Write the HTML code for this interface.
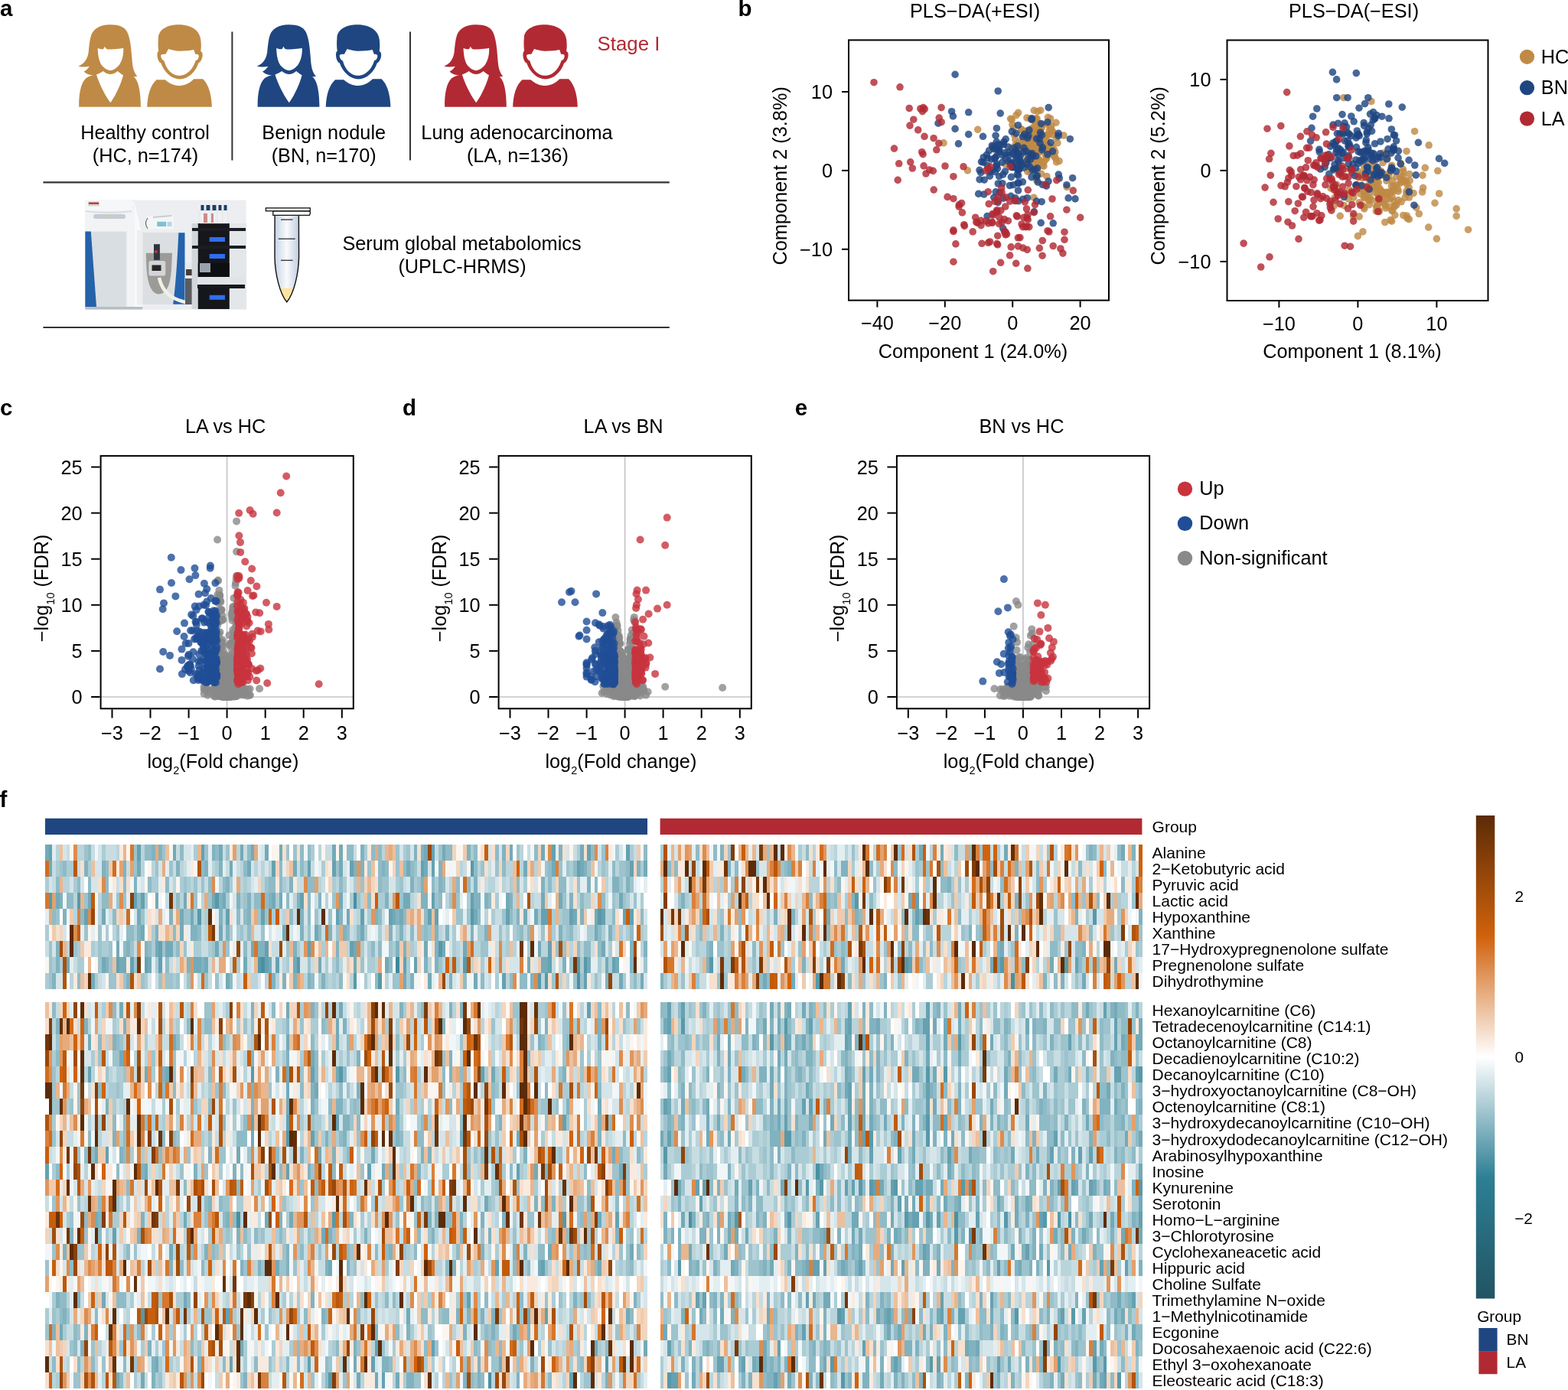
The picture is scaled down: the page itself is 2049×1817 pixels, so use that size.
<!DOCTYPE html><html><head><meta charset="utf-8"><title>Figure</title><style>html,body{margin:0;padding:0;background:#fff;overflow:hidden;width:2049px;height:1817px;}svg{display:block;}</style></head><body><svg width="2049" height="1817" viewBox="0 0 2049 1817" font-family="'Liberation Sans', Arial, Helvetica, sans-serif">
<rect width="2049" height="1817" fill="#fff"/>
<text x="0.0" y="21.2" font-size="29.5" text-anchor="start" fill="#000" font-weight="bold" >a</text>
<g transform="translate(90.00,20) scale(0.09785)" fill="#BF8A46"><path d="M300,260 C340,170 420,128 540,125 C660,122 745,150 780,225 C818,305 832,430 842,570 C850,690 862,760 915,815 C885,818 872,820 860,824 L330,800 C280,800 235,785 200,750 C230,735 255,712 275,682 C220,692 165,692 125,680 C205,650 248,585 262,495 C272,400 278,320 300,260 Z"/><path d="M135,1225 C130,1050 160,905 225,842 C255,818 290,806 330,796 L860,816 C925,868 955,980 960,1225 Z"/><path fill="#fff" d="M385,440 C420,452 445,456 462,450 L480,416 L494,442 L515,456 C600,456 680,449 728,438 C732,520 716,600 672,665 C632,712 592,736 555,738 C518,736 472,708 440,670 C404,620 388,540 385,440 Z"/><path fill="#fff" d="M368,792 C400,780 432,762 458,745 C490,770 522,786 555,788 C588,786 620,770 650,745 C680,766 702,786 726,800 C700,900 640,1050 555,1168 C470,1050 400,900 368,792 Z"/><path d="M1195,300 C1200,180 1330,125 1465,125 C1620,125 1742,190 1760,320 C1770,400 1766,450 1760,480 C1785,490 1790,520 1782,560 C1772,600 1752,628 1730,640 C1690,762 1590,852 1480,854 C1370,852 1272,762 1230,640 C1202,628 1186,590 1181,545 C1178,505 1185,486 1198,478 C1190,420 1190,360 1195,300 Z"/><path fill="#fff" d="M1290,520 L1330,450 C1400,470 1440,478 1480,478 C1560,478 1620,470 1668,460 L1690,520 C1712,514 1732,522 1736,540 C1736,580 1716,600 1692,606 C1670,692 1590,806 1480,806 C1370,806 1292,700 1274,610 C1250,600 1230,580 1228,540 C1228,522 1260,514 1290,520 Z"/><path d="M1045,1225 C1050,1062 1090,932 1170,860 L1285,860 C1340,910 1410,940 1480,940 C1550,940 1620,905 1670,852 L1790,852 C1870,930 1905,1062 1910,1225 Z"/></g>
<g transform="translate(323.50,20) scale(0.09785)" fill="#1F4681"><path d="M300,260 C340,170 420,128 540,125 C660,122 745,150 780,225 C818,305 832,430 842,570 C850,690 862,760 915,815 C885,818 872,820 860,824 L330,800 C280,800 235,785 200,750 C230,735 255,712 275,682 C220,692 165,692 125,680 C205,650 248,585 262,495 C272,400 278,320 300,260 Z"/><path d="M135,1225 C130,1050 160,905 225,842 C255,818 290,806 330,796 L860,816 C925,868 955,980 960,1225 Z"/><path fill="#fff" d="M385,440 C420,452 445,456 462,450 L480,416 L494,442 L515,456 C600,456 680,449 728,438 C732,520 716,600 672,665 C632,712 592,736 555,738 C518,736 472,708 440,670 C404,620 388,540 385,440 Z"/><path fill="#fff" d="M368,792 C400,780 432,762 458,745 C490,770 522,786 555,788 C588,786 620,770 650,745 C680,766 702,786 726,800 C700,900 640,1050 555,1168 C470,1050 400,900 368,792 Z"/><path d="M1195,300 C1200,180 1330,125 1465,125 C1620,125 1742,190 1760,320 C1770,400 1766,450 1760,480 C1785,490 1790,520 1782,560 C1772,600 1752,628 1730,640 C1690,762 1590,852 1480,854 C1370,852 1272,762 1230,640 C1202,628 1186,590 1181,545 C1178,505 1185,486 1198,478 C1190,420 1190,360 1195,300 Z"/><path fill="#fff" d="M1290,520 L1330,450 C1400,470 1440,478 1480,478 C1560,478 1620,470 1668,460 L1690,520 C1712,514 1732,522 1736,540 C1736,580 1716,600 1692,606 C1670,692 1590,806 1480,806 C1370,806 1292,700 1274,610 C1250,600 1230,580 1228,540 C1228,522 1260,514 1290,520 Z"/><path d="M1045,1225 C1050,1062 1090,932 1170,860 L1285,860 C1340,910 1410,940 1480,940 C1550,940 1620,905 1670,852 L1790,852 C1870,930 1905,1062 1910,1225 Z"/></g>
<g transform="translate(567.90,20) scale(0.09785)" fill="#B12A33"><path d="M300,260 C340,170 420,128 540,125 C660,122 745,150 780,225 C818,305 832,430 842,570 C850,690 862,760 915,815 C885,818 872,820 860,824 L330,800 C280,800 235,785 200,750 C230,735 255,712 275,682 C220,692 165,692 125,680 C205,650 248,585 262,495 C272,400 278,320 300,260 Z"/><path d="M135,1225 C130,1050 160,905 225,842 C255,818 290,806 330,796 L860,816 C925,868 955,980 960,1225 Z"/><path fill="#fff" d="M385,440 C420,452 445,456 462,450 L480,416 L494,442 L515,456 C600,456 680,449 728,438 C732,520 716,600 672,665 C632,712 592,736 555,738 C518,736 472,708 440,670 C404,620 388,540 385,440 Z"/><path fill="#fff" d="M368,792 C400,780 432,762 458,745 C490,770 522,786 555,788 C588,786 620,770 650,745 C680,766 702,786 726,800 C700,900 640,1050 555,1168 C470,1050 400,900 368,792 Z"/><path d="M1195,300 C1200,180 1330,125 1465,125 C1620,125 1742,190 1760,320 C1770,400 1766,450 1760,480 C1785,490 1790,520 1782,560 C1772,600 1752,628 1730,640 C1690,762 1590,852 1480,854 C1370,852 1272,762 1230,640 C1202,628 1186,590 1181,545 C1178,505 1185,486 1198,478 C1190,420 1190,360 1195,300 Z"/><path fill="#fff" d="M1290,520 L1330,450 C1400,470 1440,478 1480,478 C1560,478 1620,470 1668,460 L1690,520 C1712,514 1732,522 1736,540 C1736,580 1716,600 1692,606 C1670,692 1590,806 1480,806 C1370,806 1292,700 1274,610 C1250,600 1230,580 1228,540 C1228,522 1260,514 1290,520 Z"/><path d="M1045,1225 C1050,1062 1090,932 1170,860 L1285,860 C1340,910 1410,940 1480,940 C1550,940 1620,905 1670,852 L1790,852 C1870,930 1905,1062 1910,1225 Z"/></g>
<line x1="303.4" y1="41.5" x2="303.4" y2="209.6" stroke="#333" stroke-width="2"/>
<line x1="536" y1="41.5" x2="536" y2="209.6" stroke="#333" stroke-width="2"/>
<text x="780.6" y="65.5" font-size="25.8" text-anchor="start" fill="#B22A33" >Stage I</text>
<text x="189.5" y="182.1" font-size="25.3" text-anchor="middle" fill="#000" >Healthy control</text>
<text x="190.0" y="211.8" font-size="25.3" text-anchor="middle" fill="#000" >(HC, n=174)</text>
<text x="423.2" y="182.0" font-size="25.3" text-anchor="middle" fill="#000" >Benign nodule</text>
<text x="423.2" y="211.9" font-size="25.3" text-anchor="middle" fill="#000" >(BN, n=170)</text>
<text x="675.5" y="182.0" font-size="25.3" text-anchor="middle" fill="#000" >Lung adenocarcinoma</text>
<text x="676.4" y="211.8" font-size="25.3" text-anchor="middle" fill="#000" >(LA, n=136)</text>
<line x1="56.4" y1="238.4" x2="874.8" y2="238.4" stroke="#333" stroke-width="2.2"/>
<line x1="56.4" y1="428.0" x2="874.8" y2="428.0" stroke="#333" stroke-width="2.2"/>
<text x="603.5" y="327.3" font-size="25.3" text-anchor="middle" fill="#000" >Serum global metabolomics</text>
<text x="604.0" y="357.1" font-size="25.3" text-anchor="middle" fill="#000" >(UPLC-HRMS)</text>
<g><rect x="111.3" y="261.5" width="210.4" height="143.3" fill="#eceef1"/><path d="M111.3,262 L172,262 L176,266 L182,300 L186,302 L186,402 L111.3,402 Z" fill="#f1f3f5"/><path d="M170,262 L176,266 L184,300 L186,302 L186,402 L176,402 L176,270 Z" fill="#f8f9fa"/><rect x="112" y="262" width="60" height="13" fill="#f6f7f8"/><path d="M112,275 Q142,279 172,275 L172,277 Q142,281 112,277 Z" fill="#d9dde1"/><rect x="115" y="263.5" width="15" height="6" fill="#d3d6da"/><rect x="116" y="264.5" width="13" height="2.5" fill="#c73a3a"/><rect x="122" y="280" width="42" height="6" rx="3" fill="#c4cbd2"/><circle cx="132.5" cy="283" r="0.7" fill="#d9e36a"/><circle cx="136.8" cy="283" r="0.7" fill="#d9e36a"/><circle cx="141.1" cy="283" r="0.7" fill="#d9e36a"/><circle cx="145.4" cy="283" r="0.7" fill="#d9e36a"/><rect x="118.8" y="302.7" width="46.5" height="98.5" fill="#d9dee2"/><path d="M111.3,302.5 L118.8,302.5 L126,401 L111.3,401 Z" fill="#2462aa"/><rect x="111.3" y="401" width="75" height="3.5" fill="#b9bec4"/><rect x="179.1" y="301" width="62.4" height="97.6" fill="#eceef0"/><rect x="186.5" y="304" width="47" height="94" fill="#dcdfe2"/><path d="M233.3,304.3 L241.5,304.3 L241.5,397.8 L226.2,397.8 Q231,360 233.3,304.3 Z" fill="#2463ad"/><path d="M190.7,330.8 L225,330.8 L224,352 Q222,384 207.5,384.5 Q194,384 191.5,352 Z" fill="#9c9b98"/><rect x="194.4" y="341.1" width="21.9" height="19.5" rx="2.5" fill="#d3d5d7"/><rect x="198.5" y="346.5" width="12" height="7.5" fill="#262626"/><rect x="201" y="319.2" width="7.9" height="20.7" fill="#2f3440"/><circle cx="204" cy="329" r="2" fill="#c33"/><path d="M208,363 Q212,382 228,390 Q238,395 249,396" stroke="#f1f0e6" stroke-width="4.5" fill="none"/><rect x="242" y="343" width="10.5" height="21" fill="#e8eaec"/><rect x="243" y="352" width="8" height="8" fill="#4a3c36"/><rect x="242" y="364" width="10" height="34" fill="#5a5c60"/><rect x="191.1" y="282.8" width="36" height="16.6" rx="2" fill="#f3f5f6"/><rect x="205.2" y="289.8" width="11.9" height="6.2" fill="#80c0cf"/><rect x="218.5" y="290" width="6" height="6" fill="#b7d3ea"/><path d="M193,285 Q188,292 193,299" stroke="#222" stroke-width="0.8" fill="none"/><path d="M200,284 L224,282" stroke="#c9ccce" stroke-width="2"/><rect x="250.6" y="292" width="71" height="112" fill="#d3d7db"/><rect x="258.8" y="292" width="41" height="112" fill="#15171c"/><rect x="300" y="292" width="21.5" height="112" fill="#e4e7ea"/><rect x="251" y="298" width="70" height="4" fill="#1b1d22"/><rect x="251" y="321" width="70" height="4" fill="#1b1d22"/><rect x="273.7" y="310" width="20.3" height="6" fill="#2f6ef0"/><rect x="273.7" y="332" width="20.3" height="6" fill="#2f6ef0"/><rect x="273.7" y="385.8" width="20.3" height="6" fill="#2f6ef0"/><rect x="258" y="362" width="62" height="10" fill="#e1e4e7"/><rect x="258" y="372" width="62" height="5" fill="#17191d"/><rect x="258.8" y="344" width="41" height="18" fill="#0e0f12"/><rect x="261" y="344" width="14" height="12" fill="#9aa3ab"/><rect x="261" y="275" width="7" height="17" fill="#eef0f2" stroke="#d5d8dc" stroke-width="0.4"/><rect x="262.5" y="268" width="4" height="7" fill="#1f3e66"/><rect x="268" y="275" width="8" height="17" fill="#eef0f2" stroke="#d5d8dc" stroke-width="0.4"/><rect x="269.5" y="268" width="5" height="7" fill="#1f3e66"/><rect x="276" y="275" width="8" height="17" fill="#eef0f2" stroke="#d5d8dc" stroke-width="0.4"/><rect x="277.5" y="268" width="5" height="7" fill="#1f3e66"/><rect x="284" y="275" width="7" height="17" fill="#eef0f2" stroke="#d5d8dc" stroke-width="0.4"/><rect x="285.5" y="268" width="4" height="7" fill="#1f3e66"/><rect x="291" y="275" width="7" height="17" fill="#eef0f2" stroke="#d5d8dc" stroke-width="0.4"/><rect x="292.5" y="268" width="4" height="7" fill="#1f3e66"/><rect x="266" y="279" width="5" height="12" fill="#c46060" opacity="0.7"/><rect x="276" y="279" width="3" height="12" fill="#c46060" opacity="0.7"/></g>
<defs><linearGradient id="tg" x1="0" x2="1" y1="0" y2="0"><stop offset="0" stop-color="#c6d3e6"/><stop offset="0.5" stop-color="#f8fafd"/><stop offset="1" stop-color="#c0cde0"/></linearGradient><clipPath id="tclip"><path d="M359.1,281.3 L390.4,281.3 L390.6,336 C390.2,358 384,384 374.8,394.8 C365.6,384 359.4,358 359,336 Z"/></clipPath></defs><path d="M359.1,281.3 L390.4,281.3 L390.6,336 C390.2,358 384,384 374.8,394.8 C365.6,384 359.4,358 359,336 Z" fill="url(#tg)"/><rect x="355" y="376.8" width="40" height="20" fill="#fce3a2" clip-path="url(#tclip)"/><path d="M359.1,281.3 L390.4,281.3 L390.6,336 C390.2,358 384,384 374.8,394.8 C365.6,384 359.4,358 359,336 Z" fill="none" stroke="#111" stroke-width="1.4"/><path d="M356.8,275.8 L403.5,275.8 Q405.5,276 405.5,278.5 L404.5,281.3 L356.8,281.3 Z" fill="#fff" stroke="#111" stroke-width="1.3"/><rect x="347.4" y="271.9" width="57.9" height="3.9" fill="#fff" stroke="#111" stroke-width="1.3"/><g stroke="#222" stroke-width="1.2"><line x1="367" y1="287.1" x2="382.6" y2="287.1"/><line x1="363.8" y1="312.2" x2="385.7" y2="312.2"/><line x1="367" y1="340.3" x2="382.6" y2="340.3"/></g>
<text x="964.6" y="21.3" font-size="29.5" text-anchor="start" fill="#000" font-weight="bold" >b</text>
<clipPath id="clippESI"><rect x="1109" y="52.4" width="340" height="340.20000000000005"/></clipPath>
<g clip-path="url(#clippESI)">
<g fill="#BF8A46" fill-opacity="0.82"><circle cx="1277.7" cy="169.4" r="4.8"/><circle cx="1233.0" cy="186.9" r="4.8"/><circle cx="1264.4" cy="222.9" r="4.8"/><circle cx="1341.4" cy="198.9" r="4.8"/><circle cx="1348.7" cy="181.6" r="4.8"/><circle cx="1339.7" cy="188.6" r="4.8"/><circle cx="1357.4" cy="197.4" r="4.8"/><circle cx="1378.9" cy="198.9" r="4.8"/><circle cx="1348.1" cy="174.3" r="4.8"/><circle cx="1345.9" cy="194.4" r="4.8"/><circle cx="1364.6" cy="191.2" r="4.8"/><circle cx="1362.3" cy="187.4" r="4.8"/><circle cx="1358.1" cy="162.5" r="4.8"/><circle cx="1340.7" cy="173.2" r="4.8"/><circle cx="1355.9" cy="179.6" r="4.8"/><circle cx="1368.0" cy="200.1" r="4.8"/><circle cx="1333.8" cy="217.8" r="4.8"/><circle cx="1348.7" cy="167.4" r="4.8"/><circle cx="1324.4" cy="167.0" r="4.8"/><circle cx="1334.7" cy="191.0" r="4.8"/><circle cx="1325.4" cy="176.2" r="4.8"/><circle cx="1352.4" cy="171.0" r="4.8"/><circle cx="1335.1" cy="170.0" r="4.8"/><circle cx="1360.9" cy="168.0" r="4.8"/><circle cx="1359.0" cy="197.8" r="4.8"/><circle cx="1353.2" cy="155.2" r="4.8"/><circle cx="1314.1" cy="214.9" r="4.8"/><circle cx="1347.3" cy="169.3" r="4.8"/><circle cx="1355.5" cy="177.2" r="4.8"/><circle cx="1358.3" cy="169.0" r="4.8"/><circle cx="1330.6" cy="147.3" r="4.8"/><circle cx="1348.3" cy="155.8" r="4.8"/><circle cx="1339.9" cy="212.7" r="4.8"/><circle cx="1342.8" cy="224.4" r="4.8"/><circle cx="1374.2" cy="170.3" r="4.8"/><circle cx="1342.8" cy="209.8" r="4.8"/><circle cx="1355.8" cy="188.2" r="4.8"/><circle cx="1371.2" cy="169.8" r="4.8"/><circle cx="1346.5" cy="223.4" r="4.8"/><circle cx="1354.5" cy="233.5" r="4.8"/><circle cx="1358.2" cy="182.3" r="4.8"/><circle cx="1357.4" cy="187.0" r="4.8"/><circle cx="1335.8" cy="193.2" r="4.8"/><circle cx="1357.6" cy="187.1" r="4.8"/><circle cx="1379.2" cy="206.5" r="4.8"/><circle cx="1330.4" cy="220.6" r="4.8"/><circle cx="1370.8" cy="191.5" r="4.8"/><circle cx="1358.4" cy="208.9" r="4.8"/><circle cx="1345.6" cy="223.4" r="4.8"/><circle cx="1389.9" cy="177.0" r="4.8"/><circle cx="1369.2" cy="189.2" r="4.8"/><circle cx="1336.2" cy="179.1" r="4.8"/><circle cx="1357.6" cy="209.3" r="4.8"/><circle cx="1366.0" cy="202.1" r="4.8"/><circle cx="1353.2" cy="209.5" r="4.8"/><circle cx="1367.8" cy="207.1" r="4.8"/><circle cx="1355.2" cy="183.7" r="4.8"/><circle cx="1367.6" cy="204.8" r="4.8"/><circle cx="1380.5" cy="180.2" r="4.8"/><circle cx="1345.0" cy="180.6" r="4.8"/><circle cx="1359.8" cy="144.2" r="4.8"/><circle cx="1348.6" cy="218.0" r="4.8"/><circle cx="1358.5" cy="168.7" r="4.8"/><circle cx="1336.4" cy="189.8" r="4.8"/><circle cx="1346.6" cy="188.2" r="4.8"/><circle cx="1353.1" cy="219.2" r="4.8"/><circle cx="1371.4" cy="197.9" r="4.8"/><circle cx="1375.6" cy="171.9" r="4.8"/><circle cx="1334.1" cy="189.7" r="4.8"/><circle cx="1343.0" cy="186.2" r="4.8"/><circle cx="1367.2" cy="194.2" r="4.8"/><circle cx="1322.9" cy="163.0" r="4.8"/><circle cx="1348.6" cy="188.4" r="4.8"/><circle cx="1354.7" cy="235.5" r="4.8"/><circle cx="1377.5" cy="202.9" r="4.8"/><circle cx="1367.9" cy="230.5" r="4.8"/><circle cx="1350.9" cy="258.2" r="4.8"/><circle cx="1350.2" cy="199.4" r="4.8"/><circle cx="1352.1" cy="159.1" r="4.8"/><circle cx="1381.9" cy="186.9" r="4.8"/><circle cx="1349.2" cy="213.3" r="4.8"/><circle cx="1351.2" cy="208.2" r="4.8"/><circle cx="1362.3" cy="163.5" r="4.8"/><circle cx="1354.3" cy="184.5" r="4.8"/><circle cx="1353.0" cy="186.9" r="4.8"/><circle cx="1337.6" cy="189.1" r="4.8"/><circle cx="1356.2" cy="187.1" r="4.8"/><circle cx="1348.9" cy="170.5" r="4.8"/><circle cx="1375.9" cy="176.0" r="4.8"/><circle cx="1367.3" cy="183.3" r="4.8"/><circle cx="1355.9" cy="210.4" r="4.8"/><circle cx="1367.6" cy="176.9" r="4.8"/><circle cx="1350.6" cy="202.7" r="4.8"/><circle cx="1374.0" cy="164.3" r="4.8"/><circle cx="1356.3" cy="215.4" r="4.8"/><circle cx="1366.1" cy="190.9" r="4.8"/><circle cx="1334.7" cy="188.1" r="4.8"/><circle cx="1362.2" cy="216.5" r="4.8"/><circle cx="1328.0" cy="150.7" r="4.8"/><circle cx="1322.2" cy="156.4" r="4.8"/><circle cx="1351.2" cy="197.9" r="4.8"/><circle cx="1341.2" cy="171.2" r="4.8"/><circle cx="1359.1" cy="179.7" r="4.8"/><circle cx="1394.1" cy="244.4" r="4.8"/><circle cx="1342.4" cy="182.5" r="4.8"/><circle cx="1345.9" cy="189.2" r="4.8"/><circle cx="1359.8" cy="186.1" r="4.8"/><circle cx="1364.6" cy="211.2" r="4.8"/><circle cx="1353.4" cy="193.7" r="4.8"/><circle cx="1352.9" cy="191.8" r="4.8"/><circle cx="1368.1" cy="162.2" r="4.8"/><circle cx="1365.1" cy="180.7" r="4.8"/><circle cx="1339.0" cy="188.0" r="4.8"/><circle cx="1355.0" cy="154.9" r="4.8"/><circle cx="1356.9" cy="199.9" r="4.8"/><circle cx="1338.6" cy="196.3" r="4.8"/><circle cx="1360.7" cy="227.2" r="4.8"/><circle cx="1341.9" cy="154.0" r="4.8"/><circle cx="1372.7" cy="167.1" r="4.8"/><circle cx="1359.6" cy="168.1" r="4.8"/><circle cx="1357.8" cy="173.5" r="4.8"/><circle cx="1346.4" cy="185.5" r="4.8"/><circle cx="1354.4" cy="183.3" r="4.8"/><circle cx="1322.8" cy="193.4" r="4.8"/><circle cx="1337.3" cy="192.3" r="4.8"/><circle cx="1362.4" cy="186.7" r="4.8"/><circle cx="1320.6" cy="155.2" r="4.8"/><circle cx="1370.6" cy="175.9" r="4.8"/><circle cx="1327.0" cy="189.2" r="4.8"/><circle cx="1369.1" cy="200.4" r="4.8"/><circle cx="1342.1" cy="201.6" r="4.8"/><circle cx="1369.4" cy="153.3" r="4.8"/><circle cx="1358.5" cy="177.0" r="4.8"/><circle cx="1330.5" cy="186.5" r="4.8"/><circle cx="1377.3" cy="195.4" r="4.8"/><circle cx="1380.6" cy="211.9" r="4.8"/><circle cx="1355.2" cy="189.4" r="4.8"/><circle cx="1351.7" cy="169.0" r="4.8"/><circle cx="1353.7" cy="196.4" r="4.8"/><circle cx="1340.0" cy="192.8" r="4.8"/><circle cx="1374.8" cy="192.7" r="4.8"/><circle cx="1347.2" cy="185.5" r="4.8"/><circle cx="1355.5" cy="222.3" r="4.8"/><circle cx="1343.0" cy="193.0" r="4.8"/><circle cx="1345.8" cy="206.4" r="4.8"/><circle cx="1334.9" cy="168.8" r="4.8"/><circle cx="1377.5" cy="204.6" r="4.8"/><circle cx="1353.8" cy="175.4" r="4.8"/><circle cx="1372.6" cy="155.0" r="4.8"/><circle cx="1356.6" cy="194.7" r="4.8"/><circle cx="1344.7" cy="200.9" r="4.8"/><circle cx="1350.9" cy="183.8" r="4.8"/><circle cx="1346.9" cy="188.0" r="4.8"/><circle cx="1356.5" cy="209.4" r="4.8"/><circle cx="1350.0" cy="178.0" r="4.8"/><circle cx="1351.3" cy="144.4" r="4.8"/><circle cx="1333.2" cy="193.5" r="4.8"/><circle cx="1342.8" cy="192.3" r="4.8"/><circle cx="1384.1" cy="210.5" r="4.8"/><circle cx="1345.1" cy="181.0" r="4.8"/><circle cx="1338.6" cy="214.9" r="4.8"/><circle cx="1362.0" cy="211.8" r="4.8"/><circle cx="1380.0" cy="160.3" r="4.8"/><circle cx="1331.9" cy="207.5" r="4.8"/><circle cx="1352.8" cy="164.5" r="4.8"/><circle cx="1345.7" cy="155.0" r="4.8"/><circle cx="1326.8" cy="182.3" r="4.8"/><circle cx="1368.7" cy="176.0" r="4.8"/><circle cx="1356.0" cy="145.7" r="4.8"/><circle cx="1357.5" cy="192.2" r="4.8"/><circle cx="1343.7" cy="200.7" r="4.8"/><circle cx="1364.0" cy="217.2" r="4.8"/><circle cx="1347.3" cy="187.0" r="4.8"/><circle cx="1353.9" cy="156.0" r="4.8"/></g>
<g fill="#1F4681" fill-opacity="0.82"><circle cx="1248.1" cy="97.4" r="4.8"/><circle cx="1304.2" cy="119.0" r="4.8"/><circle cx="1243.6" cy="145.7" r="4.8"/><circle cx="1245.4" cy="151.9" r="4.8"/><circle cx="1226.0" cy="161.2" r="4.8"/><circle cx="1248.1" cy="168.4" r="4.8"/><circle cx="1265.7" cy="175.6" r="4.8"/><circle cx="1252.5" cy="187.9" r="4.8"/><circle cx="1398.3" cy="181.7" r="4.8"/><circle cx="1405.0" cy="259.9" r="4.8"/><circle cx="1396.1" cy="258.9" r="4.8"/><circle cx="1376.2" cy="291.8" r="4.8"/><circle cx="1345.8" cy="218.1" r="4.8"/><circle cx="1383.3" cy="228.1" r="4.8"/><circle cx="1348.3" cy="203.1" r="4.8"/><circle cx="1333.6" cy="210.7" r="4.8"/><circle cx="1285.8" cy="254.0" r="4.8"/><circle cx="1342.7" cy="208.4" r="4.8"/><circle cx="1278.7" cy="253.4" r="4.8"/><circle cx="1293.4" cy="230.2" r="4.8"/><circle cx="1355.5" cy="219.9" r="4.8"/><circle cx="1351.4" cy="276.8" r="4.8"/><circle cx="1327.9" cy="207.6" r="4.8"/><circle cx="1285.2" cy="205.7" r="4.8"/><circle cx="1321.9" cy="215.6" r="4.8"/><circle cx="1313.4" cy="224.1" r="4.8"/><circle cx="1349.5" cy="222.5" r="4.8"/><circle cx="1393.9" cy="241.7" r="4.8"/><circle cx="1338.0" cy="219.2" r="4.8"/><circle cx="1310.7" cy="228.2" r="4.8"/><circle cx="1300.0" cy="207.6" r="4.8"/><circle cx="1330.5" cy="249.0" r="4.8"/><circle cx="1327.2" cy="203.0" r="4.8"/><circle cx="1300.5" cy="206.0" r="4.8"/><circle cx="1335.2" cy="215.1" r="4.8"/><circle cx="1300.5" cy="224.6" r="4.8"/><circle cx="1362.5" cy="192.9" r="4.8"/><circle cx="1361.2" cy="263.7" r="4.8"/><circle cx="1361.8" cy="195.9" r="4.8"/><circle cx="1319.0" cy="202.8" r="4.8"/><circle cx="1346.1" cy="201.5" r="4.8"/><circle cx="1328.4" cy="198.3" r="4.8"/><circle cx="1321.4" cy="231.4" r="4.8"/><circle cx="1322.7" cy="218.8" r="4.8"/><circle cx="1296.4" cy="190.2" r="4.8"/><circle cx="1292.5" cy="196.8" r="4.8"/><circle cx="1353.8" cy="204.0" r="4.8"/><circle cx="1326.8" cy="258.9" r="4.8"/><circle cx="1338.0" cy="193.4" r="4.8"/><circle cx="1359.5" cy="173.2" r="4.8"/><circle cx="1284.5" cy="178.3" r="4.8"/><circle cx="1310.6" cy="203.1" r="4.8"/><circle cx="1336.8" cy="260.2" r="4.8"/><circle cx="1342.8" cy="180.5" r="4.8"/><circle cx="1321.7" cy="215.2" r="4.8"/><circle cx="1360.2" cy="291.3" r="4.8"/><circle cx="1337.8" cy="198.5" r="4.8"/><circle cx="1298.8" cy="258.2" r="4.8"/><circle cx="1306.5" cy="251.9" r="4.8"/><circle cx="1354.1" cy="230.8" r="4.8"/><circle cx="1344.8" cy="170.0" r="4.8"/><circle cx="1280.0" cy="222.4" r="4.8"/><circle cx="1369.0" cy="201.9" r="4.8"/><circle cx="1348.4" cy="154.8" r="4.8"/><circle cx="1368.9" cy="159.7" r="4.8"/><circle cx="1321.5" cy="213.8" r="4.8"/><circle cx="1323.9" cy="218.3" r="4.8"/><circle cx="1301.2" cy="250.8" r="4.8"/><circle cx="1401.6" cy="232.7" r="4.8"/><circle cx="1327.2" cy="197.0" r="4.8"/><circle cx="1375.5" cy="197.9" r="4.8"/><circle cx="1314.3" cy="207.0" r="4.8"/><circle cx="1336.5" cy="178.8" r="4.8"/><circle cx="1286.2" cy="235.2" r="4.8"/><circle cx="1321.5" cy="212.3" r="4.8"/><circle cx="1359.0" cy="187.2" r="4.8"/><circle cx="1297.7" cy="191.9" r="4.8"/><circle cx="1361.4" cy="176.4" r="4.8"/><circle cx="1341.3" cy="197.9" r="4.8"/><circle cx="1303.4" cy="220.4" r="4.8"/><circle cx="1318.3" cy="199.0" r="4.8"/><circle cx="1319.5" cy="242.5" r="4.8"/><circle cx="1330.7" cy="262.8" r="4.8"/><circle cx="1317.3" cy="192.0" r="4.8"/><circle cx="1309.4" cy="212.3" r="4.8"/><circle cx="1323.7" cy="200.7" r="4.8"/><circle cx="1303.9" cy="264.7" r="4.8"/><circle cx="1296.7" cy="222.2" r="4.8"/><circle cx="1330.7" cy="229.7" r="4.8"/><circle cx="1356.2" cy="238.1" r="4.8"/><circle cx="1290.1" cy="282.5" r="4.8"/><circle cx="1332.1" cy="221.2" r="4.8"/><circle cx="1314.2" cy="181.9" r="4.8"/><circle cx="1305.3" cy="198.4" r="4.8"/><circle cx="1355.4" cy="229.7" r="4.8"/><circle cx="1317.8" cy="211.0" r="4.8"/><circle cx="1373.1" cy="186.4" r="4.8"/><circle cx="1310.7" cy="298.6" r="4.8"/><circle cx="1342.6" cy="214.5" r="4.8"/><circle cx="1325.8" cy="193.2" r="4.8"/><circle cx="1311.4" cy="188.8" r="4.8"/><circle cx="1348.1" cy="156.3" r="4.8"/><circle cx="1327.8" cy="174.3" r="4.8"/><circle cx="1348.6" cy="200.6" r="4.8"/><circle cx="1330.7" cy="200.9" r="4.8"/><circle cx="1302.3" cy="185.4" r="4.8"/><circle cx="1329.2" cy="227.8" r="4.8"/><circle cx="1333.5" cy="211.8" r="4.8"/><circle cx="1358.3" cy="181.6" r="4.8"/><circle cx="1307.2" cy="148.1" r="4.8"/><circle cx="1331.0" cy="215.6" r="4.8"/><circle cx="1284.9" cy="212.1" r="4.8"/><circle cx="1349.9" cy="204.2" r="4.8"/><circle cx="1302.4" cy="167.7" r="4.8"/><circle cx="1282.5" cy="211.5" r="4.8"/><circle cx="1330.4" cy="163.7" r="4.8"/><circle cx="1362.3" cy="241.4" r="4.8"/><circle cx="1290.3" cy="216.5" r="4.8"/><circle cx="1302.2" cy="216.9" r="4.8"/><circle cx="1311.7" cy="185.5" r="4.8"/><circle cx="1301.1" cy="177.2" r="4.8"/><circle cx="1342.4" cy="258.7" r="4.8"/><circle cx="1309.9" cy="239.7" r="4.8"/><circle cx="1312.3" cy="199.8" r="4.8"/><circle cx="1348.0" cy="231.6" r="4.8"/><circle cx="1311.3" cy="259.1" r="4.8"/><circle cx="1343.9" cy="177.4" r="4.8"/><circle cx="1305.4" cy="194.8" r="4.8"/><circle cx="1298.8" cy="194.8" r="4.8"/><circle cx="1281.7" cy="225.7" r="4.8"/><circle cx="1383.0" cy="177.7" r="4.8"/><circle cx="1323.3" cy="218.2" r="4.8"/><circle cx="1338.7" cy="175.6" r="4.8"/><circle cx="1331.2" cy="239.6" r="4.8"/><circle cx="1336.4" cy="237.8" r="4.8"/><circle cx="1333.4" cy="204.0" r="4.8"/><circle cx="1384.3" cy="233.0" r="4.8"/><circle cx="1303.6" cy="189.0" r="4.8"/><circle cx="1289.4" cy="202.3" r="4.8"/><circle cx="1304.3" cy="240.0" r="4.8"/><circle cx="1295.5" cy="208.2" r="4.8"/><circle cx="1352.5" cy="221.8" r="4.8"/><circle cx="1354.5" cy="181.3" r="4.8"/><circle cx="1305.7" cy="230.7" r="4.8"/><circle cx="1293.9" cy="224.6" r="4.8"/><circle cx="1322.3" cy="171.9" r="4.8"/><circle cx="1370.2" cy="140.6" r="4.8"/><circle cx="1265.7" cy="146.8" r="4.8"/><circle cx="1346.5" cy="208.5" r="4.8"/><circle cx="1302.6" cy="203.6" r="4.8"/><circle cx="1360.6" cy="161.6" r="4.8"/><circle cx="1302.5" cy="214.5" r="4.8"/><circle cx="1324.2" cy="241.7" r="4.8"/><circle cx="1290.8" cy="206.8" r="4.8"/><circle cx="1305.3" cy="196.1" r="4.8"/><circle cx="1370.0" cy="237.0" r="4.8"/><circle cx="1354.5" cy="263.1" r="4.8"/><circle cx="1321.0" cy="256.4" r="4.8"/><circle cx="1308.2" cy="189.3" r="4.8"/><circle cx="1280.1" cy="234.7" r="4.8"/><circle cx="1321.3" cy="215.1" r="4.8"/><circle cx="1331.2" cy="203.8" r="4.8"/><circle cx="1329.7" cy="190.8" r="4.8"/><circle cx="1329.5" cy="221.2" r="4.8"/><circle cx="1301.3" cy="194.6" r="4.8"/><circle cx="1330.2" cy="238.9" r="4.8"/><circle cx="1331.0" cy="222.1" r="4.8"/><circle cx="1367.4" cy="243.2" r="4.8"/><circle cx="1383.2" cy="174.4" r="4.8"/><circle cx="1328.3" cy="211.4" r="4.8"/></g>
<g fill="#B12A33" fill-opacity="0.82"><circle cx="1142.0" cy="107.7" r="4.8"/><circle cx="1176.0" cy="113.8" r="4.8"/><circle cx="1208.3" cy="142.6" r="4.8"/><circle cx="1342.9" cy="350.8" r="4.8"/><circle cx="1256.6" cy="265.5" r="4.8"/><circle cx="1277.6" cy="291.3" r="4.8"/><circle cx="1302.4" cy="276.3" r="4.8"/><circle cx="1411.7" cy="284.4" r="4.8"/><circle cx="1352.5" cy="267.6" r="4.8"/><circle cx="1312.4" cy="286.5" r="4.8"/><circle cx="1343.3" cy="248.3" r="4.8"/><circle cx="1393.9" cy="274.2" r="4.8"/><circle cx="1307.8" cy="275.2" r="4.8"/><circle cx="1302.8" cy="274.7" r="4.8"/><circle cx="1362.1" cy="334.2" r="4.8"/><circle cx="1335.1" cy="293.0" r="4.8"/><circle cx="1341.8" cy="296.0" r="4.8"/><circle cx="1297.5" cy="281.1" r="4.8"/><circle cx="1388.9" cy="331.1" r="4.8"/><circle cx="1380.8" cy="235.6" r="4.8"/><circle cx="1337.8" cy="284.4" r="4.8"/><circle cx="1342.3" cy="326.4" r="4.8"/><circle cx="1245.9" cy="342.2" r="4.8"/><circle cx="1340.5" cy="296.7" r="4.8"/><circle cx="1309.3" cy="290.6" r="4.8"/><circle cx="1332.9" cy="310.6" r="4.8"/><circle cx="1342.2" cy="284.8" r="4.8"/><circle cx="1303.7" cy="308.2" r="4.8"/><circle cx="1253.1" cy="270.1" r="4.8"/><circle cx="1330.4" cy="310.8" r="4.8"/><circle cx="1288.7" cy="289.0" r="4.8"/><circle cx="1304.2" cy="256.5" r="4.8"/><circle cx="1293.9" cy="217.8" r="4.8"/><circle cx="1303.7" cy="319.9" r="4.8"/><circle cx="1245.9" cy="302.5" r="4.8"/><circle cx="1362.3" cy="314.5" r="4.8"/><circle cx="1326.1" cy="262.7" r="4.8"/><circle cx="1358.3" cy="324.4" r="4.8"/><circle cx="1391.0" cy="303.2" r="4.8"/><circle cx="1317.4" cy="288.7" r="4.8"/><circle cx="1248.9" cy="318.9" r="4.8"/><circle cx="1283.0" cy="318.3" r="4.8"/><circle cx="1271.2" cy="302.9" r="4.8"/><circle cx="1297.7" cy="354.7" r="4.8"/><circle cx="1319.6" cy="333.8" r="4.8"/><circle cx="1245.9" cy="300.9" r="4.8"/><circle cx="1329.4" cy="283.0" r="4.8"/><circle cx="1259.8" cy="293.7" r="4.8"/><circle cx="1327.7" cy="344.3" r="4.8"/><circle cx="1312.5" cy="302.5" r="4.8"/><circle cx="1304.8" cy="262.3" r="4.8"/><circle cx="1313.8" cy="270.0" r="4.8"/><circle cx="1296.3" cy="290.2" r="4.8"/><circle cx="1293.6" cy="316.0" r="4.8"/><circle cx="1253.3" cy="267.6" r="4.8"/><circle cx="1315.5" cy="306.2" r="4.8"/><circle cx="1385.9" cy="325.0" r="4.8"/><circle cx="1391.0" cy="313.3" r="4.8"/><circle cx="1366.2" cy="241.5" r="4.8"/><circle cx="1343.1" cy="280.7" r="4.8"/><circle cx="1291.2" cy="250.7" r="4.8"/><circle cx="1370.8" cy="303.0" r="4.8"/><circle cx="1314.5" cy="257.8" r="4.8"/><circle cx="1314.0" cy="306.9" r="4.8"/><circle cx="1305.6" cy="292.7" r="4.8"/><circle cx="1320.0" cy="217.8" r="4.8"/><circle cx="1300.2" cy="263.3" r="4.8"/><circle cx="1313.4" cy="303.7" r="4.8"/><circle cx="1275.8" cy="290.4" r="4.8"/><circle cx="1302.5" cy="277.3" r="4.8"/><circle cx="1402.3" cy="249.1" r="4.8"/><circle cx="1314.0" cy="303.3" r="4.8"/><circle cx="1307.6" cy="343.3" r="4.8"/><circle cx="1336.6" cy="296.6" r="4.8"/><circle cx="1343.2" cy="287.2" r="4.8"/><circle cx="1274.7" cy="284.2" r="4.8"/><circle cx="1308.8" cy="245.7" r="4.8"/><circle cx="1351.1" cy="277.6" r="4.8"/><circle cx="1326.7" cy="261.8" r="4.8"/><circle cx="1321.2" cy="322.9" r="4.8"/><circle cx="1375.0" cy="260.0" r="4.8"/><circle cx="1291.1" cy="220.9" r="4.8"/><circle cx="1319.7" cy="263.1" r="4.8"/><circle cx="1297.0" cy="279.6" r="4.8"/><circle cx="1372.6" cy="282.8" r="4.8"/><circle cx="1245.9" cy="230.7" r="4.8"/><circle cx="1291.4" cy="317.3" r="4.8"/><circle cx="1296.7" cy="291.3" r="4.8"/><circle cx="1341.5" cy="273.0" r="4.8"/><circle cx="1339.3" cy="264.0" r="4.8"/><circle cx="1369.0" cy="301.7" r="4.8"/><circle cx="1257.4" cy="277.9" r="4.8"/><circle cx="1344.8" cy="296.6" r="4.8"/><circle cx="1305.6" cy="283.9" r="4.8"/><circle cx="1291.6" cy="291.9" r="4.8"/><circle cx="1336.8" cy="324.1" r="4.8"/><circle cx="1282.0" cy="288.4" r="4.8"/><circle cx="1245.9" cy="259.7" r="4.8"/><circle cx="1302.7" cy="318.6" r="4.8"/><circle cx="1260.3" cy="295.4" r="4.8"/><circle cx="1292.2" cy="266.5" r="4.8"/><circle cx="1330.5" cy="321.9" r="4.8"/><circle cx="1328.3" cy="281.9" r="4.8"/><circle cx="1376.2" cy="321.5" r="4.8"/><circle cx="1309.1" cy="251.5" r="4.8"/><circle cx="1259.0" cy="217.8" r="4.8"/><circle cx="1288.2" cy="223.2" r="4.8"/><circle cx="1282.0" cy="294.7" r="4.8"/><circle cx="1220.2" cy="248.1" r="4.8"/><circle cx="1206.5" cy="140.6" r="4.8"/><circle cx="1206.1" cy="201.7" r="4.8"/><circle cx="1238.1" cy="257.4" r="4.8"/><circle cx="1174.7" cy="213.8" r="4.8"/><circle cx="1227.2" cy="154.1" r="4.8"/><circle cx="1202.8" cy="142.0" r="4.8"/><circle cx="1235.0" cy="217.0" r="4.8"/><circle cx="1208.0" cy="178.4" r="4.8"/><circle cx="1189.0" cy="164.1" r="4.8"/><circle cx="1210.0" cy="227.0" r="4.8"/><circle cx="1220.1" cy="180.7" r="4.8"/><circle cx="1204.7" cy="198.7" r="4.8"/><circle cx="1214.6" cy="222.0" r="4.8"/><circle cx="1192.3" cy="220.0" r="4.8"/><circle cx="1168.5" cy="194.1" r="4.8"/><circle cx="1223.8" cy="195.8" r="4.8"/><circle cx="1219.3" cy="223.4" r="4.8"/><circle cx="1207.1" cy="216.9" r="4.8"/><circle cx="1205.4" cy="145.6" r="4.8"/><circle cx="1226.8" cy="187.3" r="4.8"/><circle cx="1193.8" cy="156.2" r="4.8"/><circle cx="1188.2" cy="141.5" r="4.8"/><circle cx="1199.7" cy="169.9" r="4.8"/><circle cx="1230.1" cy="140.6" r="4.8"/><circle cx="1173.2" cy="235.4" r="4.8"/><circle cx="1230.2" cy="159.7" r="4.8"/><circle cx="1189.7" cy="211.9" r="4.8"/></g>
</g>
<rect x="1109" y="52.4" width="340" height="340.20000000000005" fill="none" stroke="#000" stroke-width="2"/>
<line x1="1146.4" y1="393.6" x2="1146.4" y2="401.6" stroke="#000" stroke-width="2"/>
<text x="1146.4" y="431.1" font-size="25.3" text-anchor="middle" fill="#000" >−40</text>
<line x1="1234.8" y1="393.6" x2="1234.8" y2="401.6" stroke="#000" stroke-width="2"/>
<text x="1234.8" y="431.1" font-size="25.3" text-anchor="middle" fill="#000" >−20</text>
<line x1="1323.2" y1="393.6" x2="1323.2" y2="401.6" stroke="#000" stroke-width="2"/>
<text x="1323.2" y="431.1" font-size="25.3" text-anchor="middle" fill="#000" >0</text>
<line x1="1411.6" y1="393.6" x2="1411.6" y2="401.6" stroke="#000" stroke-width="2"/>
<text x="1411.6" y="431.1" font-size="25.3" text-anchor="middle" fill="#000" >20</text>
<line x1="1108" y1="325.8" x2="1100" y2="325.8" stroke="#000" stroke-width="2"/>
<text x="1088.0" y="334.8" font-size="25.3" text-anchor="end" fill="#000" >−10</text>
<line x1="1108" y1="222.9" x2="1100" y2="222.9" stroke="#000" stroke-width="2"/>
<text x="1088.0" y="231.9" font-size="25.3" text-anchor="end" fill="#000" >0</text>
<line x1="1108" y1="120.0" x2="1100" y2="120.0" stroke="#000" stroke-width="2"/>
<text x="1088.0" y="129.0" font-size="25.3" text-anchor="end" fill="#000" >10</text>
<text x="1274.0" y="22.5" font-size="25.3" text-anchor="middle" fill="#000" >PLS−DA(+ESI)</text>
<text x="1271.4" y="468.1" font-size="25.3" text-anchor="middle" fill="#000" >Component 1 (24.0%)</text>
<text x="0" y="0" font-size="25.3" text-anchor="middle" transform="translate(1027.5,229.9) rotate(-90)">Component 2 (3.8%)</text>
<clipPath id="clipmESI"><rect x="1603.5" y="52.5" width="341.0" height="340.5"/></clipPath>
<g clip-path="url(#clipmESI)">
<g fill="#BF8A46" fill-opacity="0.82"><circle cx="1918.6" cy="300.2" r="4.8"/><circle cx="1877.4" cy="312.1" r="4.8"/><circle cx="1903.2" cy="282.4" r="4.8"/><circle cx="1903.2" cy="272.9" r="4.8"/><circle cx="1755.9" cy="127.7" r="4.8"/><circle cx="1791.9" cy="132.5" r="4.8"/><circle cx="1848.6" cy="171.7" r="4.8"/><circle cx="1774.4" cy="308.6" r="4.8"/><circle cx="1821.5" cy="243.4" r="4.8"/><circle cx="1827.2" cy="250.2" r="4.8"/><circle cx="1806.1" cy="227.6" r="4.8"/><circle cx="1838.0" cy="197.7" r="4.8"/><circle cx="1743.2" cy="222.5" r="4.8"/><circle cx="1826.7" cy="247.3" r="4.8"/><circle cx="1778.6" cy="242.7" r="4.8"/><circle cx="1836.0" cy="237.1" r="4.8"/><circle cx="1801.8" cy="263.4" r="4.8"/><circle cx="1782.8" cy="272.9" r="4.8"/><circle cx="1819.2" cy="249.1" r="4.8"/><circle cx="1782.1" cy="270.6" r="4.8"/><circle cx="1782.1" cy="251.6" r="4.8"/><circle cx="1763.2" cy="248.2" r="4.8"/><circle cx="1807.6" cy="200.1" r="4.8"/><circle cx="1822.7" cy="268.5" r="4.8"/><circle cx="1837.9" cy="252.9" r="4.8"/><circle cx="1804.3" cy="253.8" r="4.8"/><circle cx="1838.6" cy="240.9" r="4.8"/><circle cx="1808.9" cy="227.8" r="4.8"/><circle cx="1805.7" cy="260.8" r="4.8"/><circle cx="1824.9" cy="267.9" r="4.8"/><circle cx="1838.9" cy="285.4" r="4.8"/><circle cx="1798.5" cy="270.1" r="4.8"/><circle cx="1801.4" cy="238.8" r="4.8"/><circle cx="1803.8" cy="249.3" r="4.8"/><circle cx="1810.8" cy="272.0" r="4.8"/><circle cx="1782.4" cy="258.3" r="4.8"/><circle cx="1838.0" cy="249.6" r="4.8"/><circle cx="1796.8" cy="239.5" r="4.8"/><circle cx="1821.7" cy="263.0" r="4.8"/><circle cx="1784.6" cy="255.6" r="4.8"/><circle cx="1818.7" cy="289.2" r="4.8"/><circle cx="1819.7" cy="274.9" r="4.8"/><circle cx="1796.3" cy="215.6" r="4.8"/><circle cx="1866.7" cy="297.1" r="4.8"/><circle cx="1819.1" cy="257.5" r="4.8"/><circle cx="1859.6" cy="245.6" r="4.8"/><circle cx="1836.1" cy="258.3" r="4.8"/><circle cx="1789.3" cy="267.6" r="4.8"/><circle cx="1797.4" cy="251.6" r="4.8"/><circle cx="1821.0" cy="250.4" r="4.8"/><circle cx="1810.2" cy="252.0" r="4.8"/><circle cx="1809.8" cy="290.5" r="4.8"/><circle cx="1800.1" cy="253.4" r="4.8"/><circle cx="1756.2" cy="268.6" r="4.8"/><circle cx="1801.9" cy="262.0" r="4.8"/><circle cx="1744.4" cy="245.4" r="4.8"/><circle cx="1819.1" cy="236.5" r="4.8"/><circle cx="1787.5" cy="231.1" r="4.8"/><circle cx="1787.8" cy="260.9" r="4.8"/><circle cx="1802.1" cy="230.5" r="4.8"/><circle cx="1816.3" cy="225.1" r="4.8"/><circle cx="1767.1" cy="225.9" r="4.8"/><circle cx="1758.0" cy="220.5" r="4.8"/><circle cx="1777.6" cy="253.4" r="4.8"/><circle cx="1749.5" cy="254.0" r="4.8"/><circle cx="1780.5" cy="232.6" r="4.8"/><circle cx="1854.3" cy="279.5" r="4.8"/><circle cx="1777.9" cy="245.8" r="4.8"/><circle cx="1827.2" cy="261.6" r="4.8"/><circle cx="1768.8" cy="258.2" r="4.8"/><circle cx="1817.0" cy="287.6" r="4.8"/><circle cx="1799.2" cy="269.3" r="4.8"/><circle cx="1806.7" cy="250.7" r="4.8"/><circle cx="1824.8" cy="231.2" r="4.8"/><circle cx="1859.0" cy="229.1" r="4.8"/><circle cx="1814.0" cy="252.0" r="4.8"/><circle cx="1812.0" cy="254.3" r="4.8"/><circle cx="1780.3" cy="268.1" r="4.8"/><circle cx="1825.2" cy="241.7" r="4.8"/><circle cx="1801.3" cy="255.6" r="4.8"/><circle cx="1832.4" cy="237.3" r="4.8"/><circle cx="1807.1" cy="212.7" r="4.8"/><circle cx="1858.6" cy="251.0" r="4.8"/><circle cx="1751.2" cy="282.3" r="4.8"/><circle cx="1799.8" cy="268.7" r="4.8"/><circle cx="1833.8" cy="281.5" r="4.8"/><circle cx="1798.3" cy="275.9" r="4.8"/><circle cx="1785.5" cy="222.3" r="4.8"/><circle cx="1800.7" cy="245.4" r="4.8"/><circle cx="1768.6" cy="282.8" r="4.8"/><circle cx="1811.8" cy="236.3" r="4.8"/><circle cx="1878.8" cy="223.3" r="4.8"/><circle cx="1841.4" cy="258.0" r="4.8"/><circle cx="1776.4" cy="264.7" r="4.8"/><circle cx="1783.2" cy="257.5" r="4.8"/><circle cx="1796.7" cy="244.2" r="4.8"/><circle cx="1837.4" cy="236.6" r="4.8"/><circle cx="1784.7" cy="224.9" r="4.8"/><circle cx="1788.5" cy="224.3" r="4.8"/><circle cx="1833.9" cy="224.9" r="4.8"/><circle cx="1833.3" cy="221.1" r="4.8"/><circle cx="1797.6" cy="236.1" r="4.8"/><circle cx="1776.2" cy="283.1" r="4.8"/><circle cx="1763.7" cy="253.1" r="4.8"/><circle cx="1788.2" cy="243.5" r="4.8"/><circle cx="1744.1" cy="258.5" r="4.8"/><circle cx="1830.0" cy="230.8" r="4.8"/><circle cx="1790.2" cy="258.0" r="4.8"/><circle cx="1822.3" cy="270.1" r="4.8"/><circle cx="1862.3" cy="219.3" r="4.8"/><circle cx="1842.2" cy="236.0" r="4.8"/><circle cx="1775.2" cy="245.6" r="4.8"/><circle cx="1833.5" cy="230.4" r="4.8"/><circle cx="1841.8" cy="227.5" r="4.8"/><circle cx="1786.9" cy="243.0" r="4.8"/><circle cx="1780.9" cy="302.9" r="4.8"/><circle cx="1805.2" cy="264.7" r="4.8"/><circle cx="1762.2" cy="260.0" r="4.8"/><circle cx="1850.8" cy="271.4" r="4.8"/><circle cx="1739.0" cy="246.0" r="4.8"/><circle cx="1776.5" cy="224.7" r="4.8"/><circle cx="1800.6" cy="260.7" r="4.8"/><circle cx="1801.8" cy="274.6" r="4.8"/><circle cx="1813.2" cy="206.8" r="4.8"/><circle cx="1816.2" cy="259.9" r="4.8"/><circle cx="1802.2" cy="276.7" r="4.8"/><circle cx="1841.2" cy="245.2" r="4.8"/><circle cx="1746.7" cy="241.2" r="4.8"/><circle cx="1808.4" cy="265.4" r="4.8"/><circle cx="1787.8" cy="233.3" r="4.8"/><circle cx="1812.2" cy="260.7" r="4.8"/><circle cx="1814.8" cy="270.0" r="4.8"/><circle cx="1782.1" cy="246.4" r="4.8"/><circle cx="1789.9" cy="233.8" r="4.8"/><circle cx="1831.2" cy="263.8" r="4.8"/><circle cx="1818.5" cy="243.2" r="4.8"/><circle cx="1788.8" cy="252.3" r="4.8"/><circle cx="1867.2" cy="189.8" r="4.8"/><circle cx="1875.0" cy="265.4" r="4.8"/><circle cx="1766.2" cy="220.6" r="4.8"/><circle cx="1817.1" cy="251.4" r="4.8"/><circle cx="1880.7" cy="253.0" r="4.8"/><circle cx="1831.0" cy="234.8" r="4.8"/><circle cx="1814.8" cy="231.1" r="4.8"/><circle cx="1802.4" cy="223.1" r="4.8"/><circle cx="1792.8" cy="243.2" r="4.8"/><circle cx="1802.3" cy="263.1" r="4.8"/><circle cx="1792.5" cy="261.8" r="4.8"/><circle cx="1829.9" cy="239.4" r="4.8"/><circle cx="1796.9" cy="237.8" r="4.8"/><circle cx="1795.7" cy="220.3" r="4.8"/><circle cx="1773.7" cy="241.3" r="4.8"/><circle cx="1807.0" cy="227.6" r="4.8"/><circle cx="1782.6" cy="217.8" r="4.8"/><circle cx="1803.2" cy="246.7" r="4.8"/><circle cx="1838.4" cy="282.1" r="4.8"/><circle cx="1818.9" cy="275.5" r="4.8"/><circle cx="1822.9" cy="281.1" r="4.8"/><circle cx="1818.7" cy="216.2" r="4.8"/><circle cx="1810.1" cy="268.4" r="4.8"/><circle cx="1804.7" cy="223.9" r="4.8"/><circle cx="1799.5" cy="237.7" r="4.8"/><circle cx="1830.3" cy="213.5" r="4.8"/><circle cx="1777.1" cy="228.8" r="4.8"/><circle cx="1847.1" cy="252.5" r="4.8"/><circle cx="1809.4" cy="254.6" r="4.8"/><circle cx="1786.8" cy="248.4" r="4.8"/><circle cx="1794.3" cy="246.5" r="4.8"/><circle cx="1788.9" cy="261.6" r="4.8"/><circle cx="1813.0" cy="251.0" r="4.8"/><circle cx="1787.7" cy="215.8" r="4.8"/><circle cx="1841.3" cy="286.7" r="4.8"/><circle cx="1785.8" cy="244.7" r="4.8"/><circle cx="1742.9" cy="269.7" r="4.8"/></g>
<g fill="#1F4681" fill-opacity="0.82"><circle cx="1741.4" cy="94.4" r="4.8"/><circle cx="1772.3" cy="95.6" r="4.8"/><circle cx="1746.6" cy="103.9" r="4.8"/><circle cx="1720.8" cy="142.0" r="4.8"/><circle cx="1880.5" cy="207.4" r="4.8"/><circle cx="1887.7" cy="213.4" r="4.8"/><circle cx="1765.0" cy="220.4" r="4.8"/><circle cx="1796.6" cy="187.8" r="4.8"/><circle cx="1785.3" cy="198.3" r="4.8"/><circle cx="1714.0" cy="167.4" r="4.8"/><circle cx="1761.1" cy="127.7" r="4.8"/><circle cx="1786.3" cy="172.5" r="4.8"/><circle cx="1820.6" cy="196.5" r="4.8"/><circle cx="1788.0" cy="200.2" r="4.8"/><circle cx="1787.2" cy="219.0" r="4.8"/><circle cx="1744.2" cy="220.3" r="4.8"/><circle cx="1817.4" cy="223.0" r="4.8"/><circle cx="1827.1" cy="206.4" r="4.8"/><circle cx="1781.3" cy="207.2" r="4.8"/><circle cx="1774.9" cy="175.2" r="4.8"/><circle cx="1738.9" cy="206.5" r="4.8"/><circle cx="1803.3" cy="200.9" r="4.8"/><circle cx="1850.2" cy="228.9" r="4.8"/><circle cx="1799.0" cy="150.5" r="4.8"/><circle cx="1813.1" cy="181.7" r="4.8"/><circle cx="1794.5" cy="146.6" r="4.8"/><circle cx="1755.2" cy="173.7" r="4.8"/><circle cx="1815.0" cy="154.8" r="4.8"/><circle cx="1748.8" cy="202.3" r="4.8"/><circle cx="1775.2" cy="175.9" r="4.8"/><circle cx="1787.8" cy="127.7" r="4.8"/><circle cx="1803.3" cy="229.0" r="4.8"/><circle cx="1791.3" cy="163.3" r="4.8"/><circle cx="1790.5" cy="149.1" r="4.8"/><circle cx="1761.0" cy="184.0" r="4.8"/><circle cx="1747.4" cy="174.6" r="4.8"/><circle cx="1782.2" cy="160.5" r="4.8"/><circle cx="1762.3" cy="213.9" r="4.8"/><circle cx="1746.9" cy="184.1" r="4.8"/><circle cx="1748.0" cy="219.8" r="4.8"/><circle cx="1768.0" cy="214.4" r="4.8"/><circle cx="1732.9" cy="212.8" r="4.8"/><circle cx="1745.9" cy="199.5" r="4.8"/><circle cx="1738.5" cy="191.4" r="4.8"/><circle cx="1785.3" cy="182.9" r="4.8"/><circle cx="1791.1" cy="235.2" r="4.8"/><circle cx="1832.3" cy="140.1" r="4.8"/><circle cx="1742.0" cy="163.1" r="4.8"/><circle cx="1763.1" cy="175.2" r="4.8"/><circle cx="1804.1" cy="205.6" r="4.8"/><circle cx="1775.0" cy="198.0" r="4.8"/><circle cx="1772.2" cy="180.2" r="4.8"/><circle cx="1824.6" cy="184.0" r="4.8"/><circle cx="1771.9" cy="242.6" r="4.8"/><circle cx="1750.8" cy="174.7" r="4.8"/><circle cx="1746.7" cy="127.7" r="4.8"/><circle cx="1789.2" cy="247.3" r="4.8"/><circle cx="1788.4" cy="167.6" r="4.8"/><circle cx="1745.3" cy="185.2" r="4.8"/><circle cx="1755.2" cy="198.7" r="4.8"/><circle cx="1794.3" cy="157.0" r="4.8"/><circle cx="1795.4" cy="228.7" r="4.8"/><circle cx="1764.0" cy="191.0" r="4.8"/><circle cx="1796.6" cy="154.4" r="4.8"/><circle cx="1795.3" cy="201.1" r="4.8"/><circle cx="1734.7" cy="207.3" r="4.8"/><circle cx="1772.5" cy="192.3" r="4.8"/><circle cx="1791.3" cy="208.0" r="4.8"/><circle cx="1765.8" cy="152.0" r="4.8"/><circle cx="1725.5" cy="221.0" r="4.8"/><circle cx="1773.3" cy="171.0" r="4.8"/><circle cx="1799.9" cy="230.7" r="4.8"/><circle cx="1821.3" cy="176.7" r="4.8"/><circle cx="1724.2" cy="198.5" r="4.8"/><circle cx="1847.9" cy="268.2" r="4.8"/><circle cx="1751.6" cy="195.7" r="4.8"/><circle cx="1805.2" cy="225.5" r="4.8"/><circle cx="1812.4" cy="208.0" r="4.8"/><circle cx="1805.9" cy="152.2" r="4.8"/><circle cx="1784.4" cy="227.0" r="4.8"/><circle cx="1750.7" cy="225.4" r="4.8"/><circle cx="1796.7" cy="155.0" r="4.8"/><circle cx="1762.2" cy="192.3" r="4.8"/><circle cx="1715.6" cy="152.2" r="4.8"/><circle cx="1853.4" cy="186.4" r="4.8"/><circle cx="1798.8" cy="220.4" r="4.8"/><circle cx="1827.4" cy="197.4" r="4.8"/><circle cx="1757.1" cy="160.9" r="4.8"/><circle cx="1818.4" cy="169.0" r="4.8"/><circle cx="1821.5" cy="195.5" r="4.8"/><circle cx="1820.6" cy="194.2" r="4.8"/><circle cx="1780.0" cy="198.7" r="4.8"/><circle cx="1749.6" cy="211.8" r="4.8"/><circle cx="1776.0" cy="141.2" r="4.8"/><circle cx="1723.9" cy="195.3" r="4.8"/><circle cx="1736.8" cy="227.4" r="4.8"/><circle cx="1782.9" cy="209.0" r="4.8"/><circle cx="1755.1" cy="175.1" r="4.8"/><circle cx="1776.3" cy="177.5" r="4.8"/><circle cx="1777.8" cy="199.4" r="4.8"/><circle cx="1830.3" cy="214.3" r="4.8"/><circle cx="1814.0" cy="194.9" r="4.8"/><circle cx="1779.4" cy="242.6" r="4.8"/><circle cx="1811.7" cy="232.2" r="4.8"/><circle cx="1760.5" cy="173.0" r="4.8"/><circle cx="1771.9" cy="209.0" r="4.8"/><circle cx="1804.0" cy="185.0" r="4.8"/><circle cx="1748.6" cy="161.2" r="4.8"/><circle cx="1773.4" cy="177.2" r="4.8"/><circle cx="1746.6" cy="195.0" r="4.8"/><circle cx="1783.6" cy="135.6" r="4.8"/><circle cx="1822.6" cy="176.7" r="4.8"/><circle cx="1761.2" cy="205.5" r="4.8"/><circle cx="1786.4" cy="174.9" r="4.8"/><circle cx="1757.5" cy="184.1" r="4.8"/><circle cx="1751.0" cy="219.6" r="4.8"/><circle cx="1748.8" cy="193.5" r="4.8"/><circle cx="1818.0" cy="200.2" r="4.8"/><circle cx="1841.4" cy="250.9" r="4.8"/><circle cx="1793.0" cy="200.4" r="4.8"/><circle cx="1762.1" cy="203.5" r="4.8"/><circle cx="1798.7" cy="207.9" r="4.8"/><circle cx="1772.0" cy="241.8" r="4.8"/><circle cx="1801.2" cy="205.5" r="4.8"/><circle cx="1788.1" cy="196.6" r="4.8"/><circle cx="1787.8" cy="192.7" r="4.8"/><circle cx="1796.2" cy="227.5" r="4.8"/><circle cx="1765.7" cy="177.7" r="4.8"/><circle cx="1770.2" cy="229.7" r="4.8"/><circle cx="1736.3" cy="201.8" r="4.8"/><circle cx="1769.2" cy="158.8" r="4.8"/><circle cx="1744.0" cy="215.0" r="4.8"/><circle cx="1776.9" cy="209.9" r="4.8"/><circle cx="1755.9" cy="165.3" r="4.8"/><circle cx="1783.2" cy="206.3" r="4.8"/><circle cx="1792.3" cy="203.9" r="4.8"/><circle cx="1744.0" cy="189.3" r="4.8"/><circle cx="1759.6" cy="166.0" r="4.8"/><circle cx="1756.3" cy="257.5" r="4.8"/><circle cx="1799.8" cy="218.8" r="4.8"/><circle cx="1824.5" cy="223.9" r="4.8"/><circle cx="1802.5" cy="226.0" r="4.8"/><circle cx="1771.6" cy="219.6" r="4.8"/><circle cx="1818.3" cy="219.1" r="4.8"/><circle cx="1741.6" cy="187.1" r="4.8"/><circle cx="1819.2" cy="220.5" r="4.8"/><circle cx="1763.7" cy="192.1" r="4.8"/><circle cx="1712.6" cy="184.3" r="4.8"/><circle cx="1848.8" cy="216.0" r="4.8"/><circle cx="1821.2" cy="191.9" r="4.8"/><circle cx="1754.0" cy="149.6" r="4.8"/><circle cx="1784.9" cy="186.5" r="4.8"/><circle cx="1775.1" cy="213.4" r="4.8"/><circle cx="1783.2" cy="197.4" r="4.8"/><circle cx="1742.4" cy="221.2" r="4.8"/><circle cx="1763.0" cy="187.9" r="4.8"/><circle cx="1792.6" cy="171.4" r="4.8"/><circle cx="1786.3" cy="218.5" r="4.8"/><circle cx="1811.5" cy="201.4" r="4.8"/><circle cx="1782.6" cy="164.4" r="4.8"/><circle cx="1841.1" cy="209.4" r="4.8"/><circle cx="1762.1" cy="190.3" r="4.8"/><circle cx="1787.3" cy="224.2" r="4.8"/><circle cx="1731.2" cy="218.4" r="4.8"/><circle cx="1748.3" cy="209.9" r="4.8"/><circle cx="1814.8" cy="136.0" r="4.8"/><circle cx="1756.3" cy="206.7" r="4.8"/><circle cx="1794.2" cy="210.0" r="4.8"/><circle cx="1779.0" cy="210.9" r="4.8"/><circle cx="1753.7" cy="200.1" r="4.8"/></g>
<g fill="#B12A33" fill-opacity="0.82"><circle cx="1625.1" cy="318.1" r="4.8"/><circle cx="1647.7" cy="349.0" r="4.8"/><circle cx="1659.0" cy="335.9" r="4.8"/><circle cx="1681.7" cy="120.6" r="4.8"/><circle cx="1656.0" cy="168.2" r="4.8"/><circle cx="1737.9" cy="266.9" r="4.8"/><circle cx="1748.4" cy="252.5" r="4.8"/><circle cx="1683.0" cy="290.2" r="4.8"/><circle cx="1725.0" cy="287.7" r="4.8"/><circle cx="1726.9" cy="281.9" r="4.8"/><circle cx="1721.3" cy="254.4" r="4.8"/><circle cx="1660.3" cy="229.2" r="4.8"/><circle cx="1757.2" cy="321.2" r="4.8"/><circle cx="1716.7" cy="216.0" r="4.8"/><circle cx="1715.1" cy="282.7" r="4.8"/><circle cx="1720.9" cy="278.7" r="4.8"/><circle cx="1721.8" cy="218.5" r="4.8"/><circle cx="1742.1" cy="244.5" r="4.8"/><circle cx="1688.5" cy="295.0" r="4.8"/><circle cx="1699.4" cy="178.3" r="4.8"/><circle cx="1738.4" cy="271.6" r="4.8"/><circle cx="1733.7" cy="233.4" r="4.8"/><circle cx="1717.1" cy="235.0" r="4.8"/><circle cx="1710.8" cy="193.2" r="4.8"/><circle cx="1702.4" cy="257.7" r="4.8"/><circle cx="1727.2" cy="207.2" r="4.8"/><circle cx="1766.8" cy="267.5" r="4.8"/><circle cx="1695.3" cy="203.2" r="4.8"/><circle cx="1777.7" cy="268.3" r="4.8"/><circle cx="1756.0" cy="254.4" r="4.8"/><circle cx="1714.6" cy="176.5" r="4.8"/><circle cx="1754.1" cy="231.0" r="4.8"/><circle cx="1682.3" cy="238.2" r="4.8"/><circle cx="1673.8" cy="164.6" r="4.8"/><circle cx="1687.9" cy="229.5" r="4.8"/><circle cx="1716.0" cy="270.1" r="4.8"/><circle cx="1718.7" cy="216.6" r="4.8"/><circle cx="1712.6" cy="282.7" r="4.8"/><circle cx="1732.3" cy="203.0" r="4.8"/><circle cx="1660.9" cy="200.3" r="4.8"/><circle cx="1744.9" cy="261.7" r="4.8"/><circle cx="1683.8" cy="263.6" r="4.8"/><circle cx="1708.0" cy="235.8" r="4.8"/><circle cx="1715.9" cy="241.5" r="4.8"/><circle cx="1692.2" cy="275.7" r="4.8"/><circle cx="1685.3" cy="222.3" r="4.8"/><circle cx="1697.0" cy="312.4" r="4.8"/><circle cx="1728.7" cy="256.9" r="4.8"/><circle cx="1747.9" cy="255.9" r="4.8"/><circle cx="1747.1" cy="251.4" r="4.8"/><circle cx="1697.3" cy="231.3" r="4.8"/><circle cx="1703.8" cy="284.3" r="4.8"/><circle cx="1699.7" cy="221.6" r="4.8"/><circle cx="1743.4" cy="248.2" r="4.8"/><circle cx="1664.0" cy="264.4" r="4.8"/><circle cx="1768.6" cy="289.1" r="4.8"/><circle cx="1713.6" cy="282.8" r="4.8"/><circle cx="1704.1" cy="229.5" r="4.8"/><circle cx="1739.9" cy="275.2" r="4.8"/><circle cx="1762.1" cy="239.7" r="4.8"/><circle cx="1740.0" cy="205.3" r="4.8"/><circle cx="1762.7" cy="206.3" r="4.8"/><circle cx="1733.4" cy="188.1" r="4.8"/><circle cx="1768.3" cy="252.2" r="4.8"/><circle cx="1768.8" cy="279.4" r="4.8"/><circle cx="1725.9" cy="206.7" r="4.8"/><circle cx="1775.0" cy="231.3" r="4.8"/><circle cx="1734.3" cy="203.2" r="4.8"/><circle cx="1731.9" cy="241.6" r="4.8"/><circle cx="1699.7" cy="200.7" r="4.8"/><circle cx="1719.9" cy="212.7" r="4.8"/><circle cx="1753.9" cy="217.2" r="4.8"/><circle cx="1687.2" cy="224.6" r="4.8"/><circle cx="1749.8" cy="228.2" r="4.8"/><circle cx="1740.2" cy="233.9" r="4.8"/><circle cx="1737.9" cy="234.1" r="4.8"/><circle cx="1658.6" cy="207.8" r="4.8"/><circle cx="1725.8" cy="259.6" r="4.8"/><circle cx="1749.8" cy="182.0" r="4.8"/><circle cx="1704.7" cy="245.6" r="4.8"/><circle cx="1732.0" cy="207.9" r="4.8"/><circle cx="1653.1" cy="245.1" r="4.8"/><circle cx="1750.5" cy="250.5" r="4.8"/><circle cx="1707.9" cy="171.8" r="4.8"/><circle cx="1756.9" cy="252.6" r="4.8"/><circle cx="1670.2" cy="286.0" r="4.8"/><circle cx="1751.2" cy="266.6" r="4.8"/><circle cx="1721.5" cy="252.9" r="4.8"/><circle cx="1754.9" cy="167.6" r="4.8"/><circle cx="1699.5" cy="234.8" r="4.8"/><circle cx="1709.3" cy="209.7" r="4.8"/><circle cx="1800.7" cy="276.5" r="4.8"/><circle cx="1702.6" cy="229.8" r="4.8"/><circle cx="1706.5" cy="218.8" r="4.8"/><circle cx="1720.2" cy="179.8" r="4.8"/><circle cx="1696.4" cy="266.0" r="4.8"/><circle cx="1767.1" cy="221.1" r="4.8"/><circle cx="1784.2" cy="231.5" r="4.8"/><circle cx="1706.6" cy="277.2" r="4.8"/><circle cx="1674.0" cy="242.6" r="4.8"/><circle cx="1766.5" cy="251.0" r="4.8"/><circle cx="1764.5" cy="322.2" r="4.8"/><circle cx="1755.3" cy="221.3" r="4.8"/><circle cx="1766.0" cy="223.3" r="4.8"/><circle cx="1701.4" cy="257.1" r="4.8"/><circle cx="1723.7" cy="288.1" r="4.8"/><circle cx="1684.9" cy="190.9" r="4.8"/><circle cx="1683.8" cy="232.8" r="4.8"/><circle cx="1760.4" cy="206.9" r="4.8"/><circle cx="1707.6" cy="193.3" r="4.8"/><circle cx="1801.9" cy="259.9" r="4.8"/><circle cx="1731.4" cy="213.9" r="4.8"/><circle cx="1708.6" cy="250.3" r="4.8"/><circle cx="1754.6" cy="244.1" r="4.8"/><circle cx="1786.6" cy="244.9" r="4.8"/><circle cx="1744.6" cy="242.0" r="4.8"/><circle cx="1690.2" cy="203.5" r="4.8"/><circle cx="1740.9" cy="237.7" r="4.8"/><circle cx="1773.0" cy="247.2" r="4.8"/><circle cx="1713.3" cy="251.5" r="4.8"/><circle cx="1704.4" cy="230.2" r="4.8"/><circle cx="1761.5" cy="272.8" r="4.8"/><circle cx="1733.5" cy="259.3" r="4.8"/><circle cx="1693.9" cy="243.7" r="4.8"/><circle cx="1717.0" cy="261.5" r="4.8"/><circle cx="1705.0" cy="246.0" r="4.8"/><circle cx="1738.5" cy="263.0" r="4.8"/><circle cx="1732.6" cy="172.8" r="4.8"/><circle cx="1765.8" cy="196.1" r="4.8"/><circle cx="1751.7" cy="226.4" r="4.8"/><circle cx="1679.2" cy="243.8" r="4.8"/><circle cx="1742.1" cy="166.3" r="4.8"/><circle cx="1757.7" cy="230.8" r="4.8"/><circle cx="1743.6" cy="244.9" r="4.8"/><circle cx="1762.0" cy="231.5" r="4.8"/><circle cx="1711.5" cy="231.4" r="4.8"/></g>
</g>
<rect x="1603.5" y="52.5" width="341.0" height="340.5" fill="none" stroke="#000" stroke-width="2"/>
<line x1="1671.4" y1="394" x2="1671.4" y2="402" stroke="#000" stroke-width="2"/>
<text x="1671.4" y="431.5" font-size="25.3" text-anchor="middle" fill="#000" >−10</text>
<line x1="1774.4" y1="394" x2="1774.4" y2="402" stroke="#000" stroke-width="2"/>
<text x="1774.4" y="431.5" font-size="25.3" text-anchor="middle" fill="#000" >0</text>
<line x1="1877.4" y1="394" x2="1877.4" y2="402" stroke="#000" stroke-width="2"/>
<text x="1877.4" y="431.5" font-size="25.3" text-anchor="middle" fill="#000" >10</text>
<line x1="1602.5" y1="341.9" x2="1594.5" y2="341.9" stroke="#000" stroke-width="2"/>
<text x="1582.5" y="350.9" font-size="25.3" text-anchor="end" fill="#000" >−10</text>
<line x1="1602.5" y1="222.9" x2="1594.5" y2="222.9" stroke="#000" stroke-width="2"/>
<text x="1582.5" y="231.9" font-size="25.3" text-anchor="end" fill="#000" >0</text>
<line x1="1602.5" y1="103.9" x2="1594.5" y2="103.9" stroke="#000" stroke-width="2"/>
<text x="1582.5" y="112.9" font-size="25.3" text-anchor="end" fill="#000" >10</text>
<text x="1769.0" y="22.5" font-size="25.3" text-anchor="middle" fill="#000" >PLS−DA(−ESI)</text>
<text x="1767.0" y="468.1" font-size="25.3" text-anchor="middle" fill="#000" >Component 1 (8.1%)</text>
<text x="0" y="0" font-size="25.3" text-anchor="middle" transform="translate(1521.5,229.9) rotate(-90)">Component 2 (5.2%)</text>
<circle cx="1995.5" cy="74.3" r="9.6" fill="#BF8A46"/>
<text x="2013.8" y="82.7" font-size="25.3" text-anchor="start" fill="#000" >HC</text>
<circle cx="1995.5" cy="114.7" r="9.6" fill="#1F4681"/>
<text x="2013.8" y="123.1" font-size="25.3" text-anchor="start" fill="#000" >BN</text>
<circle cx="1995.5" cy="155.1" r="9.6" fill="#B12A33"/>
<text x="2013.8" y="163.5" font-size="25.3" text-anchor="start" fill="#000" >LA</text>
<text x="0.0" y="543.2" font-size="29.5" text-anchor="start" fill="#000" font-weight="bold" >c</text>
<line x1="131.6" y1="911.0" x2="461.8" y2="911.0" stroke="#c4c4c4" stroke-width="1.6"/>
<line x1="296.6" y1="595.9" x2="296.6" y2="926.3" stroke="#c4c4c4" stroke-width="1.6"/>
<g fill="#8A8A8A" fill-opacity="0.8"><circle cx="307.2" cy="872.1" r="5.0"/><circle cx="296.5" cy="906.4" r="5.0"/><circle cx="290.0" cy="902.3" r="5.0"/><circle cx="301.8" cy="898.1" r="5.0"/><circle cx="289.1" cy="910.7" r="5.0"/><circle cx="294.1" cy="909.3" r="5.0"/><circle cx="296.2" cy="909.0" r="5.0"/><circle cx="303.5" cy="902.6" r="5.0"/><circle cx="306.0" cy="861.9" r="5.0"/><circle cx="288.3" cy="843.1" r="5.0"/><circle cx="294.0" cy="908.5" r="5.0"/><circle cx="286.1" cy="897.1" r="5.0"/><circle cx="297.6" cy="903.9" r="5.0"/><circle cx="295.8" cy="908.0" r="5.0"/><circle cx="294.0" cy="909.5" r="5.0"/><circle cx="291.5" cy="857.3" r="5.0"/><circle cx="293.7" cy="895.5" r="5.0"/><circle cx="291.0" cy="883.3" r="5.0"/><circle cx="300.6" cy="902.4" r="5.0"/><circle cx="308.0" cy="896.6" r="5.0"/><circle cx="295.7" cy="904.0" r="5.0"/><circle cx="293.5" cy="906.9" r="5.0"/><circle cx="300.3" cy="910.4" r="5.0"/><circle cx="289.5" cy="893.3" r="5.0"/><circle cx="295.5" cy="905.8" r="5.0"/><circle cx="288.8" cy="887.2" r="5.0"/><circle cx="301.8" cy="873.2" r="5.0"/><circle cx="297.3" cy="907.5" r="5.0"/><circle cx="295.4" cy="898.2" r="5.0"/><circle cx="299.4" cy="899.2" r="5.0"/><circle cx="294.7" cy="906.2" r="5.0"/><circle cx="284.9" cy="888.0" r="5.0"/><circle cx="301.1" cy="885.9" r="5.0"/><circle cx="298.8" cy="869.2" r="5.0"/><circle cx="295.4" cy="891.2" r="5.0"/><circle cx="304.0" cy="840.4" r="5.0"/><circle cx="305.7" cy="885.4" r="5.0"/><circle cx="288.4" cy="888.4" r="5.0"/><circle cx="290.7" cy="903.7" r="5.0"/><circle cx="308.2" cy="855.4" r="5.0"/><circle cx="307.3" cy="902.4" r="5.0"/><circle cx="291.1" cy="880.2" r="5.0"/><circle cx="287.7" cy="890.3" r="5.0"/><circle cx="291.8" cy="908.1" r="5.0"/><circle cx="292.9" cy="905.6" r="5.0"/><circle cx="284.7" cy="841.6" r="5.0"/><circle cx="296.8" cy="893.8" r="5.0"/><circle cx="287.0" cy="870.3" r="5.0"/><circle cx="287.5" cy="826.4" r="5.0"/><circle cx="303.5" cy="810.9" r="5.0"/><circle cx="291.5" cy="906.1" r="5.0"/><circle cx="296.1" cy="892.2" r="5.0"/><circle cx="301.3" cy="904.2" r="5.0"/><circle cx="302.7" cy="889.6" r="5.0"/><circle cx="294.1" cy="907.8" r="5.0"/><circle cx="296.9" cy="906.1" r="5.0"/><circle cx="290.4" cy="893.9" r="5.0"/><circle cx="301.5" cy="903.9" r="5.0"/><circle cx="288.3" cy="787.1" r="5.0"/><circle cx="296.6" cy="896.7" r="5.0"/><circle cx="302.0" cy="909.2" r="5.0"/><circle cx="300.2" cy="910.1" r="5.0"/><circle cx="306.9" cy="910.3" r="5.0"/><circle cx="292.6" cy="891.3" r="5.0"/><circle cx="295.9" cy="908.7" r="5.0"/><circle cx="287.0" cy="778.1" r="5.0"/><circle cx="298.5" cy="900.5" r="5.0"/><circle cx="297.7" cy="898.6" r="5.0"/><circle cx="297.3" cy="909.7" r="5.0"/><circle cx="291.6" cy="892.7" r="5.0"/><circle cx="297.4" cy="910.9" r="5.0"/><circle cx="287.2" cy="810.7" r="5.0"/><circle cx="290.1" cy="882.9" r="5.0"/><circle cx="293.9" cy="903.2" r="5.0"/><circle cx="299.2" cy="909.2" r="5.0"/><circle cx="295.4" cy="902.3" r="5.0"/><circle cx="289.9" cy="887.9" r="5.0"/><circle cx="302.5" cy="893.1" r="5.0"/><circle cx="292.5" cy="904.7" r="5.0"/><circle cx="292.9" cy="893.5" r="5.0"/><circle cx="286.2" cy="856.4" r="5.0"/><circle cx="290.7" cy="890.4" r="5.0"/><circle cx="301.5" cy="841.1" r="5.0"/><circle cx="284.5" cy="806.7" r="5.0"/><circle cx="296.1" cy="897.3" r="5.0"/><circle cx="302.0" cy="888.5" r="5.0"/><circle cx="293.8" cy="873.5" r="5.0"/><circle cx="298.4" cy="900.0" r="5.0"/><circle cx="288.2" cy="840.6" r="5.0"/><circle cx="306.4" cy="907.8" r="5.0"/><circle cx="304.9" cy="899.5" r="5.0"/><circle cx="298.4" cy="870.4" r="5.0"/><circle cx="288.7" cy="907.8" r="5.0"/><circle cx="303.9" cy="905.5" r="5.0"/><circle cx="309.5" cy="779.4" r="5.0"/><circle cx="298.8" cy="897.5" r="5.0"/><circle cx="306.0" cy="904.0" r="5.0"/><circle cx="292.0" cy="881.4" r="5.0"/><circle cx="295.2" cy="898.5" r="5.0"/><circle cx="296.6" cy="907.7" r="5.0"/><circle cx="299.8" cy="880.1" r="5.0"/><circle cx="285.1" cy="895.5" r="5.0"/><circle cx="303.7" cy="905.6" r="5.0"/><circle cx="306.5" cy="902.9" r="5.0"/><circle cx="288.0" cy="870.0" r="5.0"/><circle cx="286.4" cy="771.7" r="5.0"/><circle cx="299.2" cy="843.3" r="5.0"/><circle cx="291.7" cy="910.8" r="5.0"/><circle cx="302.7" cy="910.1" r="5.0"/><circle cx="297.8" cy="906.5" r="5.0"/><circle cx="293.0" cy="895.2" r="5.0"/><circle cx="297.6" cy="905.3" r="5.0"/><circle cx="290.9" cy="868.4" r="5.0"/><circle cx="297.4" cy="889.1" r="5.0"/><circle cx="288.8" cy="839.8" r="5.0"/><circle cx="290.9" cy="888.0" r="5.0"/><circle cx="299.5" cy="910.9" r="5.0"/><circle cx="292.4" cy="908.5" r="5.0"/><circle cx="293.2" cy="861.4" r="5.0"/><circle cx="309.1" cy="790.6" r="5.0"/><circle cx="303.1" cy="902.2" r="5.0"/><circle cx="302.6" cy="899.7" r="5.0"/><circle cx="300.6" cy="907.7" r="5.0"/><circle cx="300.2" cy="889.6" r="5.0"/><circle cx="307.5" cy="891.7" r="5.0"/><circle cx="296.5" cy="903.3" r="5.0"/><circle cx="289.5" cy="900.1" r="5.0"/><circle cx="294.7" cy="909.1" r="5.0"/><circle cx="286.3" cy="779.2" r="5.0"/><circle cx="294.0" cy="902.5" r="5.0"/><circle cx="300.5" cy="903.3" r="5.0"/><circle cx="307.5" cy="874.1" r="5.0"/><circle cx="291.6" cy="893.9" r="5.0"/><circle cx="296.6" cy="908.5" r="5.0"/><circle cx="293.9" cy="857.8" r="5.0"/><circle cx="291.1" cy="907.6" r="5.0"/><circle cx="287.7" cy="861.7" r="5.0"/><circle cx="297.1" cy="897.1" r="5.0"/><circle cx="283.6" cy="832.0" r="5.0"/><circle cx="297.4" cy="904.2" r="5.0"/><circle cx="296.8" cy="910.2" r="5.0"/><circle cx="291.7" cy="909.8" r="5.0"/><circle cx="289.0" cy="879.6" r="5.0"/><circle cx="286.2" cy="904.7" r="5.0"/><circle cx="286.5" cy="870.8" r="5.0"/><circle cx="308.3" cy="894.2" r="5.0"/><circle cx="301.1" cy="885.6" r="5.0"/><circle cx="293.9" cy="906.5" r="5.0"/><circle cx="287.9" cy="856.2" r="5.0"/><circle cx="304.4" cy="906.8" r="5.0"/><circle cx="309.6" cy="849.6" r="5.0"/><circle cx="289.6" cy="893.6" r="5.0"/><circle cx="294.4" cy="894.4" r="5.0"/><circle cx="304.5" cy="860.5" r="5.0"/><circle cx="299.1" cy="880.4" r="5.0"/><circle cx="292.3" cy="892.1" r="5.0"/><circle cx="300.7" cy="906.1" r="5.0"/><circle cx="287.2" cy="778.1" r="5.0"/><circle cx="291.1" cy="809.8" r="5.0"/><circle cx="295.7" cy="882.1" r="5.0"/><circle cx="295.6" cy="896.4" r="5.0"/><circle cx="294.1" cy="906.6" r="5.0"/><circle cx="296.5" cy="900.0" r="5.0"/><circle cx="301.1" cy="870.2" r="5.0"/><circle cx="308.5" cy="881.6" r="5.0"/><circle cx="296.1" cy="901.9" r="5.0"/><circle cx="304.4" cy="906.0" r="5.0"/><circle cx="300.5" cy="909.5" r="5.0"/><circle cx="294.4" cy="903.3" r="5.0"/><circle cx="297.2" cy="910.0" r="5.0"/><circle cx="296.8" cy="908.9" r="5.0"/><circle cx="289.7" cy="898.1" r="5.0"/><circle cx="305.7" cy="837.8" r="5.0"/><circle cx="286.2" cy="828.7" r="5.0"/><circle cx="305.4" cy="839.6" r="5.0"/><circle cx="303.8" cy="896.4" r="5.0"/><circle cx="295.9" cy="903.1" r="5.0"/><circle cx="290.9" cy="904.9" r="5.0"/><circle cx="294.9" cy="910.4" r="5.0"/><circle cx="300.1" cy="900.0" r="5.0"/><circle cx="302.2" cy="907.0" r="5.0"/><circle cx="298.8" cy="906.2" r="5.0"/><circle cx="304.0" cy="879.1" r="5.0"/><circle cx="292.4" cy="876.7" r="5.0"/><circle cx="298.4" cy="904.5" r="5.0"/><circle cx="284.8" cy="836.4" r="5.0"/><circle cx="302.3" cy="886.3" r="5.0"/><circle cx="297.7" cy="910.0" r="5.0"/><circle cx="293.5" cy="910.5" r="5.0"/><circle cx="305.3" cy="889.4" r="5.0"/><circle cx="301.8" cy="895.9" r="5.0"/><circle cx="296.9" cy="908.8" r="5.0"/><circle cx="285.7" cy="897.9" r="5.0"/><circle cx="304.6" cy="887.9" r="5.0"/><circle cx="292.7" cy="902.2" r="5.0"/><circle cx="297.2" cy="868.9" r="5.0"/><circle cx="294.7" cy="910.1" r="5.0"/><circle cx="299.2" cy="894.1" r="5.0"/><circle cx="301.4" cy="878.5" r="5.0"/><circle cx="306.3" cy="895.4" r="5.0"/><circle cx="289.2" cy="797.9" r="5.0"/><circle cx="308.4" cy="861.8" r="5.0"/><circle cx="289.6" cy="844.4" r="5.0"/><circle cx="298.7" cy="910.2" r="5.0"/><circle cx="305.3" cy="894.3" r="5.0"/><circle cx="302.0" cy="860.9" r="5.0"/><circle cx="289.6" cy="797.1" r="5.0"/><circle cx="291.3" cy="903.5" r="5.0"/><circle cx="293.1" cy="872.5" r="5.0"/><circle cx="296.2" cy="910.0" r="5.0"/><circle cx="305.2" cy="909.8" r="5.0"/><circle cx="286.9" cy="883.4" r="5.0"/><circle cx="300.1" cy="900.6" r="5.0"/><circle cx="301.2" cy="883.6" r="5.0"/><circle cx="300.8" cy="908.0" r="5.0"/><circle cx="300.1" cy="864.4" r="5.0"/><circle cx="308.0" cy="761.8" r="5.0"/><circle cx="300.3" cy="881.6" r="5.0"/><circle cx="303.0" cy="849.3" r="5.0"/><circle cx="300.8" cy="902.6" r="5.0"/><circle cx="306.2" cy="905.1" r="5.0"/><circle cx="294.6" cy="900.5" r="5.0"/><circle cx="294.5" cy="909.2" r="5.0"/><circle cx="289.3" cy="903.0" r="5.0"/><circle cx="293.7" cy="902.2" r="5.0"/><circle cx="291.4" cy="888.0" r="5.0"/><circle cx="300.3" cy="882.7" r="5.0"/><circle cx="285.5" cy="873.6" r="5.0"/><circle cx="307.3" cy="839.3" r="5.0"/><circle cx="298.6" cy="881.1" r="5.0"/><circle cx="294.7" cy="874.5" r="5.0"/><circle cx="291.3" cy="883.0" r="5.0"/><circle cx="290.7" cy="875.2" r="5.0"/><circle cx="288.1" cy="877.0" r="5.0"/><circle cx="292.5" cy="893.9" r="5.0"/><circle cx="296.6" cy="897.0" r="5.0"/><circle cx="295.3" cy="901.4" r="5.0"/><circle cx="286.0" cy="896.6" r="5.0"/><circle cx="294.6" cy="909.2" r="5.0"/><circle cx="289.9" cy="886.3" r="5.0"/><circle cx="297.8" cy="878.7" r="5.0"/><circle cx="301.3" cy="892.5" r="5.0"/><circle cx="294.2" cy="910.0" r="5.0"/><circle cx="284.4" cy="777.4" r="5.0"/><circle cx="286.0" cy="908.4" r="5.0"/><circle cx="283.9" cy="817.8" r="5.0"/><circle cx="302.1" cy="886.0" r="5.0"/><circle cx="290.9" cy="884.8" r="5.0"/><circle cx="297.1" cy="910.9" r="5.0"/><circle cx="291.9" cy="910.3" r="5.0"/><circle cx="297.3" cy="905.6" r="5.0"/><circle cx="307.1" cy="892.5" r="5.0"/><circle cx="291.5" cy="896.8" r="5.0"/><circle cx="294.0" cy="899.9" r="5.0"/><circle cx="290.5" cy="909.6" r="5.0"/><circle cx="303.2" cy="905.2" r="5.0"/><circle cx="288.9" cy="885.3" r="5.0"/><circle cx="288.1" cy="785.3" r="5.0"/><circle cx="286.2" cy="897.0" r="5.0"/><circle cx="286.0" cy="841.6" r="5.0"/><circle cx="300.1" cy="857.2" r="5.0"/><circle cx="289.1" cy="903.1" r="5.0"/><circle cx="303.7" cy="877.9" r="5.0"/><circle cx="298.5" cy="905.7" r="5.0"/><circle cx="288.3" cy="858.2" r="5.0"/><circle cx="294.5" cy="891.4" r="5.0"/><circle cx="294.9" cy="909.2" r="5.0"/><circle cx="291.4" cy="883.1" r="5.0"/><circle cx="299.5" cy="906.4" r="5.0"/><circle cx="299.1" cy="873.9" r="5.0"/><circle cx="292.2" cy="909.9" r="5.0"/><circle cx="297.7" cy="904.7" r="5.0"/><circle cx="303.2" cy="800.8" r="5.0"/><circle cx="297.7" cy="910.8" r="5.0"/><circle cx="299.7" cy="900.9" r="5.0"/><circle cx="301.8" cy="903.2" r="5.0"/><circle cx="307.7" cy="872.3" r="5.0"/><circle cx="304.0" cy="906.1" r="5.0"/><circle cx="304.2" cy="793.4" r="5.0"/><circle cx="286.0" cy="902.0" r="5.0"/><circle cx="295.7" cy="900.7" r="5.0"/><circle cx="290.5" cy="804.8" r="5.0"/><circle cx="292.2" cy="906.8" r="5.0"/><circle cx="303.9" cy="897.7" r="5.0"/><circle cx="290.6" cy="872.4" r="5.0"/><circle cx="295.6" cy="910.8" r="5.0"/><circle cx="295.4" cy="900.0" r="5.0"/><circle cx="297.3" cy="907.5" r="5.0"/><circle cx="291.3" cy="902.7" r="5.0"/><circle cx="291.2" cy="879.9" r="5.0"/><circle cx="287.5" cy="907.2" r="5.0"/><circle cx="288.7" cy="906.4" r="5.0"/><circle cx="290.5" cy="890.8" r="5.0"/><circle cx="305.6" cy="792.8" r="5.0"/><circle cx="299.1" cy="908.9" r="5.0"/><circle cx="291.2" cy="899.1" r="5.0"/><circle cx="293.4" cy="910.8" r="5.0"/><circle cx="304.6" cy="887.9" r="5.0"/><circle cx="289.8" cy="898.0" r="5.0"/><circle cx="307.5" cy="810.5" r="5.0"/><circle cx="307.2" cy="802.0" r="5.0"/><circle cx="297.1" cy="902.7" r="5.0"/><circle cx="301.5" cy="840.9" r="5.0"/><circle cx="302.2" cy="890.5" r="5.0"/><circle cx="308.3" cy="885.8" r="5.0"/><circle cx="288.7" cy="889.5" r="5.0"/><circle cx="305.5" cy="878.7" r="5.0"/><circle cx="293.8" cy="883.8" r="5.0"/><circle cx="290.8" cy="869.9" r="5.0"/><circle cx="297.4" cy="884.7" r="5.0"/><circle cx="295.0" cy="893.9" r="5.0"/><circle cx="289.2" cy="905.7" r="5.0"/><circle cx="284.6" cy="874.2" r="5.0"/><circle cx="289.5" cy="909.5" r="5.0"/><circle cx="307.5" cy="765.8" r="5.0"/><circle cx="301.5" cy="910.3" r="5.0"/><circle cx="305.5" cy="887.4" r="5.0"/><circle cx="292.7" cy="893.9" r="5.0"/><circle cx="296.0" cy="858.9" r="5.0"/><circle cx="298.7" cy="869.1" r="5.0"/><circle cx="288.5" cy="904.2" r="5.0"/><circle cx="289.2" cy="892.6" r="5.0"/><circle cx="297.3" cy="905.4" r="5.0"/><circle cx="294.2" cy="909.2" r="5.0"/><circle cx="288.6" cy="847.0" r="5.0"/><circle cx="299.5" cy="893.7" r="5.0"/><circle cx="294.6" cy="903.0" r="5.0"/><circle cx="304.3" cy="823.2" r="5.0"/><circle cx="296.6" cy="906.0" r="5.0"/><circle cx="294.3" cy="900.6" r="5.0"/><circle cx="297.6" cy="899.6" r="5.0"/><circle cx="295.3" cy="907.9" r="5.0"/><circle cx="291.6" cy="903.7" r="5.0"/><circle cx="293.6" cy="902.9" r="5.0"/><circle cx="302.2" cy="900.3" r="5.0"/><circle cx="301.5" cy="908.2" r="5.0"/><circle cx="306.3" cy="851.5" r="5.0"/><circle cx="283.9" cy="891.4" r="5.0"/><circle cx="293.6" cy="900.3" r="5.0"/><circle cx="293.5" cy="909.8" r="5.0"/><circle cx="297.9" cy="897.5" r="5.0"/><circle cx="293.2" cy="893.9" r="5.0"/><circle cx="292.7" cy="874.9" r="5.0"/><circle cx="302.5" cy="890.9" r="5.0"/><circle cx="297.9" cy="869.9" r="5.0"/><circle cx="287.8" cy="907.8" r="5.0"/><circle cx="306.6" cy="865.2" r="5.0"/><circle cx="304.1" cy="888.1" r="5.0"/><circle cx="292.3" cy="900.7" r="5.0"/><circle cx="302.8" cy="890.2" r="5.0"/><circle cx="291.1" cy="850.4" r="5.0"/><circle cx="305.1" cy="872.8" r="5.0"/><circle cx="295.0" cy="905.8" r="5.0"/><circle cx="290.6" cy="893.4" r="5.0"/><circle cx="293.8" cy="903.0" r="5.0"/><circle cx="290.9" cy="910.4" r="5.0"/><circle cx="298.0" cy="904.2" r="5.0"/><circle cx="297.9" cy="879.7" r="5.0"/><circle cx="296.9" cy="876.4" r="5.0"/><circle cx="292.4" cy="874.3" r="5.0"/><circle cx="297.3" cy="905.1" r="5.0"/><circle cx="298.4" cy="883.8" r="5.0"/><circle cx="305.1" cy="884.3" r="5.0"/><circle cx="298.7" cy="899.7" r="5.0"/><circle cx="293.7" cy="900.0" r="5.0"/><circle cx="295.2" cy="908.9" r="5.0"/><circle cx="295.6" cy="882.5" r="5.0"/><circle cx="292.5" cy="891.9" r="5.0"/><circle cx="292.2" cy="872.2" r="5.0"/><circle cx="289.7" cy="905.0" r="5.0"/><circle cx="305.5" cy="781.9" r="5.0"/><circle cx="296.5" cy="896.4" r="5.0"/><circle cx="303.8" cy="905.5" r="5.0"/><circle cx="294.7" cy="909.6" r="5.0"/><circle cx="297.1" cy="890.8" r="5.0"/><circle cx="295.3" cy="907.2" r="5.0"/><circle cx="300.1" cy="908.6" r="5.0"/><circle cx="302.8" cy="803.9" r="5.0"/><circle cx="298.4" cy="907.2" r="5.0"/><circle cx="291.5" cy="864.7" r="5.0"/><circle cx="290.7" cy="870.4" r="5.0"/><circle cx="309.1" cy="816.0" r="5.0"/><circle cx="294.5" cy="902.0" r="5.0"/><circle cx="294.4" cy="907.5" r="5.0"/><circle cx="307.6" cy="837.3" r="5.0"/><circle cx="304.8" cy="873.0" r="5.0"/><circle cx="300.6" cy="875.8" r="5.0"/><circle cx="293.6" cy="906.9" r="5.0"/><circle cx="299.6" cy="830.3" r="5.0"/><circle cx="300.7" cy="890.8" r="5.0"/><circle cx="295.3" cy="886.1" r="5.0"/><circle cx="286.0" cy="811.8" r="5.0"/><circle cx="286.6" cy="856.2" r="5.0"/><circle cx="299.7" cy="901.1" r="5.0"/><circle cx="299.5" cy="894.7" r="5.0"/><circle cx="294.8" cy="910.1" r="5.0"/><circle cx="287.8" cy="909.4" r="5.0"/><circle cx="285.8" cy="889.3" r="5.0"/><circle cx="294.1" cy="903.4" r="5.0"/><circle cx="285.7" cy="910.3" r="5.0"/><circle cx="303.3" cy="903.6" r="5.0"/><circle cx="305.3" cy="901.6" r="5.0"/><circle cx="303.2" cy="807.2" r="5.0"/><circle cx="292.1" cy="892.7" r="5.0"/><circle cx="290.1" cy="893.0" r="5.0"/><circle cx="292.1" cy="883.8" r="5.0"/><circle cx="295.3" cy="901.4" r="5.0"/><circle cx="303.9" cy="797.5" r="5.0"/><circle cx="301.2" cy="907.4" r="5.0"/><circle cx="301.0" cy="885.1" r="5.0"/><circle cx="298.2" cy="910.2" r="5.0"/><circle cx="301.6" cy="910.8" r="5.0"/><circle cx="307.5" cy="808.7" r="5.0"/><circle cx="288.6" cy="907.6" r="5.0"/><circle cx="293.2" cy="904.2" r="5.0"/><circle cx="286.2" cy="894.0" r="5.0"/><circle cx="308.8" cy="896.3" r="5.0"/><circle cx="306.3" cy="896.5" r="5.0"/><circle cx="302.2" cy="863.8" r="5.0"/><circle cx="287.6" cy="883.5" r="5.0"/><circle cx="297.9" cy="907.5" r="5.0"/><circle cx="294.8" cy="905.2" r="5.0"/><circle cx="297.2" cy="907.7" r="5.0"/><circle cx="295.2" cy="908.7" r="5.0"/><circle cx="300.5" cy="890.6" r="5.0"/><circle cx="293.6" cy="899.2" r="5.0"/><circle cx="303.0" cy="893.3" r="5.0"/><circle cx="298.4" cy="892.1" r="5.0"/><circle cx="294.4" cy="910.2" r="5.0"/><circle cx="295.8" cy="904.2" r="5.0"/><circle cx="293.3" cy="871.1" r="5.0"/><circle cx="302.7" cy="904.2" r="5.0"/><circle cx="294.6" cy="910.9" r="5.0"/><circle cx="298.8" cy="909.2" r="5.0"/><circle cx="293.7" cy="892.3" r="5.0"/><circle cx="285.5" cy="906.4" r="5.0"/><circle cx="303.4" cy="909.0" r="5.0"/><circle cx="288.7" cy="869.9" r="5.0"/><circle cx="301.7" cy="910.7" r="5.0"/><circle cx="299.8" cy="910.1" r="5.0"/><circle cx="284.2" cy="831.1" r="5.0"/><circle cx="289.5" cy="886.2" r="5.0"/><circle cx="292.7" cy="910.5" r="5.0"/><circle cx="290.4" cy="845.5" r="5.0"/><circle cx="287.7" cy="902.2" r="5.0"/><circle cx="302.2" cy="896.3" r="5.0"/><circle cx="294.8" cy="902.3" r="5.0"/><circle cx="299.5" cy="909.0" r="5.0"/><circle cx="293.4" cy="899.9" r="5.0"/><circle cx="298.9" cy="892.3" r="5.0"/><circle cx="291.0" cy="865.5" r="5.0"/><circle cx="296.4" cy="908.7" r="5.0"/><circle cx="301.0" cy="878.7" r="5.0"/><circle cx="296.9" cy="905.6" r="5.0"/><circle cx="293.2" cy="891.9" r="5.0"/><circle cx="288.4" cy="875.1" r="5.0"/><circle cx="297.9" cy="908.0" r="5.0"/><circle cx="299.2" cy="905.4" r="5.0"/><circle cx="294.7" cy="897.1" r="5.0"/><circle cx="290.8" cy="901.8" r="5.0"/><circle cx="300.7" cy="882.1" r="5.0"/><circle cx="294.3" cy="891.2" r="5.0"/><circle cx="299.1" cy="902.6" r="5.0"/><circle cx="299.4" cy="903.3" r="5.0"/><circle cx="297.5" cy="901.0" r="5.0"/><circle cx="291.3" cy="873.4" r="5.0"/><circle cx="307.0" cy="904.1" r="5.0"/><circle cx="294.7" cy="910.1" r="5.0"/><circle cx="290.8" cy="836.2" r="5.0"/><circle cx="295.0" cy="903.1" r="5.0"/><circle cx="297.9" cy="907.5" r="5.0"/><circle cx="292.4" cy="898.9" r="5.0"/><circle cx="296.2" cy="907.0" r="5.0"/><circle cx="286.4" cy="903.0" r="5.0"/><circle cx="294.9" cy="907.8" r="5.0"/><circle cx="302.4" cy="906.9" r="5.0"/><circle cx="301.9" cy="870.9" r="5.0"/><circle cx="298.6" cy="910.2" r="5.0"/><circle cx="305.5" cy="890.7" r="5.0"/><circle cx="304.3" cy="896.3" r="5.0"/><circle cx="309.1" cy="870.2" r="5.0"/><circle cx="304.7" cy="905.7" r="5.0"/><circle cx="295.7" cy="895.7" r="5.0"/><circle cx="298.5" cy="903.9" r="5.0"/><circle cx="297.9" cy="907.2" r="5.0"/><circle cx="298.9" cy="898.2" r="5.0"/><circle cx="298.1" cy="893.0" r="5.0"/><circle cx="290.7" cy="843.0" r="5.0"/><circle cx="291.6" cy="855.3" r="5.0"/><circle cx="297.1" cy="909.2" r="5.0"/><circle cx="296.6" cy="908.2" r="5.0"/><circle cx="284.0" cy="870.2" r="5.0"/><circle cx="301.8" cy="874.2" r="5.0"/><circle cx="303.1" cy="887.7" r="5.0"/><circle cx="297.3" cy="894.0" r="5.0"/><circle cx="309.1" cy="752.7" r="5.0"/><circle cx="287.5" cy="796.8" r="5.0"/><circle cx="304.4" cy="860.8" r="5.0"/><circle cx="299.9" cy="907.9" r="5.0"/><circle cx="299.7" cy="906.0" r="5.0"/><circle cx="303.6" cy="881.3" r="5.0"/><circle cx="291.2" cy="810.4" r="5.0"/><circle cx="292.2" cy="875.1" r="5.0"/><circle cx="290.4" cy="885.0" r="5.0"/><circle cx="290.9" cy="886.8" r="5.0"/><circle cx="295.9" cy="903.7" r="5.0"/><circle cx="285.7" cy="864.1" r="5.0"/><circle cx="288.7" cy="906.5" r="5.0"/><circle cx="300.9" cy="894.7" r="5.0"/><circle cx="296.1" cy="910.8" r="5.0"/><circle cx="299.5" cy="897.2" r="5.0"/><circle cx="290.7" cy="839.8" r="5.0"/><circle cx="292.4" cy="907.8" r="5.0"/><circle cx="296.8" cy="899.3" r="5.0"/><circle cx="292.2" cy="897.1" r="5.0"/><circle cx="303.6" cy="900.6" r="5.0"/><circle cx="296.2" cy="900.8" r="5.0"/><circle cx="296.7" cy="909.8" r="5.0"/><circle cx="296.7" cy="904.2" r="5.0"/><circle cx="301.9" cy="856.6" r="5.0"/><circle cx="293.1" cy="879.0" r="5.0"/><circle cx="305.0" cy="893.4" r="5.0"/><circle cx="300.1" cy="900.7" r="5.0"/><circle cx="297.8" cy="902.9" r="5.0"/><circle cx="296.9" cy="910.8" r="5.0"/><circle cx="300.5" cy="903.5" r="5.0"/><circle cx="304.2" cy="859.0" r="5.0"/><circle cx="303.7" cy="894.2" r="5.0"/><circle cx="299.4" cy="910.2" r="5.0"/><circle cx="303.2" cy="865.8" r="5.0"/><circle cx="297.5" cy="898.8" r="5.0"/><circle cx="306.0" cy="881.1" r="5.0"/><circle cx="296.4" cy="902.3" r="5.0"/><circle cx="306.6" cy="871.8" r="5.0"/><circle cx="297.4" cy="894.5" r="5.0"/><circle cx="287.8" cy="854.7" r="5.0"/><circle cx="295.1" cy="911.0" r="5.0"/><circle cx="290.0" cy="881.0" r="5.0"/><circle cx="300.3" cy="907.9" r="5.0"/><circle cx="284.8" cy="872.2" r="5.0"/><circle cx="300.7" cy="896.4" r="5.0"/><circle cx="293.6" cy="890.6" r="5.0"/><circle cx="288.7" cy="838.2" r="5.0"/><circle cx="297.1" cy="906.4" r="5.0"/><circle cx="294.0" cy="888.0" r="5.0"/><circle cx="293.5" cy="875.2" r="5.0"/><circle cx="299.8" cy="904.7" r="5.0"/><circle cx="309.2" cy="800.9" r="5.0"/><circle cx="305.4" cy="905.0" r="5.0"/><circle cx="292.3" cy="910.9" r="5.0"/><circle cx="299.9" cy="881.5" r="5.0"/><circle cx="295.2" cy="902.5" r="5.0"/><circle cx="304.9" cy="889.8" r="5.0"/><circle cx="300.5" cy="903.3" r="5.0"/><circle cx="292.2" cy="910.1" r="5.0"/><circle cx="301.9" cy="872.6" r="5.0"/><circle cx="292.8" cy="907.3" r="5.0"/><circle cx="294.0" cy="855.8" r="5.0"/><circle cx="292.0" cy="902.8" r="5.0"/><circle cx="299.1" cy="900.6" r="5.0"/><circle cx="284.9" cy="759.3" r="5.0"/><circle cx="286.4" cy="907.4" r="5.0"/><circle cx="292.8" cy="887.4" r="5.0"/><circle cx="292.7" cy="905.5" r="5.0"/><circle cx="297.1" cy="905.2" r="5.0"/><circle cx="305.0" cy="826.7" r="5.0"/><circle cx="293.0" cy="896.5" r="5.0"/><circle cx="300.3" cy="910.3" r="5.0"/><circle cx="301.1" cy="904.1" r="5.0"/><circle cx="288.5" cy="906.8" r="5.0"/><circle cx="298.3" cy="910.8" r="5.0"/><circle cx="289.5" cy="892.4" r="5.0"/><circle cx="304.6" cy="897.9" r="5.0"/><circle cx="300.0" cy="893.2" r="5.0"/><circle cx="296.7" cy="905.9" r="5.0"/><circle cx="286.5" cy="903.8" r="5.0"/><circle cx="297.5" cy="882.1" r="5.0"/><circle cx="290.8" cy="906.7" r="5.0"/><circle cx="301.9" cy="890.5" r="5.0"/><circle cx="295.7" cy="907.1" r="5.0"/><circle cx="290.5" cy="907.0" r="5.0"/><circle cx="303.5" cy="891.8" r="5.0"/><circle cx="302.0" cy="898.6" r="5.0"/><circle cx="292.1" cy="910.9" r="5.0"/><circle cx="305.3" cy="805.7" r="5.0"/><circle cx="294.4" cy="888.4" r="5.0"/><circle cx="294.3" cy="906.5" r="5.0"/><circle cx="297.5" cy="905.1" r="5.0"/><circle cx="290.9" cy="867.4" r="5.0"/><circle cx="293.3" cy="873.2" r="5.0"/><circle cx="295.4" cy="871.8" r="5.0"/><circle cx="308.1" cy="863.0" r="5.0"/><circle cx="307.9" cy="819.0" r="5.0"/><circle cx="294.7" cy="896.0" r="5.0"/><circle cx="308.7" cy="756.2" r="5.0"/><circle cx="296.3" cy="906.4" r="5.0"/><circle cx="299.5" cy="895.6" r="5.0"/><circle cx="303.2" cy="869.3" r="5.0"/><circle cx="298.8" cy="873.9" r="5.0"/><circle cx="298.4" cy="907.6" r="5.0"/><circle cx="287.6" cy="877.9" r="5.0"/><circle cx="306.4" cy="797.3" r="5.0"/><circle cx="293.5" cy="901.5" r="5.0"/><circle cx="294.3" cy="898.1" r="5.0"/><circle cx="304.1" cy="902.1" r="5.0"/><circle cx="302.7" cy="900.5" r="5.0"/><circle cx="302.6" cy="909.4" r="5.0"/><circle cx="303.9" cy="834.0" r="5.0"/><circle cx="309.3" cy="899.2" r="5.0"/><circle cx="296.3" cy="906.2" r="5.0"/><circle cx="303.6" cy="895.5" r="5.0"/><circle cx="291.0" cy="902.8" r="5.0"/><circle cx="293.9" cy="910.5" r="5.0"/><circle cx="304.5" cy="891.4" r="5.0"/><circle cx="299.5" cy="905.0" r="5.0"/><circle cx="286.6" cy="901.5" r="5.0"/><circle cx="299.3" cy="906.2" r="5.0"/><circle cx="295.2" cy="903.8" r="5.0"/><circle cx="290.5" cy="897.4" r="5.0"/><circle cx="299.9" cy="884.9" r="5.0"/><circle cx="293.6" cy="909.6" r="5.0"/><circle cx="284.8" cy="758.6" r="5.0"/><circle cx="288.3" cy="878.6" r="5.0"/><circle cx="285.2" cy="788.3" r="5.0"/><circle cx="298.3" cy="901.6" r="5.0"/><circle cx="301.2" cy="901.4" r="5.0"/><circle cx="301.4" cy="843.5" r="5.0"/><circle cx="287.4" cy="812.4" r="5.0"/><circle cx="294.2" cy="886.6" r="5.0"/><circle cx="297.7" cy="868.7" r="5.0"/><circle cx="302.6" cy="891.7" r="5.0"/><circle cx="291.8" cy="906.4" r="5.0"/><circle cx="287.9" cy="898.6" r="5.0"/><circle cx="304.1" cy="861.6" r="5.0"/><circle cx="304.9" cy="855.7" r="5.0"/><circle cx="299.4" cy="909.0" r="5.0"/><circle cx="292.0" cy="892.3" r="5.0"/><circle cx="299.7" cy="893.6" r="5.0"/><circle cx="297.4" cy="909.5" r="5.0"/><circle cx="302.9" cy="803.2" r="5.0"/><circle cx="287.2" cy="779.2" r="5.0"/><circle cx="297.5" cy="888.3" r="5.0"/><circle cx="295.4" cy="908.4" r="5.0"/><circle cx="288.3" cy="886.2" r="5.0"/><circle cx="298.2" cy="906.7" r="5.0"/><circle cx="296.9" cy="910.5" r="5.0"/><circle cx="293.5" cy="903.8" r="5.0"/><circle cx="299.6" cy="908.7" r="5.0"/><circle cx="285.9" cy="837.1" r="5.0"/><circle cx="296.2" cy="905.9" r="5.0"/><circle cx="313.4" cy="898.1" r="5.0"/><circle cx="315.4" cy="906.5" r="5.0"/><circle cx="300.4" cy="896.7" r="5.0"/><circle cx="282.1" cy="899.7" r="5.0"/><circle cx="294.9" cy="907.0" r="5.0"/><circle cx="287.0" cy="903.3" r="5.0"/><circle cx="317.0" cy="908.6" r="5.0"/><circle cx="301.0" cy="904.9" r="5.0"/><circle cx="303.5" cy="910.6" r="5.0"/><circle cx="291.0" cy="900.8" r="5.0"/><circle cx="268.4" cy="902.1" r="5.0"/><circle cx="285.8" cy="906.9" r="5.0"/><circle cx="281.0" cy="910.8" r="5.0"/><circle cx="301.8" cy="896.9" r="5.0"/><circle cx="298.0" cy="909.1" r="5.0"/><circle cx="285.4" cy="906.1" r="5.0"/><circle cx="291.2" cy="910.6" r="5.0"/><circle cx="318.6" cy="905.2" r="5.0"/><circle cx="283.2" cy="905.0" r="5.0"/><circle cx="283.7" cy="903.0" r="5.0"/><circle cx="293.4" cy="906.1" r="5.0"/><circle cx="286.8" cy="907.2" r="5.0"/><circle cx="290.6" cy="899.2" r="5.0"/><circle cx="304.0" cy="906.8" r="5.0"/><circle cx="320.9" cy="906.0" r="5.0"/><circle cx="271.7" cy="903.6" r="5.0"/><circle cx="296.3" cy="906.9" r="5.0"/><circle cx="297.2" cy="900.1" r="5.0"/><circle cx="295.4" cy="909.7" r="5.0"/><circle cx="294.0" cy="906.1" r="5.0"/><circle cx="291.8" cy="904.7" r="5.0"/><circle cx="310.7" cy="907.1" r="5.0"/><circle cx="290.1" cy="898.4" r="5.0"/><circle cx="294.8" cy="905.7" r="5.0"/><circle cx="296.6" cy="904.7" r="5.0"/><circle cx="298.1" cy="904.0" r="5.0"/><circle cx="294.2" cy="898.5" r="5.0"/><circle cx="310.6" cy="907.7" r="5.0"/><circle cx="296.5" cy="898.5" r="5.0"/><circle cx="299.0" cy="896.8" r="5.0"/><circle cx="295.9" cy="907.0" r="5.0"/><circle cx="282.5" cy="908.5" r="5.0"/><circle cx="285.0" cy="899.1" r="5.0"/><circle cx="281.9" cy="906.3" r="5.0"/><circle cx="299.3" cy="907.6" r="5.0"/><circle cx="286.6" cy="909.8" r="5.0"/><circle cx="281.7" cy="901.8" r="5.0"/><circle cx="299.9" cy="896.9" r="5.0"/><circle cx="304.0" cy="897.8" r="5.0"/><circle cx="271.9" cy="902.2" r="5.0"/><circle cx="320.3" cy="904.4" r="5.0"/><circle cx="297.1" cy="896.3" r="5.0"/><circle cx="295.1" cy="901.1" r="5.0"/><circle cx="311.5" cy="896.6" r="5.0"/><circle cx="297.6" cy="900.7" r="5.0"/><circle cx="288.1" cy="900.5" r="5.0"/><circle cx="326.6" cy="900.5" r="5.0"/><circle cx="281.5" cy="909.1" r="5.0"/><circle cx="295.2" cy="907.2" r="5.0"/><circle cx="308.5" cy="910.0" r="5.0"/><circle cx="281.6" cy="897.0" r="5.0"/><circle cx="295.2" cy="896.1" r="5.0"/><circle cx="302.0" cy="901.9" r="5.0"/><circle cx="326.6" cy="908.7" r="5.0"/><circle cx="284.1" cy="909.1" r="5.0"/><circle cx="295.9" cy="904.3" r="5.0"/><circle cx="305.8" cy="905.1" r="5.0"/><circle cx="297.7" cy="908.1" r="5.0"/><circle cx="279.7" cy="909.7" r="5.0"/><circle cx="302.3" cy="901.3" r="5.0"/><circle cx="298.1" cy="899.1" r="5.0"/><circle cx="302.8" cy="910.1" r="5.0"/><circle cx="312.5" cy="906.3" r="5.0"/><circle cx="310.8" cy="906.5" r="5.0"/><circle cx="302.3" cy="902.9" r="5.0"/><circle cx="301.0" cy="901.9" r="5.0"/><circle cx="281.2" cy="904.8" r="5.0"/><circle cx="294.7" cy="898.0" r="5.0"/><circle cx="299.7" cy="905.1" r="5.0"/><circle cx="291.0" cy="906.4" r="5.0"/><circle cx="298.0" cy="899.5" r="5.0"/><circle cx="285.0" cy="898.3" r="5.0"/><circle cx="318.1" cy="897.8" r="5.0"/><circle cx="326.6" cy="908.5" r="5.0"/><circle cx="291.1" cy="908.0" r="5.0"/><circle cx="302.2" cy="904.0" r="5.0"/><circle cx="293.3" cy="896.5" r="5.0"/><circle cx="314.3" cy="901.7" r="5.0"/><circle cx="302.7" cy="901.6" r="5.0"/><circle cx="297.7" cy="906.1" r="5.0"/><circle cx="293.5" cy="896.1" r="5.0"/><circle cx="298.4" cy="908.3" r="5.0"/><circle cx="282.6" cy="902.6" r="5.0"/><circle cx="306.1" cy="900.9" r="5.0"/><circle cx="286.6" cy="898.8" r="5.0"/><circle cx="304.1" cy="898.8" r="5.0"/><circle cx="298.4" cy="905.2" r="5.0"/><circle cx="311.9" cy="906.9" r="5.0"/><circle cx="296.4" cy="896.3" r="5.0"/><circle cx="310.9" cy="902.7" r="5.0"/><circle cx="283.7" cy="906.8" r="5.0"/><circle cx="305.1" cy="908.9" r="5.0"/><circle cx="293.5" cy="898.9" r="5.0"/><circle cx="299.3" cy="898.3" r="5.0"/><circle cx="297.6" cy="902.4" r="5.0"/><circle cx="309.7" cy="905.2" r="5.0"/><circle cx="268.3" cy="901.1" r="5.0"/><circle cx="301.1" cy="896.3" r="5.0"/><circle cx="275.7" cy="902.3" r="5.0"/><circle cx="313.5" cy="899.2" r="5.0"/><circle cx="269.0" cy="897.7" r="5.0"/><circle cx="282.5" cy="899.6" r="5.0"/><circle cx="273.1" cy="903.7" r="5.0"/><circle cx="319.6" cy="908.3" r="5.0"/><circle cx="278.5" cy="900.5" r="5.0"/><circle cx="298.2" cy="898.5" r="5.0"/><circle cx="289.1" cy="896.5" r="5.0"/><circle cx="271.4" cy="908.7" r="5.0"/><circle cx="291.9" cy="909.3" r="5.0"/><circle cx="305.9" cy="901.4" r="5.0"/><circle cx="294.0" cy="898.6" r="5.0"/><circle cx="309.8" cy="909.9" r="5.0"/><circle cx="291.5" cy="901.8" r="5.0"/><circle cx="296.7" cy="907.0" r="5.0"/><circle cx="291.2" cy="896.0" r="5.0"/><circle cx="301.4" cy="905.6" r="5.0"/><circle cx="323.2" cy="909.8" r="5.0"/><circle cx="301.7" cy="899.2" r="5.0"/><circle cx="299.3" cy="906.5" r="5.0"/><circle cx="287.9" cy="904.7" r="5.0"/><circle cx="286.0" cy="909.0" r="5.0"/><circle cx="317.1" cy="906.0" r="5.0"/><circle cx="281.0" cy="909.0" r="5.0"/><circle cx="283.8" cy="907.1" r="5.0"/><circle cx="295.2" cy="902.3" r="5.0"/><circle cx="290.6" cy="906.5" r="5.0"/><circle cx="324.0" cy="901.0" r="5.0"/><circle cx="266.6" cy="897.5" r="5.0"/><circle cx="301.7" cy="902.3" r="5.0"/><circle cx="306.6" cy="910.6" r="5.0"/><circle cx="280.9" cy="896.6" r="5.0"/><circle cx="287.6" cy="908.0" r="5.0"/><circle cx="302.7" cy="905.8" r="5.0"/><circle cx="319.4" cy="903.1" r="5.0"/><circle cx="283.7" cy="901.7" r="5.0"/><circle cx="274.5" cy="905.9" r="5.0"/><circle cx="310.2" cy="904.4" r="5.0"/><circle cx="318.0" cy="901.6" r="5.0"/><circle cx="291.9" cy="904.1" r="5.0"/><circle cx="266.6" cy="906.7" r="5.0"/><circle cx="316.9" cy="904.8" r="5.0"/><circle cx="293.8" cy="905.2" r="5.0"/><circle cx="312.4" cy="906.6" r="5.0"/><circle cx="296.0" cy="902.0" r="5.0"/><circle cx="291.3" cy="903.3" r="5.0"/><circle cx="290.3" cy="904.8" r="5.0"/><circle cx="317.2" cy="900.3" r="5.0"/><circle cx="316.7" cy="898.8" r="5.0"/><circle cx="266.6" cy="901.3" r="5.0"/><circle cx="283.5" cy="905.9" r="5.0"/><circle cx="284.1" cy="705.5" r="5.0"/><circle cx="309.1" cy="681.4" r="5.0"/><circle cx="309.1" cy="721.1" r="5.0"/><circle cx="339.1" cy="900.2" r="5.0"/></g>
<g fill="#1F4E96" fill-opacity="0.8"><circle cx="270.2" cy="786.6" r="5.0"/><circle cx="273.6" cy="879.3" r="5.0"/><circle cx="248.0" cy="868.6" r="5.0"/><circle cx="271.5" cy="890.3" r="5.0"/><circle cx="282.7" cy="813.9" r="5.0"/><circle cx="252.3" cy="805.1" r="5.0"/><circle cx="266.3" cy="874.1" r="5.0"/><circle cx="280.4" cy="888.4" r="5.0"/><circle cx="278.8" cy="886.2" r="5.0"/><circle cx="250.2" cy="803.4" r="5.0"/><circle cx="283.0" cy="881.7" r="5.0"/><circle cx="265.6" cy="840.7" r="5.0"/><circle cx="277.9" cy="804.4" r="5.0"/><circle cx="269.6" cy="884.0" r="5.0"/><circle cx="266.7" cy="847.7" r="5.0"/><circle cx="281.4" cy="837.1" r="5.0"/><circle cx="275.5" cy="869.1" r="5.0"/><circle cx="270.3" cy="770.0" r="5.0"/><circle cx="277.1" cy="875.8" r="5.0"/><circle cx="270.1" cy="831.6" r="5.0"/><circle cx="260.3" cy="855.4" r="5.0"/><circle cx="259.6" cy="776.7" r="5.0"/><circle cx="258.6" cy="885.9" r="5.0"/><circle cx="283.3" cy="845.6" r="5.0"/><circle cx="272.7" cy="858.4" r="5.0"/><circle cx="280.8" cy="866.0" r="5.0"/><circle cx="278.9" cy="851.2" r="5.0"/><circle cx="277.4" cy="828.9" r="5.0"/><circle cx="283.2" cy="865.5" r="5.0"/><circle cx="277.8" cy="880.7" r="5.0"/><circle cx="274.8" cy="866.5" r="5.0"/><circle cx="264.9" cy="881.7" r="5.0"/><circle cx="276.2" cy="889.4" r="5.0"/><circle cx="280.6" cy="867.7" r="5.0"/><circle cx="266.1" cy="843.2" r="5.0"/><circle cx="264.5" cy="808.5" r="5.0"/><circle cx="279.6" cy="825.9" r="5.0"/><circle cx="277.2" cy="853.4" r="5.0"/><circle cx="267.4" cy="836.6" r="5.0"/><circle cx="260.8" cy="833.7" r="5.0"/><circle cx="282.1" cy="807.8" r="5.0"/><circle cx="282.5" cy="884.6" r="5.0"/><circle cx="246.6" cy="855.7" r="5.0"/><circle cx="270.0" cy="864.0" r="5.0"/><circle cx="274.6" cy="877.3" r="5.0"/><circle cx="279.3" cy="864.4" r="5.0"/><circle cx="281.2" cy="815.1" r="5.0"/><circle cx="222.0" cy="856.9" r="5.0"/><circle cx="281.4" cy="762.1" r="5.0"/><circle cx="262.5" cy="839.5" r="5.0"/><circle cx="275.1" cy="825.1" r="5.0"/><circle cx="277.1" cy="841.7" r="5.0"/><circle cx="279.3" cy="851.5" r="5.0"/><circle cx="273.1" cy="837.4" r="5.0"/><circle cx="256.4" cy="835.2" r="5.0"/><circle cx="276.9" cy="879.2" r="5.0"/><circle cx="275.4" cy="875.4" r="5.0"/><circle cx="278.1" cy="833.2" r="5.0"/><circle cx="279.2" cy="839.7" r="5.0"/><circle cx="270.0" cy="886.5" r="5.0"/><circle cx="246.5" cy="876.9" r="5.0"/><circle cx="283.3" cy="885.4" r="5.0"/><circle cx="268.0" cy="775.2" r="5.0"/><circle cx="281.5" cy="853.0" r="5.0"/><circle cx="269.5" cy="852.0" r="5.0"/><circle cx="279.7" cy="850.7" r="5.0"/><circle cx="282.6" cy="785.9" r="5.0"/><circle cx="272.7" cy="837.0" r="5.0"/><circle cx="278.8" cy="836.1" r="5.0"/><circle cx="256.5" cy="833.2" r="5.0"/><circle cx="280.9" cy="877.0" r="5.0"/><circle cx="248.6" cy="879.3" r="5.0"/><circle cx="262.4" cy="839.3" r="5.0"/><circle cx="282.2" cy="875.5" r="5.0"/><circle cx="276.6" cy="879.2" r="5.0"/><circle cx="272.3" cy="837.4" r="5.0"/><circle cx="278.9" cy="811.3" r="5.0"/><circle cx="276.3" cy="823.8" r="5.0"/><circle cx="269.0" cy="791.2" r="5.0"/><circle cx="244.7" cy="871.2" r="5.0"/><circle cx="270.0" cy="812.4" r="5.0"/><circle cx="241.0" cy="814.6" r="5.0"/><circle cx="277.3" cy="885.8" r="5.0"/><circle cx="281.9" cy="883.1" r="5.0"/><circle cx="276.3" cy="872.7" r="5.0"/><circle cx="269.5" cy="827.6" r="5.0"/><circle cx="213.2" cy="852.0" r="5.0"/><circle cx="268.1" cy="849.7" r="5.0"/><circle cx="265.2" cy="840.2" r="5.0"/><circle cx="269.5" cy="863.2" r="5.0"/><circle cx="279.4" cy="838.2" r="5.0"/><circle cx="278.1" cy="884.8" r="5.0"/><circle cx="280.3" cy="872.2" r="5.0"/><circle cx="268.7" cy="833.4" r="5.0"/><circle cx="248.8" cy="870.3" r="5.0"/><circle cx="271.4" cy="883.0" r="5.0"/><circle cx="278.1" cy="825.8" r="5.0"/><circle cx="258.8" cy="888.9" r="5.0"/><circle cx="263.3" cy="850.6" r="5.0"/><circle cx="212.7" cy="796.2" r="5.0"/><circle cx="271.3" cy="829.9" r="5.0"/><circle cx="266.0" cy="833.0" r="5.0"/><circle cx="274.9" cy="739.6" r="5.0"/><circle cx="271.9" cy="855.0" r="5.0"/><circle cx="281.2" cy="785.6" r="5.0"/><circle cx="280.8" cy="878.9" r="5.0"/><circle cx="282.3" cy="863.7" r="5.0"/><circle cx="283.3" cy="837.6" r="5.0"/><circle cx="282.5" cy="824.0" r="5.0"/><circle cx="266.3" cy="790.7" r="5.0"/><circle cx="278.2" cy="864.2" r="5.0"/><circle cx="275.9" cy="876.3" r="5.0"/><circle cx="279.6" cy="849.7" r="5.0"/><circle cx="272.6" cy="875.5" r="5.0"/><circle cx="262.0" cy="864.5" r="5.0"/><circle cx="275.9" cy="881.4" r="5.0"/><circle cx="281.4" cy="815.1" r="5.0"/><circle cx="268.6" cy="852.4" r="5.0"/><circle cx="267.0" cy="813.6" r="5.0"/><circle cx="280.5" cy="849.9" r="5.0"/><circle cx="259.6" cy="870.5" r="5.0"/><circle cx="251.7" cy="824.5" r="5.0"/><circle cx="281.2" cy="883.2" r="5.0"/><circle cx="246.4" cy="873.6" r="5.0"/><circle cx="278.9" cy="798.6" r="5.0"/><circle cx="270.5" cy="843.3" r="5.0"/><circle cx="263.8" cy="808.4" r="5.0"/><circle cx="254.1" cy="835.4" r="5.0"/><circle cx="281.7" cy="884.0" r="5.0"/><circle cx="276.6" cy="864.9" r="5.0"/><circle cx="260.1" cy="792.4" r="5.0"/><circle cx="267.9" cy="854.2" r="5.0"/><circle cx="272.6" cy="807.8" r="5.0"/><circle cx="276.5" cy="847.3" r="5.0"/><circle cx="279.3" cy="882.3" r="5.0"/><circle cx="280.7" cy="802.0" r="5.0"/><circle cx="282.7" cy="861.1" r="5.0"/><circle cx="255.4" cy="752.1" r="5.0"/><circle cx="270.6" cy="855.5" r="5.0"/><circle cx="269.1" cy="868.9" r="5.0"/><circle cx="259.6" cy="864.5" r="5.0"/><circle cx="280.4" cy="837.1" r="5.0"/><circle cx="280.6" cy="890.7" r="5.0"/><circle cx="271.6" cy="864.1" r="5.0"/><circle cx="273.2" cy="799.9" r="5.0"/><circle cx="266.6" cy="847.6" r="5.0"/><circle cx="281.3" cy="801.6" r="5.0"/><circle cx="274.7" cy="742.7" r="5.0"/><circle cx="280.5" cy="871.1" r="5.0"/><circle cx="281.4" cy="798.6" r="5.0"/><circle cx="270.3" cy="876.2" r="5.0"/><circle cx="281.9" cy="892.2" r="5.0"/><circle cx="269.8" cy="827.2" r="5.0"/><circle cx="260.9" cy="875.2" r="5.0"/><circle cx="223.8" cy="728.7" r="5.0"/><circle cx="274.3" cy="815.2" r="5.0"/><circle cx="271.5" cy="891.8" r="5.0"/><circle cx="265.6" cy="849.5" r="5.0"/><circle cx="281.9" cy="870.4" r="5.0"/><circle cx="277.6" cy="810.9" r="5.0"/><circle cx="279.6" cy="859.2" r="5.0"/><circle cx="229.4" cy="779.4" r="5.0"/><circle cx="275.9" cy="818.4" r="5.0"/><circle cx="282.6" cy="827.6" r="5.0"/><circle cx="271.6" cy="870.2" r="5.0"/><circle cx="252.5" cy="852.3" r="5.0"/><circle cx="209.0" cy="874.5" r="5.0"/><circle cx="237.9" cy="881.1" r="5.0"/><circle cx="246.5" cy="841.1" r="5.0"/><circle cx="257.7" cy="824.6" r="5.0"/><circle cx="266.3" cy="861.7" r="5.0"/><circle cx="269.9" cy="847.8" r="5.0"/><circle cx="280.0" cy="879.1" r="5.0"/><circle cx="280.2" cy="871.6" r="5.0"/><circle cx="281.9" cy="866.7" r="5.0"/><circle cx="266.8" cy="890.8" r="5.0"/><circle cx="246.3" cy="869.8" r="5.0"/><circle cx="279.1" cy="881.7" r="5.0"/><circle cx="276.7" cy="865.4" r="5.0"/><circle cx="269.2" cy="892.2" r="5.0"/><circle cx="282.1" cy="833.6" r="5.0"/><circle cx="275.7" cy="782.0" r="5.0"/><circle cx="272.5" cy="857.4" r="5.0"/><circle cx="240.6" cy="832.0" r="5.0"/><circle cx="283.0" cy="849.3" r="5.0"/><circle cx="279.0" cy="816.4" r="5.0"/><circle cx="281.2" cy="850.9" r="5.0"/><circle cx="263.6" cy="888.0" r="5.0"/><circle cx="254.5" cy="742.7" r="5.0"/><circle cx="262.4" cy="888.7" r="5.0"/><circle cx="260.9" cy="825.7" r="5.0"/><circle cx="256.6" cy="812.7" r="5.0"/><circle cx="260.9" cy="885.5" r="5.0"/><circle cx="281.7" cy="867.4" r="5.0"/><circle cx="277.7" cy="863.9" r="5.0"/><circle cx="237.5" cy="848.6" r="5.0"/><circle cx="281.5" cy="814.4" r="5.0"/><circle cx="271.3" cy="885.4" r="5.0"/><circle cx="281.6" cy="860.0" r="5.0"/><circle cx="280.0" cy="808.1" r="5.0"/><circle cx="275.6" cy="802.2" r="5.0"/><circle cx="256.5" cy="797.4" r="5.0"/><circle cx="255.5" cy="813.0" r="5.0"/><circle cx="277.9" cy="861.1" r="5.0"/><circle cx="255.8" cy="881.1" r="5.0"/><circle cx="254.7" cy="792.6" r="5.0"/><circle cx="246.0" cy="857.7" r="5.0"/><circle cx="256.8" cy="816.8" r="5.0"/><circle cx="276.6" cy="880.1" r="5.0"/><circle cx="252.8" cy="889.3" r="5.0"/><circle cx="273.8" cy="835.2" r="5.0"/><circle cx="247.5" cy="757.3" r="5.0"/><circle cx="272.0" cy="869.8" r="5.0"/><circle cx="260.8" cy="885.2" r="5.0"/><circle cx="272.5" cy="831.0" r="5.0"/><circle cx="282.0" cy="835.5" r="5.0"/><circle cx="246.8" cy="869.6" r="5.0"/><circle cx="270.2" cy="887.2" r="5.0"/><circle cx="266.9" cy="762.8" r="5.0"/><circle cx="283.0" cy="866.9" r="5.0"/><circle cx="209.0" cy="770.6" r="5.0"/><circle cx="268.5" cy="887.5" r="5.0"/><circle cx="242.7" cy="841.0" r="5.0"/><circle cx="280.0" cy="876.5" r="5.0"/><circle cx="251.8" cy="861.8" r="5.0"/><circle cx="258.8" cy="831.6" r="5.0"/><circle cx="237.5" cy="862.9" r="5.0"/><circle cx="281.4" cy="818.1" r="5.0"/><circle cx="264.4" cy="841.7" r="5.0"/><circle cx="249.8" cy="874.6" r="5.0"/><circle cx="274.1" cy="885.3" r="5.0"/><circle cx="264.4" cy="879.4" r="5.0"/><circle cx="279.9" cy="811.1" r="5.0"/><circle cx="283.3" cy="882.0" r="5.0"/><circle cx="279.7" cy="892.2" r="5.0"/><circle cx="281.0" cy="815.2" r="5.0"/><circle cx="272.4" cy="799.8" r="5.0"/><circle cx="262.4" cy="884.3" r="5.0"/><circle cx="249.1" cy="824.3" r="5.0"/><circle cx="278.7" cy="873.3" r="5.0"/><circle cx="274.0" cy="882.8" r="5.0"/><circle cx="282.0" cy="830.3" r="5.0"/><circle cx="258.5" cy="881.3" r="5.0"/><circle cx="231.2" cy="825.3" r="5.0"/><circle cx="274.3" cy="857.2" r="5.0"/><circle cx="258.8" cy="884.3" r="5.0"/><circle cx="283.0" cy="804.7" r="5.0"/><circle cx="242.0" cy="875.0" r="5.0"/><circle cx="279.3" cy="864.6" r="5.0"/><circle cx="265.3" cy="826.9" r="5.0"/><circle cx="214.0" cy="788.4" r="5.0"/><circle cx="224.0" cy="762.0" r="5.0"/><circle cx="236.5" cy="745.1" r="5.0"/></g>
<g fill="#C8333D" fill-opacity="0.8"><circle cx="315.6" cy="848.3" r="5.0"/><circle cx="314.0" cy="831.0" r="5.0"/><circle cx="310.5" cy="863.3" r="5.0"/><circle cx="311.0" cy="871.3" r="5.0"/><circle cx="321.9" cy="855.0" r="5.0"/><circle cx="312.6" cy="851.8" r="5.0"/><circle cx="315.4" cy="882.5" r="5.0"/><circle cx="313.4" cy="877.7" r="5.0"/><circle cx="311.4" cy="894.1" r="5.0"/><circle cx="335.2" cy="889.4" r="5.0"/><circle cx="312.1" cy="814.3" r="5.0"/><circle cx="314.2" cy="848.4" r="5.0"/><circle cx="320.3" cy="734.3" r="5.0"/><circle cx="318.7" cy="797.2" r="5.0"/><circle cx="312.9" cy="882.2" r="5.0"/><circle cx="310.9" cy="860.4" r="5.0"/><circle cx="314.1" cy="840.2" r="5.0"/><circle cx="322.3" cy="818.5" r="5.0"/><circle cx="310.3" cy="833.6" r="5.0"/><circle cx="316.6" cy="831.9" r="5.0"/><circle cx="320.4" cy="808.0" r="5.0"/><circle cx="322.5" cy="810.6" r="5.0"/><circle cx="311.5" cy="825.9" r="5.0"/><circle cx="311.7" cy="815.0" r="5.0"/><circle cx="321.2" cy="850.1" r="5.0"/><circle cx="317.5" cy="886.4" r="5.0"/><circle cx="336.7" cy="824.6" r="5.0"/><circle cx="314.0" cy="872.5" r="5.0"/><circle cx="311.7" cy="774.6" r="5.0"/><circle cx="314.2" cy="721.9" r="5.0"/><circle cx="314.6" cy="878.2" r="5.0"/><circle cx="312.5" cy="755.6" r="5.0"/><circle cx="335.4" cy="766.4" r="5.0"/><circle cx="323.6" cy="772.0" r="5.0"/><circle cx="310.2" cy="888.6" r="5.0"/><circle cx="314.6" cy="809.7" r="5.0"/><circle cx="312.4" cy="753.1" r="5.0"/><circle cx="314.5" cy="861.8" r="5.0"/><circle cx="309.9" cy="863.5" r="5.0"/><circle cx="312.4" cy="862.9" r="5.0"/><circle cx="314.2" cy="846.8" r="5.0"/><circle cx="312.2" cy="670.7" r="5.0"/><circle cx="325.1" cy="868.8" r="5.0"/><circle cx="318.8" cy="884.1" r="5.0"/><circle cx="317.4" cy="891.1" r="5.0"/><circle cx="310.2" cy="828.0" r="5.0"/><circle cx="312.8" cy="855.8" r="5.0"/><circle cx="329.9" cy="832.8" r="5.0"/><circle cx="310.3" cy="877.7" r="5.0"/><circle cx="310.8" cy="850.1" r="5.0"/><circle cx="313.8" cy="877.1" r="5.0"/><circle cx="316.8" cy="796.1" r="5.0"/><circle cx="334.2" cy="800.4" r="5.0"/><circle cx="323.2" cy="812.4" r="5.0"/><circle cx="351.3" cy="823.0" r="5.0"/><circle cx="321.6" cy="878.9" r="5.0"/><circle cx="340.6" cy="825.4" r="5.0"/><circle cx="330.0" cy="779.0" r="5.0"/><circle cx="316.2" cy="841.2" r="5.0"/><circle cx="316.5" cy="804.9" r="5.0"/><circle cx="314.5" cy="855.9" r="5.0"/><circle cx="311.6" cy="805.8" r="5.0"/><circle cx="310.1" cy="832.0" r="5.0"/><circle cx="311.1" cy="799.2" r="5.0"/><circle cx="311.9" cy="814.5" r="5.0"/><circle cx="323.9" cy="867.7" r="5.0"/><circle cx="313.5" cy="876.6" r="5.0"/><circle cx="312.3" cy="868.8" r="5.0"/><circle cx="311.1" cy="841.4" r="5.0"/><circle cx="311.1" cy="882.3" r="5.0"/><circle cx="323.3" cy="876.4" r="5.0"/><circle cx="310.8" cy="853.4" r="5.0"/><circle cx="312.4" cy="700.2" r="5.0"/><circle cx="312.6" cy="820.4" r="5.0"/><circle cx="315.3" cy="891.9" r="5.0"/><circle cx="320.7" cy="829.5" r="5.0"/><circle cx="326.0" cy="838.0" r="5.0"/><circle cx="315.4" cy="865.8" r="5.0"/><circle cx="311.9" cy="879.1" r="5.0"/><circle cx="311.5" cy="844.6" r="5.0"/><circle cx="310.2" cy="753.1" r="5.0"/><circle cx="325.7" cy="814.2" r="5.0"/><circle cx="317.8" cy="866.8" r="5.0"/><circle cx="311.7" cy="867.0" r="5.0"/><circle cx="324.1" cy="835.7" r="5.0"/><circle cx="321.6" cy="838.8" r="5.0"/><circle cx="310.6" cy="786.2" r="5.0"/><circle cx="314.9" cy="855.7" r="5.0"/><circle cx="320.7" cy="863.7" r="5.0"/><circle cx="316.2" cy="873.4" r="5.0"/><circle cx="310.4" cy="867.9" r="5.0"/><circle cx="310.9" cy="875.3" r="5.0"/><circle cx="313.3" cy="877.5" r="5.0"/><circle cx="323.9" cy="889.5" r="5.0"/><circle cx="310.0" cy="874.3" r="5.0"/><circle cx="313.9" cy="838.4" r="5.0"/><circle cx="321.8" cy="802.5" r="5.0"/><circle cx="321.6" cy="859.4" r="5.0"/><circle cx="310.6" cy="756.9" r="5.0"/><circle cx="310.5" cy="778.8" r="5.0"/><circle cx="315.9" cy="892.3" r="5.0"/><circle cx="312.1" cy="850.2" r="5.0"/><circle cx="314.0" cy="851.6" r="5.0"/><circle cx="314.6" cy="831.0" r="5.0"/><circle cx="310.5" cy="799.8" r="5.0"/><circle cx="317.9" cy="868.5" r="5.0"/><circle cx="310.2" cy="810.0" r="5.0"/><circle cx="311.2" cy="891.0" r="5.0"/><circle cx="313.5" cy="830.7" r="5.0"/><circle cx="311.7" cy="884.4" r="5.0"/><circle cx="326.3" cy="884.6" r="5.0"/><circle cx="350.9" cy="815.9" r="5.0"/><circle cx="317.1" cy="875.0" r="5.0"/><circle cx="318.3" cy="829.9" r="5.0"/><circle cx="310.0" cy="858.9" r="5.0"/><circle cx="315.2" cy="845.7" r="5.0"/><circle cx="312.6" cy="867.6" r="5.0"/><circle cx="310.2" cy="889.9" r="5.0"/><circle cx="361.7" cy="792.9" r="5.0"/><circle cx="309.9" cy="792.6" r="5.0"/><circle cx="317.3" cy="851.7" r="5.0"/><circle cx="310.9" cy="859.2" r="5.0"/><circle cx="336.9" cy="876.2" r="5.0"/><circle cx="317.4" cy="880.2" r="5.0"/><circle cx="310.4" cy="880.7" r="5.0"/><circle cx="314.9" cy="886.2" r="5.0"/><circle cx="313.9" cy="860.6" r="5.0"/><circle cx="319.4" cy="795.2" r="5.0"/><circle cx="310.0" cy="869.5" r="5.0"/><circle cx="315.1" cy="838.0" r="5.0"/><circle cx="324.8" cy="835.3" r="5.0"/><circle cx="309.9" cy="876.2" r="5.0"/><circle cx="313.2" cy="827.1" r="5.0"/><circle cx="317.6" cy="858.1" r="5.0"/><circle cx="310.2" cy="777.5" r="5.0"/><circle cx="348.0" cy="787.7" r="5.0"/><circle cx="320.0" cy="863.9" r="5.0"/><circle cx="321.3" cy="863.7" r="5.0"/><circle cx="327.8" cy="759.0" r="5.0"/><circle cx="324.4" cy="879.8" r="5.0"/><circle cx="329.2" cy="743.5" r="5.0"/><circle cx="314.2" cy="790.3" r="5.0"/><circle cx="314.5" cy="869.1" r="5.0"/><circle cx="314.3" cy="858.7" r="5.0"/><circle cx="313.3" cy="815.3" r="5.0"/><circle cx="312.5" cy="883.1" r="5.0"/><circle cx="312.4" cy="880.6" r="5.0"/><circle cx="316.1" cy="815.0" r="5.0"/><circle cx="323.2" cy="842.5" r="5.0"/><circle cx="314.4" cy="839.0" r="5.0"/><circle cx="361.7" cy="670.3" r="5.0"/><circle cx="321.7" cy="846.4" r="5.0"/><circle cx="312.2" cy="868.8" r="5.0"/><circle cx="323.5" cy="806.4" r="5.0"/><circle cx="311.0" cy="829.5" r="5.0"/><circle cx="314.0" cy="869.4" r="5.0"/><circle cx="311.5" cy="879.9" r="5.0"/><circle cx="316.4" cy="837.0" r="5.0"/><circle cx="323.9" cy="867.7" r="5.0"/><circle cx="312.8" cy="876.9" r="5.0"/><circle cx="328.8" cy="873.9" r="5.0"/><circle cx="314.3" cy="783.8" r="5.0"/><circle cx="310.5" cy="861.0" r="5.0"/><circle cx="311.6" cy="845.9" r="5.0"/><circle cx="312.5" cy="887.1" r="5.0"/><circle cx="314.5" cy="885.5" r="5.0"/><circle cx="311.6" cy="890.5" r="5.0"/><circle cx="312.2" cy="851.5" r="5.0"/><circle cx="340.3" cy="873.7" r="5.0"/><circle cx="314.0" cy="708.9" r="5.0"/><circle cx="314.8" cy="853.0" r="5.0"/><circle cx="312.6" cy="876.8" r="5.0"/><circle cx="318.1" cy="807.6" r="5.0"/><circle cx="313.3" cy="838.6" r="5.0"/><circle cx="314.3" cy="841.0" r="5.0"/><circle cx="310.6" cy="774.3" r="5.0"/><circle cx="323.1" cy="861.9" r="5.0"/><circle cx="311.8" cy="821.6" r="5.0"/><circle cx="313.7" cy="878.9" r="5.0"/><circle cx="321.8" cy="882.9" r="5.0"/><circle cx="317.3" cy="881.6" r="5.0"/><circle cx="316.1" cy="845.1" r="5.0"/><circle cx="328.9" cy="854.3" r="5.0"/><circle cx="310.5" cy="870.6" r="5.0"/><circle cx="313.7" cy="838.9" r="5.0"/><circle cx="315.1" cy="801.1" r="5.0"/><circle cx="311.3" cy="886.5" r="5.0"/><circle cx="329.5" cy="828.7" r="5.0"/><circle cx="322.9" cy="811.7" r="5.0"/><circle cx="315.2" cy="842.0" r="5.0"/><circle cx="317.4" cy="832.6" r="5.0"/><circle cx="314.5" cy="864.5" r="5.0"/><circle cx="322.6" cy="883.9" r="5.0"/><circle cx="339.2" cy="801.2" r="5.0"/><circle cx="334.7" cy="876.8" r="5.0"/><circle cx="317.7" cy="830.8" r="5.0"/><circle cx="331.4" cy="778.4" r="5.0"/><circle cx="321.7" cy="802.5" r="5.0"/><circle cx="310.4" cy="847.2" r="5.0"/><circle cx="328.5" cy="847.0" r="5.0"/><circle cx="311.8" cy="800.9" r="5.0"/><circle cx="317.9" cy="787.8" r="5.0"/><circle cx="312.4" cy="880.9" r="5.0"/><circle cx="311.9" cy="887.3" r="5.0"/><circle cx="315.1" cy="842.1" r="5.0"/><circle cx="313.6" cy="830.8" r="5.0"/><circle cx="311.3" cy="853.5" r="5.0"/><circle cx="315.4" cy="852.1" r="5.0"/><circle cx="323.1" cy="868.0" r="5.0"/><circle cx="327.7" cy="846.3" r="5.0"/><circle cx="374.2" cy="622.5" r="5.0"/><circle cx="366.7" cy="644.2" r="5.0"/><circle cx="416.7" cy="894.2" r="5.0"/><circle cx="349.2" cy="893.0" r="5.0"/><circle cx="326.6" cy="667.0" r="5.0"/><circle cx="330.6" cy="671.8" r="5.0"/></g>
<rect x="131.6" y="595.9" width="330.20000000000005" height="330.4" fill="none" stroke="#000" stroke-width="2"/>
<line x1="146.5" y1="927.3" x2="146.5" y2="938.5999999999999" stroke="#000" stroke-width="2"/>
<text x="146.5" y="966.8" font-size="25.3" text-anchor="middle" fill="#000" >−3</text>
<line x1="196.5" y1="927.3" x2="196.5" y2="938.5999999999999" stroke="#000" stroke-width="2"/>
<text x="196.5" y="966.8" font-size="25.3" text-anchor="middle" fill="#000" >−2</text>
<line x1="246.6" y1="927.3" x2="246.6" y2="938.5999999999999" stroke="#000" stroke-width="2"/>
<text x="246.6" y="966.8" font-size="25.3" text-anchor="middle" fill="#000" >−1</text>
<line x1="296.6" y1="927.3" x2="296.6" y2="938.5999999999999" stroke="#000" stroke-width="2"/>
<text x="296.6" y="966.8" font-size="25.3" text-anchor="middle" fill="#000" >0</text>
<line x1="346.7" y1="927.3" x2="346.7" y2="938.5999999999999" stroke="#000" stroke-width="2"/>
<text x="346.7" y="966.8" font-size="25.3" text-anchor="middle" fill="#000" >1</text>
<line x1="396.7" y1="927.3" x2="396.7" y2="938.5999999999999" stroke="#000" stroke-width="2"/>
<text x="396.7" y="966.8" font-size="25.3" text-anchor="middle" fill="#000" >2</text>
<line x1="446.8" y1="927.3" x2="446.8" y2="938.5999999999999" stroke="#000" stroke-width="2"/>
<text x="446.8" y="966.8" font-size="25.3" text-anchor="middle" fill="#000" >3</text>
<line x1="130.6" y1="911.0" x2="119.1" y2="911.0" stroke="#000" stroke-width="2"/>
<text x="107.6" y="920.0" font-size="25.3" text-anchor="end" fill="#000" >0</text>
<line x1="130.6" y1="850.9" x2="119.1" y2="850.9" stroke="#000" stroke-width="2"/>
<text x="107.6" y="859.9" font-size="25.3" text-anchor="end" fill="#000" >5</text>
<line x1="130.6" y1="790.8" x2="119.1" y2="790.8" stroke="#000" stroke-width="2"/>
<text x="107.6" y="799.8" font-size="25.3" text-anchor="end" fill="#000" >10</text>
<line x1="130.6" y1="730.7" x2="119.1" y2="730.7" stroke="#000" stroke-width="2"/>
<text x="107.6" y="739.7" font-size="25.3" text-anchor="end" fill="#000" >15</text>
<line x1="130.6" y1="670.6" x2="119.1" y2="670.6" stroke="#000" stroke-width="2"/>
<text x="107.6" y="679.6" font-size="25.3" text-anchor="end" fill="#000" >20</text>
<line x1="130.6" y1="610.5" x2="119.1" y2="610.5" stroke="#000" stroke-width="2"/>
<text x="107.6" y="619.5" font-size="25.3" text-anchor="end" fill="#000" >25</text>
<text x="294.6" y="565.7" font-size="25.3" text-anchor="middle" fill="#000" >LA vs HC</text>
<text x="192.4" y="1003.5" font-size="25.3">log<tspan font-size="14.5" dy="8">2</tspan><tspan dy="-8">(Fold change)</tspan></text>
<text x="0" y="0" font-size="25.3" text-anchor="start" transform="translate(62.8,839.2) rotate(-90)">−log<tspan font-size="14.5" dy="8">10</tspan><tspan dy="-8"> (FDR)</tspan></text>
<text x="526.1" y="543.2" font-size="29.5" text-anchor="start" fill="#000" font-weight="bold" >d</text>
<line x1="651.6" y1="911.0" x2="981.8" y2="911.0" stroke="#c4c4c4" stroke-width="1.6"/>
<line x1="816.6" y1="595.9" x2="816.6" y2="926.3" stroke="#c4c4c4" stroke-width="1.6"/>
<g fill="#8A8A8A" fill-opacity="0.8"><circle cx="819.3" cy="900.8" r="5.0"/><circle cx="804.5" cy="822.2" r="5.0"/><circle cx="817.6" cy="901.4" r="5.0"/><circle cx="824.5" cy="856.4" r="5.0"/><circle cx="814.5" cy="910.9" r="5.0"/><circle cx="825.0" cy="896.1" r="5.0"/><circle cx="821.3" cy="890.5" r="5.0"/><circle cx="819.8" cy="909.7" r="5.0"/><circle cx="814.7" cy="909.8" r="5.0"/><circle cx="812.8" cy="879.2" r="5.0"/><circle cx="814.7" cy="891.1" r="5.0"/><circle cx="817.1" cy="907.6" r="5.0"/><circle cx="820.6" cy="907.3" r="5.0"/><circle cx="819.8" cy="894.5" r="5.0"/><circle cx="814.4" cy="902.8" r="5.0"/><circle cx="817.2" cy="905.9" r="5.0"/><circle cx="819.6" cy="884.6" r="5.0"/><circle cx="804.5" cy="876.7" r="5.0"/><circle cx="810.9" cy="862.8" r="5.0"/><circle cx="810.7" cy="841.2" r="5.0"/><circle cx="815.2" cy="902.4" r="5.0"/><circle cx="814.6" cy="908.2" r="5.0"/><circle cx="814.8" cy="898.1" r="5.0"/><circle cx="810.1" cy="910.5" r="5.0"/><circle cx="821.8" cy="910.1" r="5.0"/><circle cx="818.8" cy="908.4" r="5.0"/><circle cx="804.4" cy="807.1" r="5.0"/><circle cx="816.8" cy="885.9" r="5.0"/><circle cx="808.3" cy="898.7" r="5.0"/><circle cx="829.5" cy="894.4" r="5.0"/><circle cx="813.3" cy="892.9" r="5.0"/><circle cx="813.8" cy="903.3" r="5.0"/><circle cx="817.3" cy="901.5" r="5.0"/><circle cx="815.2" cy="902.4" r="5.0"/><circle cx="816.3" cy="903.8" r="5.0"/><circle cx="828.3" cy="882.0" r="5.0"/><circle cx="818.4" cy="910.1" r="5.0"/><circle cx="823.0" cy="908.9" r="5.0"/><circle cx="825.2" cy="892.3" r="5.0"/><circle cx="809.4" cy="898.1" r="5.0"/><circle cx="829.4" cy="852.1" r="5.0"/><circle cx="821.9" cy="892.4" r="5.0"/><circle cx="823.9" cy="896.3" r="5.0"/><circle cx="810.2" cy="891.8" r="5.0"/><circle cx="822.9" cy="906.0" r="5.0"/><circle cx="819.8" cy="908.4" r="5.0"/><circle cx="812.7" cy="908.8" r="5.0"/><circle cx="821.0" cy="905.4" r="5.0"/><circle cx="814.9" cy="904.8" r="5.0"/><circle cx="818.2" cy="903.7" r="5.0"/><circle cx="823.6" cy="901.5" r="5.0"/><circle cx="825.2" cy="860.5" r="5.0"/><circle cx="821.1" cy="883.3" r="5.0"/><circle cx="825.9" cy="868.8" r="5.0"/><circle cx="827.8" cy="871.4" r="5.0"/><circle cx="807.5" cy="874.8" r="5.0"/><circle cx="813.1" cy="907.2" r="5.0"/><circle cx="809.7" cy="887.1" r="5.0"/><circle cx="817.5" cy="908.2" r="5.0"/><circle cx="827.6" cy="904.6" r="5.0"/><circle cx="821.7" cy="904.6" r="5.0"/><circle cx="808.9" cy="907.3" r="5.0"/><circle cx="814.5" cy="877.1" r="5.0"/><circle cx="824.5" cy="830.6" r="5.0"/><circle cx="812.8" cy="899.9" r="5.0"/><circle cx="816.0" cy="909.4" r="5.0"/><circle cx="819.0" cy="909.8" r="5.0"/><circle cx="822.6" cy="903.5" r="5.0"/><circle cx="819.3" cy="879.3" r="5.0"/><circle cx="821.0" cy="890.8" r="5.0"/><circle cx="809.4" cy="877.1" r="5.0"/><circle cx="811.0" cy="904.6" r="5.0"/><circle cx="812.3" cy="893.8" r="5.0"/><circle cx="818.6" cy="910.6" r="5.0"/><circle cx="817.3" cy="891.8" r="5.0"/><circle cx="817.7" cy="909.1" r="5.0"/><circle cx="826.6" cy="892.1" r="5.0"/><circle cx="811.4" cy="882.7" r="5.0"/><circle cx="811.8" cy="898.9" r="5.0"/><circle cx="829.6" cy="901.0" r="5.0"/><circle cx="814.4" cy="910.9" r="5.0"/><circle cx="827.1" cy="849.0" r="5.0"/><circle cx="828.8" cy="909.8" r="5.0"/><circle cx="812.7" cy="879.0" r="5.0"/><circle cx="814.7" cy="900.7" r="5.0"/><circle cx="817.4" cy="909.8" r="5.0"/><circle cx="810.3" cy="888.8" r="5.0"/><circle cx="809.4" cy="903.2" r="5.0"/><circle cx="813.7" cy="908.7" r="5.0"/><circle cx="823.2" cy="876.5" r="5.0"/><circle cx="813.4" cy="909.8" r="5.0"/><circle cx="815.2" cy="907.2" r="5.0"/><circle cx="813.3" cy="902.5" r="5.0"/><circle cx="806.5" cy="891.9" r="5.0"/><circle cx="827.9" cy="903.3" r="5.0"/><circle cx="811.8" cy="890.0" r="5.0"/><circle cx="820.9" cy="910.5" r="5.0"/><circle cx="806.3" cy="817.3" r="5.0"/><circle cx="821.3" cy="898.2" r="5.0"/><circle cx="826.2" cy="849.7" r="5.0"/><circle cx="810.3" cy="901.3" r="5.0"/><circle cx="818.3" cy="907.2" r="5.0"/><circle cx="808.4" cy="900.2" r="5.0"/><circle cx="820.6" cy="893.5" r="5.0"/><circle cx="817.4" cy="907.5" r="5.0"/><circle cx="818.4" cy="905.7" r="5.0"/><circle cx="827.0" cy="894.1" r="5.0"/><circle cx="820.3" cy="910.9" r="5.0"/><circle cx="826.9" cy="893.4" r="5.0"/><circle cx="821.5" cy="903.2" r="5.0"/><circle cx="807.7" cy="884.1" r="5.0"/><circle cx="818.7" cy="903.1" r="5.0"/><circle cx="820.4" cy="900.9" r="5.0"/><circle cx="805.9" cy="899.9" r="5.0"/><circle cx="826.8" cy="909.5" r="5.0"/><circle cx="817.3" cy="904.9" r="5.0"/><circle cx="819.5" cy="907.3" r="5.0"/><circle cx="810.0" cy="898.0" r="5.0"/><circle cx="817.3" cy="908.6" r="5.0"/><circle cx="819.0" cy="903.4" r="5.0"/><circle cx="814.3" cy="886.4" r="5.0"/><circle cx="817.4" cy="901.1" r="5.0"/><circle cx="827.0" cy="876.3" r="5.0"/><circle cx="808.4" cy="885.3" r="5.0"/><circle cx="809.5" cy="895.4" r="5.0"/><circle cx="810.5" cy="906.8" r="5.0"/><circle cx="820.8" cy="894.7" r="5.0"/><circle cx="809.9" cy="889.0" r="5.0"/><circle cx="818.9" cy="910.6" r="5.0"/><circle cx="809.5" cy="908.6" r="5.0"/><circle cx="820.8" cy="910.3" r="5.0"/><circle cx="809.1" cy="910.9" r="5.0"/><circle cx="821.7" cy="887.2" r="5.0"/><circle cx="809.6" cy="896.0" r="5.0"/><circle cx="821.1" cy="848.9" r="5.0"/><circle cx="821.8" cy="878.5" r="5.0"/><circle cx="804.8" cy="874.4" r="5.0"/><circle cx="808.2" cy="879.0" r="5.0"/><circle cx="808.0" cy="892.3" r="5.0"/><circle cx="805.4" cy="870.6" r="5.0"/><circle cx="811.2" cy="887.4" r="5.0"/><circle cx="809.5" cy="872.9" r="5.0"/><circle cx="805.9" cy="830.8" r="5.0"/><circle cx="817.5" cy="892.5" r="5.0"/><circle cx="820.8" cy="898.3" r="5.0"/><circle cx="806.8" cy="903.0" r="5.0"/><circle cx="812.5" cy="898.4" r="5.0"/><circle cx="816.8" cy="901.0" r="5.0"/><circle cx="815.0" cy="896.3" r="5.0"/><circle cx="811.4" cy="904.9" r="5.0"/><circle cx="822.8" cy="881.9" r="5.0"/><circle cx="823.1" cy="904.1" r="5.0"/><circle cx="821.8" cy="898.8" r="5.0"/><circle cx="815.1" cy="900.0" r="5.0"/><circle cx="813.7" cy="905.4" r="5.0"/><circle cx="815.8" cy="907.5" r="5.0"/><circle cx="825.6" cy="884.1" r="5.0"/><circle cx="810.7" cy="866.7" r="5.0"/><circle cx="819.7" cy="881.3" r="5.0"/><circle cx="817.0" cy="908.5" r="5.0"/><circle cx="811.4" cy="904.3" r="5.0"/><circle cx="814.9" cy="899.3" r="5.0"/><circle cx="804.9" cy="840.0" r="5.0"/><circle cx="812.6" cy="899.4" r="5.0"/><circle cx="828.0" cy="883.8" r="5.0"/><circle cx="825.9" cy="907.7" r="5.0"/><circle cx="818.9" cy="894.7" r="5.0"/><circle cx="824.2" cy="875.7" r="5.0"/><circle cx="826.2" cy="878.7" r="5.0"/><circle cx="824.3" cy="905.0" r="5.0"/><circle cx="823.6" cy="855.0" r="5.0"/><circle cx="809.8" cy="892.4" r="5.0"/><circle cx="819.9" cy="909.7" r="5.0"/><circle cx="812.6" cy="894.0" r="5.0"/><circle cx="807.8" cy="893.2" r="5.0"/><circle cx="808.1" cy="842.6" r="5.0"/><circle cx="819.9" cy="893.1" r="5.0"/><circle cx="824.5" cy="894.8" r="5.0"/><circle cx="806.4" cy="867.7" r="5.0"/><circle cx="827.7" cy="894.8" r="5.0"/><circle cx="813.8" cy="896.8" r="5.0"/><circle cx="813.2" cy="885.2" r="5.0"/><circle cx="816.1" cy="909.8" r="5.0"/><circle cx="824.0" cy="884.5" r="5.0"/><circle cx="813.8" cy="890.9" r="5.0"/><circle cx="808.3" cy="897.2" r="5.0"/><circle cx="819.2" cy="909.0" r="5.0"/><circle cx="817.7" cy="901.6" r="5.0"/><circle cx="825.3" cy="904.3" r="5.0"/><circle cx="818.9" cy="900.0" r="5.0"/><circle cx="822.5" cy="907.6" r="5.0"/><circle cx="820.3" cy="904.3" r="5.0"/><circle cx="822.1" cy="895.0" r="5.0"/><circle cx="817.7" cy="899.5" r="5.0"/><circle cx="810.4" cy="851.3" r="5.0"/><circle cx="814.9" cy="892.4" r="5.0"/><circle cx="816.0" cy="906.2" r="5.0"/><circle cx="826.1" cy="879.3" r="5.0"/><circle cx="828.8" cy="887.4" r="5.0"/><circle cx="819.8" cy="883.5" r="5.0"/><circle cx="810.9" cy="908.2" r="5.0"/><circle cx="811.1" cy="854.5" r="5.0"/><circle cx="815.2" cy="904.4" r="5.0"/><circle cx="827.0" cy="861.7" r="5.0"/><circle cx="819.1" cy="895.5" r="5.0"/><circle cx="816.2" cy="899.0" r="5.0"/><circle cx="810.9" cy="905.0" r="5.0"/><circle cx="823.2" cy="880.0" r="5.0"/><circle cx="818.8" cy="907.7" r="5.0"/><circle cx="816.2" cy="889.0" r="5.0"/><circle cx="817.4" cy="907.8" r="5.0"/><circle cx="829.3" cy="903.7" r="5.0"/><circle cx="815.4" cy="908.3" r="5.0"/><circle cx="829.3" cy="881.6" r="5.0"/><circle cx="825.9" cy="870.9" r="5.0"/><circle cx="817.0" cy="889.2" r="5.0"/><circle cx="823.2" cy="862.6" r="5.0"/><circle cx="815.7" cy="895.7" r="5.0"/><circle cx="810.4" cy="885.3" r="5.0"/><circle cx="814.6" cy="896.0" r="5.0"/><circle cx="809.8" cy="877.4" r="5.0"/><circle cx="820.4" cy="894.0" r="5.0"/><circle cx="816.7" cy="908.9" r="5.0"/><circle cx="820.9" cy="910.2" r="5.0"/><circle cx="822.8" cy="863.5" r="5.0"/><circle cx="818.9" cy="896.8" r="5.0"/><circle cx="817.9" cy="899.4" r="5.0"/><circle cx="810.0" cy="898.0" r="5.0"/><circle cx="817.4" cy="905.2" r="5.0"/><circle cx="826.9" cy="842.1" r="5.0"/><circle cx="803.8" cy="868.8" r="5.0"/><circle cx="818.0" cy="905.3" r="5.0"/><circle cx="816.0" cy="910.0" r="5.0"/><circle cx="821.5" cy="907.8" r="5.0"/><circle cx="816.9" cy="907.1" r="5.0"/><circle cx="812.8" cy="886.8" r="5.0"/><circle cx="811.2" cy="901.5" r="5.0"/><circle cx="813.6" cy="909.4" r="5.0"/><circle cx="809.6" cy="908.6" r="5.0"/><circle cx="813.8" cy="905.6" r="5.0"/><circle cx="813.7" cy="900.1" r="5.0"/><circle cx="816.0" cy="910.6" r="5.0"/><circle cx="808.7" cy="830.7" r="5.0"/><circle cx="820.7" cy="907.6" r="5.0"/><circle cx="813.0" cy="907.6" r="5.0"/><circle cx="806.4" cy="894.4" r="5.0"/><circle cx="810.5" cy="906.2" r="5.0"/><circle cx="813.7" cy="892.0" r="5.0"/><circle cx="823.0" cy="902.6" r="5.0"/><circle cx="820.2" cy="907.4" r="5.0"/><circle cx="814.1" cy="877.4" r="5.0"/><circle cx="816.7" cy="887.6" r="5.0"/><circle cx="818.2" cy="906.9" r="5.0"/><circle cx="812.0" cy="881.7" r="5.0"/><circle cx="820.1" cy="896.2" r="5.0"/><circle cx="822.1" cy="902.1" r="5.0"/><circle cx="809.4" cy="903.6" r="5.0"/><circle cx="818.0" cy="868.7" r="5.0"/><circle cx="817.8" cy="909.2" r="5.0"/><circle cx="813.1" cy="874.0" r="5.0"/><circle cx="820.9" cy="869.2" r="5.0"/><circle cx="824.3" cy="878.2" r="5.0"/><circle cx="825.1" cy="885.3" r="5.0"/><circle cx="815.2" cy="909.1" r="5.0"/><circle cx="818.0" cy="909.1" r="5.0"/><circle cx="808.3" cy="898.2" r="5.0"/><circle cx="818.3" cy="894.7" r="5.0"/><circle cx="823.3" cy="896.1" r="5.0"/><circle cx="817.7" cy="910.1" r="5.0"/><circle cx="821.5" cy="848.5" r="5.0"/><circle cx="817.9" cy="910.6" r="5.0"/><circle cx="822.3" cy="890.6" r="5.0"/><circle cx="826.2" cy="886.1" r="5.0"/><circle cx="814.9" cy="902.5" r="5.0"/><circle cx="818.1" cy="893.1" r="5.0"/><circle cx="816.2" cy="894.3" r="5.0"/><circle cx="813.6" cy="908.0" r="5.0"/><circle cx="816.5" cy="909.3" r="5.0"/><circle cx="808.1" cy="890.3" r="5.0"/><circle cx="822.2" cy="864.7" r="5.0"/><circle cx="829.4" cy="910.3" r="5.0"/><circle cx="829.4" cy="878.4" r="5.0"/><circle cx="826.2" cy="898.1" r="5.0"/><circle cx="809.4" cy="834.0" r="5.0"/><circle cx="828.0" cy="899.3" r="5.0"/><circle cx="811.2" cy="900.5" r="5.0"/><circle cx="816.2" cy="905.8" r="5.0"/><circle cx="808.6" cy="895.4" r="5.0"/><circle cx="822.9" cy="909.5" r="5.0"/><circle cx="818.7" cy="910.9" r="5.0"/><circle cx="815.5" cy="902.5" r="5.0"/><circle cx="810.0" cy="897.7" r="5.0"/><circle cx="819.8" cy="882.7" r="5.0"/><circle cx="813.1" cy="904.6" r="5.0"/><circle cx="824.4" cy="865.0" r="5.0"/><circle cx="825.8" cy="864.8" r="5.0"/><circle cx="806.2" cy="884.9" r="5.0"/><circle cx="812.8" cy="884.7" r="5.0"/><circle cx="814.2" cy="908.2" r="5.0"/><circle cx="807.7" cy="899.2" r="5.0"/><circle cx="808.2" cy="869.5" r="5.0"/><circle cx="817.3" cy="901.8" r="5.0"/><circle cx="815.0" cy="910.0" r="5.0"/><circle cx="804.2" cy="851.5" r="5.0"/><circle cx="812.6" cy="872.4" r="5.0"/><circle cx="820.5" cy="901.0" r="5.0"/><circle cx="807.5" cy="900.8" r="5.0"/><circle cx="809.7" cy="894.5" r="5.0"/><circle cx="828.5" cy="868.2" r="5.0"/><circle cx="826.5" cy="906.6" r="5.0"/><circle cx="804.4" cy="857.1" r="5.0"/><circle cx="806.5" cy="818.3" r="5.0"/><circle cx="819.4" cy="910.4" r="5.0"/><circle cx="807.7" cy="897.8" r="5.0"/><circle cx="814.7" cy="904.9" r="5.0"/><circle cx="813.2" cy="906.8" r="5.0"/><circle cx="820.8" cy="900.1" r="5.0"/><circle cx="807.4" cy="904.0" r="5.0"/><circle cx="824.2" cy="862.7" r="5.0"/><circle cx="815.4" cy="896.8" r="5.0"/><circle cx="803.8" cy="849.9" r="5.0"/><circle cx="820.3" cy="892.3" r="5.0"/><circle cx="821.9" cy="886.3" r="5.0"/><circle cx="814.8" cy="907.1" r="5.0"/><circle cx="814.1" cy="904.4" r="5.0"/><circle cx="819.9" cy="897.0" r="5.0"/><circle cx="825.7" cy="875.1" r="5.0"/><circle cx="817.7" cy="907.7" r="5.0"/><circle cx="820.6" cy="901.8" r="5.0"/><circle cx="816.2" cy="909.5" r="5.0"/><circle cx="813.7" cy="868.7" r="5.0"/><circle cx="809.7" cy="906.7" r="5.0"/><circle cx="818.5" cy="910.0" r="5.0"/><circle cx="814.3" cy="907.6" r="5.0"/><circle cx="814.8" cy="909.5" r="5.0"/><circle cx="823.6" cy="835.4" r="5.0"/><circle cx="820.3" cy="892.9" r="5.0"/><circle cx="823.1" cy="896.1" r="5.0"/><circle cx="804.8" cy="906.2" r="5.0"/><circle cx="820.8" cy="861.3" r="5.0"/><circle cx="812.2" cy="869.8" r="5.0"/><circle cx="810.5" cy="890.2" r="5.0"/><circle cx="810.2" cy="883.0" r="5.0"/><circle cx="825.7" cy="890.8" r="5.0"/><circle cx="822.8" cy="860.0" r="5.0"/><circle cx="811.2" cy="886.0" r="5.0"/><circle cx="808.1" cy="883.7" r="5.0"/><circle cx="816.7" cy="888.9" r="5.0"/><circle cx="813.1" cy="908.6" r="5.0"/><circle cx="829.1" cy="812.9" r="5.0"/><circle cx="805.6" cy="841.4" r="5.0"/><circle cx="814.7" cy="906.3" r="5.0"/><circle cx="816.7" cy="905.0" r="5.0"/><circle cx="817.6" cy="909.7" r="5.0"/><circle cx="822.3" cy="895.7" r="5.0"/><circle cx="814.0" cy="900.8" r="5.0"/><circle cx="812.5" cy="900.8" r="5.0"/><circle cx="818.4" cy="863.3" r="5.0"/><circle cx="823.0" cy="908.2" r="5.0"/><circle cx="814.6" cy="908.8" r="5.0"/><circle cx="825.5" cy="890.2" r="5.0"/><circle cx="816.8" cy="910.0" r="5.0"/><circle cx="828.0" cy="884.8" r="5.0"/><circle cx="819.1" cy="894.2" r="5.0"/><circle cx="808.7" cy="873.9" r="5.0"/><circle cx="811.8" cy="909.8" r="5.0"/><circle cx="805.1" cy="882.2" r="5.0"/><circle cx="803.6" cy="889.9" r="5.0"/><circle cx="818.6" cy="886.9" r="5.0"/><circle cx="823.1" cy="880.5" r="5.0"/><circle cx="816.2" cy="906.0" r="5.0"/><circle cx="814.8" cy="895.5" r="5.0"/><circle cx="808.3" cy="890.0" r="5.0"/><circle cx="824.0" cy="881.7" r="5.0"/><circle cx="819.5" cy="910.6" r="5.0"/><circle cx="812.1" cy="905.8" r="5.0"/><circle cx="821.8" cy="882.8" r="5.0"/><circle cx="820.8" cy="908.8" r="5.0"/><circle cx="822.2" cy="904.9" r="5.0"/><circle cx="817.6" cy="903.4" r="5.0"/><circle cx="813.7" cy="910.0" r="5.0"/><circle cx="813.5" cy="901.0" r="5.0"/><circle cx="828.1" cy="867.9" r="5.0"/><circle cx="808.0" cy="833.9" r="5.0"/><circle cx="811.7" cy="907.9" r="5.0"/><circle cx="823.4" cy="891.7" r="5.0"/><circle cx="807.5" cy="824.1" r="5.0"/><circle cx="811.2" cy="883.3" r="5.0"/><circle cx="824.6" cy="899.9" r="5.0"/><circle cx="820.0" cy="896.9" r="5.0"/><circle cx="818.2" cy="907.2" r="5.0"/><circle cx="813.5" cy="903.7" r="5.0"/><circle cx="813.6" cy="910.1" r="5.0"/><circle cx="821.2" cy="886.6" r="5.0"/><circle cx="811.3" cy="892.5" r="5.0"/><circle cx="825.8" cy="881.4" r="5.0"/><circle cx="812.9" cy="908.8" r="5.0"/><circle cx="810.0" cy="850.4" r="5.0"/><circle cx="826.3" cy="892.0" r="5.0"/><circle cx="815.5" cy="898.2" r="5.0"/><circle cx="820.8" cy="889.7" r="5.0"/><circle cx="813.5" cy="910.3" r="5.0"/><circle cx="820.7" cy="907.5" r="5.0"/><circle cx="806.5" cy="898.3" r="5.0"/><circle cx="824.7" cy="866.5" r="5.0"/><circle cx="805.0" cy="896.3" r="5.0"/><circle cx="818.9" cy="907.7" r="5.0"/><circle cx="819.8" cy="861.5" r="5.0"/><circle cx="817.4" cy="903.9" r="5.0"/><circle cx="807.5" cy="855.7" r="5.0"/><circle cx="823.3" cy="865.0" r="5.0"/><circle cx="805.6" cy="813.7" r="5.0"/><circle cx="813.1" cy="909.7" r="5.0"/><circle cx="810.7" cy="906.2" r="5.0"/><circle cx="813.8" cy="904.7" r="5.0"/><circle cx="823.0" cy="841.7" r="5.0"/><circle cx="811.8" cy="906.0" r="5.0"/><circle cx="820.8" cy="909.0" r="5.0"/><circle cx="821.8" cy="898.4" r="5.0"/><circle cx="803.8" cy="903.0" r="5.0"/><circle cx="807.8" cy="871.2" r="5.0"/><circle cx="813.7" cy="905.7" r="5.0"/><circle cx="812.2" cy="901.2" r="5.0"/><circle cx="818.9" cy="907.8" r="5.0"/><circle cx="822.0" cy="883.4" r="5.0"/><circle cx="822.2" cy="910.3" r="5.0"/><circle cx="815.3" cy="902.1" r="5.0"/><circle cx="806.2" cy="829.5" r="5.0"/><circle cx="816.6" cy="908.9" r="5.0"/><circle cx="812.6" cy="902.6" r="5.0"/><circle cx="820.9" cy="893.0" r="5.0"/><circle cx="816.0" cy="908.9" r="5.0"/><circle cx="822.1" cy="905.7" r="5.0"/><circle cx="813.3" cy="857.7" r="5.0"/><circle cx="827.4" cy="909.1" r="5.0"/><circle cx="809.0" cy="899.9" r="5.0"/><circle cx="820.3" cy="903.6" r="5.0"/><circle cx="805.3" cy="906.5" r="5.0"/><circle cx="822.1" cy="909.2" r="5.0"/><circle cx="807.5" cy="898.8" r="5.0"/><circle cx="817.3" cy="896.9" r="5.0"/><circle cx="809.7" cy="906.3" r="5.0"/><circle cx="813.3" cy="855.9" r="5.0"/><circle cx="817.9" cy="909.6" r="5.0"/><circle cx="815.8" cy="907.1" r="5.0"/><circle cx="813.7" cy="892.4" r="5.0"/><circle cx="816.7" cy="898.9" r="5.0"/><circle cx="809.3" cy="886.9" r="5.0"/><circle cx="823.6" cy="895.3" r="5.0"/><circle cx="822.8" cy="894.4" r="5.0"/><circle cx="825.8" cy="823.5" r="5.0"/><circle cx="809.5" cy="841.3" r="5.0"/><circle cx="824.6" cy="902.6" r="5.0"/><circle cx="825.2" cy="871.5" r="5.0"/><circle cx="816.6" cy="905.2" r="5.0"/><circle cx="818.4" cy="905.3" r="5.0"/><circle cx="812.3" cy="874.1" r="5.0"/><circle cx="812.6" cy="891.8" r="5.0"/><circle cx="818.8" cy="908.9" r="5.0"/><circle cx="820.9" cy="905.1" r="5.0"/><circle cx="828.8" cy="806.9" r="5.0"/><circle cx="816.9" cy="895.7" r="5.0"/><circle cx="823.1" cy="871.9" r="5.0"/><circle cx="806.7" cy="910.2" r="5.0"/><circle cx="816.3" cy="905.4" r="5.0"/><circle cx="826.5" cy="907.2" r="5.0"/><circle cx="820.7" cy="869.1" r="5.0"/><circle cx="815.6" cy="911.0" r="5.0"/><circle cx="819.5" cy="887.0" r="5.0"/><circle cx="814.3" cy="909.2" r="5.0"/><circle cx="816.1" cy="910.6" r="5.0"/><circle cx="815.0" cy="897.3" r="5.0"/><circle cx="809.3" cy="876.7" r="5.0"/><circle cx="818.4" cy="903.1" r="5.0"/><circle cx="814.2" cy="899.1" r="5.0"/><circle cx="814.3" cy="905.8" r="5.0"/><circle cx="815.9" cy="902.0" r="5.0"/><circle cx="822.4" cy="868.0" r="5.0"/><circle cx="818.4" cy="910.6" r="5.0"/><circle cx="807.6" cy="901.9" r="5.0"/><circle cx="815.6" cy="901.5" r="5.0"/><circle cx="820.2" cy="902.2" r="5.0"/><circle cx="813.1" cy="895.4" r="5.0"/><circle cx="825.2" cy="875.9" r="5.0"/><circle cx="822.4" cy="885.5" r="5.0"/><circle cx="809.2" cy="900.0" r="5.0"/><circle cx="819.0" cy="893.8" r="5.0"/><circle cx="828.3" cy="876.0" r="5.0"/><circle cx="816.2" cy="909.4" r="5.0"/><circle cx="823.3" cy="889.0" r="5.0"/><circle cx="811.5" cy="873.8" r="5.0"/><circle cx="805.7" cy="893.8" r="5.0"/><circle cx="820.8" cy="894.4" r="5.0"/><circle cx="818.5" cy="877.0" r="5.0"/><circle cx="820.5" cy="905.5" r="5.0"/><circle cx="816.4" cy="899.8" r="5.0"/><circle cx="819.0" cy="906.4" r="5.0"/><circle cx="812.7" cy="877.0" r="5.0"/><circle cx="820.2" cy="892.9" r="5.0"/><circle cx="822.9" cy="901.6" r="5.0"/><circle cx="816.2" cy="901.9" r="5.0"/><circle cx="822.7" cy="906.1" r="5.0"/><circle cx="810.7" cy="900.8" r="5.0"/><circle cx="827.4" cy="866.6" r="5.0"/><circle cx="818.5" cy="909.0" r="5.0"/><circle cx="815.8" cy="907.7" r="5.0"/><circle cx="807.1" cy="854.2" r="5.0"/><circle cx="819.3" cy="903.5" r="5.0"/><circle cx="822.4" cy="901.4" r="5.0"/><circle cx="805.5" cy="884.2" r="5.0"/><circle cx="820.8" cy="889.4" r="5.0"/><circle cx="820.3" cy="909.2" r="5.0"/><circle cx="819.9" cy="880.0" r="5.0"/><circle cx="808.1" cy="869.8" r="5.0"/><circle cx="820.7" cy="901.0" r="5.0"/><circle cx="805.4" cy="851.9" r="5.0"/><circle cx="827.8" cy="892.5" r="5.0"/><circle cx="817.6" cy="910.3" r="5.0"/><circle cx="807.9" cy="865.5" r="5.0"/><circle cx="826.7" cy="887.2" r="5.0"/><circle cx="825.3" cy="893.6" r="5.0"/><circle cx="811.7" cy="866.8" r="5.0"/><circle cx="809.1" cy="904.4" r="5.0"/><circle cx="819.0" cy="899.7" r="5.0"/><circle cx="825.5" cy="857.8" r="5.0"/><circle cx="824.1" cy="834.9" r="5.0"/><circle cx="816.1" cy="896.2" r="5.0"/><circle cx="816.5" cy="908.3" r="5.0"/><circle cx="808.5" cy="887.2" r="5.0"/><circle cx="819.1" cy="904.8" r="5.0"/><circle cx="808.3" cy="905.5" r="5.0"/><circle cx="809.3" cy="905.7" r="5.0"/><circle cx="813.2" cy="908.8" r="5.0"/><circle cx="807.4" cy="878.9" r="5.0"/><circle cx="828.4" cy="876.4" r="5.0"/><circle cx="806.6" cy="863.2" r="5.0"/><circle cx="810.9" cy="904.3" r="5.0"/><circle cx="814.2" cy="910.7" r="5.0"/><circle cx="816.6" cy="890.8" r="5.0"/><circle cx="822.5" cy="905.1" r="5.0"/><circle cx="822.7" cy="893.1" r="5.0"/><circle cx="814.3" cy="907.1" r="5.0"/><circle cx="813.7" cy="911.0" r="5.0"/><circle cx="816.9" cy="908.2" r="5.0"/><circle cx="822.8" cy="905.9" r="5.0"/><circle cx="821.8" cy="906.8" r="5.0"/><circle cx="812.7" cy="904.9" r="5.0"/><circle cx="823.7" cy="837.9" r="5.0"/><circle cx="818.6" cy="890.2" r="5.0"/><circle cx="819.2" cy="904.9" r="5.0"/><circle cx="812.7" cy="910.7" r="5.0"/><circle cx="809.1" cy="897.0" r="5.0"/><circle cx="814.1" cy="907.0" r="5.0"/><circle cx="814.9" cy="906.9" r="5.0"/><circle cx="811.9" cy="896.5" r="5.0"/><circle cx="805.7" cy="905.4" r="5.0"/><circle cx="814.3" cy="860.5" r="5.0"/><circle cx="820.9" cy="849.7" r="5.0"/><circle cx="812.9" cy="853.1" r="5.0"/><circle cx="816.8" cy="882.6" r="5.0"/><circle cx="815.0" cy="910.0" r="5.0"/><circle cx="815.7" cy="894.7" r="5.0"/><circle cx="807.4" cy="849.9" r="5.0"/><circle cx="803.6" cy="866.4" r="5.0"/><circle cx="819.7" cy="890.8" r="5.0"/><circle cx="810.5" cy="893.2" r="5.0"/><circle cx="820.3" cy="910.6" r="5.0"/><circle cx="813.4" cy="908.7" r="5.0"/><circle cx="821.3" cy="902.8" r="5.0"/><circle cx="814.1" cy="894.5" r="5.0"/><circle cx="805.3" cy="899.1" r="5.0"/><circle cx="816.0" cy="902.1" r="5.0"/><circle cx="814.1" cy="910.8" r="5.0"/><circle cx="821.5" cy="892.6" r="5.0"/><circle cx="813.2" cy="905.9" r="5.0"/><circle cx="813.6" cy="887.8" r="5.0"/><circle cx="823.1" cy="891.6" r="5.0"/><circle cx="825.4" cy="902.3" r="5.0"/><circle cx="822.3" cy="908.9" r="5.0"/><circle cx="824.4" cy="882.8" r="5.0"/><circle cx="820.0" cy="895.1" r="5.0"/><circle cx="822.4" cy="907.0" r="5.0"/><circle cx="823.2" cy="891.4" r="5.0"/><circle cx="819.6" cy="910.9" r="5.0"/><circle cx="817.1" cy="908.0" r="5.0"/><circle cx="817.7" cy="904.7" r="5.0"/><circle cx="816.7" cy="903.0" r="5.0"/><circle cx="814.8" cy="906.4" r="5.0"/><circle cx="813.9" cy="900.3" r="5.0"/><circle cx="816.3" cy="902.6" r="5.0"/><circle cx="818.4" cy="906.7" r="5.0"/><circle cx="808.1" cy="897.6" r="5.0"/><circle cx="818.8" cy="906.3" r="5.0"/><circle cx="804.5" cy="904.2" r="5.0"/><circle cx="818.5" cy="892.5" r="5.0"/><circle cx="817.7" cy="897.0" r="5.0"/><circle cx="825.3" cy="902.0" r="5.0"/><circle cx="829.1" cy="877.4" r="5.0"/><circle cx="819.4" cy="899.7" r="5.0"/><circle cx="812.4" cy="874.0" r="5.0"/><circle cx="807.8" cy="863.8" r="5.0"/><circle cx="810.7" cy="907.7" r="5.0"/><circle cx="816.9" cy="905.5" r="5.0"/><circle cx="817.2" cy="903.5" r="5.0"/><circle cx="816.5" cy="906.5" r="5.0"/><circle cx="821.4" cy="900.1" r="5.0"/><circle cx="814.1" cy="910.9" r="5.0"/><circle cx="817.4" cy="904.8" r="5.0"/><circle cx="811.1" cy="906.0" r="5.0"/><circle cx="813.1" cy="899.1" r="5.0"/><circle cx="817.5" cy="898.6" r="5.0"/><circle cx="828.2" cy="810.3" r="5.0"/><circle cx="817.8" cy="907.9" r="5.0"/><circle cx="819.3" cy="902.7" r="5.0"/><circle cx="809.2" cy="853.7" r="5.0"/><circle cx="827.3" cy="827.5" r="5.0"/><circle cx="810.8" cy="892.4" r="5.0"/><circle cx="822.6" cy="886.5" r="5.0"/><circle cx="817.4" cy="868.8" r="5.0"/><circle cx="809.4" cy="889.7" r="5.0"/><circle cx="824.3" cy="895.9" r="5.0"/><circle cx="816.7" cy="910.7" r="5.0"/><circle cx="817.9" cy="896.6" r="5.0"/><circle cx="820.0" cy="889.0" r="5.0"/><circle cx="816.4" cy="898.6" r="5.0"/><circle cx="813.8" cy="902.6" r="5.0"/><circle cx="820.1" cy="894.6" r="5.0"/><circle cx="813.6" cy="908.1" r="5.0"/><circle cx="817.1" cy="902.1" r="5.0"/><circle cx="811.6" cy="907.4" r="5.0"/><circle cx="805.4" cy="901.2" r="5.0"/><circle cx="811.5" cy="885.7" r="5.0"/><circle cx="812.9" cy="863.8" r="5.0"/><circle cx="816.7" cy="905.2" r="5.0"/><circle cx="825.5" cy="864.5" r="5.0"/><circle cx="803.9" cy="883.9" r="5.0"/><circle cx="817.6" cy="909.3" r="5.0"/><circle cx="808.7" cy="837.8" r="5.0"/><circle cx="812.8" cy="905.1" r="5.0"/><circle cx="817.8" cy="906.9" r="5.0"/><circle cx="817.2" cy="905.1" r="5.0"/><circle cx="815.7" cy="903.7" r="5.0"/><circle cx="810.6" cy="893.0" r="5.0"/><circle cx="815.4" cy="908.7" r="5.0"/><circle cx="810.1" cy="898.3" r="5.0"/><circle cx="829.2" cy="876.0" r="5.0"/><circle cx="821.2" cy="861.4" r="5.0"/><circle cx="813.8" cy="905.8" r="5.0"/><circle cx="825.6" cy="857.7" r="5.0"/><circle cx="817.8" cy="910.5" r="5.0"/><circle cx="786.6" cy="906.0" r="5.0"/><circle cx="806.1" cy="897.4" r="5.0"/><circle cx="837.1" cy="896.2" r="5.0"/><circle cx="826.2" cy="904.2" r="5.0"/><circle cx="796.6" cy="903.6" r="5.0"/><circle cx="792.6" cy="902.0" r="5.0"/><circle cx="827.7" cy="898.4" r="5.0"/><circle cx="815.2" cy="910.9" r="5.0"/><circle cx="807.5" cy="899.0" r="5.0"/><circle cx="821.6" cy="896.4" r="5.0"/><circle cx="807.8" cy="904.9" r="5.0"/><circle cx="789.0" cy="904.4" r="5.0"/><circle cx="827.1" cy="896.6" r="5.0"/><circle cx="806.8" cy="904.9" r="5.0"/><circle cx="801.8" cy="905.3" r="5.0"/><circle cx="797.2" cy="898.1" r="5.0"/><circle cx="819.3" cy="903.9" r="5.0"/><circle cx="804.6" cy="901.3" r="5.0"/><circle cx="824.5" cy="906.7" r="5.0"/><circle cx="812.1" cy="900.8" r="5.0"/><circle cx="830.9" cy="905.5" r="5.0"/><circle cx="810.4" cy="899.2" r="5.0"/><circle cx="806.7" cy="903.6" r="5.0"/><circle cx="788.4" cy="897.2" r="5.0"/><circle cx="800.5" cy="902.8" r="5.0"/><circle cx="825.9" cy="898.1" r="5.0"/><circle cx="846.6" cy="904.4" r="5.0"/><circle cx="798.4" cy="900.9" r="5.0"/><circle cx="801.3" cy="907.0" r="5.0"/><circle cx="820.5" cy="902.2" r="5.0"/><circle cx="822.5" cy="901.0" r="5.0"/><circle cx="806.4" cy="908.1" r="5.0"/><circle cx="816.9" cy="902.8" r="5.0"/><circle cx="793.4" cy="897.2" r="5.0"/><circle cx="811.7" cy="908.0" r="5.0"/><circle cx="828.4" cy="903.7" r="5.0"/><circle cx="838.6" cy="898.4" r="5.0"/><circle cx="813.5" cy="904.6" r="5.0"/><circle cx="812.2" cy="910.6" r="5.0"/><circle cx="822.1" cy="903.1" r="5.0"/><circle cx="831.3" cy="904.1" r="5.0"/><circle cx="822.6" cy="897.1" r="5.0"/><circle cx="805.4" cy="901.0" r="5.0"/><circle cx="820.8" cy="899.3" r="5.0"/><circle cx="829.3" cy="905.5" r="5.0"/><circle cx="805.9" cy="897.5" r="5.0"/><circle cx="797.2" cy="898.6" r="5.0"/><circle cx="822.9" cy="909.6" r="5.0"/><circle cx="820.9" cy="901.1" r="5.0"/><circle cx="829.3" cy="897.4" r="5.0"/><circle cx="817.1" cy="901.2" r="5.0"/><circle cx="806.9" cy="896.4" r="5.0"/><circle cx="809.8" cy="907.1" r="5.0"/><circle cx="801.5" cy="902.2" r="5.0"/><circle cx="802.7" cy="903.0" r="5.0"/><circle cx="808.0" cy="906.6" r="5.0"/><circle cx="809.1" cy="899.3" r="5.0"/><circle cx="831.4" cy="904.5" r="5.0"/><circle cx="798.8" cy="901.2" r="5.0"/><circle cx="815.2" cy="899.2" r="5.0"/><circle cx="807.7" cy="900.1" r="5.0"/><circle cx="836.6" cy="909.5" r="5.0"/><circle cx="819.5" cy="910.2" r="5.0"/><circle cx="810.7" cy="898.7" r="5.0"/><circle cx="827.2" cy="901.2" r="5.0"/><circle cx="816.8" cy="908.8" r="5.0"/><circle cx="809.3" cy="909.0" r="5.0"/><circle cx="837.3" cy="903.5" r="5.0"/><circle cx="825.8" cy="908.3" r="5.0"/><circle cx="840.0" cy="897.0" r="5.0"/><circle cx="832.0" cy="907.6" r="5.0"/><circle cx="826.7" cy="896.8" r="5.0"/><circle cx="817.8" cy="900.2" r="5.0"/><circle cx="800.8" cy="902.6" r="5.0"/><circle cx="825.8" cy="900.9" r="5.0"/><circle cx="817.0" cy="900.6" r="5.0"/><circle cx="825.4" cy="906.7" r="5.0"/><circle cx="815.8" cy="903.7" r="5.0"/><circle cx="806.3" cy="910.0" r="5.0"/><circle cx="801.9" cy="910.3" r="5.0"/><circle cx="825.7" cy="896.8" r="5.0"/><circle cx="834.0" cy="898.2" r="5.0"/><circle cx="812.0" cy="899.7" r="5.0"/><circle cx="822.3" cy="909.4" r="5.0"/><circle cx="835.3" cy="901.6" r="5.0"/><circle cx="804.4" cy="900.3" r="5.0"/><circle cx="811.2" cy="904.5" r="5.0"/><circle cx="800.4" cy="905.3" r="5.0"/><circle cx="832.4" cy="900.1" r="5.0"/><circle cx="819.7" cy="910.8" r="5.0"/><circle cx="809.6" cy="903.9" r="5.0"/><circle cx="792.9" cy="907.1" r="5.0"/><circle cx="813.5" cy="904.3" r="5.0"/><circle cx="829.9" cy="902.7" r="5.0"/><circle cx="811.9" cy="904.7" r="5.0"/><circle cx="810.1" cy="897.8" r="5.0"/><circle cx="824.9" cy="897.7" r="5.0"/><circle cx="798.9" cy="899.6" r="5.0"/><circle cx="816.8" cy="899.1" r="5.0"/><circle cx="824.4" cy="903.5" r="5.0"/><circle cx="805.2" cy="906.9" r="5.0"/><circle cx="804.5" cy="898.7" r="5.0"/><circle cx="819.5" cy="909.2" r="5.0"/><circle cx="814.7" cy="902.1" r="5.0"/><circle cx="812.8" cy="901.5" r="5.0"/><circle cx="818.9" cy="909.4" r="5.0"/><circle cx="819.2" cy="907.9" r="5.0"/><circle cx="803.2" cy="900.9" r="5.0"/><circle cx="806.8" cy="898.1" r="5.0"/><circle cx="822.3" cy="905.1" r="5.0"/><circle cx="831.7" cy="903.0" r="5.0"/><circle cx="834.9" cy="900.4" r="5.0"/><circle cx="804.3" cy="902.3" r="5.0"/><circle cx="831.3" cy="904.0" r="5.0"/><circle cx="826.6" cy="901.4" r="5.0"/><circle cx="815.7" cy="900.3" r="5.0"/><circle cx="822.9" cy="899.0" r="5.0"/><circle cx="827.6" cy="902.6" r="5.0"/><circle cx="841.0" cy="901.1" r="5.0"/><circle cx="801.4" cy="908.1" r="5.0"/><circle cx="824.5" cy="908.6" r="5.0"/><circle cx="814.2" cy="898.8" r="5.0"/><circle cx="813.2" cy="907.6" r="5.0"/><circle cx="832.1" cy="904.4" r="5.0"/><circle cx="827.5" cy="897.7" r="5.0"/><circle cx="802.0" cy="908.8" r="5.0"/><circle cx="812.2" cy="900.8" r="5.0"/><circle cx="819.3" cy="907.3" r="5.0"/><circle cx="796.5" cy="901.6" r="5.0"/><circle cx="828.1" cy="898.7" r="5.0"/><circle cx="815.1" cy="898.7" r="5.0"/><circle cx="818.4" cy="899.3" r="5.0"/><circle cx="820.8" cy="903.2" r="5.0"/><circle cx="841.2" cy="902.8" r="5.0"/><circle cx="816.7" cy="908.4" r="5.0"/><circle cx="811.2" cy="909.2" r="5.0"/><circle cx="840.3" cy="899.8" r="5.0"/><circle cx="809.2" cy="910.2" r="5.0"/><circle cx="808.9" cy="897.0" r="5.0"/><circle cx="796.9" cy="908.2" r="5.0"/><circle cx="831.2" cy="900.2" r="5.0"/><circle cx="819.9" cy="904.3" r="5.0"/><circle cx="822.7" cy="901.8" r="5.0"/><circle cx="818.5" cy="899.6" r="5.0"/><circle cx="814.3" cy="906.6" r="5.0"/><circle cx="805.3" cy="898.6" r="5.0"/><circle cx="805.4" cy="899.7" r="5.0"/><circle cx="822.2" cy="902.3" r="5.0"/><circle cx="817.9" cy="902.4" r="5.0"/><circle cx="838.8" cy="905.2" r="5.0"/><circle cx="869.2" cy="897.8" r="5.0"/><circle cx="944.2" cy="899.0" r="5.0"/><circle cx="844.1" cy="908.6" r="5.0"/></g>
<g fill="#1F4E96" fill-opacity="0.8"><circle cx="778.0" cy="814.2" r="5.0"/><circle cx="792.5" cy="834.5" r="5.0"/><circle cx="772.6" cy="888.7" r="5.0"/><circle cx="793.9" cy="879.1" r="5.0"/><circle cx="803.2" cy="892.2" r="5.0"/><circle cx="791.8" cy="857.1" r="5.0"/><circle cx="785.7" cy="861.1" r="5.0"/><circle cx="800.6" cy="874.9" r="5.0"/><circle cx="803.0" cy="890.4" r="5.0"/><circle cx="795.2" cy="856.4" r="5.0"/><circle cx="797.2" cy="884.5" r="5.0"/><circle cx="800.7" cy="849.3" r="5.0"/><circle cx="803.0" cy="883.9" r="5.0"/><circle cx="797.0" cy="816.8" r="5.0"/><circle cx="783.6" cy="817.7" r="5.0"/><circle cx="797.4" cy="892.3" r="5.0"/><circle cx="790.0" cy="835.1" r="5.0"/><circle cx="793.7" cy="828.9" r="5.0"/><circle cx="793.0" cy="882.1" r="5.0"/><circle cx="766.6" cy="868.9" r="5.0"/><circle cx="802.9" cy="877.8" r="5.0"/><circle cx="800.3" cy="841.8" r="5.0"/><circle cx="797.3" cy="887.0" r="5.0"/><circle cx="798.8" cy="888.5" r="5.0"/><circle cx="797.1" cy="853.1" r="5.0"/><circle cx="793.9" cy="885.9" r="5.0"/><circle cx="799.5" cy="844.5" r="5.0"/><circle cx="803.0" cy="875.6" r="5.0"/><circle cx="794.8" cy="855.4" r="5.0"/><circle cx="796.1" cy="839.0" r="5.0"/><circle cx="799.5" cy="862.7" r="5.0"/><circle cx="789.2" cy="835.9" r="5.0"/><circle cx="798.9" cy="885.9" r="5.0"/><circle cx="786.5" cy="887.2" r="5.0"/><circle cx="795.8" cy="863.0" r="5.0"/><circle cx="796.6" cy="886.7" r="5.0"/><circle cx="800.6" cy="868.6" r="5.0"/><circle cx="784.2" cy="852.5" r="5.0"/><circle cx="766.6" cy="868.2" r="5.0"/><circle cx="785.5" cy="856.6" r="5.0"/><circle cx="774.0" cy="860.1" r="5.0"/><circle cx="789.5" cy="894.3" r="5.0"/><circle cx="800.8" cy="873.1" r="5.0"/><circle cx="798.8" cy="878.0" r="5.0"/><circle cx="794.6" cy="817.9" r="5.0"/><circle cx="797.5" cy="823.2" r="5.0"/><circle cx="766.6" cy="879.2" r="5.0"/><circle cx="798.0" cy="838.2" r="5.0"/><circle cx="766.6" cy="873.5" r="5.0"/><circle cx="798.8" cy="848.8" r="5.0"/><circle cx="801.1" cy="888.5" r="5.0"/><circle cx="797.1" cy="847.2" r="5.0"/><circle cx="787.6" cy="845.0" r="5.0"/><circle cx="794.5" cy="890.0" r="5.0"/><circle cx="778.2" cy="855.0" r="5.0"/><circle cx="788.1" cy="819.1" r="5.0"/><circle cx="796.6" cy="869.6" r="5.0"/><circle cx="801.5" cy="827.5" r="5.0"/><circle cx="795.7" cy="884.6" r="5.0"/><circle cx="788.6" cy="886.0" r="5.0"/><circle cx="782.8" cy="839.3" r="5.0"/><circle cx="802.3" cy="893.5" r="5.0"/><circle cx="777.3" cy="846.2" r="5.0"/><circle cx="800.8" cy="873.4" r="5.0"/><circle cx="802.6" cy="841.1" r="5.0"/><circle cx="797.4" cy="861.1" r="5.0"/><circle cx="795.6" cy="868.0" r="5.0"/><circle cx="786.8" cy="847.0" r="5.0"/><circle cx="766.6" cy="835.5" r="5.0"/><circle cx="800.8" cy="828.5" r="5.0"/><circle cx="798.8" cy="831.6" r="5.0"/><circle cx="790.5" cy="842.4" r="5.0"/><circle cx="797.0" cy="879.2" r="5.0"/><circle cx="802.2" cy="871.9" r="5.0"/><circle cx="797.2" cy="891.0" r="5.0"/><circle cx="796.3" cy="873.6" r="5.0"/><circle cx="801.9" cy="872.5" r="5.0"/><circle cx="798.3" cy="819.6" r="5.0"/><circle cx="787.6" cy="887.3" r="5.0"/><circle cx="777.5" cy="891.3" r="5.0"/><circle cx="801.6" cy="881.5" r="5.0"/><circle cx="795.1" cy="861.7" r="5.0"/><circle cx="773.1" cy="888.5" r="5.0"/><circle cx="796.2" cy="888.9" r="5.0"/><circle cx="802.8" cy="888.1" r="5.0"/><circle cx="766.6" cy="823.7" r="5.0"/><circle cx="796.1" cy="880.7" r="5.0"/><circle cx="792.6" cy="874.9" r="5.0"/><circle cx="796.2" cy="852.1" r="5.0"/><circle cx="779.4" cy="876.0" r="5.0"/><circle cx="797.2" cy="868.3" r="5.0"/><circle cx="802.5" cy="881.7" r="5.0"/><circle cx="796.7" cy="879.9" r="5.0"/><circle cx="796.6" cy="827.1" r="5.0"/><circle cx="800.5" cy="879.5" r="5.0"/><circle cx="799.2" cy="848.5" r="5.0"/><circle cx="784.3" cy="877.4" r="5.0"/><circle cx="800.1" cy="886.8" r="5.0"/><circle cx="792.4" cy="859.5" r="5.0"/><circle cx="766.6" cy="884.6" r="5.0"/><circle cx="784.5" cy="866.6" r="5.0"/><circle cx="793.7" cy="834.3" r="5.0"/><circle cx="800.9" cy="874.3" r="5.0"/><circle cx="802.8" cy="881.4" r="5.0"/><circle cx="794.7" cy="832.0" r="5.0"/><circle cx="798.3" cy="871.3" r="5.0"/><circle cx="798.7" cy="882.1" r="5.0"/><circle cx="792.2" cy="868.3" r="5.0"/><circle cx="802.1" cy="847.1" r="5.0"/><circle cx="777.9" cy="850.8" r="5.0"/><circle cx="803.2" cy="858.3" r="5.0"/><circle cx="794.9" cy="853.6" r="5.0"/><circle cx="799.3" cy="869.7" r="5.0"/><circle cx="803.1" cy="887.7" r="5.0"/><circle cx="803.0" cy="868.1" r="5.0"/><circle cx="800.9" cy="892.1" r="5.0"/><circle cx="797.1" cy="855.8" r="5.0"/><circle cx="801.6" cy="888.2" r="5.0"/><circle cx="766.6" cy="812.5" r="5.0"/><circle cx="788.7" cy="863.0" r="5.0"/><circle cx="801.6" cy="863.9" r="5.0"/><circle cx="803.0" cy="875.9" r="5.0"/><circle cx="766.6" cy="866.3" r="5.0"/><circle cx="801.6" cy="881.8" r="5.0"/><circle cx="795.9" cy="878.8" r="5.0"/><circle cx="777.8" cy="868.1" r="5.0"/><circle cx="790.1" cy="867.9" r="5.0"/><circle cx="801.5" cy="894.6" r="5.0"/><circle cx="788.5" cy="821.8" r="5.0"/><circle cx="803.0" cy="881.8" r="5.0"/><circle cx="792.4" cy="841.4" r="5.0"/><circle cx="795.8" cy="828.3" r="5.0"/><circle cx="798.3" cy="859.1" r="5.0"/><circle cx="796.6" cy="878.2" r="5.0"/><circle cx="793.9" cy="852.8" r="5.0"/><circle cx="775.8" cy="877.5" r="5.0"/><circle cx="801.7" cy="886.7" r="5.0"/><circle cx="800.7" cy="849.2" r="5.0"/><circle cx="797.9" cy="865.6" r="5.0"/><circle cx="782.7" cy="816.3" r="5.0"/><circle cx="800.7" cy="870.3" r="5.0"/><circle cx="798.9" cy="861.6" r="5.0"/><circle cx="800.0" cy="864.6" r="5.0"/><circle cx="796.9" cy="875.0" r="5.0"/><circle cx="798.0" cy="854.6" r="5.0"/><circle cx="789.0" cy="853.4" r="5.0"/><circle cx="801.1" cy="853.4" r="5.0"/><circle cx="791.8" cy="885.0" r="5.0"/><circle cx="783.3" cy="874.4" r="5.0"/><circle cx="803.1" cy="863.9" r="5.0"/><circle cx="766.6" cy="881.3" r="5.0"/><circle cx="790.6" cy="890.2" r="5.0"/><circle cx="801.9" cy="824.9" r="5.0"/><circle cx="800.5" cy="835.1" r="5.0"/><circle cx="802.8" cy="858.2" r="5.0"/><circle cx="793.7" cy="877.5" r="5.0"/><circle cx="793.7" cy="849.9" r="5.0"/><circle cx="792.1" cy="831.7" r="5.0"/><circle cx="802.4" cy="864.9" r="5.0"/><circle cx="801.3" cy="867.9" r="5.0"/><circle cx="801.6" cy="876.7" r="5.0"/><circle cx="779.6" cy="868.5" r="5.0"/><circle cx="772.1" cy="884.4" r="5.0"/><circle cx="791.9" cy="861.4" r="5.0"/><circle cx="780.0" cy="884.3" r="5.0"/><circle cx="789.4" cy="881.1" r="5.0"/><circle cx="794.2" cy="887.2" r="5.0"/><circle cx="800.9" cy="889.7" r="5.0"/><circle cx="801.6" cy="866.2" r="5.0"/><circle cx="787.3" cy="801.1" r="5.0"/><circle cx="790.2" cy="893.0" r="5.0"/><circle cx="799.3" cy="869.6" r="5.0"/><circle cx="795.5" cy="891.2" r="5.0"/><circle cx="797.8" cy="870.4" r="5.0"/><circle cx="793.3" cy="891.1" r="5.0"/><circle cx="797.4" cy="871.1" r="5.0"/><circle cx="803.2" cy="877.9" r="5.0"/><circle cx="802.4" cy="866.7" r="5.0"/><circle cx="801.0" cy="859.2" r="5.0"/><circle cx="802.8" cy="872.5" r="5.0"/><circle cx="785.6" cy="870.4" r="5.0"/><circle cx="794.5" cy="883.8" r="5.0"/><circle cx="801.8" cy="880.5" r="5.0"/><circle cx="802.5" cy="875.3" r="5.0"/><circle cx="796.6" cy="871.0" r="5.0"/><circle cx="773.1" cy="862.3" r="5.0"/><circle cx="801.7" cy="858.1" r="5.0"/><circle cx="800.2" cy="889.2" r="5.0"/><circle cx="787.4" cy="838.1" r="5.0"/><circle cx="787.2" cy="859.0" r="5.0"/><circle cx="797.0" cy="870.3" r="5.0"/><circle cx="799.4" cy="869.4" r="5.0"/><circle cx="803.0" cy="885.4" r="5.0"/><circle cx="802.6" cy="854.8" r="5.0"/><circle cx="793.6" cy="894.2" r="5.0"/><circle cx="798.6" cy="893.9" r="5.0"/><circle cx="796.8" cy="850.1" r="5.0"/><circle cx="785.9" cy="881.7" r="5.0"/><circle cx="800.6" cy="874.0" r="5.0"/><circle cx="802.0" cy="883.1" r="5.0"/><circle cx="746.5" cy="772.8" r="5.0"/><circle cx="744.0" cy="774.0" r="5.0"/><circle cx="734.0" cy="787.2" r="5.0"/><circle cx="751.5" cy="787.2" r="5.0"/><circle cx="779.1" cy="776.4" r="5.0"/><circle cx="756.5" cy="831.7" r="5.0"/><circle cx="757.5" cy="830.5" r="5.0"/></g>
<g fill="#C8333D" fill-opacity="0.8"><circle cx="831.3" cy="889.8" r="5.0"/><circle cx="831.5" cy="829.6" r="5.0"/><circle cx="830.0" cy="854.6" r="5.0"/><circle cx="831.5" cy="884.9" r="5.0"/><circle cx="831.5" cy="888.7" r="5.0"/><circle cx="832.3" cy="838.2" r="5.0"/><circle cx="837.7" cy="856.0" r="5.0"/><circle cx="831.6" cy="863.2" r="5.0"/><circle cx="830.4" cy="866.7" r="5.0"/><circle cx="831.8" cy="877.1" r="5.0"/><circle cx="830.2" cy="813.1" r="5.0"/><circle cx="847.3" cy="840.5" r="5.0"/><circle cx="831.3" cy="868.4" r="5.0"/><circle cx="830.6" cy="892.0" r="5.0"/><circle cx="831.1" cy="872.8" r="5.0"/><circle cx="833.6" cy="886.0" r="5.0"/><circle cx="832.2" cy="858.5" r="5.0"/><circle cx="832.0" cy="823.1" r="5.0"/><circle cx="831.4" cy="854.5" r="5.0"/><circle cx="832.1" cy="863.3" r="5.0"/><circle cx="834.1" cy="853.7" r="5.0"/><circle cx="833.0" cy="882.8" r="5.0"/><circle cx="830.1" cy="852.4" r="5.0"/><circle cx="836.7" cy="874.7" r="5.0"/><circle cx="830.7" cy="871.1" r="5.0"/><circle cx="838.2" cy="865.0" r="5.0"/><circle cx="831.2" cy="889.4" r="5.0"/><circle cx="838.6" cy="859.2" r="5.0"/><circle cx="830.2" cy="860.7" r="5.0"/><circle cx="835.0" cy="882.9" r="5.0"/><circle cx="856.1" cy="880.9" r="5.0"/><circle cx="830.2" cy="880.9" r="5.0"/><circle cx="830.4" cy="868.2" r="5.0"/><circle cx="830.1" cy="838.0" r="5.0"/><circle cx="832.1" cy="894.2" r="5.0"/><circle cx="830.2" cy="886.4" r="5.0"/><circle cx="840.0" cy="889.1" r="5.0"/><circle cx="831.7" cy="878.1" r="5.0"/><circle cx="840.6" cy="842.3" r="5.0"/><circle cx="837.3" cy="854.1" r="5.0"/><circle cx="834.5" cy="865.2" r="5.0"/><circle cx="832.0" cy="850.3" r="5.0"/><circle cx="836.4" cy="871.0" r="5.0"/><circle cx="830.1" cy="865.8" r="5.0"/><circle cx="847.6" cy="802.5" r="5.0"/><circle cx="836.9" cy="845.6" r="5.0"/><circle cx="833.2" cy="827.1" r="5.0"/><circle cx="833.9" cy="783.5" r="5.0"/><circle cx="831.2" cy="887.9" r="5.0"/><circle cx="831.5" cy="887.9" r="5.0"/><circle cx="831.0" cy="822.1" r="5.0"/><circle cx="834.7" cy="872.1" r="5.0"/><circle cx="831.5" cy="776.3" r="5.0"/><circle cx="837.9" cy="823.1" r="5.0"/><circle cx="830.5" cy="883.0" r="5.0"/><circle cx="836.6" cy="850.4" r="5.0"/><circle cx="831.2" cy="849.8" r="5.0"/><circle cx="838.3" cy="880.2" r="5.0"/><circle cx="842.4" cy="861.2" r="5.0"/><circle cx="837.8" cy="879.7" r="5.0"/><circle cx="830.5" cy="874.1" r="5.0"/><circle cx="840.2" cy="869.1" r="5.0"/><circle cx="844.4" cy="866.3" r="5.0"/><circle cx="833.8" cy="885.9" r="5.0"/><circle cx="831.9" cy="790.7" r="5.0"/><circle cx="834.6" cy="889.2" r="5.0"/><circle cx="835.8" cy="862.6" r="5.0"/><circle cx="834.4" cy="879.9" r="5.0"/><circle cx="831.1" cy="819.8" r="5.0"/><circle cx="833.7" cy="876.8" r="5.0"/><circle cx="830.7" cy="876.9" r="5.0"/><circle cx="831.1" cy="794.9" r="5.0"/><circle cx="831.1" cy="877.7" r="5.0"/><circle cx="844.1" cy="868.2" r="5.0"/><circle cx="832.5" cy="882.3" r="5.0"/><circle cx="830.9" cy="852.9" r="5.0"/><circle cx="832.3" cy="861.8" r="5.0"/><circle cx="831.7" cy="885.9" r="5.0"/><circle cx="843.6" cy="860.0" r="5.0"/><circle cx="830.3" cy="878.4" r="5.0"/><circle cx="831.9" cy="855.8" r="5.0"/><circle cx="831.6" cy="886.7" r="5.0"/><circle cx="835.8" cy="840.5" r="5.0"/><circle cx="832.4" cy="834.5" r="5.0"/><circle cx="833.3" cy="883.8" r="5.0"/><circle cx="833.9" cy="869.2" r="5.0"/><circle cx="837.8" cy="849.1" r="5.0"/><circle cx="839.7" cy="889.0" r="5.0"/><circle cx="835.3" cy="865.4" r="5.0"/><circle cx="849.4" cy="859.5" r="5.0"/><circle cx="832.3" cy="887.7" r="5.0"/><circle cx="832.9" cy="883.2" r="5.0"/><circle cx="837.1" cy="822.3" r="5.0"/><circle cx="833.2" cy="857.5" r="5.0"/><circle cx="838.5" cy="874.5" r="5.0"/><circle cx="831.4" cy="886.1" r="5.0"/><circle cx="830.2" cy="849.4" r="5.0"/><circle cx="833.3" cy="879.5" r="5.0"/><circle cx="833.8" cy="858.8" r="5.0"/><circle cx="841.5" cy="831.7" r="5.0"/><circle cx="831.6" cy="862.0" r="5.0"/><circle cx="840.1" cy="809.7" r="5.0"/><circle cx="831.3" cy="857.8" r="5.0"/><circle cx="830.8" cy="884.4" r="5.0"/><circle cx="833.9" cy="861.1" r="5.0"/><circle cx="838.5" cy="874.4" r="5.0"/><circle cx="834.9" cy="862.5" r="5.0"/><circle cx="843.6" cy="872.6" r="5.0"/><circle cx="840.4" cy="868.5" r="5.0"/><circle cx="833.2" cy="879.2" r="5.0"/><circle cx="871.7" cy="676.6" r="5.0"/><circle cx="836.6" cy="705.5" r="5.0"/><circle cx="869.2" cy="712.7" r="5.0"/><circle cx="871.7" cy="790.8" r="5.0"/><circle cx="859.1" cy="795.6" r="5.0"/><circle cx="844.1" cy="771.6" r="5.0"/><circle cx="832.6" cy="771.6" r="5.0"/></g>
<rect x="651.6" y="595.9" width="330.19999999999993" height="330.4" fill="none" stroke="#000" stroke-width="2"/>
<line x1="666.5" y1="927.3" x2="666.5" y2="938.5999999999999" stroke="#000" stroke-width="2"/>
<text x="666.5" y="966.8" font-size="25.3" text-anchor="middle" fill="#000" >−3</text>
<line x1="716.5" y1="927.3" x2="716.5" y2="938.5999999999999" stroke="#000" stroke-width="2"/>
<text x="716.5" y="966.8" font-size="25.3" text-anchor="middle" fill="#000" >−2</text>
<line x1="766.6" y1="927.3" x2="766.6" y2="938.5999999999999" stroke="#000" stroke-width="2"/>
<text x="766.6" y="966.8" font-size="25.3" text-anchor="middle" fill="#000" >−1</text>
<line x1="816.6" y1="927.3" x2="816.6" y2="938.5999999999999" stroke="#000" stroke-width="2"/>
<text x="816.6" y="966.8" font-size="25.3" text-anchor="middle" fill="#000" >0</text>
<line x1="866.6" y1="927.3" x2="866.6" y2="938.5999999999999" stroke="#000" stroke-width="2"/>
<text x="866.6" y="966.8" font-size="25.3" text-anchor="middle" fill="#000" >1</text>
<line x1="916.7" y1="927.3" x2="916.7" y2="938.5999999999999" stroke="#000" stroke-width="2"/>
<text x="916.7" y="966.8" font-size="25.3" text-anchor="middle" fill="#000" >2</text>
<line x1="966.8" y1="927.3" x2="966.8" y2="938.5999999999999" stroke="#000" stroke-width="2"/>
<text x="966.8" y="966.8" font-size="25.3" text-anchor="middle" fill="#000" >3</text>
<line x1="650.6" y1="911.0" x2="639.1" y2="911.0" stroke="#000" stroke-width="2"/>
<text x="627.6" y="920.0" font-size="25.3" text-anchor="end" fill="#000" >0</text>
<line x1="650.6" y1="850.9" x2="639.1" y2="850.9" stroke="#000" stroke-width="2"/>
<text x="627.6" y="859.9" font-size="25.3" text-anchor="end" fill="#000" >5</text>
<line x1="650.6" y1="790.8" x2="639.1" y2="790.8" stroke="#000" stroke-width="2"/>
<text x="627.6" y="799.8" font-size="25.3" text-anchor="end" fill="#000" >10</text>
<line x1="650.6" y1="730.7" x2="639.1" y2="730.7" stroke="#000" stroke-width="2"/>
<text x="627.6" y="739.7" font-size="25.3" text-anchor="end" fill="#000" >15</text>
<line x1="650.6" y1="670.6" x2="639.1" y2="670.6" stroke="#000" stroke-width="2"/>
<text x="627.6" y="679.6" font-size="25.3" text-anchor="end" fill="#000" >20</text>
<line x1="650.6" y1="610.5" x2="639.1" y2="610.5" stroke="#000" stroke-width="2"/>
<text x="627.6" y="619.5" font-size="25.3" text-anchor="end" fill="#000" >25</text>
<text x="814.6" y="565.7" font-size="25.3" text-anchor="middle" fill="#000" >LA vs BN</text>
<text x="712.4" y="1003.5" font-size="25.3">log<tspan font-size="14.5" dy="8">2</tspan><tspan dy="-8">(Fold change)</tspan></text>
<text x="0" y="0" font-size="25.3" text-anchor="start" transform="translate(582.8,839.2) rotate(-90)">−log<tspan font-size="14.5" dy="8">10</tspan><tspan dy="-8"> (FDR)</tspan></text>
<text x="1038.8" y="543.2" font-size="29.5" text-anchor="start" fill="#000" font-weight="bold" >e</text>
<line x1="1171.8999999999999" y1="911.0" x2="1502.1" y2="911.0" stroke="#c4c4c4" stroke-width="1.6"/>
<line x1="1336.9" y1="595.9" x2="1336.9" y2="926.3" stroke="#c4c4c4" stroke-width="1.6"/>
<g fill="#8A8A8A" fill-opacity="0.8"><circle cx="1332.5" cy="901.5" r="5.0"/><circle cx="1340.0" cy="905.8" r="5.0"/><circle cx="1337.0" cy="907.1" r="5.0"/><circle cx="1330.3" cy="902.0" r="5.0"/><circle cx="1340.6" cy="905.7" r="5.0"/><circle cx="1329.4" cy="871.0" r="5.0"/><circle cx="1344.4" cy="905.0" r="5.0"/><circle cx="1337.2" cy="907.1" r="5.0"/><circle cx="1331.1" cy="908.6" r="5.0"/><circle cx="1326.7" cy="903.0" r="5.0"/><circle cx="1346.0" cy="852.2" r="5.0"/><circle cx="1345.0" cy="894.2" r="5.0"/><circle cx="1329.8" cy="910.1" r="5.0"/><circle cx="1346.1" cy="894.7" r="5.0"/><circle cx="1337.8" cy="900.3" r="5.0"/><circle cx="1335.7" cy="910.3" r="5.0"/><circle cx="1336.4" cy="906.7" r="5.0"/><circle cx="1335.4" cy="903.4" r="5.0"/><circle cx="1344.9" cy="904.9" r="5.0"/><circle cx="1337.7" cy="898.6" r="5.0"/><circle cx="1326.6" cy="887.0" r="5.0"/><circle cx="1348.6" cy="879.2" r="5.0"/><circle cx="1341.8" cy="895.2" r="5.0"/><circle cx="1330.8" cy="905.7" r="5.0"/><circle cx="1334.9" cy="888.0" r="5.0"/><circle cx="1331.8" cy="892.8" r="5.0"/><circle cx="1337.2" cy="908.8" r="5.0"/><circle cx="1339.1" cy="893.9" r="5.0"/><circle cx="1338.2" cy="870.9" r="5.0"/><circle cx="1333.5" cy="889.0" r="5.0"/><circle cx="1332.4" cy="905.5" r="5.0"/><circle cx="1341.7" cy="888.6" r="5.0"/><circle cx="1336.3" cy="906.1" r="5.0"/><circle cx="1349.5" cy="895.9" r="5.0"/><circle cx="1332.4" cy="901.2" r="5.0"/><circle cx="1341.3" cy="904.1" r="5.0"/><circle cx="1337.2" cy="894.7" r="5.0"/><circle cx="1332.6" cy="879.9" r="5.0"/><circle cx="1344.5" cy="898.4" r="5.0"/><circle cx="1337.6" cy="909.6" r="5.0"/><circle cx="1331.9" cy="901.8" r="5.0"/><circle cx="1335.1" cy="899.5" r="5.0"/><circle cx="1342.6" cy="885.3" r="5.0"/><circle cx="1330.0" cy="910.8" r="5.0"/><circle cx="1344.6" cy="906.8" r="5.0"/><circle cx="1340.7" cy="902.7" r="5.0"/><circle cx="1335.3" cy="910.1" r="5.0"/><circle cx="1344.5" cy="901.3" r="5.0"/><circle cx="1346.7" cy="910.1" r="5.0"/><circle cx="1340.3" cy="902.9" r="5.0"/><circle cx="1337.9" cy="910.0" r="5.0"/><circle cx="1347.3" cy="891.6" r="5.0"/><circle cx="1345.3" cy="892.4" r="5.0"/><circle cx="1331.7" cy="886.9" r="5.0"/><circle cx="1335.7" cy="903.8" r="5.0"/><circle cx="1335.7" cy="901.0" r="5.0"/><circle cx="1334.6" cy="909.5" r="5.0"/><circle cx="1328.5" cy="849.9" r="5.0"/><circle cx="1342.0" cy="902.2" r="5.0"/><circle cx="1337.4" cy="910.2" r="5.0"/><circle cx="1337.5" cy="895.4" r="5.0"/><circle cx="1344.8" cy="895.2" r="5.0"/><circle cx="1333.7" cy="900.6" r="5.0"/><circle cx="1336.6" cy="905.2" r="5.0"/><circle cx="1338.4" cy="869.9" r="5.0"/><circle cx="1334.5" cy="906.0" r="5.0"/><circle cx="1336.3" cy="910.5" r="5.0"/><circle cx="1341.2" cy="910.1" r="5.0"/><circle cx="1336.9" cy="906.1" r="5.0"/><circle cx="1344.4" cy="902.4" r="5.0"/><circle cx="1332.7" cy="885.6" r="5.0"/><circle cx="1338.0" cy="890.5" r="5.0"/><circle cx="1328.9" cy="910.7" r="5.0"/><circle cx="1336.2" cy="906.3" r="5.0"/><circle cx="1332.9" cy="909.5" r="5.0"/><circle cx="1344.6" cy="865.2" r="5.0"/><circle cx="1341.1" cy="894.3" r="5.0"/><circle cx="1339.8" cy="905.9" r="5.0"/><circle cx="1347.3" cy="891.6" r="5.0"/><circle cx="1345.0" cy="909.6" r="5.0"/><circle cx="1341.0" cy="909.0" r="5.0"/><circle cx="1333.0" cy="903.2" r="5.0"/><circle cx="1328.7" cy="900.5" r="5.0"/><circle cx="1336.7" cy="896.5" r="5.0"/><circle cx="1334.9" cy="907.7" r="5.0"/><circle cx="1333.2" cy="886.9" r="5.0"/><circle cx="1335.3" cy="910.4" r="5.0"/><circle cx="1327.6" cy="908.1" r="5.0"/><circle cx="1345.3" cy="893.4" r="5.0"/><circle cx="1330.5" cy="908.5" r="5.0"/><circle cx="1333.1" cy="859.1" r="5.0"/><circle cx="1340.1" cy="884.1" r="5.0"/><circle cx="1327.7" cy="904.0" r="5.0"/><circle cx="1342.1" cy="901.3" r="5.0"/><circle cx="1342.2" cy="893.6" r="5.0"/><circle cx="1335.1" cy="889.8" r="5.0"/><circle cx="1330.8" cy="879.7" r="5.0"/><circle cx="1334.2" cy="906.8" r="5.0"/><circle cx="1326.4" cy="887.0" r="5.0"/><circle cx="1344.8" cy="900.7" r="5.0"/><circle cx="1337.2" cy="890.7" r="5.0"/><circle cx="1332.7" cy="896.0" r="5.0"/><circle cx="1331.8" cy="910.2" r="5.0"/><circle cx="1340.2" cy="903.5" r="5.0"/><circle cx="1345.4" cy="896.0" r="5.0"/><circle cx="1329.7" cy="907.4" r="5.0"/><circle cx="1333.6" cy="904.6" r="5.0"/><circle cx="1326.9" cy="882.0" r="5.0"/><circle cx="1340.7" cy="892.3" r="5.0"/><circle cx="1337.8" cy="898.8" r="5.0"/><circle cx="1349.7" cy="842.7" r="5.0"/><circle cx="1336.2" cy="905.7" r="5.0"/><circle cx="1334.4" cy="909.3" r="5.0"/><circle cx="1332.9" cy="903.9" r="5.0"/><circle cx="1341.7" cy="904.6" r="5.0"/><circle cx="1327.6" cy="908.4" r="5.0"/><circle cx="1341.2" cy="906.8" r="5.0"/><circle cx="1338.3" cy="900.8" r="5.0"/><circle cx="1334.0" cy="885.1" r="5.0"/><circle cx="1331.8" cy="880.0" r="5.0"/><circle cx="1342.9" cy="905.6" r="5.0"/><circle cx="1347.5" cy="889.8" r="5.0"/><circle cx="1334.4" cy="907.7" r="5.0"/><circle cx="1339.9" cy="898.0" r="5.0"/><circle cx="1346.8" cy="906.1" r="5.0"/><circle cx="1333.4" cy="902.3" r="5.0"/><circle cx="1335.5" cy="908.7" r="5.0"/><circle cx="1330.0" cy="908.9" r="5.0"/><circle cx="1336.1" cy="900.9" r="5.0"/><circle cx="1336.4" cy="909.2" r="5.0"/><circle cx="1334.5" cy="902.7" r="5.0"/><circle cx="1332.7" cy="906.7" r="5.0"/><circle cx="1327.9" cy="911.0" r="5.0"/><circle cx="1329.2" cy="885.4" r="5.0"/><circle cx="1331.3" cy="875.8" r="5.0"/><circle cx="1340.6" cy="905.5" r="5.0"/><circle cx="1334.0" cy="902.7" r="5.0"/><circle cx="1332.0" cy="896.2" r="5.0"/><circle cx="1340.6" cy="888.3" r="5.0"/><circle cx="1340.1" cy="908.9" r="5.0"/><circle cx="1332.6" cy="890.3" r="5.0"/><circle cx="1333.3" cy="891.9" r="5.0"/><circle cx="1340.7" cy="907.9" r="5.0"/><circle cx="1339.0" cy="906.4" r="5.0"/><circle cx="1332.1" cy="910.9" r="5.0"/><circle cx="1338.3" cy="908.5" r="5.0"/><circle cx="1336.7" cy="907.8" r="5.0"/><circle cx="1343.3" cy="879.9" r="5.0"/><circle cx="1331.9" cy="891.0" r="5.0"/><circle cx="1341.9" cy="908.1" r="5.0"/><circle cx="1339.4" cy="905.4" r="5.0"/><circle cx="1331.1" cy="859.6" r="5.0"/><circle cx="1342.9" cy="902.0" r="5.0"/><circle cx="1342.1" cy="896.5" r="5.0"/><circle cx="1329.4" cy="888.4" r="5.0"/><circle cx="1348.2" cy="903.4" r="5.0"/><circle cx="1330.3" cy="910.3" r="5.0"/><circle cx="1331.6" cy="885.2" r="5.0"/><circle cx="1335.1" cy="908.4" r="5.0"/><circle cx="1341.3" cy="910.5" r="5.0"/><circle cx="1340.2" cy="886.6" r="5.0"/><circle cx="1336.4" cy="910.4" r="5.0"/><circle cx="1344.7" cy="910.8" r="5.0"/><circle cx="1339.2" cy="906.6" r="5.0"/><circle cx="1344.9" cy="877.3" r="5.0"/><circle cx="1338.0" cy="903.5" r="5.0"/><circle cx="1334.3" cy="901.0" r="5.0"/><circle cx="1330.7" cy="909.6" r="5.0"/><circle cx="1337.4" cy="903.5" r="5.0"/><circle cx="1337.5" cy="906.5" r="5.0"/><circle cx="1329.8" cy="904.9" r="5.0"/><circle cx="1330.3" cy="902.8" r="5.0"/><circle cx="1335.4" cy="907.5" r="5.0"/><circle cx="1335.8" cy="909.8" r="5.0"/><circle cx="1342.5" cy="903.9" r="5.0"/><circle cx="1337.1" cy="905.7" r="5.0"/><circle cx="1336.8" cy="903.0" r="5.0"/><circle cx="1338.6" cy="901.3" r="5.0"/><circle cx="1331.0" cy="888.8" r="5.0"/><circle cx="1336.6" cy="905.1" r="5.0"/><circle cx="1342.9" cy="897.9" r="5.0"/><circle cx="1343.1" cy="904.4" r="5.0"/><circle cx="1339.6" cy="904.0" r="5.0"/><circle cx="1335.3" cy="907.5" r="5.0"/><circle cx="1332.1" cy="901.5" r="5.0"/><circle cx="1344.6" cy="864.0" r="5.0"/><circle cx="1339.9" cy="899.4" r="5.0"/><circle cx="1334.4" cy="906.7" r="5.0"/><circle cx="1324.3" cy="866.2" r="5.0"/><circle cx="1331.8" cy="903.8" r="5.0"/><circle cx="1325.7" cy="909.5" r="5.0"/><circle cx="1344.2" cy="906.6" r="5.0"/><circle cx="1338.0" cy="891.7" r="5.0"/><circle cx="1332.6" cy="871.4" r="5.0"/><circle cx="1335.3" cy="886.7" r="5.0"/><circle cx="1344.0" cy="908.1" r="5.0"/><circle cx="1329.0" cy="839.6" r="5.0"/><circle cx="1336.1" cy="910.0" r="5.0"/><circle cx="1329.7" cy="908.3" r="5.0"/><circle cx="1326.8" cy="880.8" r="5.0"/><circle cx="1337.9" cy="909.5" r="5.0"/><circle cx="1346.1" cy="908.7" r="5.0"/><circle cx="1337.2" cy="909.8" r="5.0"/><circle cx="1334.7" cy="909.6" r="5.0"/><circle cx="1338.1" cy="904.7" r="5.0"/><circle cx="1343.0" cy="884.9" r="5.0"/><circle cx="1328.3" cy="894.0" r="5.0"/><circle cx="1325.9" cy="898.5" r="5.0"/><circle cx="1348.0" cy="901.3" r="5.0"/><circle cx="1338.6" cy="908.1" r="5.0"/><circle cx="1346.4" cy="894.2" r="5.0"/><circle cx="1338.3" cy="897.2" r="5.0"/><circle cx="1345.6" cy="901.2" r="5.0"/><circle cx="1333.3" cy="909.6" r="5.0"/><circle cx="1339.8" cy="904.7" r="5.0"/><circle cx="1346.1" cy="910.5" r="5.0"/><circle cx="1342.9" cy="875.0" r="5.0"/><circle cx="1334.2" cy="902.2" r="5.0"/><circle cx="1342.2" cy="900.0" r="5.0"/><circle cx="1333.0" cy="880.3" r="5.0"/><circle cx="1328.5" cy="909.0" r="5.0"/><circle cx="1340.0" cy="905.7" r="5.0"/><circle cx="1345.2" cy="909.8" r="5.0"/><circle cx="1341.9" cy="875.4" r="5.0"/><circle cx="1329.4" cy="908.9" r="5.0"/><circle cx="1342.1" cy="891.2" r="5.0"/><circle cx="1340.9" cy="885.7" r="5.0"/><circle cx="1334.2" cy="896.8" r="5.0"/><circle cx="1342.9" cy="907.5" r="5.0"/><circle cx="1342.2" cy="891.4" r="5.0"/><circle cx="1339.9" cy="884.4" r="5.0"/><circle cx="1326.6" cy="892.4" r="5.0"/><circle cx="1328.0" cy="905.3" r="5.0"/><circle cx="1342.9" cy="903.2" r="5.0"/><circle cx="1341.7" cy="895.8" r="5.0"/><circle cx="1339.8" cy="906.7" r="5.0"/><circle cx="1335.4" cy="907.1" r="5.0"/><circle cx="1339.2" cy="910.7" r="5.0"/><circle cx="1333.7" cy="905.5" r="5.0"/><circle cx="1335.0" cy="908.9" r="5.0"/><circle cx="1331.7" cy="909.1" r="5.0"/><circle cx="1338.4" cy="904.8" r="5.0"/><circle cx="1334.4" cy="881.8" r="5.0"/><circle cx="1342.6" cy="907.5" r="5.0"/><circle cx="1341.2" cy="892.0" r="5.0"/><circle cx="1332.1" cy="908.5" r="5.0"/><circle cx="1347.9" cy="894.2" r="5.0"/><circle cx="1330.2" cy="909.2" r="5.0"/><circle cx="1339.6" cy="903.7" r="5.0"/><circle cx="1343.4" cy="910.7" r="5.0"/><circle cx="1344.6" cy="883.0" r="5.0"/><circle cx="1342.9" cy="904.3" r="5.0"/><circle cx="1344.2" cy="842.3" r="5.0"/><circle cx="1345.5" cy="906.0" r="5.0"/><circle cx="1332.8" cy="887.5" r="5.0"/><circle cx="1336.3" cy="910.8" r="5.0"/><circle cx="1334.2" cy="906.9" r="5.0"/><circle cx="1344.9" cy="907.0" r="5.0"/><circle cx="1332.8" cy="909.2" r="5.0"/><circle cx="1344.3" cy="908.0" r="5.0"/><circle cx="1340.3" cy="899.7" r="5.0"/><circle cx="1328.2" cy="891.3" r="5.0"/><circle cx="1331.0" cy="888.2" r="5.0"/><circle cx="1334.1" cy="900.8" r="5.0"/><circle cx="1337.5" cy="902.2" r="5.0"/><circle cx="1342.9" cy="910.8" r="5.0"/><circle cx="1335.8" cy="904.0" r="5.0"/><circle cx="1342.4" cy="905.8" r="5.0"/><circle cx="1327.5" cy="883.1" r="5.0"/><circle cx="1334.9" cy="903.7" r="5.0"/><circle cx="1339.7" cy="891.0" r="5.0"/><circle cx="1334.7" cy="904.8" r="5.0"/><circle cx="1330.8" cy="910.9" r="5.0"/><circle cx="1339.4" cy="896.1" r="5.0"/><circle cx="1348.5" cy="881.2" r="5.0"/><circle cx="1336.3" cy="903.5" r="5.0"/><circle cx="1332.5" cy="903.3" r="5.0"/><circle cx="1331.8" cy="893.7" r="5.0"/><circle cx="1348.7" cy="897.9" r="5.0"/><circle cx="1336.7" cy="909.2" r="5.0"/><circle cx="1340.6" cy="909.8" r="5.0"/><circle cx="1344.2" cy="887.5" r="5.0"/><circle cx="1343.4" cy="909.7" r="5.0"/><circle cx="1331.4" cy="906.2" r="5.0"/><circle cx="1342.6" cy="897.9" r="5.0"/><circle cx="1342.0" cy="885.9" r="5.0"/><circle cx="1339.8" cy="909.3" r="5.0"/><circle cx="1343.0" cy="910.9" r="5.0"/><circle cx="1333.5" cy="902.5" r="5.0"/><circle cx="1336.5" cy="901.7" r="5.0"/><circle cx="1333.7" cy="898.5" r="5.0"/><circle cx="1341.5" cy="903.1" r="5.0"/><circle cx="1333.0" cy="897.6" r="5.0"/><circle cx="1339.3" cy="904.3" r="5.0"/><circle cx="1330.3" cy="907.7" r="5.0"/><circle cx="1336.2" cy="908.9" r="5.0"/><circle cx="1334.7" cy="890.9" r="5.0"/><circle cx="1336.2" cy="908.1" r="5.0"/><circle cx="1337.7" cy="902.0" r="5.0"/><circle cx="1335.8" cy="908.1" r="5.0"/><circle cx="1335.6" cy="894.0" r="5.0"/><circle cx="1324.5" cy="890.1" r="5.0"/><circle cx="1343.5" cy="876.2" r="5.0"/><circle cx="1333.2" cy="897.7" r="5.0"/><circle cx="1335.4" cy="909.4" r="5.0"/><circle cx="1331.9" cy="910.1" r="5.0"/><circle cx="1342.9" cy="899.6" r="5.0"/><circle cx="1331.5" cy="886.1" r="5.0"/><circle cx="1339.9" cy="908.1" r="5.0"/><circle cx="1344.0" cy="905.6" r="5.0"/><circle cx="1346.8" cy="911.0" r="5.0"/><circle cx="1344.0" cy="895.4" r="5.0"/><circle cx="1340.6" cy="904.7" r="5.0"/><circle cx="1329.7" cy="888.0" r="5.0"/><circle cx="1344.7" cy="885.6" r="5.0"/><circle cx="1344.0" cy="892.6" r="5.0"/><circle cx="1341.9" cy="896.9" r="5.0"/><circle cx="1341.7" cy="894.5" r="5.0"/><circle cx="1337.4" cy="902.8" r="5.0"/><circle cx="1333.8" cy="903.1" r="5.0"/><circle cx="1343.4" cy="907.1" r="5.0"/><circle cx="1344.6" cy="906.3" r="5.0"/><circle cx="1330.7" cy="906.4" r="5.0"/><circle cx="1342.4" cy="883.8" r="5.0"/><circle cx="1338.4" cy="893.5" r="5.0"/><circle cx="1342.3" cy="903.2" r="5.0"/><circle cx="1338.6" cy="889.4" r="5.0"/><circle cx="1343.6" cy="903.9" r="5.0"/><circle cx="1343.1" cy="907.5" r="5.0"/><circle cx="1342.3" cy="906.7" r="5.0"/><circle cx="1328.7" cy="900.7" r="5.0"/><circle cx="1341.9" cy="901.4" r="5.0"/><circle cx="1337.3" cy="904.7" r="5.0"/><circle cx="1330.2" cy="909.9" r="5.0"/><circle cx="1341.2" cy="892.4" r="5.0"/><circle cx="1328.8" cy="908.7" r="5.0"/><circle cx="1342.3" cy="905.1" r="5.0"/><circle cx="1347.1" cy="869.3" r="5.0"/><circle cx="1334.0" cy="910.5" r="5.0"/><circle cx="1342.5" cy="905.8" r="5.0"/><circle cx="1339.7" cy="902.7" r="5.0"/><circle cx="1340.9" cy="906.3" r="5.0"/><circle cx="1328.9" cy="886.1" r="5.0"/><circle cx="1340.6" cy="908.5" r="5.0"/><circle cx="1337.8" cy="895.0" r="5.0"/><circle cx="1341.4" cy="886.6" r="5.0"/><circle cx="1337.1" cy="907.2" r="5.0"/><circle cx="1343.6" cy="901.9" r="5.0"/><circle cx="1338.7" cy="894.0" r="5.0"/><circle cx="1341.1" cy="910.2" r="5.0"/><circle cx="1345.2" cy="906.7" r="5.0"/><circle cx="1338.1" cy="900.3" r="5.0"/><circle cx="1343.0" cy="891.4" r="5.0"/><circle cx="1338.4" cy="910.9" r="5.0"/><circle cx="1340.2" cy="901.5" r="5.0"/><circle cx="1333.9" cy="910.5" r="5.0"/><circle cx="1341.7" cy="908.9" r="5.0"/><circle cx="1344.4" cy="905.0" r="5.0"/><circle cx="1336.6" cy="908.9" r="5.0"/><circle cx="1341.8" cy="875.0" r="5.0"/><circle cx="1339.6" cy="907.5" r="5.0"/><circle cx="1330.5" cy="896.4" r="5.0"/><circle cx="1339.2" cy="899.6" r="5.0"/><circle cx="1344.9" cy="897.7" r="5.0"/><circle cx="1334.2" cy="909.9" r="5.0"/><circle cx="1326.5" cy="866.5" r="5.0"/><circle cx="1338.3" cy="893.5" r="5.0"/><circle cx="1333.3" cy="868.3" r="5.0"/><circle cx="1348.3" cy="822.4" r="5.0"/><circle cx="1336.9" cy="910.2" r="5.0"/><circle cx="1337.1" cy="901.9" r="5.0"/><circle cx="1333.4" cy="894.9" r="5.0"/><circle cx="1338.6" cy="910.9" r="5.0"/><circle cx="1333.8" cy="891.8" r="5.0"/><circle cx="1331.8" cy="909.9" r="5.0"/><circle cx="1336.7" cy="906.1" r="5.0"/><circle cx="1332.3" cy="900.4" r="5.0"/><circle cx="1344.9" cy="894.1" r="5.0"/><circle cx="1330.2" cy="904.8" r="5.0"/><circle cx="1336.7" cy="896.5" r="5.0"/><circle cx="1333.0" cy="907.3" r="5.0"/><circle cx="1329.0" cy="905.1" r="5.0"/><circle cx="1346.9" cy="895.3" r="5.0"/><circle cx="1324.7" cy="818.8" r="5.0"/><circle cx="1345.7" cy="882.0" r="5.0"/><circle cx="1328.8" cy="868.4" r="5.0"/><circle cx="1337.6" cy="873.8" r="5.0"/><circle cx="1324.6" cy="867.9" r="5.0"/><circle cx="1329.0" cy="884.1" r="5.0"/><circle cx="1344.8" cy="901.3" r="5.0"/><circle cx="1338.1" cy="899.6" r="5.0"/><circle cx="1333.9" cy="906.1" r="5.0"/><circle cx="1336.9" cy="880.7" r="5.0"/><circle cx="1331.4" cy="907.9" r="5.0"/><circle cx="1337.8" cy="906.0" r="5.0"/><circle cx="1345.9" cy="886.7" r="5.0"/><circle cx="1334.9" cy="906.9" r="5.0"/><circle cx="1337.9" cy="895.6" r="5.0"/><circle cx="1344.2" cy="880.5" r="5.0"/><circle cx="1348.8" cy="828.2" r="5.0"/><circle cx="1333.7" cy="910.4" r="5.0"/><circle cx="1338.9" cy="908.8" r="5.0"/><circle cx="1333.8" cy="910.7" r="5.0"/><circle cx="1333.3" cy="908.0" r="5.0"/><circle cx="1334.8" cy="906.9" r="5.0"/><circle cx="1333.4" cy="889.2" r="5.0"/><circle cx="1326.9" cy="906.2" r="5.0"/><circle cx="1325.4" cy="881.9" r="5.0"/><circle cx="1332.8" cy="897.9" r="5.0"/><circle cx="1337.9" cy="892.3" r="5.0"/><circle cx="1344.3" cy="880.3" r="5.0"/><circle cx="1334.0" cy="896.5" r="5.0"/><circle cx="1336.1" cy="902.1" r="5.0"/><circle cx="1341.0" cy="859.9" r="5.0"/><circle cx="1341.5" cy="902.9" r="5.0"/><circle cx="1336.4" cy="889.1" r="5.0"/><circle cx="1336.8" cy="910.1" r="5.0"/><circle cx="1348.1" cy="882.2" r="5.0"/><circle cx="1335.1" cy="908.4" r="5.0"/><circle cx="1334.2" cy="909.3" r="5.0"/><circle cx="1327.5" cy="862.6" r="5.0"/><circle cx="1339.7" cy="909.4" r="5.0"/><circle cx="1335.6" cy="905.8" r="5.0"/><circle cx="1348.3" cy="904.2" r="5.0"/><circle cx="1335.1" cy="905.0" r="5.0"/><circle cx="1341.9" cy="896.8" r="5.0"/><circle cx="1342.6" cy="905.3" r="5.0"/><circle cx="1346.8" cy="830.8" r="5.0"/><circle cx="1329.4" cy="894.7" r="5.0"/><circle cx="1346.3" cy="866.6" r="5.0"/><circle cx="1337.2" cy="903.7" r="5.0"/><circle cx="1336.5" cy="910.6" r="5.0"/><circle cx="1335.3" cy="901.4" r="5.0"/><circle cx="1334.8" cy="885.4" r="5.0"/><circle cx="1335.1" cy="889.5" r="5.0"/><circle cx="1340.1" cy="861.9" r="5.0"/><circle cx="1337.5" cy="908.8" r="5.0"/><circle cx="1331.5" cy="897.9" r="5.0"/><circle cx="1336.7" cy="907.1" r="5.0"/><circle cx="1339.3" cy="892.5" r="5.0"/><circle cx="1334.8" cy="903.8" r="5.0"/><circle cx="1347.2" cy="907.3" r="5.0"/><circle cx="1332.4" cy="902.2" r="5.0"/><circle cx="1336.2" cy="907.5" r="5.0"/><circle cx="1333.9" cy="893.7" r="5.0"/><circle cx="1335.7" cy="905.9" r="5.0"/><circle cx="1341.4" cy="908.9" r="5.0"/><circle cx="1340.5" cy="900.3" r="5.0"/><circle cx="1332.8" cy="910.7" r="5.0"/><circle cx="1336.3" cy="909.1" r="5.0"/><circle cx="1337.6" cy="900.6" r="5.0"/><circle cx="1334.7" cy="904.6" r="5.0"/><circle cx="1336.9" cy="910.2" r="5.0"/><circle cx="1332.9" cy="906.4" r="5.0"/><circle cx="1332.8" cy="886.6" r="5.0"/><circle cx="1337.4" cy="905.5" r="5.0"/><circle cx="1331.0" cy="901.4" r="5.0"/><circle cx="1339.5" cy="910.2" r="5.0"/><circle cx="1336.0" cy="910.9" r="5.0"/><circle cx="1331.7" cy="908.3" r="5.0"/><circle cx="1333.5" cy="901.5" r="5.0"/><circle cx="1334.3" cy="901.5" r="5.0"/><circle cx="1336.2" cy="904.9" r="5.0"/><circle cx="1337.8" cy="910.7" r="5.0"/><circle cx="1335.9" cy="906.2" r="5.0"/><circle cx="1332.0" cy="899.6" r="5.0"/><circle cx="1345.5" cy="862.0" r="5.0"/><circle cx="1342.4" cy="886.0" r="5.0"/><circle cx="1337.7" cy="909.0" r="5.0"/><circle cx="1342.6" cy="904.0" r="5.0"/><circle cx="1339.0" cy="905.3" r="5.0"/><circle cx="1335.6" cy="909.8" r="5.0"/><circle cx="1337.6" cy="894.8" r="5.0"/><circle cx="1342.9" cy="901.3" r="5.0"/><circle cx="1343.2" cy="876.3" r="5.0"/><circle cx="1334.8" cy="901.4" r="5.0"/><circle cx="1340.6" cy="903.1" r="5.0"/><circle cx="1339.6" cy="910.0" r="5.0"/><circle cx="1343.3" cy="901.4" r="5.0"/><circle cx="1344.4" cy="893.8" r="5.0"/><circle cx="1340.8" cy="906.5" r="5.0"/><circle cx="1346.3" cy="901.3" r="5.0"/><circle cx="1338.4" cy="907.6" r="5.0"/><circle cx="1340.0" cy="899.2" r="5.0"/><circle cx="1333.4" cy="905.6" r="5.0"/><circle cx="1338.8" cy="905.3" r="5.0"/><circle cx="1337.7" cy="903.7" r="5.0"/><circle cx="1345.2" cy="900.1" r="5.0"/><circle cx="1334.2" cy="906.7" r="5.0"/><circle cx="1337.0" cy="901.5" r="5.0"/><circle cx="1332.5" cy="910.3" r="5.0"/><circle cx="1337.2" cy="903.2" r="5.0"/><circle cx="1334.8" cy="907.6" r="5.0"/><circle cx="1340.2" cy="894.8" r="5.0"/><circle cx="1336.3" cy="905.5" r="5.0"/><circle cx="1333.6" cy="909.6" r="5.0"/><circle cx="1335.4" cy="909.3" r="5.0"/><circle cx="1336.4" cy="892.9" r="5.0"/><circle cx="1334.1" cy="894.1" r="5.0"/><circle cx="1342.5" cy="878.5" r="5.0"/><circle cx="1341.0" cy="906.1" r="5.0"/><circle cx="1337.9" cy="905.8" r="5.0"/><circle cx="1330.2" cy="898.2" r="5.0"/><circle cx="1340.1" cy="868.8" r="5.0"/><circle cx="1329.6" cy="887.4" r="5.0"/><circle cx="1338.1" cy="910.1" r="5.0"/><circle cx="1337.3" cy="910.3" r="5.0"/><circle cx="1333.6" cy="909.2" r="5.0"/><circle cx="1332.2" cy="893.8" r="5.0"/><circle cx="1333.0" cy="903.6" r="5.0"/><circle cx="1349.0" cy="866.8" r="5.0"/><circle cx="1335.5" cy="905.9" r="5.0"/><circle cx="1335.9" cy="898.5" r="5.0"/><circle cx="1342.6" cy="907.5" r="5.0"/><circle cx="1339.5" cy="903.5" r="5.0"/><circle cx="1343.2" cy="878.8" r="5.0"/><circle cx="1329.9" cy="903.0" r="5.0"/><circle cx="1330.7" cy="905.8" r="5.0"/><circle cx="1336.8" cy="905.4" r="5.0"/><circle cx="1335.4" cy="909.2" r="5.0"/><circle cx="1338.0" cy="908.3" r="5.0"/><circle cx="1342.8" cy="909.2" r="5.0"/><circle cx="1330.2" cy="897.5" r="5.0"/><circle cx="1338.7" cy="909.2" r="5.0"/><circle cx="1336.9" cy="901.5" r="5.0"/><circle cx="1341.0" cy="905.0" r="5.0"/><circle cx="1338.1" cy="887.3" r="5.0"/><circle cx="1334.0" cy="910.5" r="5.0"/><circle cx="1332.0" cy="907.6" r="5.0"/><circle cx="1342.7" cy="896.3" r="5.0"/><circle cx="1328.6" cy="904.4" r="5.0"/><circle cx="1334.7" cy="894.5" r="5.0"/><circle cx="1346.7" cy="906.7" r="5.0"/><circle cx="1334.6" cy="910.3" r="5.0"/><circle cx="1340.6" cy="906.3" r="5.0"/><circle cx="1335.8" cy="900.1" r="5.0"/><circle cx="1341.1" cy="905.4" r="5.0"/><circle cx="1337.2" cy="906.0" r="5.0"/><circle cx="1334.1" cy="908.9" r="5.0"/><circle cx="1344.9" cy="863.0" r="5.0"/><circle cx="1335.5" cy="898.3" r="5.0"/><circle cx="1329.3" cy="870.1" r="5.0"/><circle cx="1335.2" cy="896.5" r="5.0"/><circle cx="1340.2" cy="908.5" r="5.0"/><circle cx="1330.6" cy="864.9" r="5.0"/><circle cx="1341.6" cy="901.4" r="5.0"/><circle cx="1341.5" cy="910.3" r="5.0"/><circle cx="1349.3" cy="885.7" r="5.0"/><circle cx="1333.4" cy="910.1" r="5.0"/><circle cx="1340.9" cy="895.7" r="5.0"/><circle cx="1327.4" cy="875.3" r="5.0"/><circle cx="1334.6" cy="908.4" r="5.0"/><circle cx="1337.7" cy="910.9" r="5.0"/><circle cx="1339.4" cy="909.2" r="5.0"/><circle cx="1336.7" cy="910.6" r="5.0"/><circle cx="1336.5" cy="906.6" r="5.0"/><circle cx="1333.5" cy="893.1" r="5.0"/><circle cx="1334.5" cy="908.4" r="5.0"/><circle cx="1338.8" cy="893.7" r="5.0"/><circle cx="1340.3" cy="906.3" r="5.0"/><circle cx="1340.7" cy="897.2" r="5.0"/><circle cx="1342.8" cy="893.6" r="5.0"/><circle cx="1343.9" cy="899.9" r="5.0"/><circle cx="1326.7" cy="895.2" r="5.0"/><circle cx="1334.0" cy="905.1" r="5.0"/><circle cx="1336.1" cy="899.4" r="5.0"/><circle cx="1333.3" cy="910.9" r="5.0"/><circle cx="1343.1" cy="910.7" r="5.0"/><circle cx="1341.4" cy="875.3" r="5.0"/><circle cx="1336.4" cy="908.9" r="5.0"/><circle cx="1337.8" cy="883.1" r="5.0"/><circle cx="1344.3" cy="900.5" r="5.0"/><circle cx="1335.1" cy="909.6" r="5.0"/><circle cx="1335.2" cy="895.2" r="5.0"/><circle cx="1342.3" cy="890.6" r="5.0"/><circle cx="1339.8" cy="905.5" r="5.0"/><circle cx="1345.2" cy="903.1" r="5.0"/><circle cx="1339.2" cy="905.1" r="5.0"/><circle cx="1341.4" cy="910.5" r="5.0"/><circle cx="1333.9" cy="905.9" r="5.0"/><circle cx="1331.6" cy="886.9" r="5.0"/><circle cx="1337.0" cy="897.6" r="5.0"/><circle cx="1339.4" cy="907.1" r="5.0"/><circle cx="1342.6" cy="909.6" r="5.0"/><circle cx="1337.5" cy="906.4" r="5.0"/><circle cx="1335.8" cy="906.5" r="5.0"/><circle cx="1343.3" cy="846.5" r="5.0"/><circle cx="1336.8" cy="895.4" r="5.0"/><circle cx="1342.7" cy="909.8" r="5.0"/><circle cx="1349.7" cy="882.3" r="5.0"/><circle cx="1341.2" cy="896.8" r="5.0"/><circle cx="1342.5" cy="898.6" r="5.0"/><circle cx="1339.9" cy="890.3" r="5.0"/><circle cx="1338.5" cy="906.2" r="5.0"/><circle cx="1338.6" cy="908.4" r="5.0"/><circle cx="1337.4" cy="902.5" r="5.0"/><circle cx="1343.3" cy="902.8" r="5.0"/><circle cx="1327.8" cy="833.6" r="5.0"/><circle cx="1335.5" cy="900.7" r="5.0"/><circle cx="1340.8" cy="878.6" r="5.0"/><circle cx="1335.6" cy="905.7" r="5.0"/><circle cx="1307.1" cy="901.1" r="5.0"/><circle cx="1355.0" cy="897.7" r="5.0"/><circle cx="1345.4" cy="908.5" r="5.0"/><circle cx="1338.1" cy="905.0" r="5.0"/><circle cx="1329.8" cy="896.4" r="5.0"/><circle cx="1318.8" cy="898.0" r="5.0"/><circle cx="1334.9" cy="905.1" r="5.0"/><circle cx="1334.8" cy="905.6" r="5.0"/><circle cx="1351.8" cy="898.7" r="5.0"/><circle cx="1319.3" cy="909.7" r="5.0"/><circle cx="1356.6" cy="909.2" r="5.0"/><circle cx="1336.8" cy="902.4" r="5.0"/><circle cx="1353.0" cy="902.5" r="5.0"/><circle cx="1322.7" cy="902.4" r="5.0"/><circle cx="1341.2" cy="899.5" r="5.0"/><circle cx="1353.5" cy="897.8" r="5.0"/><circle cx="1337.9" cy="905.0" r="5.0"/><circle cx="1315.7" cy="906.1" r="5.0"/><circle cx="1331.7" cy="898.2" r="5.0"/><circle cx="1343.9" cy="907.3" r="5.0"/><circle cx="1316.7" cy="897.9" r="5.0"/><circle cx="1316.0" cy="900.4" r="5.0"/><circle cx="1339.6" cy="898.3" r="5.0"/><circle cx="1323.0" cy="901.4" r="5.0"/><circle cx="1345.9" cy="909.4" r="5.0"/><circle cx="1319.8" cy="900.3" r="5.0"/><circle cx="1310.5" cy="903.5" r="5.0"/><circle cx="1325.4" cy="908.2" r="5.0"/><circle cx="1357.3" cy="909.5" r="5.0"/><circle cx="1324.2" cy="907.0" r="5.0"/><circle cx="1336.3" cy="909.1" r="5.0"/><circle cx="1339.8" cy="909.0" r="5.0"/><circle cx="1323.0" cy="898.3" r="5.0"/><circle cx="1351.7" cy="896.7" r="5.0"/><circle cx="1338.8" cy="896.1" r="5.0"/><circle cx="1342.6" cy="902.6" r="5.0"/><circle cx="1312.7" cy="902.5" r="5.0"/><circle cx="1311.8" cy="910.1" r="5.0"/><circle cx="1306.9" cy="909.2" r="5.0"/><circle cx="1333.7" cy="899.4" r="5.0"/><circle cx="1333.1" cy="902.4" r="5.0"/><circle cx="1346.5" cy="902.5" r="5.0"/><circle cx="1357.2" cy="899.7" r="5.0"/><circle cx="1332.8" cy="898.8" r="5.0"/><circle cx="1332.6" cy="900.3" r="5.0"/><circle cx="1342.7" cy="910.8" r="5.0"/><circle cx="1357.8" cy="902.8" r="5.0"/><circle cx="1324.8" cy="898.4" r="5.0"/><circle cx="1345.2" cy="898.7" r="5.0"/><circle cx="1332.9" cy="896.7" r="5.0"/><circle cx="1331.7" cy="903.2" r="5.0"/><circle cx="1347.8" cy="903.2" r="5.0"/><circle cx="1325.3" cy="910.6" r="5.0"/><circle cx="1321.4" cy="903.3" r="5.0"/><circle cx="1345.7" cy="902.5" r="5.0"/><circle cx="1336.0" cy="897.2" r="5.0"/><circle cx="1332.7" cy="897.7" r="5.0"/><circle cx="1334.5" cy="910.1" r="5.0"/><circle cx="1343.4" cy="908.9" r="5.0"/><circle cx="1331.2" cy="905.3" r="5.0"/><circle cx="1347.1" cy="899.3" r="5.0"/><circle cx="1342.2" cy="908.5" r="5.0"/><circle cx="1357.2" cy="899.4" r="5.0"/><circle cx="1354.2" cy="902.1" r="5.0"/><circle cx="1348.4" cy="897.8" r="5.0"/><circle cx="1333.6" cy="905.9" r="5.0"/><circle cx="1338.1" cy="905.0" r="5.0"/><circle cx="1328.1" cy="910.1" r="5.0"/><circle cx="1366.9" cy="903.2" r="5.0"/><circle cx="1333.3" cy="899.4" r="5.0"/><circle cx="1344.2" cy="903.3" r="5.0"/><circle cx="1355.5" cy="903.2" r="5.0"/><circle cx="1317.3" cy="897.2" r="5.0"/><circle cx="1324.8" cy="899.5" r="5.0"/><circle cx="1330.9" cy="906.3" r="5.0"/><circle cx="1322.5" cy="896.8" r="5.0"/><circle cx="1318.6" cy="900.1" r="5.0"/><circle cx="1329.2" cy="906.5" r="5.0"/><circle cx="1354.6" cy="907.8" r="5.0"/><circle cx="1346.6" cy="900.8" r="5.0"/><circle cx="1336.9" cy="903.4" r="5.0"/><circle cx="1336.8" cy="902.0" r="5.0"/><circle cx="1313.1" cy="909.1" r="5.0"/><circle cx="1346.2" cy="899.5" r="5.0"/><circle cx="1342.4" cy="898.1" r="5.0"/><circle cx="1321.3" cy="904.7" r="5.0"/><circle cx="1339.3" cy="906.4" r="5.0"/><circle cx="1333.7" cy="896.4" r="5.0"/><circle cx="1329.2" cy="896.4" r="5.0"/><circle cx="1322.6" cy="909.1" r="5.0"/><circle cx="1327.0" cy="902.9" r="5.0"/><circle cx="1323.2" cy="904.4" r="5.0"/><circle cx="1342.9" cy="906.8" r="5.0"/><circle cx="1341.6" cy="903.2" r="5.0"/><circle cx="1341.0" cy="901.0" r="5.0"/><circle cx="1333.9" cy="905.5" r="5.0"/><circle cx="1330.7" cy="906.4" r="5.0"/><circle cx="1365.1" cy="898.0" r="5.0"/><circle cx="1310.4" cy="901.1" r="5.0"/><circle cx="1327.9" cy="786.0" r="5.0"/><circle cx="1330.4" cy="790.8" r="5.0"/><circle cx="1299.4" cy="900.2" r="5.0"/><circle cx="1366.9" cy="897.8" r="5.0"/></g>
<g fill="#1F4E96" fill-opacity="0.8"><circle cx="1317.7" cy="826.3" r="5.0"/><circle cx="1311.7" cy="854.7" r="5.0"/><circle cx="1322.4" cy="865.6" r="5.0"/><circle cx="1323.6" cy="888.3" r="5.0"/><circle cx="1319.7" cy="852.6" r="5.0"/><circle cx="1320.6" cy="880.1" r="5.0"/><circle cx="1320.8" cy="829.4" r="5.0"/><circle cx="1320.0" cy="884.9" r="5.0"/><circle cx="1318.9" cy="867.3" r="5.0"/><circle cx="1322.6" cy="859.5" r="5.0"/><circle cx="1322.3" cy="871.2" r="5.0"/><circle cx="1323.5" cy="835.8" r="5.0"/><circle cx="1317.8" cy="847.2" r="5.0"/><circle cx="1321.2" cy="844.8" r="5.0"/><circle cx="1321.5" cy="866.0" r="5.0"/><circle cx="1322.5" cy="881.8" r="5.0"/><circle cx="1317.8" cy="867.6" r="5.0"/><circle cx="1323.3" cy="880.7" r="5.0"/><circle cx="1316.8" cy="891.2" r="5.0"/><circle cx="1318.5" cy="872.5" r="5.0"/><circle cx="1322.4" cy="894.0" r="5.0"/><circle cx="1322.8" cy="891.9" r="5.0"/><circle cx="1322.4" cy="858.1" r="5.0"/><circle cx="1323.2" cy="879.5" r="5.0"/><circle cx="1305.9" cy="879.9" r="5.0"/><circle cx="1318.2" cy="857.1" r="5.0"/><circle cx="1308.3" cy="868.2" r="5.0"/><circle cx="1322.9" cy="883.1" r="5.0"/><circle cx="1318.3" cy="839.9" r="5.0"/><circle cx="1319.8" cy="831.1" r="5.0"/><circle cx="1322.2" cy="861.2" r="5.0"/><circle cx="1318.1" cy="876.6" r="5.0"/><circle cx="1318.5" cy="884.2" r="5.0"/><circle cx="1321.4" cy="879.4" r="5.0"/><circle cx="1323.6" cy="874.3" r="5.0"/><circle cx="1312.2" cy="879.0" r="5.0"/><circle cx="1323.2" cy="885.7" r="5.0"/><circle cx="1318.9" cy="864.0" r="5.0"/><circle cx="1321.5" cy="884.2" r="5.0"/><circle cx="1320.3" cy="847.3" r="5.0"/><circle cx="1311.9" cy="757.1" r="5.0"/><circle cx="1304.4" cy="799.2" r="5.0"/><circle cx="1316.9" cy="794.4" r="5.0"/><circle cx="1284.3" cy="890.6" r="5.0"/><circle cx="1302.9" cy="865.3" r="5.0"/></g>
<g fill="#C8333D" fill-opacity="0.8"><circle cx="1352.7" cy="875.1" r="5.0"/><circle cx="1358.2" cy="875.6" r="5.0"/><circle cx="1351.9" cy="886.4" r="5.0"/><circle cx="1361.8" cy="892.0" r="5.0"/><circle cx="1355.3" cy="863.8" r="5.0"/><circle cx="1367.4" cy="891.6" r="5.0"/><circle cx="1353.0" cy="883.4" r="5.0"/><circle cx="1372.9" cy="853.4" r="5.0"/><circle cx="1354.0" cy="872.5" r="5.0"/><circle cx="1365.5" cy="864.1" r="5.0"/><circle cx="1368.2" cy="869.0" r="5.0"/><circle cx="1350.4" cy="868.2" r="5.0"/><circle cx="1352.9" cy="875.3" r="5.0"/><circle cx="1350.7" cy="886.4" r="5.0"/><circle cx="1360.3" cy="841.7" r="5.0"/><circle cx="1355.1" cy="867.8" r="5.0"/><circle cx="1364.8" cy="869.2" r="5.0"/><circle cx="1369.4" cy="886.7" r="5.0"/><circle cx="1359.7" cy="841.4" r="5.0"/><circle cx="1360.7" cy="867.0" r="5.0"/><circle cx="1352.2" cy="889.0" r="5.0"/><circle cx="1351.9" cy="881.4" r="5.0"/><circle cx="1350.4" cy="878.8" r="5.0"/><circle cx="1362.2" cy="890.3" r="5.0"/><circle cx="1357.0" cy="880.4" r="5.0"/><circle cx="1350.5" cy="850.9" r="5.0"/><circle cx="1371.0" cy="834.2" r="5.0"/><circle cx="1368.5" cy="864.8" r="5.0"/><circle cx="1355.2" cy="869.0" r="5.0"/><circle cx="1356.1" cy="874.5" r="5.0"/><circle cx="1361.2" cy="883.5" r="5.0"/><circle cx="1365.1" cy="878.7" r="5.0"/><circle cx="1357.1" cy="863.6" r="5.0"/><circle cx="1358.9" cy="889.9" r="5.0"/><circle cx="1355.4" cy="875.8" r="5.0"/><circle cx="1357.8" cy="869.1" r="5.0"/><circle cx="1352.9" cy="866.7" r="5.0"/><circle cx="1350.7" cy="890.5" r="5.0"/><circle cx="1358.5" cy="825.6" r="5.0"/><circle cx="1376.0" cy="858.6" r="5.0"/><circle cx="1363.3" cy="885.0" r="5.0"/><circle cx="1353.1" cy="879.5" r="5.0"/><circle cx="1350.7" cy="852.2" r="5.0"/><circle cx="1374.8" cy="846.4" r="5.0"/><circle cx="1351.8" cy="883.6" r="5.0"/><circle cx="1364.8" cy="886.1" r="5.0"/><circle cx="1355.1" cy="835.9" r="5.0"/><circle cx="1350.6" cy="860.0" r="5.0"/><circle cx="1350.7" cy="873.1" r="5.0"/><circle cx="1350.8" cy="880.1" r="5.0"/><circle cx="1358.6" cy="874.6" r="5.0"/><circle cx="1353.6" cy="885.9" r="5.0"/><circle cx="1354.0" cy="846.6" r="5.0"/><circle cx="1361.6" cy="867.0" r="5.0"/><circle cx="1373.0" cy="864.0" r="5.0"/><circle cx="1353.7" cy="862.8" r="5.0"/><circle cx="1351.3" cy="886.9" r="5.0"/><circle cx="1360.1" cy="881.6" r="5.0"/><circle cx="1359.5" cy="843.1" r="5.0"/><circle cx="1351.7" cy="834.7" r="5.0"/><circle cx="1354.0" cy="866.6" r="5.0"/><circle cx="1351.5" cy="877.3" r="5.0"/><circle cx="1351.5" cy="848.3" r="5.0"/><circle cx="1350.9" cy="886.7" r="5.0"/><circle cx="1355.8" cy="885.5" r="5.0"/><circle cx="1351.2" cy="874.3" r="5.0"/><circle cx="1374.3" cy="861.1" r="5.0"/><circle cx="1355.6" cy="867.4" r="5.0"/><circle cx="1362.9" cy="865.1" r="5.0"/><circle cx="1365.9" cy="888.6" r="5.0"/><circle cx="1356.0" cy="878.6" r="5.0"/><circle cx="1359.1" cy="873.0" r="5.0"/><circle cx="1361.3" cy="878.4" r="5.0"/><circle cx="1357.6" cy="881.4" r="5.0"/><circle cx="1356.4" cy="858.2" r="5.0"/><circle cx="1355.9" cy="788.4" r="5.0"/><circle cx="1365.9" cy="790.8" r="5.0"/><circle cx="1360.4" cy="804.0" r="5.0"/><circle cx="1376.9" cy="838.9" r="5.0"/><circle cx="1369.4" cy="820.9" r="5.0"/></g>
<rect x="1171.8999999999999" y="595.9" width="330.20000000000005" height="330.4" fill="none" stroke="#000" stroke-width="2"/>
<line x1="1186.8" y1="927.3" x2="1186.8" y2="938.5999999999999" stroke="#000" stroke-width="2"/>
<text x="1186.8" y="966.8" font-size="25.3" text-anchor="middle" fill="#000" >−3</text>
<line x1="1236.8" y1="927.3" x2="1236.8" y2="938.5999999999999" stroke="#000" stroke-width="2"/>
<text x="1236.8" y="966.8" font-size="25.3" text-anchor="middle" fill="#000" >−2</text>
<line x1="1286.9" y1="927.3" x2="1286.9" y2="938.5999999999999" stroke="#000" stroke-width="2"/>
<text x="1286.9" y="966.8" font-size="25.3" text-anchor="middle" fill="#000" >−1</text>
<line x1="1336.9" y1="927.3" x2="1336.9" y2="938.5999999999999" stroke="#000" stroke-width="2"/>
<text x="1336.9" y="966.8" font-size="25.3" text-anchor="middle" fill="#000" >0</text>
<line x1="1387.0" y1="927.3" x2="1387.0" y2="938.5999999999999" stroke="#000" stroke-width="2"/>
<text x="1387.0" y="966.8" font-size="25.3" text-anchor="middle" fill="#000" >1</text>
<line x1="1437.0" y1="927.3" x2="1437.0" y2="938.5999999999999" stroke="#000" stroke-width="2"/>
<text x="1437.0" y="966.8" font-size="25.3" text-anchor="middle" fill="#000" >2</text>
<line x1="1487.1" y1="927.3" x2="1487.1" y2="938.5999999999999" stroke="#000" stroke-width="2"/>
<text x="1487.1" y="966.8" font-size="25.3" text-anchor="middle" fill="#000" >3</text>
<line x1="1170.8999999999999" y1="911.0" x2="1159.3999999999999" y2="911.0" stroke="#000" stroke-width="2"/>
<text x="1147.9" y="920.0" font-size="25.3" text-anchor="end" fill="#000" >0</text>
<line x1="1170.8999999999999" y1="850.9" x2="1159.3999999999999" y2="850.9" stroke="#000" stroke-width="2"/>
<text x="1147.9" y="859.9" font-size="25.3" text-anchor="end" fill="#000" >5</text>
<line x1="1170.8999999999999" y1="790.8" x2="1159.3999999999999" y2="790.8" stroke="#000" stroke-width="2"/>
<text x="1147.9" y="799.8" font-size="25.3" text-anchor="end" fill="#000" >10</text>
<line x1="1170.8999999999999" y1="730.7" x2="1159.3999999999999" y2="730.7" stroke="#000" stroke-width="2"/>
<text x="1147.9" y="739.7" font-size="25.3" text-anchor="end" fill="#000" >15</text>
<line x1="1170.8999999999999" y1="670.6" x2="1159.3999999999999" y2="670.6" stroke="#000" stroke-width="2"/>
<text x="1147.9" y="679.6" font-size="25.3" text-anchor="end" fill="#000" >20</text>
<line x1="1170.8999999999999" y1="610.5" x2="1159.3999999999999" y2="610.5" stroke="#000" stroke-width="2"/>
<text x="1147.9" y="619.5" font-size="25.3" text-anchor="end" fill="#000" >25</text>
<text x="1334.9" y="565.7" font-size="25.3" text-anchor="middle" fill="#000" >BN vs HC</text>
<text x="1232.7" y="1003.5" font-size="25.3">log<tspan font-size="14.5" dy="8">2</tspan><tspan dy="-8">(Fold change)</tspan></text>
<text x="0" y="0" font-size="25.3" text-anchor="start" transform="translate(1103.1,839.2) rotate(-90)">−log<tspan font-size="14.5" dy="8">10</tspan><tspan dy="-8"> (FDR)</tspan></text>
<circle cx="1548.5" cy="639.1" r="9.7" fill="#C8333D"/>
<text x="1567.3" y="647.0" font-size="25.3" text-anchor="start" fill="#000" >Up</text>
<circle cx="1548.5" cy="684.4" r="9.7" fill="#1F4E96"/>
<text x="1567.3" y="692.2" font-size="25.3" text-anchor="start" fill="#000" >Down</text>
<circle cx="1548.5" cy="729.6" r="9.7" fill="#8A8A8A"/>
<text x="1567.3" y="737.5" font-size="25.3" text-anchor="start" fill="#000" >Non-significant</text>
<text x="-0.6" y="1054.6" font-size="29.5" text-anchor="start" fill="#000" font-weight="bold" >f</text>
<rect x="59.0" y="1069.8" width="787.0" height="21.2" fill="#1F4681"/>
<rect x="862.6" y="1069.8" width="629.8000000000001" height="21.2" fill="#B12A33"/>
<text x="1505.6" y="1088.0" font-size="21.0" text-anchor="start" fill="#000" >Group</text>
<g transform="translate(59.00,1103.70) scale(4.6300,21.0500)" shape-rendering="crispEdges"><path fill="#3b889b" d="M99 7h1v1h-1z"/><path fill="#4990a2" d="M87 3h1v1h-1zm-26 4h1v1h-1zm89 1h1v1h-1z"/><path fill="#5799a9" d="M120 1h1v1h-1zm-119 2h1v1h-1zm8 0h1v1h-1zm39 0h1v1h-1zm-5 1h1v1h-1zm77 0h1v1h-1zm36 0h1v1h-1zm-45 2h1v1h-1zm-51 1h1v1h-1zm11 0h1v1h-1zm47 0h1v1h-1zm32 0h1v1h-1zm2 0h1v1h-1zm-65 1h1v1h-1zm7 0h1v1h-1zm45 0h1v1h-1zm2 0h1v1h-1z"/><path fill="#65a1b1" d="M1 0h1v1h-1zm25 0h1v1h-1zm18 0h1v1h-1zm65 0h1v1h-1zm34 0h1v1h-1zm10 0h1v1h-1zm11 0h1v1h-1zm-100 1h1v1h-1zm10 0h1v1h-1zm7 0h1v1h-1zm5 0h1v1h-1zm20 0h1v1h-1zm3 0h1v1h-1zm41 0h1v1h-1zm15 0h1v1h-1zm-140 2h1v1h-1zm2 0h1v1h-1zm45 0h1v1h-1zm37 0h1v1h-1zm11 0h1v1h-1zm-109 1h1v1h-1zm40 0h1v1h-1zm10 0h1v1h-1zm21 0h1v1h-1zm7 0h1v1h-1zm8 0h1v1h-1zm11 0h1v1h-1zm2 0h1v1h-1zm20 0h1v1h-1zm10 0h1v1h-1zm1 0h1v1h-1zm7 0h1v1h-1zm9 0h1v1h-1zm6 0h1v1h-1zm2 0h1v1h-1zm-133 2h1v1h-1zm30 0h1v1h-1zm12 0h1v1h-1zm12 0h1v1h-1zm56 0h1v1h-1zm-122 1h1v1h-1zm4 0h1v1h-1zm4 0h1v1h-1zm4 0h1v1h-1zm30 0h1v1h-1zm3 0h1v1h-1zm36 0h1v1h-1zm3 0h1v1h-1zm38 0h1v1h-1zm18 0h1v1h-1zm-31 1h1v1h-1zm23 0h1v1h-1z"/><path fill="#73aab8" d="M0 0h1v1h-1zm36 0h1v1h-1zm13 0h1v1h-1zm6 0h1v1h-1zm3 0h1v1h-1zm4 0h1v1h-1zm4 0h1v1h-1zm15 0h1v1h-1zm2 0h1v1h-1zm24 0h1v1h-1zm5 0h1v1h-1zm19 0h1v1h-1zm9 0h1v1h-1zm11 0h1v1h-1zm-150 1h1v1h-1zm25 0h1v1h-1zm26 0h1v1h-1zm5 0h1v1h-1zm13 0h1v1h-1zm13 0h1v1h-1zm19 0h1v1h-1zm5 0h1v1h-1zm28 0h1v1h-1zm8 0h1v1h-1zm8 0h1v1h-1zm18 0h1v1h-1zm-166 2h1v1h-1zm9 0h1v1h-1zm19 0h1v1h-1zm8 0h1v1h-1zm8 0h1v1h-1zm3 0h1v1h-1zm14 0h1v1h-1zm2 0h1v1h-1zm17 0h1v1h-1zm18 0h1v1h-1zm1 0h1v1h-1zm28 0h1v1h-1zm10 0h1v1h-1zm5 0h1v1h-1zm17 0h1v1h-1zm-146 1h1v1h-1zm10 0h1v1h-1zm12 0h1v1h-1zm3 0h1v1h-1zm44 0h1v1h-1zm13 0h1v1h-1zm2 0h1v1h-1zm21 0h1v1h-1zm14 0h1v1h-1zm3 0h1v1h-1zm11 0h1v1h-1zm6 0h1v1h-1zm-128 1h1v1h-1zm11 0h1v1h-1zm11 0h1v1h-1zm18 0h1v1h-1zm9 0h1v1h-1zm13 0h1v1h-1zm66 0h1v1h-1zm-135 1h1v1h-1zm11 0h1v1h-1zm3 0h1v1h-1zm1 0h1v1h-1zm13 0h1v1h-1zm10 0h1v1h-1zm29 0h1v1h-1zm20 0h1v1h-1zm5 0h1v1h-1zm6 0h1v1h-1zm21 0h1v1h-1zm18 0h1v1h-1zm-151 1h1v1h-1zm10 0h1v1h-1zm5 0h1v1h-1zm1 0h1v1h-1zm7 0h1v1h-1zm13 0h1v1h-1zm1 0h1v1h-1zm2 0h1v1h-1zm11 0h1v1h-1zm7 0h1v1h-1zm7 0h1v1h-1zm7 0h1v1h-1zm10 0h1v1h-1zm9 0h1v1h-1zm40 0h1v1h-1zm4 0h1v1h-1zm1 0h1v1h-1zm12 0h1v1h-1zm5 0h1v1h-1zm3 0h1v1h-1zm-148 1h1v1h-1zm38 0h1v1h-1zm50 0h1v1h-1zm7 0h1v1h-1zm13 0h1v1h-1zm41 0h1v1h-1zm6 0h1v1h-1z"/><path fill="#81b2bf" d="M30 0h1v1h-1zm2 0h1v1h-1zm15 0h1v1h-1zm42 0h1v1h-1zm15 0h1v1h-1zm2 0h1v1h-1zm13 0h1v1h-1zm10 0h1v1h-1zm16 0h1v1h-1zm-134 1h1v1h-1zm5 0h1v1h-1zm6 0h1v1h-1zm15 0h1v1h-1zm8 0h1v1h-1zm4 0h1v1h-1zm38 0h1v1h-1zm2 0h1v1h-1zm6 0h1v1h-1zm16 0h1v1h-1zm41 0h1v1h-1zm15 0h1v1h-1zm-142 1h1v1h-1zm26 0h1v1h-1zm18 0h1v1h-1zm34 0h1v1h-1zm3 0h1v1h-1zm5 0h1v1h-1zm10 0h1v1h-1zm19 0h1v1h-1zm13 0h1v1h-1zm7 0h1v1h-1zm1 0h1v1h-1zm3 0h1v1h-1zm-160 1h1v1h-1zm45 0h1v1h-1zm5 0h1v1h-1zm3 0h1v1h-1zm6 0h1v1h-1zm8 0h1v1h-1zm6 0h1v1h-1zm19 0h1v1h-1zm10 0h1v1h-1zm1 0h1v1h-1zm14 0h1v1h-1zm1 0h1v1h-1zm2 0h1v1h-1zm7 0h1v1h-1zm17 0h1v1h-1zm-143 1h1v1h-1zm30 0h1v1h-1zm14 0h1v1h-1zm8 0h1v1h-1zm15 0h1v1h-1zm11 0h1v1h-1zm10 0h1v1h-1zm6 0h1v1h-1zm34 0h1v1h-1zm18 0h1v1h-1zm-125 1h1v1h-1zm5 0h1v1h-1zm10 0h1v1h-1zm1 0h1v1h-1zm9 0h1v1h-1zm21 0h1v1h-1zm8 0h1v1h-1zm4 0h1v1h-1zm13 0h1v1h-1zm3 0h1v1h-1zm10 0h1v1h-1zm3 0h1v1h-1zm7 0h1v1h-1zm4 0h1v1h-1zm21 0h1v1h-1zm14 0h1v1h-1zm-156 1h1v1h-1zm20 0h1v1h-1zm5 0h1v1h-1zm32 0h1v1h-1zm1 0h1v1h-1zm9 0h1v1h-1zm12 0h1v1h-1zm17 0h1v1h-1zm2 0h1v1h-1zm9 0h1v1h-1zm55 0h1v1h-1zm4 0h1v1h-1zm-166 1h1v1h-1zm14 0h1v1h-1zm23 0h1v1h-1zm4 0h1v1h-1zm63 0h1v1h-1zm3 0h1v1h-1zm36 0h1v1h-1zm19 0h1v1h-1zm-163 1h1v1h-1zm21 0h1v1h-1zm41 0h1v1h-1zm3 0h1v1h-1zm3 0h1v1h-1zm4 0h1v1h-1zm4 0h1v1h-1zm25 0h1v1h-1zm11 0h1v1h-1zm23 0h1v1h-1zm21 0h1v1h-1z"/><path fill="#8fbbc6" d="M12 0h1v1h-1zm16 0h1v1h-1zm1 0h1v1h-1zm9 0h1v1h-1zm10 0h1v1h-1zm9 0h1v1h-1zm15 0h1v1h-1zm2 0h1v1h-1zm11 0h1v1h-1zm1 0h1v1h-1zm6 0h1v1h-1zm2 0h1v1h-1zm19 0h1v1h-1zm1 0h1v1h-1zm7 0h1v1h-1zm6 0h1v1h-1zm11 0h1v1h-1zm16 0h1v1h-1zm15 0h1v1h-1zm-164 1h1v1h-1zm12 0h1v1h-1zm27 0h1v1h-1zm12 0h1v1h-1zm10 0h1v1h-1zm6 0h1v1h-1zm22 0h1v1h-1zm2 0h1v1h-1zm5 0h1v1h-1zm2 0h1v1h-1zm18 0h1v1h-1zm8 0h1v1h-1zm13 0h1v1h-1zm7 0h1v1h-1zm11 0h1v1h-1zm4 0h1v1h-1zm-161 1h1v1h-1zm6 0h1v1h-1zm3 0h1v1h-1zm5 0h1v1h-1zm5 0h1v1h-1zm7 0h1v1h-1zm5 0h1v1h-1zm12 0h1v1h-1zm4 0h1v1h-1zm13 0h1v1h-1zm1 0h1v1h-1zm2 0h1v1h-1zm8 0h1v1h-1zm1 0h1v1h-1zm8 0h1v1h-1zm11 0h1v1h-1zm15 0h1v1h-1zm3 0h1v1h-1zm4 0h1v1h-1zm3 0h1v1h-1zm14 0h1v1h-1zm9 0h1v1h-1zm3 0h1v1h-1zm1 0h1v1h-1zm9 0h1v1h-1zm-149 1h1v1h-1zm1 0h1v1h-1zm9 0h1v1h-1zm1 0h1v1h-1zm9 0h1v1h-1zm11 0h1v1h-1zm22 0h1v1h-1zm1 0h1v1h-1zm2 0h1v1h-1zm6 0h1v1h-1zm6 0h1v1h-1zm17 0h1v1h-1zm20 0h1v1h-1zm14 0h1v1h-1zm26 0h1v1h-1zm6 0h1v1h-1zm-155 1h1v1h-1zm8 0h1v1h-1zm9 0h1v1h-1zm35 0h1v1h-1zm2 0h1v1h-1zm13 0h1v1h-1zm5 0h1v1h-1zm20 0h1v1h-1zm7 0h1v1h-1zm6 0h1v1h-1zm15 0h1v1h-1zm9 0h1v1h-1zm29 0h1v1h-1zm8 0h1v1h-1zm-145 1h1v1h-1zm1 0h1v1h-1zm12 0h1v1h-1zm7 0h1v1h-1zm14 0h1v1h-1zm20 0h1v1h-1zm8 0h1v1h-1zm3 0h1v1h-1zm15 0h1v1h-1zm4 0h1v1h-1zm27 0h1v1h-1zm2 0h1v1h-1zm12 0h1v1h-1zm8 0h1v1h-1zm9 0h1v1h-1zm-143 1h1v1h-1zm7 0h1v1h-1zm8 0h1v1h-1zm19 0h1v1h-1zm36 0h1v1h-1zm2 0h1v1h-1zm56 0h1v1h-1zm2 0h1v1h-1zm1 0h1v1h-1zm3 0h1v1h-1zm-122 1h1v1h-1zm48 0h1v1h-1zm15 0h1v1h-1zm-88 1h1v1h-1zm43 0h1v1h-1zm23 0h1v1h-1zm8 0h1v1h-1zm10 0h1v1h-1zm25 0h1v1h-1zm5 0h1v1h-1zm8 0h1v1h-1zm3 0h1v1h-1zm1 0h1v1h-1zm31 0h1v1h-1z"/><path fill="#9dc3cd" d="M11 0h1v1h-1zm14 0h1v1h-1zm8 0h1v1h-1zm12 0h1v1h-1zm6 0h1v1h-1zm17 0h1v1h-1zm2 0h1v1h-1zm29 0h1v1h-1zm3 0h1v1h-1zm9 0h1v1h-1zm22 0h1v1h-1zm24 0h1v1h-1zm-153 1h1v1h-1zm21 0h1v1h-1zm6 0h1v1h-1zm4 0h1v1h-1zm47 0h1v1h-1zm9 0h1v1h-1zm8 0h1v1h-1zm5 0h1v1h-1zm19 0h1v1h-1zm4 0h1v1h-1zm14 0h1v1h-1zm4 0h1v1h-1zm2 0h1v1h-1zm6 0h1v1h-1zm4 0h1v1h-1zm5 0h1v1h-1zm1 0h1v1h-1zm-124 1h1v1h-1zm3 0h1v1h-1zm2 0h1v1h-1zm18 0h1v1h-1zm27 0h1v1h-1zm6 0h1v1h-1zm1 0h1v1h-1zm4 0h1v1h-1zm5 0h1v1h-1zm45 0h1v1h-1zm12 0h1v1h-1zm3 0h1v1h-1zm-154 1h1v1h-1zm9 0h1v1h-1zm2 0h1v1h-1zm20 0h1v1h-1zm4 0h1v1h-1zm10 0h1v1h-1zm25 0h1v1h-1zm7 0h1v1h-1zm12 0h1v1h-1zm10 0h1v1h-1zm4 0h1v1h-1zm2 0h1v1h-1zm30 0h1v1h-1zm14 0h1v1h-1zm3 0h1v1h-1zm3 0h1v1h-1zm-163 1h1v1h-1zm24 0h1v1h-1zm12 0h1v1h-1zm1 0h1v1h-1zm20 0h1v1h-1zm2 0h1v1h-1zm14 0h1v1h-1zm4 0h1v1h-1zm36 0h1v1h-1zm1 0h1v1h-1zm2 0h1v1h-1zm10 0h1v1h-1zm17 0h1v1h-1zm1 0h1v1h-1zm-136 1h1v1h-1zm4 0h1v1h-1zm5 0h1v1h-1zm35 0h1v1h-1zm6 0h1v1h-1zm13 0h1v1h-1zm8 0h1v1h-1zm24 0h1v1h-1zm2 0h1v1h-1zm20 0h1v1h-1zm5 0h1v1h-1zm7 0h1v1h-1zm7 0h1v1h-1zm-146 1h1v1h-1zm7 0h1v1h-1zm7 0h1v1h-1zm3 0h1v1h-1zm6 0h1v1h-1zm9 0h1v1h-1zm6 0h1v1h-1zm8 0h1v1h-1zm4 0h1v1h-1zm17 0h1v1h-1zm29 0h1v1h-1zm26 0h1v1h-1zm1 0h1v1h-1zm20 0h1v1h-1zm2 0h1v1h-1zm-145 1h1v1h-1zm14 0h1v1h-1zm3 0h1v1h-1zm7 0h1v1h-1zm49 0h1v1h-1zm15 0h1v1h-1zm22 0h1v1h-1zm37 0h1v1h-1zm21 0h1v1h-1zm-168 1h1v1h-1zm17 0h1v1h-1zm1 0h1v1h-1zm3 0h1v1h-1zm5 0h1v1h-1zm5 0h1v1h-1zm2 0h1v1h-1zm1 0h1v1h-1zm2 0h1v1h-1zm3 0h1v1h-1zm5 0h1v1h-1zm3 0h1v1h-1zm50 0h1v1h-1zm1 0h1v1h-1zm44 0h1v1h-1zm6 0h1v1h-1zm2 0h1v1h-1zm4 0h1v1h-1z"/><path fill="#abccd4" d="M16 0h1v1h-1zm26 0h1v1h-1zm33 0h1v1h-1zm15 0h1v1h-1zm11 0h1v1h-1zm19 0h1v1h-1zm30 0h1v1h-1zm11 0h1v1h-1zm4 0h1v1h-1zm-162 1h1v1h-1zm3 0h1v1h-1zm1 0h1v1h-1zm5 0h1v1h-1zm36 0h1v1h-1zm25 0h1v1h-1zm5 0h1v1h-1zm70 0h1v1h-1zm10 0h1v1h-1zm10 0h1v1h-1zm-168 1h1v1h-1zm8 0h1v1h-1zm22 0h1v1h-1zm1 0h1v1h-1zm7 0h1v1h-1zm2 0h1v1h-1zm12 0h1v1h-1zm4 0h1v1h-1zm11 0h1v1h-1zm14 0h1v1h-1zm3 0h1v1h-1zm3 0h1v1h-1zm12 0h1v1h-1zm5 0h1v1h-1zm6 0h1v1h-1zm21 0h1v1h-1zm4 0h1v1h-1zm-107 1h1v1h-1zm23 0h1v1h-1zm4 0h1v1h-1zm10 0h1v1h-1zm21 0h1v1h-1zm8 0h1v1h-1zm1 0h1v1h-1zm24 0h1v1h-1zm8 0h1v1h-1zm25 0h1v1h-1zm1 0h1v1h-1zm8 0h1v1h-1zm3 0h1v1h-1zm4 0h1v1h-1zm-126 1h1v1h-1zm3 0h1v1h-1zm19 0h1v1h-1zm27 0h1v1h-1zm35 0h1v1h-1zm6 0h1v1h-1zm7 0h1v1h-1zm4 0h1v1h-1zm2 0h1v1h-1zm-145 1h1v1h-1zm17 0h1v1h-1zm8 0h1v1h-1zm5 0h1v1h-1zm22 0h1v1h-1zm2 0h1v1h-1zm36 0h1v1h-1zm4 0h1v1h-1zm5 0h1v1h-1zm16 0h1v1h-1zm7 0h1v1h-1zm1 0h1v1h-1zm7 0h1v1h-1zm2 0h1v1h-1zm11 0h1v1h-1zm3 0h1v1h-1zm7 0h1v1h-1zm1 0h1v1h-1zm3 0h1v1h-1zm3 0h1v1h-1zm2 0h1v1h-1zm2 0h1v1h-1zm4 0h1v1h-1zm-159 1h1v1h-1zm4 0h1v1h-1zm3 0h1v1h-1zm1 0h1v1h-1zm13 0h1v1h-1zm6 0h1v1h-1zm6 0h1v1h-1zm1 0h1v1h-1zm3 0h1v1h-1zm25 0h1v1h-1zm7 0h1v1h-1zm11 0h1v1h-1zm2 0h1v1h-1zm7 0h1v1h-1zm5 0h1v1h-1zm12 0h1v1h-1zm15 0h1v1h-1zm6 0h1v1h-1zm23 0h1v1h-1zm-157 1h1v1h-1zm2 0h1v1h-1zm5 0h1v1h-1zm1 0h1v1h-1zm21 0h1v1h-1zm23 0h1v1h-1zm14 0h1v1h-1zm11 0h1v1h-1zm2 0h1v1h-1zm10 0h1v1h-1zm1 0h1v1h-1zm10 0h1v1h-1zm12 0h1v1h-1zm2 0h1v1h-1zm7 0h1v1h-1zm28 0h1v1h-1zm5 0h1v1h-1zm3 0h1v1h-1zm-159 1h1v1h-1zm14 0h1v1h-1zm14 0h1v1h-1zm8 0h1v1h-1zm41 0h1v1h-1zm2 0h1v1h-1zm2 0h1v1h-1zm9 0h1v1h-1zm12 0h1v1h-1zm25 0h1v1h-1zm36 0h1v1h-1zm2 0h1v1h-1z"/><path fill="#b9d4db" d="M3 0h1v1h-1zm6 0h1v1h-1zm1 0h1v1h-1zm10 0h1v1h-1zm7 0h1v1h-1zm27 0h1v1h-1zm23 0h1v1h-1zm18 0h1v1h-1zm39 0h1v1h-1zm-107 1h1v1h-1zm3 0h1v1h-1zm8 0h1v1h-1zm9 0h1v1h-1zm8 0h1v1h-1zm4 0h1v1h-1zm2 0h1v1h-1zm2 0h1v1h-1zm54 0h1v1h-1zm5 0h1v1h-1zm8 0h1v1h-1zm1 0h1v1h-1zm3 0h1v1h-1zm4 0h1v1h-1zm18 0h1v1h-1zm5 0h1v1h-1zm-156 1h1v1h-1zm1 0h1v1h-1zm30 0h1v1h-1zm5 0h1v1h-1zm8 0h1v1h-1zm6 0h1v1h-1zm2 0h1v1h-1zm4 0h1v1h-1zm7 0h1v1h-1zm9 0h1v1h-1zm5 0h1v1h-1zm32 0h1v1h-1zm11 0h1v1h-1zm1 0h1v1h-1zm3 0h1v1h-1zm12 0h1v1h-1zm2 0h1v1h-1zm15 0h1v1h-1zm5 0h1v1h-1zm-155 1h1v1h-1zm7 0h1v1h-1zm21 0h1v1h-1zm2 0h1v1h-1zm6 0h1v1h-1zm14 0h1v1h-1zm12 0h1v1h-1zm9 0h1v1h-1zm10 0h1v1h-1zm14 0h1v1h-1zm10 0h1v1h-1zm19 0h1v1h-1zm5 0h1v1h-1zm13 0h1v1h-1zm-142 1h1v1h-1zm7 0h1v1h-1zm29 0h1v1h-1zm6 0h1v1h-1zm17 0h1v1h-1zm21 0h1v1h-1zm36 0h1v1h-1zm34 0h1v1h-1zm1 0h1v1h-1zm-140 1h1v1h-1zm26 0h1v1h-1zm11 0h1v1h-1zm31 0h1v1h-1zm14 0h1v1h-1zm10 0h1v1h-1zm24 0h1v1h-1zm14 0h1v1h-1zm20 0h1v1h-1zm-163 1h1v1h-1zm8 0h1v1h-1zm35 0h1v1h-1zm36 0h1v1h-1zm19 0h1v1h-1zm12 0h1v1h-1zm5 0h1v1h-1zm1 0h1v1h-1zm7 0h1v1h-1zm3 0h1v1h-1zm8 0h1v1h-1zm1 0h1v1h-1zm7 0h1v1h-1zm3 0h1v1h-1zm17 0h1v1h-1zm-101 1h1v1h-1zm16 0h1v1h-1zm10 0h1v1h-1zm15 0h1v1h-1zm4 0h1v1h-1zm8 0h1v1h-1zm7 0h1v1h-1zm-120 1h1v1h-1zm51 0h1v1h-1zm1 0h1v1h-1zm3 0h1v1h-1zm3 0h1v1h-1zm8 0h1v1h-1zm7 0h1v1h-1zm2 0h1v1h-1zm4 0h1v1h-1zm10 0h1v1h-1zm34 0h1v1h-1zm10 0h1v1h-1zm5 0h1v1h-1zm2 0h1v1h-1zm9 0h1v1h-1zm11 0h1v1h-1z"/><path fill="#c7dde2" d="M6 0h1v1h-1zm7 0h1v1h-1zm4 0h1v1h-1zm1 0h1v1h-1zm1 0h1v1h-1zm18 0h1v1h-1zm13 0h1v1h-1zm6 0h1v1h-1zm23 0h1v1h-1zm1 0h1v1h-1zm7 0h1v1h-1zm23 0h1v1h-1zm26 0h1v1h-1zm13 0h1v1h-1zm17 0h1v1h-1zm-164 1h1v1h-1zm7 0h1v1h-1zm14 0h1v1h-1zm13 0h1v1h-1zm3 0h1v1h-1zm12 0h1v1h-1zm3 0h1v1h-1zm17 0h1v1h-1zm4 0h1v1h-1zm30 0h1v1h-1zm13 0h1v1h-1zm7 0h1v1h-1zm-123 1h1v1h-1zm18 0h1v1h-1zm23 0h1v1h-1zm2 0h1v1h-1zm26 0h1v1h-1zm1 0h1v1h-1zm6 0h1v1h-1zm23 0h1v1h-1zm19 0h1v1h-1zm4 0h1v1h-1zm6 0h1v1h-1zm18 0h1v1h-1zm-114 1h1v1h-1zm42 0h1v1h-1zm21 0h1v1h-1zm7 0h1v1h-1zm30 0h1v1h-1zm4 0h1v1h-1zm1 0h1v1h-1zm19 0h1v1h-1zm-140 1h1v1h-1zm48 0h1v1h-1zm4 0h1v1h-1zm7 0h1v1h-1zm10 0h1v1h-1zm8 0h1v1h-1zm32 0h1v1h-1zm1 0h1v1h-1zm-84 1h1v1h-1zm6 0h1v1h-1zm23 0h1v1h-1zm5 0h1v1h-1zm8 0h1v1h-1zm26 0h1v1h-1zm17 0h1v1h-1zm21 0h1v1h-1zm13 0h1v1h-1zm-163 1h1v1h-1zm25 0h1v1h-1zm19 0h1v1h-1zm1 0h1v1h-1zm12 0h1v1h-1zm7 0h1v1h-1zm1 0h1v1h-1zm7 0h1v1h-1zm21 0h1v1h-1zm24 0h1v1h-1zm10 0h1v1h-1zm27 0h1v1h-1zm-146 1h1v1h-1zm27 0h1v1h-1zm2 0h1v1h-1zm9 0h1v1h-1zm6 0h1v1h-1zm5 0h1v1h-1zm18 0h1v1h-1zm42 0h1v1h-1zm12 0h1v1h-1zm14 0h1v1h-1zm2 0h1v1h-1zm12 0h1v1h-1zm-142 1h1v1h-1zm16 0h1v1h-1zm8 0h1v1h-1zm4 0h1v1h-1zm3 0h1v1h-1zm8 0h1v1h-1zm59 0h1v1h-1zm12 0h1v1h-1zm29 0h1v1h-1zm6 0h1v1h-1zm1 0h1v1h-1z"/><path fill="#d5e5ea" d="M5 0h1v1h-1zm10 0h1v1h-1zm24 0h1v1h-1zm1 0h1v1h-1zm21 0h1v1h-1zm39 0h1v1h-1zm3 0h1v1h-1zm22 0h1v1h-1zm3 0h1v1h-1zm19 0h1v1h-1zm9 0h1v1h-1zm6 0h1v1h-1zm-148 1h1v1h-1zm1 0h1v1h-1zm17 0h1v1h-1zm26 0h1v1h-1zm2 0h1v1h-1zm2 0h1v1h-1zm22 0h1v1h-1zm24 0h1v1h-1zm-107 1h1v1h-1zm6 0h1v1h-1zm3 0h1v1h-1zm3 0h1v1h-1zm1 0h1v1h-1zm13 0h1v1h-1zm8 0h1v1h-1zm23 0h1v1h-1zm28 0h1v1h-1zm11 0h1v1h-1zm1 0h1v1h-1zm4 0h1v1h-1zm11 0h1v1h-1zm9 0h1v1h-1zm5 0h1v1h-1zm7 0h1v1h-1zm4 0h1v1h-1zm21 0h1v1h-1zm-106 1h1v1h-1zm31 0h1v1h-1zm63 0h1v1h-1zm8 0h1v1h-1zm10 0h1v1h-1zm-143 1h1v1h-1zm3 0h1v1h-1zm3 0h1v1h-1zm3 0h1v1h-1zm24 0h1v1h-1zm18 0h1v1h-1zm17 0h1v1h-1zm46 0h1v1h-1zm33 0h1v1h-1zm-164 1h1v1h-1zm54 0h1v1h-1zm1 0h1v1h-1zm3 0h1v1h-1zm6 0h1v1h-1zm12 0h1v1h-1zm14 0h1v1h-1zm3 0h1v1h-1zm4 0h1v1h-1zm2 0h1v1h-1zm10 0h1v1h-1zm5 0h1v1h-1zm7 0h1v1h-1zm1 0h1v1h-1zm12 0h1v1h-1zm5 0h1v1h-1zm14 0h1v1h-1zm-156 1h1v1h-1zm88 0h1v1h-1zm24 0h1v1h-1zm44 0h1v1h-1zm3 0h1v1h-1zm-103 1h1v1h-1zm6 0h1v1h-1zm2 0h1v1h-1zm6 0h1v1h-1zm1 0h1v1h-1zm5 0h1v1h-1zm46 0h1v1h-1zm7 0h1v1h-1zm1 0h1v1h-1zm1 0h1v1h-1zm5 0h1v1h-1zm-135 1h1v1h-1zm1 0h1v1h-1zm12 0h1v1h-1zm13 0h1v1h-1zm20 0h1v1h-1zm6 0h1v1h-1zm5 0h1v1h-1zm31 0h1v1h-1zm24 0h1v1h-1zm9 0h1v1h-1zm45 0h1v1h-1z"/><path fill="#e3eef1" d="M2 0h1v1h-1zm39 0h1v1h-1zm5 0h1v1h-1zm14 0h1v1h-1zm84 0h1v1h-1zm-110 1h1v1h-1zm6 0h1v1h-1zm6 0h1v1h-1zm4 0h1v1h-1zm3 0h1v1h-1zm14 0h1v1h-1zm10 0h1v1h-1zm8 0h1v1h-1zm41 0h1v1h-1zm20 0h1v1h-1zm13 0h1v1h-1zm-133 1h1v1h-1zm6 0h1v1h-1zm21 0h1v1h-1zm6 0h1v1h-1zm26 0h1v1h-1zm62 0h1v1h-1zm4 0h1v1h-1zm1 0h1v1h-1zm14 0h1v1h-1zm3 0h1v1h-1zm-150 1h1v1h-1zm4 0h1v1h-1zm46 0h1v1h-1zm48 0h1v1h-1zm25 0h1v1h-1zm25 0h1v1h-1zm-167 1h1v1h-1zm17 0h1v1h-1zm16 0h1v1h-1zm15 0h1v1h-1zm5 0h1v1h-1zm26 0h1v1h-1zm5 0h1v1h-1zm29 0h1v1h-1zm5 0h1v1h-1zm-108 1h1v1h-1zm3 0h1v1h-1zm8 0h1v1h-1zm19 0h1v1h-1zm8 0h1v1h-1zm17 0h1v1h-1zm1 0h1v1h-1zm5 0h1v1h-1zm4 0h1v1h-1zm16 0h1v1h-1zm2 0h1v1h-1zm28 0h1v1h-1zm31 0h1v1h-1zm-112 1h1v1h-1zm13 0h1v1h-1zm2 0h1v1h-1zm12 0h1v1h-1zm58 0h1v1h-1zm8 0h1v1h-1zm-126 1h1v1h-1zm23 0h1v1h-1zm3 0h1v1h-1zm15 0h1v1h-1zm32 0h1v1h-1zm4 0h1v1h-1zm6 0h1v1h-1zm64 0h1v1h-1zm1 0h1v1h-1zm13 0h1v1h-1zm-71 1h1v1h-1zm12 0h1v1h-1zm7 0h1v1h-1zm6 0h1v1h-1z"/><path fill="#f1f6f8" d="M14 0h1v1h-1zm59 0h1v1h-1zm64 0h1v1h-1zm23 0h1v1h-1zm3 0h1v1h-1zm5 0h1v1h-1zm-92 1h1v1h-1zm34 0h1v1h-1zm4 0h1v1h-1zm1 0h1v1h-1zm25 0h1v1h-1zm15 0h1v1h-1zm-131 1h1v1h-1zm24 0h1v1h-1zm69 0h1v1h-1zm37 0h1v1h-1zm13 0h1v1h-1zm-162 1h1v1h-1zm27 0h1v1h-1zm11 0h1v1h-1zm9 0h1v1h-1zm15 0h1v1h-1zm8 0h1v1h-1zm3 0h1v1h-1zm2 0h1v1h-1zm5 0h1v1h-1zm23 0h1v1h-1zm15 0h1v1h-1zm5 0h1v1h-1zm31 0h1v1h-1zm-153 1h1v1h-1zm8 0h1v1h-1zm20 0h1v1h-1zm47 0h1v1h-1zm15 0h1v1h-1zm16 0h1v1h-1zm11 0h1v1h-1zm14 0h1v1h-1zm16 0h1v1h-1zm9 0h1v1h-1zm-146 1h1v1h-1zm37 0h1v1h-1zm11 0h1v1h-1zm6 0h1v1h-1zm22 0h1v1h-1zm24 0h1v1h-1zm22 0h1v1h-1zm13 0h1v1h-1zm15 0h1v1h-1zm-145 1h1v1h-1zm74 0h1v1h-1zm1 0h1v1h-1zm12 0h1v1h-1zm30 0h1v1h-1zm-32 1h1v1h-1zm58 0h1v1h-1zm-114 1h1v1h-1zm3 0h1v1h-1zm23 0h1v1h-1zm12 0h1v1h-1zm16 0h1v1h-1zm6 0h1v1h-1zm9 0h1v1h-1zm1 0h1v1h-1zm8 0h1v1h-1zm8 0h1v1h-1zm12 0h1v1h-1zm9 0h1v1h-1zm7 0h1v1h-1z"/><path fill="#ffffff" d="M63 0h1v1h-1zm6 0h1v1h-1zm7 0h1v1h-1zm12 0h1v1h-1zm44 0h1v1h-1zm3 0h1v1h-1zm-107 1h1v1h-1zm-17 1h1v1h-1zm97 0h1v1h-1zm48 0h1v1h-1zm12 0h1v1h-1zm-139 1h1v1h-1zm4 0h1v1h-1zm79 0h1v1h-1zm6 0h1v1h-1zm11 0h1v1h-1zm6 0h1v1h-1zm8 0h1v1h-1zm26 0h1v1h-1zm-165 1h1v1h-1zm20 0h1v1h-1zm51 0h1v1h-1zm36 0h1v1h-1zm3 0h1v1h-1zm-108 1h1v1h-1zm12 0h1v1h-1zm4 0h1v1h-1zm6 0h1v1h-1zm34 0h1v1h-1zm69 0h1v1h-1zm-112 1h1v1h-1zm61 0h1v1h-1zm55 0h1v1h-1zm29 0h1v1h-1zm3 0h1v1h-1zm-156 1h1v1h-1zm2 0h1v1h-1zm14 0h1v1h-1zm24 0h1v1h-1zm4 0h1v1h-1zm40 0h1v1h-1zm8 0h1v1h-1zm44 0h1v1h-1zm15 0h1v1h-1zm-156 1h1v1h-1zm24 0h1v1h-1zm8 0h1v1h-1zm9 0h1v1h-1zm14 0h1v1h-1zm28 0h1v1h-1zm3 0h1v1h-1zm14 0h1v1h-1zm20 0h1v1h-1z"/><path fill="#fcf5ef" d="M7 0h1v1h-1zm16 0h1v1h-1zm12 0h1v1h-1zm29 0h1v1h-1zm1 0h1v1h-1zm13 0h1v1h-1zm4 0h1v1h-1zm2 0h1v1h-1zm32 0h1v1h-1zm1 0h1v1h-1zm5 0h1v1h-1zm26 0h1v1h-1zm-119 1h1v1h-1zm13 0h1v1h-1zm51 0h1v1h-1zm4 0h1v1h-1zm16 0h1v1h-1zm6 0h1v1h-1zm-101 1h1v1h-1zm10 0h1v1h-1zm9 0h1v1h-1zm42 0h1v1h-1zm57 0h1v1h-1zm3 0h1v1h-1zm-125 1h1v1h-1zm16 0h1v1h-1zm17 1h1v1h-1zm78 0h1v1h-1zm-124 1h1v1h-1zm11 0h1v1h-1zm2 0h1v1h-1zm13 1h1v1h-1zm25 0h1v1h-1zm61 0h1v1h-1zm47 0h1v1h-1zm-160 1h1v1h-1zm14 0h1v1h-1zm84 0h1v1h-1zm11 0h1v1h-1zm26 0h1v1h-1zm9 0h1v1h-1zm19 0h1v1h-1zm4 0h1v1h-1zm-150 1h1v1h-1zm25 0h1v1h-1zm26 0h1v1h-1zm16 0h1v1h-1zm11 0h1v1h-1zm10 0h1v1h-1zm28 0h1v1h-1z"/><path fill="#f9eadf" d="M21 0h1v1h-1zm31 0h1v1h-1zm39 0h1v1h-1zm50 0h1v1h-1zm18 0h1v1h-1zm-139 1h1v1h-1zm21 0h1v1h-1zm39 0h1v1h-1zm10 0h1v1h-1zm-71 1h1v1h-1zm14 0h1v1h-1zm32 0h1v1h-1zm5 0h1v1h-1zm53 0h1v1h-1zm5 0h1v1h-1zm-2 1h1v1h-1zm-96 1h1v1h-1zm104 0h1v1h-1zm20 0h1v1h-1zm12 0h1v1h-1zm-127 1h1v1h-1zm102 0h1v1h-1zm-130 1h1v1h-1zm1 0h1v1h-1zm29 0h1v1h-1zm35 0h1v1h-1zm30 0h1v1h-1zm20 0h1v1h-1zm-103 1h1v1h-1zm-15 1h1v1h-1zm58 0h1v1h-1zm41 0h1v1h-1zm46 0h1v1h-1z"/><path fill="#f6e0ce" d="M67 0h1v1h-1zm4 0h1v1h-1zm34 0h1v1h-1zm18 0h1v1h-1zm3 0h1v1h-1zm20 0h1v1h-1zm6 0h1v1h-1zm-142 1h1v1h-1zm69 0h1v1h-1zm45 0h1v1h-1zm-109 1h1v1h-1zm6 0h1v1h-1zm2 0h1v1h-1zm70 0h1v1h-1zm44 0h1v1h-1zm12 0h1v1h-1zm-109 1h1v1h-1zm33 0h1v1h-1zm19 0h1v1h-1zm13 0h1v1h-1zm44 0h1v1h-1zm-120 1h1v1h-1zm7 0h1v1h-1zm16 0h1v1h-1zm34 0h1v1h-1zm20 0h1v1h-1zm44 0h1v1h-1zm11 0h1v1h-1zm-158 1h1v1h-1zm29 0h1v1h-1zm1 0h1v1h-1zm30 1h1v1h-1zm42 0h1v1h-1zm4 0h1v1h-1zm46 0h1v1h-1zm-119 1h1v1h-1zm33 0h1v1h-1zm17 0h1v1h-1zm36 0h1v1h-1zm4 0h1v1h-1zm4 0h1v1h-1zm7 0h1v1h-1zm-117 1h1v1h-1zm5 0h1v1h-1zm60 0h1v1h-1zm57 0h1v1h-1z"/><path fill="#f2d5be" d="M115 0h1v1h-1zm15 0h1v1h-1zm9 0h1v1h-1zm-74 1h1v1h-1zm3 0h1v1h-1zm30 0h1v1h-1zm18 0h1v1h-1zm12 0h1v1h-1zm8 0h1v1h-1zm30 0h1v1h-1zm-106 1h1v1h-1zm20 0h1v1h-1zm10 0h1v1h-1zm2 0h1v1h-1zm52 0h1v1h-1zm10 1h1v1h-1zm-134 1h1v1h-1zm84 0h1v1h-1zm63 0h1v1h-1zm-163 1h1v1h-1zm25 0h1v1h-1zm8 0h1v1h-1zm1 1h1v1h-1zm105 0h1v1h-1zm6 0h1v1h-1zm14 0h1v1h-1zm-87 1h1v1h-1zm12 0h1v1h-1zm12 0h1v1h-1zm5 0h1v1h-1zm16 0h1v1h-1zm-110 1h1v1h-1zm135 0h1v1h-1z"/><path fill="#efcbae" d="M118 0h1v1h-1zm49 0h1v1h-1zm-149 1h1v1h-1zm121 0h1v1h-1zm18 1h1v1h-1zm-16 1h1v1h-1zm-134 1h1v1h-1zm14 0h1v1h-1zm37 0h1v1h-1zm10 0h1v1h-1zm47 0h1v1h-1zm37 0h1v1h-1zm-150 1h1v1h-1zm33 0h1v1h-1zm61 0h1v1h-1zm21 0h1v1h-1zm44 0h1v1h-1zm-151 1h1v1h-1zm71 0h1v1h-1zm2 0h1v1h-1zm1 0h1v1h-1zm16 0h1v1h-1zm47 0h1v1h-1zm-108 1h1v1h-1zm46 0h1v1h-1zm54 0h1v1h-1zm-118 1h1v1h-1zm5 0h1v1h-1zm31 0h1v1h-1zm12 0h1v1h-1zm48 0h1v1h-1z"/><path fill="#ecc09e" d="M4 0h1v1h-1zm30 0h1v1h-1zm64 0h1v1h-1zm-85 1h1v1h-1zm56 0h1v1h-1zm23 0h1v1h-1zm8 0h1v1h-1zm32 0h1v1h-1zm22 0h1v1h-1zm-22 1h1v1h-1zm-42 1h1v1h-1zm12 1h1v1h-1zm7 0h1v1h-1zm-32 2h1v1h-1zm25 0h1v1h-1zm29 0h1v1h-1zm-112 1h1v1h-1zm-9 1h1v1h-1zm23 0h1v1h-1z"/><path fill="#e9b68e" d="M22 0h1v1h-1zm21 0h1v1h-1zm53 0h1v1h-1zm-92 2h1v1h-1zm84 0h1v1h-1zm3 0h1v1h-1zm-81 1h1v1h-1zm123 0h1v1h-1zm11 0h1v1h-1zm0 1h1v1h-1zm-110 1h1v1h-1zm24 0h1v1h-1zm51 0h1v1h-1zm-104 1h1v1h-1zm64 0h1v1h-1zm10 0h1v1h-1zm-67 1h1v1h-1zm35 0h1v1h-1zm12 0h1v1h-1zm13 1h1v1h-1zm39 0h1v1h-1z"/><path fill="#e6ab7d" d="M31 0h1v1h-1zm28 0h1v1h-1zm34 0h1v1h-1zm4 0h1v1h-1zm-64 1h1v1h-1zm79 0h1v1h-1zm25 0h1v1h-1zm-83 1h1v1h-1zm61 0h1v1h-1zm-97 1h1v1h-1zm27 0h1v1h-1zm-44 1h1v1h-1zm31 0h1v1h-1zm5 0h1v1h-1zm22 0h1v1h-1zm44 0h1v1h-1zm2 0h1v1h-1zm-22 1h1v1h-1zm22 0h1v1h-1zm13 0h1v1h-1zm-80 2h1v1h-1zm11 0h1v1h-1zm1 0h1v1h-1zm44 0h1v1h-1z"/><path fill="#e3a16d" d="M53 0h1v1h-1zm-32 1h1v1h-1zm3 0h1v1h-1zm52 1h1v1h-1zm31 0h1v1h-1zm-105 1h1v1h-1zm140 2h1v1h-1zm-23 1h1v1h-1zm-48 2h1v1h-1zm29 0h1v1h-1z"/><path fill="#e0965d" d="M88 1h1v1h-1zm-6 2h1v1h-1zm16 0h1v1h-1zm-6 1h1v1h-1zm33 1h1v1h-1zm12 0h1v1h-1zm-87 1h1v1h-1zm23 0h1v1h-1zm-32 1h1v1h-1zm0 1h1v1h-1z"/><path fill="#dd8c4d" d="M8 0h1v1h-1zm134 0h1v1h-1zm13 0h1v1h-1zm-139 2h1v1h-1zm31 0h1v1h-1zm26 0h1v1h-1zm-52 1h1v1h-1zm94 0h1v1h-1zm41 0h1v1h-1zm-144 1h1v1h-1zm-4 1h1v1h-1zm18 1h1v1h-1zm49 0h1v1h-1zm13 0h1v1h-1zm40 0h1v1h-1zm4 2h1v1h-1zm6 0h1v1h-1z"/><path fill="#d9813d" d="M158 0h1v1h-1zm-14 1h1v1h-1zm-135 3h1v1h-1zm119 3h1v1h-1zm6 0h1v1h-1z"/><path fill="#d6772c" d="M24 0h1v1h-1zm-24 3h1v1h-1zm41 0h1v1h-1zm101 1h1v1h-1zm-83 2h1v1h-1zm103 0h1v1h-1z"/><path fill="#d36c1c" d="M0 1h1v1h-1zm19 0h1v1h-1zm99 1h1v1h-1zm-57 1h1v1h-1zm-38 1h1v1h-1zm56 1h1v1h-1zm41 1h1v1h-1zm-76 2h1v1h-1zm19 0h1v1h-1z"/><path fill="#d0620c" d="M133 1h1v1h-1zm-70 3h1v1h-1zm104 1h1v1h-1zm-54 2h1v1h-1zm12 0h1v1h-1z"/><path fill="#c85e0c" d="M124 0h1v1h-1zm-31 3h1v1h-1zm-28 1h1v1h-1zm99 0h1v1h-1zm-108 4h1v1h-1z"/><path fill="#c15b0b" d="M13 3h1v1h-1zm-4 2h1v1h-1zm37 0h1v1h-1zm7 2h1v1h-1zm62 0h1v1h-1z"/><path fill="#b9570b" d="M8 1h1v1h-1zm91 2h1v1h-1zm20 4h1v1h-1z"/><path fill="#b1530b" d="M43 1h1v1h-1zm93 2h1v1h-1zm-131 5h1v1h-1zm19 0h1v1h-1zm120 0h1v1h-1z"/><path fill="#a9500a" d="M145 6h1v1h-1zm-140 1h1v1h-1z"/><path fill="#a24c0a" d="M4 6h1v1h-1zm162 0h1v1h-1z"/><path fill="#9a480a" d="M108 0h1v1h-1zm-95 4h1v1h-1zm53 2h1v1h-1zm46 2h1v1h-1z"/><path fill="#924509" d="M54 6h1v1h-1zm105 2h1v1h-1z"/><path fill="#8a4109" d="M24 3h1v1h-1z"/><path fill="#7b3a08" d="M47 5h1v1h-1z"/><path fill="#733608" d="M35 3h1v1h-1zm99 3h1v1h-1zm-108 1h1v1h-1zm123 0h1v1h-1z"/><path fill="#5c2b07" d="M46 4h1v1h-1zm25 0h1v1h-1zm7 0h1v1h-1zm-71 1h1v1h-1zm61 0h1v1h-1zm-61 1h1v1h-1zm130 0h1v1h-1zm29 1h1v1h-1zm-154 1h1v1h-1z"/></g>
<g transform="translate(862.60,1103.70) scale(4.6340,21.0500)" shape-rendering="crispEdges"><path fill="#4990a2" d="M99 8h1v1h-1z"/><path fill="#5799a9" d="M55 3h1v1h-1zm67 1h1v1h-1zm-108 3h1v1h-1zm55 0h1v1h-1zm27 0h1v1h-1zm18 0h1v1h-1zm-70 1h1v1h-1z"/><path fill="#65a1b1" d="M72 3h1v1h-1zm0 1h1v1h-1zm-2 3h1v1h-1zm47 0h1v1h-1z"/><path fill="#73aab8" d="M73 0h1v1h-1zm6 0h1v1h-1zm18 0h1v1h-1zm33 0h1v1h-1zm-60 3h1v1h-1zm-23 1h1v1h-1zm49 2h1v1h-1zm-45 1h1v1h-1zm42 0h1v1h-1zm2 0h1v1h-1zm15 0h1v1h-1zm18 0h1v1h-1zm-99 1h1v1h-1zm8 0h1v1h-1zm82 0h1v1h-1z"/><path fill="#81b2bf" d="M17 0h1v1h-1zm104 0h1v1h-1zm12 0h1v1h-1zm-114 1h1v1h-1zm17 0h1v1h-1zm15 0h1v1h-1zm1 0h1v1h-1zm48 0h1v1h-1zm-19 1h1v1h-1zm-75 1h1v1h-1zm48 0h1v1h-1zm46 0h1v1h-1zm-68 1h1v1h-1zm5 0h1v1h-1zm18 0h1v1h-1zm18 0h1v1h-1zm44 0h1v1h-1zm18 0h1v1h-1zm-118 1h1v1h-1zm70 0h1v1h-1zm13 0h1v1h-1zm-86 1h1v1h-1zm81 0h1v1h-1zm24 0h1v1h-1zm-106 1h1v1h-1zm27 0h1v1h-1zm-40 1h1v1h-1zm63 0h1v1h-1zm45 0h1v1h-1zm5 0h1v1h-1z"/><path fill="#8fbbc6" d="M10 0h1v1h-1zm5 0h1v1h-1zm26 0h1v1h-1zm42 0h1v1h-1zm4 0h1v1h-1zm35 0h1v1h-1zm7 0h1v1h-1zm-127 1h1v1h-1zm2 0h1v1h-1zm17 0h1v1h-1zm14 0h1v1h-1zm14 0h1v1h-1zm10 0h1v1h-1zm7 0h1v1h-1zm13 0h1v1h-1zm14 0h1v1h-1zm13 0h1v1h-1zm12 0h1v1h-1zm7 0h1v1h-1zm-75 1h1v1h-1zm29 0h1v1h-1zm1 0h1v1h-1zm16 0h1v1h-1zm10 0h1v1h-1zm24 0h1v1h-1zm-88 1h1v1h-1zm5 0h1v1h-1zm2 0h1v1h-1zm10 0h1v1h-1zm57 0h1v1h-1zm7 0h1v1h-1zm-112 1h1v1h-1zm11 0h1v1h-1zm30 0h1v1h-1zm4 0h1v1h-1zm12 0h1v1h-1zm3 0h1v1h-1zm13 0h1v1h-1zm-73 1h1v1h-1zm36 0h1v1h-1zm24 0h1v1h-1zm1 0h1v1h-1zm18 0h1v1h-1zm31 0h1v1h-1zm-108 1h1v1h-1zm13 0h1v1h-1zm25 0h1v1h-1zm19 0h1v1h-1zm6 0h1v1h-1zm34 0h1v1h-1zm1 0h1v1h-1zm6 0h1v1h-1zm1 0h1v1h-1zm-45 1h1v1h-1zm29 0h1v1h-1zm16 0h1v1h-1zm5 0h1v1h-1zm-95 1h1v1h-1zm2 0h1v1h-1zm23 0h1v1h-1zm58 0h1v1h-1z"/><path fill="#9dc3cd" d="M19 0h1v1h-1zm11 0h1v1h-1zm24 0h1v1h-1zm13 0h1v1h-1zm23 0h1v1h-1zm19 0h1v1h-1zm11 0h1v1h-1zm-93 1h1v1h-1zm7 0h1v1h-1zm38 0h1v1h-1zm3 0h1v1h-1zm-15 1h1v1h-1zm24 0h1v1h-1zm-79 1h1v1h-1zm43 0h1v1h-1zm34 0h1v1h-1zm21 0h1v1h-1zm16 0h1v1h-1zm14 0h1v1h-1zm-116 1h1v1h-1zm84 0h1v1h-1zm10 0h1v1h-1zm-105 1h1v1h-1zm16 0h1v1h-1zm21 0h1v1h-1zm26 0h1v1h-1zm6 0h1v1h-1zm1 0h1v1h-1zm9 0h1v1h-1zm4 0h1v1h-1zm22 0h1v1h-1zm1 0h1v1h-1zm15 0h1v1h-1zm8 0h1v1h-1zm-119 1h1v1h-1zm1 0h1v1h-1zm17 0h1v1h-1zm5 0h1v1h-1zm10 0h1v1h-1zm3 0h1v1h-1zm11 0h1v1h-1zm4 0h1v1h-1zm7 0h1v1h-1zm25 0h1v1h-1zm15 0h1v1h-1zm20 0h1v1h-1zm-108 1h1v1h-1zm58 0h1v1h-1zm-78 1h1v1h-1zm4 0h1v1h-1zm6 0h1v1h-1zm2 0h1v1h-1zm39 0h1v1h-1zm5 0h1v1h-1zm5 0h1v1h-1zm50 0h1v1h-1z"/><path fill="#abccd4" d="M0 0h1v1h-1zm39 0h1v1h-1zm33 0h1v1h-1zm23 0h1v1h-1zm-41 1h1v1h-1zm7 0h1v1h-1zm12 0h1v1h-1zm-56 1h1v1h-1zm3 0h1v1h-1zm29 0h1v1h-1zm23 0h1v1h-1zm3 0h1v1h-1zm7 0h1v1h-1zm4 0h1v1h-1zm22 0h1v1h-1zm13 0h1v1h-1zm12 0h1v1h-1zm-126 1h1v1h-1zm12 0h1v1h-1zm33 0h1v1h-1zm44 0h1v1h-1zm31 0h1v1h-1zm2 0h1v1h-1zm-113 1h1v1h-1zm14 0h1v1h-1zm13 0h1v1h-1zm34 0h1v1h-1zm10 0h1v1h-1zm33 0h1v1h-1zm9 0h1v1h-1zm-119 1h1v1h-1zm9 0h1v1h-1zm16 0h1v1h-1zm17 0h1v1h-1zm3 0h1v1h-1zm31 0h1v1h-1zm-76 1h1v1h-1zm9 0h1v1h-1zm27 0h1v1h-1zm4 0h1v1h-1zm41 0h1v1h-1zm21 0h1v1h-1zm19 0h1v1h-1zm4 0h1v1h-1zm-117 1h1v1h-1zm1 0h1v1h-1zm18 0h1v1h-1zm37 0h1v1h-1zm11 0h1v1h-1zm34 0h1v1h-1zm2 0h1v1h-1zm-120 1h1v1h-1zm74 0h1v1h-1zm1 0h1v1h-1zm13 0h1v1h-1z"/><path fill="#b9d4db" d="M43 0h1v1h-1zm6 0h1v1h-1zm3 0h1v1h-1zm8 0h1v1h-1zm16 0h1v1h-1zm35 0h1v1h-1zm-28 1h1v1h-1zm19 0h1v1h-1zm31 0h1v1h-1zm-133 1h1v1h-1zm15 0h1v1h-1zm27 0h1v1h-1zm1 0h1v1h-1zm1 0h1v1h-1zm3 0h1v1h-1zm78 0h1v1h-1zm-117 1h1v1h-1zm3 0h1v1h-1zm10 0h1v1h-1zm4 0h1v1h-1zm35 0h1v1h-1zm18 0h1v1h-1zm1 0h1v1h-1zm5 0h1v1h-1zm3 0h1v1h-1zm24 0h1v1h-1zm19 0h1v1h-1zm1 0h1v1h-1zm-93 1h1v1h-1zm61 0h1v1h-1zm9 0h1v1h-1zm-95 1h1v1h-1zm3 0h1v1h-1zm58 0h1v1h-1zm5 0h1v1h-1zm1 0h1v1h-1zm1 0h1v1h-1zm48 0h1v1h-1zm-118 1h1v1h-1zm1 0h1v1h-1zm6 0h1v1h-1zm51 0h1v1h-1zm29 0h1v1h-1zm25 0h1v1h-1zm-112 1h1v1h-1zm14 0h1v1h-1zm5 0h1v1h-1zm15 0h1v1h-1zm7 0h1v1h-1zm11 0h1v1h-1zm3 0h1v1h-1zm33 0h1v1h-1zm7 0h1v1h-1zm2 0h1v1h-1zm-60 1h1v1h-1zm32 0h1v1h-1zm15 0h1v1h-1zm23 0h1v1h-1zm13 0h1v1h-1zm1 0h1v1h-1z"/><path fill="#c7dde2" d="M33 0h1v1h-1zm7 0h1v1h-1zm8 0h1v1h-1zm7 0h1v1h-1zm29 0h1v1h-1zm1 0h1v1h-1zm8 0h1v1h-1zm9 0h1v1h-1zm5 0h1v1h-1zm16 0h1v1h-1zm-115 1h1v1h-1zm2 0h1v1h-1zm32 0h1v1h-1zm29 0h1v1h-1zm10 0h1v1h-1zm16 0h1v1h-1zm14 0h1v1h-1zm5 0h1v1h-1zm14 0h1v1h-1zm1 0h1v1h-1zm-124 1h1v1h-1zm86 0h1v1h-1zm25 0h1v1h-1zm-37 1h1v1h-1zm21 0h1v1h-1zm-77 1h1v1h-1zm40 0h1v1h-1zm24 0h1v1h-1zm32 0h1v1h-1zm-107 1h1v1h-1zm4 0h1v1h-1zm11 0h1v1h-1zm66 0h1v1h-1zm11 0h1v1h-1zm22 0h1v1h-1zm-119 1h1v1h-1zm20 0h1v1h-1zm16 0h1v1h-1zm2 0h1v1h-1zm11 0h1v1h-1zm1 0h1v1h-1zm18 0h1v1h-1zm2 0h1v1h-1zm2 0h1v1h-1zm11 0h1v1h-1zm-84 1h1v1h-1zm8 0h1v1h-1zm11 0h1v1h-1zm14 0h1v1h-1zm14 0h1v1h-1zm35 0h1v1h-1zm40 0h1v1h-1zm-128 1h1v1h-1zm3 0h1v1h-1zm6 0h1v1h-1zm1 0h1v1h-1zm43 0h1v1h-1zm5 0h1v1h-1zm49 0h1v1h-1zm7 0h1v1h-1zm11 0h1v1h-1z"/><path fill="#d5e5ea" d="M4 0h1v1h-1zm23 0h1v1h-1zm20 0h1v1h-1zm6 0h1v1h-1zm16 0h1v1h-1zm13 0h1v1h-1zm43 0h1v1h-1zm-105 1h1v1h-1zm8 0h1v1h-1zm1 0h1v1h-1zm21 0h1v1h-1zm55 0h1v1h-1zm3 0h1v1h-1zm11 0h1v1h-1zm2 0h1v1h-1zm13 0h1v1h-1zm-110 1h1v1h-1zm10 0h1v1h-1zm22 0h1v1h-1zm5 0h1v1h-1zm6 0h1v1h-1zm9 0h1v1h-1zm29 0h1v1h-1zm-101 1h1v1h-1zm35 0h1v1h-1zm19 0h1v1h-1zm9 0h1v1h-1zm18 0h1v1h-1zm-84 1h1v1h-1zm5 0h1v1h-1zm8 0h1v1h-1zm12 0h1v1h-1zm3 0h1v1h-1zm2 0h1v1h-1zm2 0h1v1h-1zm8 0h1v1h-1zm29 0h1v1h-1zm18 0h1v1h-1zm6 0h1v1h-1zm18 0h1v1h-1zm1 0h1v1h-1zm10 0h1v1h-1zm1 0h1v1h-1zm-123 1h1v1h-1zm2 0h1v1h-1zm5 0h1v1h-1zm24 0h1v1h-1zm5 0h1v1h-1zm4 0h1v1h-1zm18 0h1v1h-1zm38 0h1v1h-1zm17 0h1v1h-1zm1 0h1v1h-1zm1 0h1v1h-1zm1 0h1v1h-1zm5 0h1v1h-1zm10 0h1v1h-1zm-132 1h1v1h-1zm27 0h1v1h-1zm35 0h1v1h-1zm9 0h1v1h-1zm45 0h1v1h-1zm13 0h1v1h-1zm-124 1h1v1h-1zm5 0h1v1h-1zm22 0h1v1h-1zm22 0h1v1h-1zm4 0h1v1h-1zm2 0h1v1h-1zm56 0h1v1h-1zm18 0h1v1h-1zm-82 1h1v1h-1zm6 0h1v1h-1zm8 0h1v1h-1zm22 0h1v1h-1zm6 0h1v1h-1zm20 0h1v1h-1zm6 0h1v1h-1zm3 0h1v1h-1z"/><path fill="#e3eef1" d="M2 0h1v1h-1zm7 0h1v1h-1zm16 0h1v1h-1zm25 0h1v1h-1zm1 0h1v1h-1zm45 0h1v1h-1zm32 0h1v1h-1zm-117 1h1v1h-1zm4 0h1v1h-1zm29 0h1v1h-1zm3 0h1v1h-1zm8 0h1v1h-1zm5 0h1v1h-1zm10 0h1v1h-1zm12 0h1v1h-1zm50 0h1v1h-1zm-130 1h1v1h-1zm4 0h1v1h-1zm16 0h1v1h-1zm16 0h1v1h-1zm14 0h1v1h-1zm17 0h1v1h-1zm2 0h1v1h-1zm14 0h1v1h-1zm10 0h1v1h-1zm7 0h1v1h-1zm-102 1h1v1h-1zm17 0h1v1h-1zm16 0h1v1h-1zm4 0h1v1h-1zm14 0h1v1h-1zm10 0h1v1h-1zm14 0h1v1h-1zm5 0h1v1h-1zm25 0h1v1h-1zm-66 1h1v1h-1zm10 0h1v1h-1zm9 0h1v1h-1zm2 0h1v1h-1zm4 0h1v1h-1zm18 0h1v1h-1zm3 0h1v1h-1zm1 0h1v1h-1zm11 0h1v1h-1zm12 0h1v1h-1zm1 0h1v1h-1zm8 0h1v1h-1zm-116 1h1v1h-1zm26 0h1v1h-1zm25 0h1v1h-1zm54 0h1v1h-1zm2 0h1v1h-1zm-102 1h1v1h-1zm18 0h1v1h-1zm11 0h1v1h-1zm2 0h1v1h-1zm35 0h1v1h-1zm24 0h1v1h-1zm6 0h1v1h-1zm6 0h1v1h-1zm21 0h1v1h-1zm-121 1h1v1h-1zm6 0h1v1h-1zm38 0h1v1h-1zm25 0h1v1h-1zm9 0h1v1h-1zm4 0h1v1h-1zm40 0h1v1h-1zm4 0h1v1h-1zm-128 1h1v1h-1zm18 0h1v1h-1zm8 0h1v1h-1zm5 0h1v1h-1zm31 0h1v1h-1zm5 0h1v1h-1zm7 0h1v1h-1zm11 0h1v1h-1zm4 0h1v1h-1zm9 0h1v1h-1z"/><path fill="#f1f6f8" d="M14 0h1v1h-1zm2 0h1v1h-1zm22 0h1v1h-1zm37 0h1v1h-1zm26 0h1v1h-1zm3 0h1v1h-1zm1 0h1v1h-1zm14 0h1v1h-1zm8 0h1v1h-1zm-105 1h1v1h-1zm23 0h1v1h-1zm3 0h1v1h-1zm19 0h1v1h-1zm23 0h1v1h-1zm20 0h1v1h-1zm3 0h1v1h-1zm2 0h1v1h-1zm11 0h1v1h-1zm3 0h1v1h-1zm-110 1h1v1h-1zm14 0h1v1h-1zm3 0h1v1h-1zm1 0h1v1h-1zm3 0h1v1h-1zm25 0h1v1h-1zm13 0h1v1h-1zm16 0h1v1h-1zm22 0h1v1h-1zm4 0h1v1h-1zm6 0h1v1h-1zm-112 1h1v1h-1zm77 0h1v1h-1zm41 0h1v1h-1zm-108 1h1v1h-1zm71 0h1v1h-1zm37 0h1v1h-1zm2 0h1v1h-1zm-113 1h1v1h-1zm2 0h1v1h-1zm15 0h1v1h-1zm22 0h1v1h-1zm4 0h1v1h-1zm20 0h1v1h-1zm21 0h1v1h-1zm-103 1h1v1h-1zm30 0h1v1h-1zm34 0h1v1h-1zm18 0h1v1h-1zm1 0h1v1h-1zm42 0h1v1h-1zm-120 1h1v1h-1zm39 0h1v1h-1zm30 0h1v1h-1zm31 0h1v1h-1zm4 0h1v1h-1zm-98 1h1v1h-1zm29 0h1v1h-1zm30 0h1v1h-1zm38 0h1v1h-1zm14 0h1v1h-1zm11 0h1v1h-1z"/><path fill="#ffffff" d="M21 0h1v1h-1zm43 0h1v1h-1zm48 0h1v1h-1zm6 0h1v1h-1zm-78 1h1v1h-1zm24 0h1v1h-1zm13 0h1v1h-1zm8 0h1v1h-1zm2 0h1v1h-1zm41 0h1v1h-1zm-125 1h1v1h-1zm56 0h1v1h-1zm14 0h1v1h-1zm27 0h1v1h-1zm9 0h1v1h-1zm20 0h1v1h-1zm-127 1h1v1h-1zm1 0h1v1h-1zm12 0h1v1h-1zm13 0h1v1h-1zm3 0h1v1h-1zm31 0h1v1h-1zm2 0h1v1h-1zm1 0h1v1h-1zm8 0h1v1h-1zm41 0h1v1h-1zm10 0h1v1h-1zm-79 1h1v1h-1zm69 0h1v1h-1zm19 0h1v1h-1zm-68 1h1v1h-1zm2 0h1v1h-1zm6 0h1v1h-1zm15 0h1v1h-1zm13 0h1v1h-1zm30 0h1v1h-1zm-116 1h1v1h-1zm20 0h1v1h-1zm6 0h1v1h-1zm3 0h1v1h-1zm45 0h1v1h-1zm4 0h1v1h-1zm9 0h1v1h-1zm5 0h1v1h-1zm17 0h1v1h-1zm4 0h1v1h-1zm-94 1h1v1h-1zm45 0h1v1h-1zm-40 1h1v1h-1zm2 0h1v1h-1zm23 0h1v1h-1zm6 0h1v1h-1zm3 0h1v1h-1zm4 0h1v1h-1zm27 0h1v1h-1zm11 0h1v1h-1zm6 0h1v1h-1z"/><path fill="#fcf5ef" d="M59 0h1v1h-1zm72 0h1v1h-1zm3 0h1v1h-1zm-65 1h1v1h-1zm53 0h1v1h-1zm-96 1h1v1h-1zm19 0h1v1h-1zm6 0h1v1h-1zm11 0h1v1h-1zm8 0h1v1h-1zm34 0h1v1h-1zm9 0h1v1h-1zm9 0h1v1h-1zm5 0h1v1h-1zm-109 1h1v1h-1zm38 0h1v1h-1zm13 0h1v1h-1zm39 0h1v1h-1zm-45 1h1v1h-1zm17 0h1v1h-1zm39 0h1v1h-1zm9 0h1v1h-1zm-102 1h1v1h-1zm56 0h1v1h-1zm21 0h1v1h-1zm20 0h1v1h-1zm-118 1h1v1h-1zm3 0h1v1h-1zm13 0h1v1h-1zm33 0h1v1h-1zm33 0h1v1h-1zm33 0h1v1h-1zm2 0h1v1h-1zm-122 1h1v1h-1zm38 0h1v1h-1zm24 0h1v1h-1zm42 0h1v1h-1zm-33 1h1v1h-1zm15 0h1v1h-1z"/><path fill="#f9eadf" d="M35 0h1v1h-1zm9 0h1v1h-1zm12 0h1v1h-1zm22 0h1v1h-1zm2 0h1v1h-1zm18 0h1v1h-1zm10 0h1v1h-1zm5 0h1v1h-1zm-108 1h1v1h-1zm1 0h1v1h-1zm10 0h1v1h-1zm1 0h1v1h-1zm24 0h1v1h-1zm15 0h1v1h-1zm-28 1h1v1h-1zm7 0h1v1h-1zm52 0h1v1h-1zm23 0h1v1h-1zm14 0h1v1h-1zm7 0h1v1h-1zm1 0h1v1h-1zm-69 1h1v1h-1zm23 0h1v1h-1zm-79 1h1v1h-1zm11 0h1v1h-1zm2 0h1v1h-1zm24 0h1v1h-1zm23 0h1v1h-1zm11 0h1v1h-1zm1 0h1v1h-1zm-59 1h1v1h-1zm11 0h1v1h-1zm8 0h1v1h-1zm6 0h1v1h-1zm17 0h1v1h-1zm15 0h1v1h-1zm22 0h1v1h-1zm-44 1h1v1h-1zm5 0h1v1h-1zm41 0h1v1h-1zm7 0h1v1h-1zm5 0h1v1h-1zm20 0h1v1h-1zm-129 1h1v1h-1zm27 0h1v1h-1zm17 0h1v1h-1zm29 0h1v1h-1zm-58 1h1v1h-1zm1 0h1v1h-1zm29 0h1v1h-1zm29 0h1v1h-1zm15 0h1v1h-1zm19 0h1v1h-1z"/><path fill="#f6e0ce" d="M6 0h1v1h-1zm5 0h1v1h-1zm31 0h1v1h-1zm28 0h1v1h-1zm11 0h1v1h-1zm35 0h1v1h-1zm-93 1h1v1h-1zm40 0h1v1h-1zm54 0h1v1h-1zm3 0h1v1h-1zm-89 1h1v1h-1zm8 0h1v1h-1zm2 0h1v1h-1zm7 0h1v1h-1zm7 0h1v1h-1zm68 0h1v1h-1zm5 0h1v1h-1zm-102 1h1v1h-1zm1 0h1v1h-1zm16 0h1v1h-1zm-28 1h1v1h-1zm19 0h1v1h-1zm42 0h1v1h-1zm22 0h1v1h-1zm-94 1h1v1h-1zm5 0h1v1h-1zm48 0h1v1h-1zm13 0h1v1h-1zm54 0h1v1h-1zm-100 1h1v1h-1zm51 0h1v1h-1zm5 0h1v1h-1zm25 0h1v1h-1zm-83 1h1v1h-1zm11 0h1v1h-1zm11 0h1v1h-1zm-30 1h1v1h-1zm1 0h1v1h-1zm39 0h1v1h-1zm5 0h1v1h-1zm25 0h1v1h-1zm6 0h1v1h-1zm13 0h1v1h-1zm3 0h1v1h-1z"/><path fill="#f2d5be" d="M18 0h1v1h-1zm88 0h1v1h-1zm-53 1h1v1h-1zm15 0h1v1h-1zm44 0h1v1h-1zm-87 1h1v1h-1zm28 0h1v1h-1zm30 0h1v1h-1zm28 0h1v1h-1zm3 0h1v1h-1zm-78 1h1v1h-1zm2 0h1v1h-1zm28 0h1v1h-1zm28 0h1v1h-1zm3 0h1v1h-1zm2 0h1v1h-1zm-97 1h1v1h-1zm2 0h1v1h-1zm6 0h1v1h-1zm18 0h1v1h-1zm7 0h1v1h-1zm13 0h1v1h-1zm67 0h1v1h-1zm16 0h1v1h-1zm-48 1h1v1h-1zm10 0h1v1h-1zm15 0h1v1h-1zm2 0h1v1h-1zm-6 1h1v1h-1zm28 0h1v1h-1zm-90 1h1v1h-1zm22 0h1v1h-1zm17 0h1v1h-1zm8 0h1v1h-1zm3 0h1v1h-1zm13 0h1v1h-1zm22 0h1v1h-1zm2 0h1v1h-1zm4 0h1v1h-1zm-54 1h1v1h-1zm12 0h1v1h-1z"/><path fill="#efcbae" d="M65 0h1v1h-1zm38 0h1v1h-1zm23 0h1v1h-1zm-112 1h1v1h-1zm24 0h1v1h-1zm46 0h1v1h-1zm11 0h1v1h-1zm12 0h1v1h-1zm16 0h1v1h-1zm-119 1h1v1h-1zm6 0h1v1h-1zm4 0h1v1h-1zm85 0h1v1h-1zm4 0h1v1h-1zm12 0h1v1h-1zm-81 1h1v1h-1zm34 0h1v1h-1zm15 0h1v1h-1zm6 0h1v1h-1zm36 0h1v1h-1zm-75 1h1v1h-1zm1 0h1v1h-1zm2 0h1v1h-1zm47 0h1v1h-1zm5 0h1v1h-1zm20 0h1v1h-1zm-5 1h1v1h-1zm-83 1h1v1h-1zm5 0h1v1h-1zm-18 1h1v1h-1zm5 0h1v1h-1zm42 0h1v1h-1zm27 0h1v1h-1zm-90 1h1v1h-1zm32 0h1v1h-1zm25 0h1v1h-1z"/><path fill="#ecc09e" d="M13 0h1v1h-1zm-10 1h1v1h-1zm77 0h1v1h-1zm21 0h1v1h-1zm-85 1h1v1h-1zm58 0h1v1h-1zm-58 1h1v1h-1zm13 0h1v1h-1zm21 0h1v1h-1zm-42 1h1v1h-1zm58 0h1v1h-1zm17 0h1v1h-1zm10 0h1v1h-1zm-81 1h1v1h-1zm36 0h1v1h-1zm2 0h1v1h-1zm4 0h1v1h-1zm59 0h1v1h-1zm6 0h1v1h-1zm-33 1h1v1h-1zm-47 1h1v1h-1zm36 0h1v1h-1zm5 0h1v1h-1zm6 0h1v1h-1zm38 0h1v1h-1zm-42 1h1v1h-1zm16 0h1v1h-1zm9 0h1v1h-1zm26 0h1v1h-1z"/><path fill="#e9b68e" d="M3 0h1v1h-1zm19 0h1v1h-1zm2 0h1v1h-1zm2 0h1v1h-1zm5 0h1v1h-1zm6 0h1v1h-1zm87 0h1v1h-1zm8 0h1v1h-1zm-75 1h1v1h-1zm70 0h1v1h-1zm-69 1h1v1h-1zm-45 1h1v1h-1zm27 0h1v1h-1zm4 0h1v1h-1zm74 0h1v1h-1zm2 0h1v1h-1zm2 0h1v1h-1zm6 0h1v1h-1zm-38 1h1v1h-1zm26 0h1v1h-1zm-101 1h1v1h-1zm10 0h1v1h-1zm5 0h1v1h-1zm3 0h1v1h-1zm11 0h1v1h-1zm24 0h1v1h-1zm58 0h1v1h-1zm-122 1h1v1h-1zm26 0h1v1h-1zm64 0h1v1h-1zm-88 1h1v1h-1zm6 0h1v1h-1zm70 0h1v1h-1zm19 0h1v1h-1zm8 0h1v1h-1zm3 0h1v1h-1zm-109 1h1v1h-1zm19 0h1v1h-1zm13 0h1v1h-1zm26 0h1v1h-1zm7 0h1v1h-1z"/><path fill="#e6ab7d" d="M29 0h1v1h-1zm-29 1h1v1h-1zm30 0h1v1h-1zm32 0h1v1h-1zm-49 1h1v1h-1zm17 0h1v1h-1zm2 0h1v1h-1zm57 0h1v1h-1zm9 0h1v1h-1zm19 0h1v1h-1zm2 0h1v1h-1zm-66 1h1v1h-1zm56 0h1v1h-1zm3 0h1v1h-1zm3 0h1v1h-1zm20 0h1v1h-1zm-78 1h1v1h-1zm5 0h1v1h-1zm44 0h1v1h-1zm20 0h1v1h-1zm1 0h1v1h-1zm-93 1h1v1h-1zm38 1h1v1h-1zm49 0h1v1h-1zm-85 1h1v1h-1zm14 0h1v1h-1zm75 0h1v1h-1zm-99 1h1v1h-1zm17 0h1v1h-1zm13 0h1v1h-1zm31 0h1v1h-1zm14 0h1v1h-1z"/><path fill="#e3a16d" d="M5 0h1v1h-1zm3 0h1v1h-1zm54 0h1v1h-1zm24 0h1v1h-1zm5 1h1v1h-1zm8 0h1v1h-1zm4 0h1v1h-1zm-98 1h1v1h-1zm6 0h1v1h-1zm7 0h1v1h-1zm-8 1h1v1h-1zm10 0h1v1h-1zm90 0h1v1h-1zm-101 1h1v1h-1zm12 0h1v1h-1zm19 0h1v1h-1zm14 0h1v1h-1zm48 0h1v1h-1zm-36 1h1v1h-1zm-65 1h1v1h-1zm2 0h1v1h-1zm17 0h1v1h-1zm20 0h1v1h-1zm75 1h1v1h-1zm-111 1h1v1h-1zm20 0h1v1h-1zm76 0h1v1h-1zm28 0h1v1h-1z"/><path fill="#e0965d" d="M7 0h1v1h-1zm39 0h1v1h-1zm71 0h1v1h-1zm-71 2h1v1h-1zm45 0h1v1h-1zm16 0h1v1h-1zm-84 1h1v1h-1zm81 0h1v1h-1zm-81 1h1v1h-1zm69 0h1v1h-1zm38 0h1v1h-1zm-72 1h1v1h-1zm-30 1h1v1h-1zm36 0h1v1h-1zm-8 1h1v1h-1zm41 0h1v1h-1zm-63 1h1v1h-1zm49 0h1v1h-1zm47 0h1v1h-1z"/><path fill="#dd8c4d" d="M12 0h1v1h-1zm24 0h1v1h-1zm-12 1h1v1h-1zm9 0h1v1h-1zm32 0h1v1h-1zm-56 1h1v1h-1zm67 1h1v1h-1zm14 0h1v1h-1zm23 0h1v1h-1zm-10 1h1v1h-1zm-98 1h1v1h-1zm22 0h1v1h-1zm22 0h1v1h-1zm43 0h1v1h-1zm26 0h1v1h-1zm-57 1h1v1h-1zm17 0h1v1h-1zm19 2h1v1h-1z"/><path fill="#d9813d" d="M63 0h1v1h-1zm14 0h1v1h-1zm12 0h1v1h-1zm-58 1h1v1h-1zm6 0h1v1h-1zm2 0h1v1h-1zm4 0h1v1h-1zm53 0h1v1h-1zm-95 1h1v1h-1zm20 0h1v1h-1zm45 0h1v1h-1zm69 0h1v1h-1zm-126 1h1v1h-1zm26 0h1v1h-1zm6 0h1v1h-1zm4 0h1v1h-1zm29 0h1v1h-1zm-47 1h1v1h-1zm15 1h1v1h-1zm52 0h1v1h-1zm-72 1h1v1h-1zm60 0h1v1h-1zm-33 1h1v1h-1zm23 0h1v1h-1zm-63 1h1v1h-1zm12 0h1v1h-1zm2 0h1v1h-1zm99 0h1v1h-1z"/><path fill="#d6772c" d="M58 0h1v1h-1zm42 0h1v1h-1zm14 0h1v1h-1zm-38 1h1v1h-1zm16 0h1v1h-1zm17 0h1v1h-1zm-38 2h1v1h-1zm22 0h1v1h-1zm-74 1h1v1h-1zm62 0h1v1h-1zm-30 1h1v1h-1zm74 0h1v1h-1zm-92 1h1v1h-1zm-31 1h1v1h-1zm1 0h1v1h-1zm85 0h1v1h-1zm12 0h1v1h-1zm32 0h1v1h-1zm-86 1h1v1h-1zm1 0h1v1h-1z"/><path fill="#d36c1c" d="M45 0h1v1h-1zm16 0h1v1h-1zm7 0h1v1h-1zm47 0h1v1h-1zm-41 1h1v1h-1zm24 0h1v1h-1zm-10 1h1v1h-1zm9 0h1v1h-1zm-85 1h1v1h-1zm36 3h1v1h-1zm52 0h1v1h-1zm-39 1h1v1h-1zm59 0h1v1h-1zm2 0h1v1h-1z"/><path fill="#d0620c" d="M91 0h1v1h-1zm1 0h1v1h-1zm2 0h1v1h-1zm30 1h1v1h-1zm11 0h1v1h-1zm-78 1h1v1h-1zm-25 1h1v1h-1zm14 0h1v1h-1zm71 0h1v1h-1zm-105 1h1v1h-1zm49 1h1v1h-1zm43 0h1v1h-1zm-45 2h1v1h-1zm24 0h1v1h-1zm-47 1h1v1h-1zm93 0h1v1h-1z"/><path fill="#c85e0c" d="M23 0h1v1h-1zm51 0h1v1h-1zm61 0h1v1h-1zm-81 2h1v1h-1zm10 0h1v1h-1zm48 0h1v1h-1zm-88 1h1v1h-1zm67 1h1v1h-1zm0 1h1v1h-1zm43 0h1v1h-1zm-44 1h1v1h-1zm-69 1h1v1h-1zm11 1h1v1h-1zm94 0h1v1h-1z"/><path fill="#c15b0b" d="M13 1h1v1h-1zm121 1h1v1h-1zm-46 1h1v1h-1zm10 0h1v1h-1zm-35 2h1v1h-1zm-32 1h1v1h-1zm12 0h1v1h-1zm-12 2h1v1h-1zm94 0h1v1h-1z"/><path fill="#b9570b" d="M32 1h1v1h-1zm29 3h1v1h-1zm-5 1h1v1h-1zm22 0h1v1h-1zm24 3h1v1h-1z"/><path fill="#b1530b" d="M1 0h1v1h-1zm70 0h1v1h-1zm39 0h1v1h-1zm-6 1h1v1h-1zm17 2h1v1h-1zm-79 1h1v1h-1zm4 0h1v1h-1zm58 0h1v1h-1zm-97 1h1v1h-1zm17 0h1v1h-1zm109 0h1v1h-1zm-80 1h1v1h-1zm-52 1h1v1h-1zm22 0h1v1h-1zm12 0h1v1h-1z"/><path fill="#a9500a" d="M78 1h1v1h-1zm12 1h1v1h-1zm-77 2h1v1h-1zm10 2h1v1h-1zm34 0h1v1h-1zm10 1h1v1h-1z"/><path fill="#a24c0a" d="M86 1h1v1h-1zm8 0h1v1h-1zm-2 2h1v1h-1zm14 0h1v1h-1zm-10 1h1v1h-1zm-96 1h1v1h-1zm96 0h1v1h-1zm-2 2h1v1h-1z"/><path fill="#9a480a" d="M65 7h1v1h-1z"/><path fill="#924509" d="M9 1h1v1h-1zm106 5h1v1h-1zm11 1h1v1h-1z"/><path fill="#8a4109" d="M23 2h1v1h-1zm69 0h1v1h-1zm9 0h1v1h-1zm0 1h1v1h-1zm-33 3h1v1h-1zm-17 2h1v1h-1z"/><path fill="#833d09" d="M20 0h1v1h-1zm68 1h1v1h-1zm-25 1h1v1h-1zm-62 1h1v1h-1zm129 2h1v1h-1zm-87 2h1v1h-1zm4 0h1v1h-1zm56 0h1v1h-1zm-76 1h1v1h-1z"/><path fill="#7b3a08" d="M28 0h1v1h-1zm-16 2h1v1h-1zm15 0h1v1h-1zm29 4h1v1h-1zm-39 1h1v1h-1zm3 0h1v1h-1zm8 0h1v1h-1z"/><path fill="#733608" d="M18 1h1v1h-1zm50 1h1v1h-1zm-11 1h1v1h-1zm-54 1h1v1h-1zm2 0h1v1h-1z"/><path fill="#6b3208" d="M75 4h1v1h-1z"/><path fill="#642f07" d="M99 0h1v1h-1zm8 3h1v1h-1z"/><path fill="#5c2b07" d="M32 0h1v1h-1zm2 0h1v1h-1zm23 0h1v1h-1zm9 0h1v1h-1zm22 0h1v1h-1zm-87 1h1v1h-1zm6 0h1v1h-1zm5 0h1v1h-1zm13 0h1v1h-1zm1 0h1v1h-1zm20 0h1v1h-1zm12 0h1v1h-1zm31 0h1v1h-1zm25 0h1v1h-1zm-106 1h1v1h-1zm21 0h1v1h-1zm48 0h1v1h-1zm-55 1h1v1h-1zm8 0h1v1h-1zm47 0h1v1h-1zm18 0h1v1h-1zm31 0h1v1h-1zm8 0h1v1h-1zm-134 1h1v1h-1zm36 0h1v1h-1zm23 0h1v1h-1zm10 0h1v1h-1zm5 0h1v1h-1zm33 0h1v1h-1zm-71 1h1v1h-1zm4 0h1v1h-1zm6 0h1v1h-1zm52 0h1v1h-1zm4 0h1v1h-1zm-96 1h1v1h-1zm59 0h1v1h-1zm18 0h1v1h-1zm5 0h1v1h-1zm18 0h1v1h-1zm19 0h1v1h-1zm1 0h1v1h-1zm-69 1h1v1h-1zm11 0h1v1h-1zm45 0h1v1h-1zm-96 1h1v1h-1zm28 0h1v1h-1zm5 0h1v1h-1zm35 0h1v1h-1zm49 0h1v1h-1z"/></g>
<text x="1505.6" y="1121.8" font-size="21.0" text-anchor="start" fill="#000" >Alanine</text>
<text x="1505.6" y="1142.8" font-size="21.0" text-anchor="start" fill="#000" >2−Ketobutyric acid</text>
<text x="1505.6" y="1163.9" font-size="21.0" text-anchor="start" fill="#000" >Pyruvic acid</text>
<text x="1505.6" y="1185.0" font-size="21.0" text-anchor="start" fill="#000" >Lactic acid</text>
<text x="1505.6" y="1206.0" font-size="21.0" text-anchor="start" fill="#000" >Hypoxanthine</text>
<text x="1505.6" y="1227.0" font-size="21.0" text-anchor="start" fill="#000" >Xanthine</text>
<text x="1505.6" y="1248.1" font-size="21.0" text-anchor="start" fill="#000" >17−Hydroxypregnenolone sulfate</text>
<text x="1505.6" y="1269.1" font-size="21.0" text-anchor="start" fill="#000" >Pregnenolone sulfate</text>
<text x="1505.6" y="1290.2" font-size="21.0" text-anchor="start" fill="#000" >Dihydrothymine</text>
<g transform="translate(59.00,1310.00) scale(4.6300,21.0500)" shape-rendering="crispEdges"><path fill="#4990a2" d="M54 13h1v1h-1zm71 10h1v1h-1z"/><path fill="#5799a9" d="M58 4h1v1h-1zm25 0h1v1h-1zm16 0h1v1h-1zm-31 4h1v1h-1zm13 5h1v1h-1zm65 0h1v1h-1zm-119 6h1v1h-1zm131 3h1v1h-1zm-78 1h1v1h-1z"/><path fill="#65a1b1" d="M153 0h1v1h-1zm-141 4h1v1h-1zm63 0h1v1h-1zm48 0h1v1h-1zm-65 3h1v1h-1zm10 0h1v1h-1zm14 0h1v1h-1zm64 0h1v1h-1zm-71 1h1v1h-1zm-58 1h1v1h-1zm-17 1h1v1h-1zm68 0h1v1h-1zm23 0h1v1h-1zm42 0h1v1h-1zm28 3h1v1h-1zm-142 1h1v1h-1zm108 2h1v1h-1zm13 0h1v1h-1zm-21 2h1v1h-1zm-68 1h1v1h-1zm90 0h1v1h-1zm-48 2h1v1h-1zm16 0h1v1h-1zm-57 1h1v1h-1zm22 0h1v1h-1zm18 0h1v1h-1zm3 1h1v1h-1zm53 0h1v1h-1z"/><path fill="#73aab8" d="M21 0h1v1h-1zm47 0h1v1h-1zm15 0h1v1h-1zm-1 1h1v1h-1zm-70 1h1v1h-1zm24 0h1v1h-1zm32 0h1v1h-1zm14 0h1v1h-1zm-61 1h1v1h-1zm54 0h1v1h-1zm-47 1h1v1h-1zm6 0h1v1h-1zm34 0h1v1h-1zm14 0h1v1h-1zm44 0h1v1h-1zm-58 1h1v1h-1zm8 0h1v1h-1zm-8 1h1v1h-1zm31 0h1v1h-1zm57 0h1v1h-1zm-98 2h1v1h-1zm59 0h1v1h-1zm16 0h1v1h-1zm-119 1h1v1h-1zm40 0h1v1h-1zm23 0h1v1h-1zm15 0h1v1h-1zm68 0h1v1h-1zm-132 1h1v1h-1zm67 0h1v1h-1zm43 0h1v1h-1zm24 0h1v1h-1zm-38 2h1v1h-1zm-110 1h1v1h-1zm25 0h1v1h-1zm23 0h1v1h-1zm7 0h1v1h-1zm87 0h1v1h-1zm-78 1h1v1h-1zm-43 1h1v1h-1zm107 0h1v1h-1zm23 0h1v1h-1zm-100 1h1v1h-1zm15 0h1v1h-1zm59 0h1v1h-1zm17 0h1v1h-1zm-140 2h1v1h-1zm23 0h1v1h-1zm63 1h1v1h-1zm34 0h1v1h-1zm28 0h1v1h-1zm-160 1h1v1h-1zm128 0h1v1h-1zm-77 1h1v1h-1zm100 0h1v1h-1zm14 0h1v1h-1zm-138 1h1v1h-1zm56 0h1v1h-1zm41 0h1v1h-1zm-108 1h1v1h-1zm7 0h1v1h-1zm61 0h1v1h-1zm5 0h1v1h-1zm6 0h1v1h-1z"/><path fill="#81b2bf" d="M58 0h1v1h-1zm17 0h1v1h-1zm25 0h1v1h-1zm14 0h1v1h-1zm3 0h1v1h-1zm-114 1h1v1h-1zm8 0h1v1h-1zm11 0h1v1h-1zm62 0h1v1h-1zm28 0h1v1h-1zm29 0h1v1h-1zm15 0h1v1h-1zm-137 1h1v1h-1zm120 0h1v1h-1zm17 0h1v1h-1zm-98 1h1v1h-1zm10 0h1v1h-1zm20 0h1v1h-1zm26 0h1v1h-1zm-81 1h1v1h-1zm32 0h1v1h-1zm49 0h1v1h-1zm32 0h1v1h-1zm-88 1h1v1h-1zm17 0h1v1h-1zm13 0h1v1h-1zm-71 1h1v1h-1zm41 0h1v1h-1zm17 0h1v1h-1zm7 0h1v1h-1zm1 0h1v1h-1zm64 0h1v1h-1zm-63 1h1v1h-1zm1 0h1v1h-1zm14 0h1v1h-1zm29 0h1v1h-1zm28 0h1v1h-1zm-137 1h1v1h-1zm60 0h1v1h-1zm5 0h1v1h-1zm15 0h1v1h-1zm57 0h1v1h-1zm-135 1h1v1h-1zm25 0h1v1h-1zm26 0h1v1h-1zm9 0h1v1h-1zm25 0h1v1h-1zm2 0h1v1h-1zm27 0h1v1h-1zm-108 1h1v1h-1zm15 0h1v1h-1zm11 0h1v1h-1zm21 0h1v1h-1zm31 0h1v1h-1zm36 0h1v1h-1zm-95 2h1v1h-1zm92 0h1v1h-1zm5 0h1v1h-1zm10 0h1v1h-1zm-138 1h1v1h-1zm12 0h1v1h-1zm24 0h1v1h-1zm15 0h1v1h-1zm20 0h1v1h-1zm22 0h1v1h-1zm2 0h1v1h-1zm7 0h1v1h-1zm6 0h1v1h-1zm6 0h1v1h-1zm-122 1h1v1h-1zm19 0h1v1h-1zm28 0h1v1h-1zm26 0h1v1h-1zm10 0h1v1h-1zm19 0h1v1h-1zm8 0h1v1h-1zm8 0h1v1h-1zm36 0h1v1h-1zm-156 1h1v1h-1zm40 0h1v1h-1zm23 0h1v1h-1zm29 0h1v1h-1zm26 0h1v1h-1zm9 0h1v1h-1zm3 0h1v1h-1zm-100 1h1v1h-1zm20 0h1v1h-1zm5 0h1v1h-1zm8 0h1v1h-1zm11 0h1v1h-1zm6 0h1v1h-1zm30 0h1v1h-1zm-112 2h1v1h-1zm6 0h1v1h-1zm66 0h1v1h-1zm74 0h1v1h-1zm17 0h1v1h-1zm-161 1h1v1h-1zm73 0h1v1h-1zm38 0h1v1h-1zm3 0h1v1h-1zm4 0h1v1h-1zm3 0h1v1h-1zm-124 1h1v1h-1zm9 0h1v1h-1zm82 0h1v1h-1zm9 0h1v1h-1zm16 0h1v1h-1zm8 0h1v1h-1zm10 0h1v1h-1zm-126 1h1v1h-1zm19 0h1v1h-1zm58 0h1v1h-1zm-57 1h1v1h-1zm13 0h1v1h-1zm52 0h1v1h-1zm1 0h1v1h-1zm26 0h1v1h-1zm15 0h1v1h-1zm-107 1h1v1h-1zm26 0h1v1h-1zm46 0h1v1h-1zm1 0h1v1h-1zm15 0h1v1h-1zm4 0h1v1h-1zm11 0h1v1h-1zm25 0h1v1h-1z"/><path fill="#8fbbc6" d="M2 0h1v1h-1zm17 0h1v1h-1zm45 0h1v1h-1zm42 0h1v1h-1zm50 0h1v1h-1zm8 0h1v1h-1zm-124 1h1v1h-1zm5 0h1v1h-1zm1 0h1v1h-1zm12 0h1v1h-1zm10 0h1v1h-1zm10 0h1v1h-1zm-63 1h1v1h-1zm5 0h1v1h-1zm17 0h1v1h-1zm13 0h1v1h-1zm25 0h1v1h-1zm10 0h1v1h-1zm14 0h1v1h-1zm41 0h1v1h-1zm7 0h1v1h-1zm-144 1h1v1h-1zm73 0h1v1h-1zm60 0h1v1h-1zm-90 1h1v1h-1zm30 0h1v1h-1zm8 0h1v1h-1zm17 0h1v1h-1zm11 0h1v1h-1zm5 0h1v1h-1zm-102 1h1v1h-1zm18 0h1v1h-1zm3 0h1v1h-1zm14 0h1v1h-1zm22 0h1v1h-1zm11 0h1v1h-1zm43 0h1v1h-1zm15 0h1v1h-1zm15 0h1v1h-1zm-110 1h1v1h-1zm34 0h1v1h-1zm7 0h1v1h-1zm27 0h1v1h-1zm-95 1h1v1h-1zm3 0h1v1h-1zm6 0h1v1h-1zm22 0h1v1h-1zm6 0h1v1h-1zm32 0h1v1h-1zm18 0h1v1h-1zm11 0h1v1h-1zm42 0h1v1h-1zm-147 1h1v1h-1zm10 0h1v1h-1zm11 0h1v1h-1zm3 0h1v1h-1zm18 0h1v1h-1zm1 0h1v1h-1zm1 0h1v1h-1zm27 0h1v1h-1zm17 0h1v1h-1zm5 0h1v1h-1zm1 0h1v1h-1zm57 0h1v1h-1zm-152 1h1v1h-1zm2 0h1v1h-1zm9 0h1v1h-1zm10 0h1v1h-1zm33 0h1v1h-1zm20 0h1v1h-1zm38 0h1v1h-1zm39 0h1v1h-1zm5 0h1v1h-1zm-164 1h1v1h-1zm17 0h1v1h-1zm35 0h1v1h-1zm11 0h1v1h-1zm15 0h1v1h-1zm16 0h1v1h-1zm22 0h1v1h-1zm12 0h1v1h-1zm21 0h1v1h-1zm-129 1h1v1h-1zm16 0h1v1h-1zm15 0h1v1h-1zm22 0h1v1h-1zm28 0h1v1h-1zm49 0h1v1h-1zm8 0h1v1h-1zm-146 1h1v1h-1zm30 0h1v1h-1zm4 0h1v1h-1zm57 0h1v1h-1zm4 0h1v1h-1zm30 0h1v1h-1zm21 0h1v1h-1zm-150 1h1v1h-1zm39 0h1v1h-1zm3 0h1v1h-1zm60 0h1v1h-1zm1 0h1v1h-1zm37 0h1v1h-1zm-136 1h1v1h-1zm41 0h1v1h-1zm3 0h1v1h-1zm7 0h1v1h-1zm39 0h1v1h-1zm38 0h1v1h-1zm4 0h1v1h-1zm-124 1h1v1h-1zm18 0h1v1h-1zm6 0h1v1h-1zm25 0h1v1h-1zm13 0h1v1h-1zm8 0h1v1h-1zm3 0h1v1h-1zm8 0h1v1h-1zm12 0h1v1h-1zm23 0h1v1h-1zm1 0h1v1h-1zm12 0h1v1h-1zm15 0h1v1h-1zm-160 1h1v1h-1zm31 0h1v1h-1zm6 0h1v1h-1zm69 0h1v1h-1zm19 0h1v1h-1zm4 0h1v1h-1zm19 0h1v1h-1zm10 0h1v1h-1zm-161 2h1v1h-1zm1 0h1v1h-1zm15 0h1v1h-1zm1 0h1v1h-1zm1 0h1v1h-1zm18 0h1v1h-1zm49 0h1v1h-1zm7 0h1v1h-1zm2 0h1v1h-1zm26 0h1v1h-1zm10 0h1v1h-1zm19 0h1v1h-1zm-149 1h1v1h-1zm10 0h1v1h-1zm59 0h1v1h-1zm6 0h1v1h-1zm9 0h1v1h-1zm18 0h1v1h-1zm1 0h1v1h-1zm5 0h1v1h-1zm1 0h1v1h-1zm52 0h1v1h-1zm-157 1h1v1h-1zm15 0h1v1h-1zm3 0h1v1h-1zm73 0h1v1h-1zm25 0h1v1h-1zm9 0h1v1h-1zm-125 1h1v1h-1zm33 0h1v1h-1zm30 0h1v1h-1zm11 0h1v1h-1zm25 0h1v1h-1zm14 0h1v1h-1zm4 0h1v1h-1zm3 0h1v1h-1zm30 0h1v1h-1zm-156 1h1v1h-1zm7 0h1v1h-1zm4 0h1v1h-1zm9 0h1v1h-1zm28 0h1v1h-1zm9 0h1v1h-1zm9 0h1v1h-1zm3 0h1v1h-1zm8 0h1v1h-1zm18 0h1v1h-1zm54 0h1v1h-1zm-130 1h1v1h-1zm58 0h1v1h-1zm41 0h1v1h-1zm3 0h1v1h-1zm19 0h1v1h-1z"/><path fill="#9dc3cd" d="M45 0h1v1h-1zm1 0h1v1h-1zm30 0h1v1h-1zm56 0h1v1h-1zm1 0h1v1h-1zm8 0h1v1h-1zm5 0h1v1h-1zm-90 1h1v1h-1zm16 0h1v1h-1zm7 0h1v1h-1zm47 0h1v1h-1zm7 0h1v1h-1zm13 0h1v1h-1zm1 0h1v1h-1zm16 0h1v1h-1zm4 0h1v1h-1zm-164 1h1v1h-1zm18 0h1v1h-1zm96 0h1v1h-1zm20 0h1v1h-1zm9 0h1v1h-1zm-131 1h1v1h-1zm4 0h1v1h-1zm1 0h1v1h-1zm10 0h1v1h-1zm6 0h1v1h-1zm49 0h1v1h-1zm27 0h1v1h-1zm34 0h1v1h-1zm5 0h1v1h-1zm5 0h1v1h-1zm-154 1h1v1h-1zm15 0h1v1h-1zm5 0h1v1h-1zm14 0h1v1h-1zm36 0h1v1h-1zm58 0h1v1h-1zm15 0h1v1h-1zm6 0h1v1h-1zm5 0h1v1h-1zm-154 1h1v1h-1zm7 0h1v1h-1zm11 0h1v1h-1zm28 0h1v1h-1zm15 0h1v1h-1zm22 0h1v1h-1zm14 0h1v1h-1zm1 0h1v1h-1zm12 0h1v1h-1zm15 0h1v1h-1zm6 0h1v1h-1zm-131 1h1v1h-1zm1 0h1v1h-1zm4 0h1v1h-1zm2 0h1v1h-1zm33 0h1v1h-1zm11 0h1v1h-1zm23 0h1v1h-1zm10 0h1v1h-1zm2 0h1v1h-1zm38 0h1v1h-1zm14 0h1v1h-1zm1 0h1v1h-1zm3 0h1v1h-1zm-69 1h1v1h-1zm11 0h1v1h-1zm41 0h1v1h-1zm14 0h1v1h-1zm6 0h1v1h-1zm-145 1h1v1h-1zm35 0h1v1h-1zm9 0h1v1h-1zm30 0h1v1h-1zm12 0h1v1h-1zm10 0h1v1h-1zm27 0h1v1h-1zm2 0h1v1h-1zm-118 1h1v1h-1zm31 0h1v1h-1zm9 0h1v1h-1zm1 0h1v1h-1zm7 0h1v1h-1zm62 0h1v1h-1zm2 0h1v1h-1zm6 0h1v1h-1zm18 0h1v1h-1zm-107 1h1v1h-1zm7 0h1v1h-1zm30 0h1v1h-1zm14 0h1v1h-1zm71 0h1v1h-1zm1 0h1v1h-1zm3 0h1v1h-1zm-92 1h1v1h-1zm55 0h1v1h-1zm6 0h1v1h-1zm31 0h1v1h-1zm-162 1h1v1h-1zm7 0h1v1h-1zm11 0h1v1h-1zm30 0h1v1h-1zm1 0h1v1h-1zm16 0h1v1h-1zm8 0h1v1h-1zm25 0h1v1h-1zm8 0h1v1h-1zm17 0h1v1h-1zm25 0h1v1h-1zm1 0h1v1h-1zm-144 1h1v1h-1zm38 0h1v1h-1zm54 0h1v1h-1zm5 0h1v1h-1zm32 0h1v1h-1zm1 0h1v1h-1zm13 0h1v1h-1zm3 0h1v1h-1zm-142 1h1v1h-1zm40 0h1v1h-1zm10 0h1v1h-1zm13 0h1v1h-1zm7 0h1v1h-1zm27 0h1v1h-1zm15 0h1v1h-1zm9 0h1v1h-1zm10 0h1v1h-1zm11 0h1v1h-1zm12 0h1v1h-1zm-163 1h1v1h-1zm7 0h1v1h-1zm1 0h1v1h-1zm15 0h1v1h-1zm23 0h1v1h-1zm6 0h1v1h-1zm3 0h1v1h-1zm10 0h1v1h-1zm10 0h1v1h-1zm9 0h1v1h-1zm15 0h1v1h-1zm47 0h1v1h-1zm3 0h1v1h-1zm2 0h1v1h-1zm9 0h1v1h-1zm2 0h1v1h-1zm-164 1h1v1h-1zm56 0h1v1h-1zm5 0h1v1h-1zm5 0h1v1h-1zm1 0h1v1h-1zm3 0h1v1h-1zm17 0h1v1h-1zm54 0h1v1h-1zm23 0h1v1h-1zm-132 2h1v1h-1zm61 0h1v1h-1zm25 0h1v1h-1zm23 0h1v1h-1zm4 0h1v1h-1zm6 0h1v1h-1zm-149 1h1v1h-1zm4 0h1v1h-1zm39 0h1v1h-1zm1 0h1v1h-1zm17 0h1v1h-1zm8 0h1v1h-1zm40 0h1v1h-1zm17 0h1v1h-1zm6 0h1v1h-1zm-134 1h1v1h-1zm9 0h1v1h-1zm45 0h1v1h-1zm8 0h1v1h-1zm46 0h1v1h-1zm17 0h1v1h-1zm2 0h1v1h-1zm4 0h1v1h-1zm30 0h1v1h-1zm-154 1h1v1h-1zm6 0h1v1h-1zm8 0h1v1h-1zm12 0h1v1h-1zm10 0h1v1h-1zm45 0h1v1h-1zm7 0h1v1h-1zm15 0h1v1h-1zm12 0h1v1h-1zm4 0h1v1h-1zm8 0h1v1h-1zm8 0h1v1h-1zm8 0h1v1h-1zm-134 1h1v1h-1zm9 0h1v1h-1zm38 0h1v1h-1zm17 0h1v1h-1zm38 0h1v1h-1zm8 0h1v1h-1zm1 0h1v1h-1zm6 0h1v1h-1zm17 0h1v1h-1zm-142 1h1v1h-1zm1 0h1v1h-1zm23 0h1v1h-1zm23 0h1v1h-1zm20 0h1v1h-1zm9 0h1v1h-1zm20 0h1v1h-1zm1 0h1v1h-1zm9 0h1v1h-1zm7 0h1v1h-1zm31 0h1v1h-1zm1 0h1v1h-1z"/><path fill="#abccd4" d="M16 0h1v1h-1zm35 0h1v1h-1zm21 0h1v1h-1zm29 0h1v1h-1zm4 0h1v1h-1zm34 0h1v1h-1zm1 0h1v1h-1zm-121 1h1v1h-1zm18 0h1v1h-1zm7 0h1v1h-1zm10 0h1v1h-1zm13 0h1v1h-1zm8 0h1v1h-1zm1 0h1v1h-1zm20 0h1v1h-1zm3 0h1v1h-1zm40 0h1v1h-1zm10 0h1v1h-1zm-121 1h1v1h-1zm23 0h1v1h-1zm7 0h1v1h-1zm48 0h1v1h-1zm35 0h1v1h-1zm-139 1h1v1h-1zm11 0h1v1h-1zm54 0h1v1h-1zm5 0h1v1h-1zm6 0h1v1h-1zm5 0h1v1h-1zm16 0h1v1h-1zm2 0h1v1h-1zm52 0h1v1h-1zm-133 1h1v1h-1zm1 0h1v1h-1zm9 0h1v1h-1zm70 0h1v1h-1zm5 0h1v1h-1zm19 0h1v1h-1zm3 0h1v1h-1zm6 0h1v1h-1zm-115 1h1v1h-1zm1 0h1v1h-1zm2 0h1v1h-1zm25 0h1v1h-1zm55 0h1v1h-1zm16 0h1v1h-1zm29 0h1v1h-1zm1 0h1v1h-1zm-141 1h1v1h-1zm13 0h1v1h-1zm3 0h1v1h-1zm11 0h1v1h-1zm4 0h1v1h-1zm47 0h1v1h-1zm19 0h1v1h-1zm3 0h1v1h-1zm11 0h1v1h-1zm22 0h1v1h-1zm4 0h1v1h-1zm9 0h1v1h-1zm-150 1h1v1h-1zm13 0h1v1h-1zm15 0h1v1h-1zm3 0h1v1h-1zm20 0h1v1h-1zm19 0h1v1h-1zm4 0h1v1h-1zm1 0h1v1h-1zm3 0h1v1h-1zm16 0h1v1h-1zm4 0h1v1h-1zm5 0h1v1h-1zm3 0h1v1h-1zm44 0h1v1h-1zm-131 1h1v1h-1zm23 0h1v1h-1zm34 0h1v1h-1zm2 0h1v1h-1zm2 0h1v1h-1zm58 0h1v1h-1zm-116 1h1v1h-1zm3 0h1v1h-1zm57 0h1v1h-1zm41 0h1v1h-1zm7 0h1v1h-1zm12 0h1v1h-1zm19 0h1v1h-1zm1 0h1v1h-1zm4 0h1v1h-1zm-166 1h1v1h-1zm4 0h1v1h-1zm43 0h1v1h-1zm51 0h1v1h-1zm12 0h1v1h-1zm1 0h1v1h-1zm13 0h1v1h-1zm3 0h1v1h-1zm5 0h1v1h-1zm35 0h1v1h-1zm-109 1h1v1h-1zm35 0h1v1h-1zm13 0h1v1h-1zm15 0h1v1h-1zm3 0h1v1h-1zm12 0h1v1h-1zm-115 1h1v1h-1zm31 0h1v1h-1zm1 0h1v1h-1zm33 0h1v1h-1zm4 0h1v1h-1zm15 0h1v1h-1zm6 0h1v1h-1zm13 0h1v1h-1zm20 0h1v1h-1zm-140 1h1v1h-1zm13 0h1v1h-1zm1 0h1v1h-1zm48 0h1v1h-1zm21 0h1v1h-1zm43 0h1v1h-1zm-115 1h1v1h-1zm29 0h1v1h-1zm4 0h1v1h-1zm2 0h1v1h-1zm5 0h1v1h-1zm3 0h1v1h-1zm5 0h1v1h-1zm2 0h1v1h-1zm5 0h1v1h-1zm3 0h1v1h-1zm12 0h1v1h-1zm63 0h1v1h-1zm14 0h1v1h-1zm-142 1h1v1h-1zm28 0h1v1h-1zm21 0h1v1h-1zm31 0h1v1h-1zm25 0h1v1h-1zm41 0h1v1h-1zm-82 1h1v1h-1zm10 0h1v1h-1zm25 0h1v1h-1zm14 0h1v1h-1zm14 0h1v1h-1zm13 0h1v1h-1zm-160 2h1v1h-1zm22 0h1v1h-1zm13 0h1v1h-1zm1 0h1v1h-1zm29 0h1v1h-1zm4 0h1v1h-1zm13 0h1v1h-1zm24 0h1v1h-1zm8 0h1v1h-1zm6 0h1v1h-1zm7 0h1v1h-1zm14 0h1v1h-1zm7 0h1v1h-1zm17 0h1v1h-1zm-167 1h1v1h-1zm3 0h1v1h-1zm37 0h1v1h-1zm13 0h1v1h-1zm8 0h1v1h-1zm61 0h1v1h-1zm26 0h1v1h-1zm-143 1h1v1h-1zm25 0h1v1h-1zm5 0h1v1h-1zm4 0h1v1h-1zm39 0h1v1h-1zm25 0h1v1h-1zm6 0h1v1h-1zm14 0h1v1h-1zm43 0h1v1h-1zm-139 1h1v1h-1zm4 0h1v1h-1zm25 0h1v1h-1zm8 0h1v1h-1zm5 0h1v1h-1zm12 0h1v1h-1zm17 0h1v1h-1zm41 0h1v1h-1zm10 0h1v1h-1zm7 0h1v1h-1zm-124 1h1v1h-1zm3 0h1v1h-1zm21 0h1v1h-1zm46 0h1v1h-1zm5 0h1v1h-1zm2 0h1v1h-1zm39 0h1v1h-1zm-145 1h1v1h-1zm22 0h1v1h-1zm6 0h1v1h-1zm9 0h1v1h-1zm61 0h1v1h-1zm66 0h1v1h-1z"/><path fill="#b9d4db" d="M40 0h1v1h-1zm38 0h1v1h-1zm2 0h1v1h-1zm2 0h1v1h-1zm6 0h1v1h-1zm27 0h1v1h-1zm12 0h1v1h-1zm24 0h1v1h-1zm9 0h1v1h-1zm-158 1h1v1h-1zm10 0h1v1h-1zm8 0h1v1h-1zm13 0h1v1h-1zm3 0h1v1h-1zm29 0h1v1h-1zm1 0h1v1h-1zm23 0h1v1h-1zm14 0h1v1h-1zm5 0h1v1h-1zm15 0h1v1h-1zm9 0h1v1h-1zm20 0h1v1h-1zm12 0h1v1h-1zm-147 1h1v1h-1zm5 0h1v1h-1zm24 0h1v1h-1zm11 0h1v1h-1zm8 0h1v1h-1zm11 0h1v1h-1zm11 0h1v1h-1zm7 0h1v1h-1zm32 0h1v1h-1zm2 0h1v1h-1zm5 0h1v1h-1zm20 0h1v1h-1zm7 0h1v1h-1zm-135 1h1v1h-1zm3 0h1v1h-1zm11 0h1v1h-1zm3 0h1v1h-1zm4 0h1v1h-1zm10 0h1v1h-1zm9 0h1v1h-1zm22 0h1v1h-1zm30 0h1v1h-1zm9 0h1v1h-1zm29 0h1v1h-1zm-152 1h1v1h-1zm8 0h1v1h-1zm2 0h1v1h-1zm5 0h1v1h-1zm38 0h1v1h-1zm38 0h1v1h-1zm34 0h1v1h-1zm9 0h1v1h-1zm22 0h1v1h-1zm10 0h1v1h-1zm-152 1h1v1h-1zm14 0h1v1h-1zm13 0h1v1h-1zm36 0h1v1h-1zm2 0h1v1h-1zm23 0h1v1h-1zm10 0h1v1h-1zm8 0h1v1h-1zm28 0h1v1h-1zm12 0h1v1h-1zm2 0h1v1h-1zm-144 1h1v1h-1zm22 0h1v1h-1zm8 0h1v1h-1zm21 0h1v1h-1zm28 0h1v1h-1zm5 0h1v1h-1zm3 0h1v1h-1zm38 0h1v1h-1zm18 0h1v1h-1zm-152 1h1v1h-1zm20 0h1v1h-1zm5 0h1v1h-1zm3 0h1v1h-1zm15 0h1v1h-1zm-40 1h1v1h-1zm30 0h1v1h-1zm5 0h1v1h-1zm13 0h1v1h-1zm9 0h1v1h-1zm13 0h1v1h-1zm24 0h1v1h-1zm42 0h1v1h-1zm7 0h1v1h-1zm8 0h1v1h-1zm3 0h1v1h-1zm-125 1h1v1h-1zm25 0h1v1h-1zm4 0h1v1h-1zm15 0h1v1h-1zm2 0h1v1h-1zm1 0h1v1h-1zm2 0h1v1h-1zm8 0h1v1h-1zm21 0h1v1h-1zm12 0h1v1h-1zm7 0h1v1h-1zm-130 1h1v1h-1zm21 0h1v1h-1zm30 0h1v1h-1zm16 0h1v1h-1zm29 0h1v1h-1zm15 0h1v1h-1zm13 0h1v1h-1zm-36 1h1v1h-1zm46 0h1v1h-1zm-134 1h1v1h-1zm10 0h1v1h-1zm13 0h1v1h-1zm29 0h1v1h-1zm5 0h1v1h-1zm36 0h1v1h-1zm12 0h1v1h-1zm6 0h1v1h-1zm13 0h1v1h-1zm28 0h1v1h-1zm2 0h1v1h-1zm-131 1h1v1h-1zm4 0h1v1h-1zm2 0h1v1h-1zm4 0h1v1h-1zm11 0h1v1h-1zm19 0h1v1h-1zm2 0h1v1h-1zm7 0h1v1h-1zm8 0h1v1h-1zm15 0h1v1h-1zm12 0h1v1h-1zm9 0h1v1h-1zm30 0h1v1h-1zm8 0h1v1h-1zm-126 1h1v1h-1zm50 0h1v1h-1zm2 0h1v1h-1zm19 0h1v1h-1zm45 0h1v1h-1zm14 0h1v1h-1zm-156 1h1v1h-1zm23 0h1v1h-1zm2 0h1v1h-1zm6 0h1v1h-1zm11 0h1v1h-1zm27 0h1v1h-1zm21 0h1v1h-1zm6 0h1v1h-1zm6 0h1v1h-1zm10 0h1v1h-1zm35 0h1v1h-1zm-133 1h1v1h-1zm4 0h1v1h-1zm14 0h1v1h-1zm14 0h1v1h-1zm14 0h1v1h-1zm37 0h1v1h-1zm1 0h1v1h-1zm6 0h1v1h-1zm5 0h1v1h-1zm20 0h1v1h-1zm19 0h1v1h-1zm2 0h1v1h-1zm-157 2h1v1h-1zm8 0h1v1h-1zm32 0h1v1h-1zm5 0h1v1h-1zm9 0h1v1h-1zm3 0h1v1h-1zm6 0h1v1h-1zm17 0h1v1h-1zm9 0h1v1h-1zm4 0h1v1h-1zm3 0h1v1h-1zm4 0h1v1h-1zm26 0h1v1h-1zm14 0h1v1h-1zm2 0h1v1h-1zm6 0h1v1h-1zm-131 1h1v1h-1zm15 0h1v1h-1zm5 0h1v1h-1zm21 0h1v1h-1zm26 0h1v1h-1zm3 0h1v1h-1zm6 0h1v1h-1zm10 0h1v1h-1zm9 0h1v1h-1zm27 0h1v1h-1zm-120 1h1v1h-1zm17 0h1v1h-1zm2 0h1v1h-1zm27 0h1v1h-1zm2 0h1v1h-1zm42 0h1v1h-1zm25 0h1v1h-1zm7 0h1v1h-1zm5 0h1v1h-1zm12 0h1v1h-1zm-149 1h1v1h-1zm27 0h1v1h-1zm38 0h1v1h-1zm12 0h1v1h-1zm41 0h1v1h-1zm11 0h1v1h-1zm2 0h1v1h-1zm11 0h1v1h-1zm9 0h1v1h-1zm-160 1h1v1h-1zm4 0h1v1h-1zm4 0h1v1h-1zm23 0h1v1h-1zm27 0h1v1h-1zm2 0h1v1h-1zm7 0h1v1h-1zm10 0h1v1h-1zm2 0h1v1h-1zm27 0h1v1h-1zm3 0h1v1h-1zm5 0h1v1h-1zm18 0h1v1h-1zm-136 1h1v1h-1zm14 0h1v1h-1zm52 0h1v1h-1zm10 0h1v1h-1zm11 0h1v1h-1zm9 0h1v1h-1zm12 0h1v1h-1zm2 0h1v1h-1zm3 0h1v1h-1zm11 0h1v1h-1zm15 0h1v1h-1zm5 0h1v1h-1zm5 0h1v1h-1zm6 0h1v1h-1zm5 0h1v1h-1z"/><path fill="#c7dde2" d="M3 0h1v1h-1zm12 0h1v1h-1zm12 0h1v1h-1zm10 0h1v1h-1zm2 0h1v1h-1zm11 0h1v1h-1zm6 0h1v1h-1zm28 0h1v1h-1zm3 0h1v1h-1zm41 0h1v1h-1zm16 0h1v1h-1zm-135 1h1v1h-1zm6 0h1v1h-1zm15 0h1v1h-1zm9 0h1v1h-1zm18 0h1v1h-1zm28 0h1v1h-1zm20 0h1v1h-1zm46 0h1v1h-1zm10 0h1v1h-1zm4 0h1v1h-1zm3 0h1v1h-1zm-166 1h1v1h-1zm31 0h1v1h-1zm1 0h1v1h-1zm4 0h1v1h-1zm4 0h1v1h-1zm2 0h1v1h-1zm8 0h1v1h-1zm28 0h1v1h-1zm3 0h1v1h-1zm17 0h1v1h-1zm3 0h1v1h-1zm2 0h1v1h-1zm22 0h1v1h-1zm28 0h1v1h-1zm2 0h1v1h-1zm5 0h1v1h-1zm-145 1h1v1h-1zm33 0h1v1h-1zm16 0h1v1h-1zm16 0h1v1h-1zm2 0h1v1h-1zm2 0h1v1h-1zm54 0h1v1h-1zm3 0h1v1h-1zm-124 1h1v1h-1zm6 0h1v1h-1zm38 0h1v1h-1zm16 0h1v1h-1zm40 0h1v1h-1zm30 0h1v1h-1zm15 0h1v1h-1zm-157 1h1v1h-1zm5 0h1v1h-1zm28 0h1v1h-1zm5 0h1v1h-1zm6 0h1v1h-1zm35 0h1v1h-1zm16 0h1v1h-1zm26 0h1v1h-1zm11 0h1v1h-1zm5 0h1v1h-1zm5 0h1v1h-1zm3 0h1v1h-1zm-132 1h1v1h-1zm10 0h1v1h-1zm82 0h1v1h-1zm51 0h1v1h-1zm-146 1h1v1h-1zm28 0h1v1h-1zm19 0h1v1h-1zm9 0h1v1h-1zm5 0h1v1h-1zm59 0h1v1h-1zm27 0h1v1h-1zm4 0h1v1h-1zm-162 1h1v1h-1zm1 0h1v1h-1zm23 0h1v1h-1zm18 0h1v1h-1zm5 0h1v1h-1zm38 0h1v1h-1zm10 0h1v1h-1zm1 0h1v1h-1zm12 0h1v1h-1zm12 0h1v1h-1zm2 0h1v1h-1zm15 0h1v1h-1zm9 0h1v1h-1zm7 0h1v1h-1zm-158 1h1v1h-1zm28 0h1v1h-1zm37 0h1v1h-1zm34 0h1v1h-1zm2 0h1v1h-1zm3 0h1v1h-1zm5 0h1v1h-1zm4 0h1v1h-1zm6 0h1v1h-1zm36 0h1v1h-1zm-127 1h1v1h-1zm2 0h1v1h-1zm6 0h1v1h-1zm6 0h1v1h-1zm41 0h1v1h-1zm22 0h1v1h-1zm11 0h1v1h-1zm4 0h1v1h-1zm28 0h1v1h-1zm2 0h1v1h-1zm-136 1h1v1h-1zm44 0h1v1h-1zm29 0h1v1h-1zm4 0h1v1h-1zm8 0h1v1h-1zm47 0h1v1h-1zm-147 1h1v1h-1zm7 0h1v1h-1zm3 0h1v1h-1zm34 0h1v1h-1zm25 0h1v1h-1zm26 0h1v1h-1zm32 0h1v1h-1zm7 0h1v1h-1zm18 0h1v1h-1zm14 0h1v1h-1zm2 0h1v1h-1zm-140 1h1v1h-1zm4 0h1v1h-1zm28 0h1v1h-1zm34 0h1v1h-1zm4 0h1v1h-1zm11 0h1v1h-1zm17 0h1v1h-1zm-125 1h1v1h-1zm17 0h1v1h-1zm17 0h1v1h-1zm27 0h1v1h-1zm1 0h1v1h-1zm37 0h1v1h-1zm13 0h1v1h-1zm18 0h1v1h-1zm8 0h1v1h-1zm28 0h1v1h-1zm-153 1h1v1h-1zm16 0h1v1h-1zm9 0h1v1h-1zm13 0h1v1h-1zm21 0h1v1h-1zm3 0h1v1h-1zm2 0h1v1h-1zm46 0h1v1h-1zm23 0h1v1h-1zm8 0h1v1h-1zm-108 1h1v1h-1zm30 0h1v1h-1zm1 0h1v1h-1zm16 0h1v1h-1zm7 0h1v1h-1zm1 0h1v1h-1zm23 0h1v1h-1zm19 0h1v1h-1zm7 0h1v1h-1zm15 0h1v1h-1zm2 0h1v1h-1zm-126 1h1v1h-1zm31 0h1v1h-1zm48 0h1v1h-1zm1 0h1v1h-1zm5 0h1v1h-1zm4 0h1v1h-1zm-121 1h1v1h-1zm13 0h1v1h-1zm6 0h1v1h-1zm21 0h1v1h-1zm4 0h1v1h-1zm12 0h1v1h-1zm28 0h1v1h-1zm32 0h1v1h-1zm35 0h1v1h-1zm-139 1h1v1h-1zm32 0h1v1h-1zm11 0h1v1h-1zm2 0h1v1h-1zm22 0h1v1h-1zm6 0h1v1h-1zm2 0h1v1h-1zm1 0h1v1h-1zm26 0h1v1h-1zm22 0h1v1h-1zm14 0h1v1h-1zm-154 1h1v1h-1zm1 0h1v1h-1zm10 0h1v1h-1zm41 0h1v1h-1zm30 0h1v1h-1zm51 0h1v1h-1zm16 0h1v1h-1zm-117 1h1v1h-1zm14 0h1v1h-1zm44 0h1v1h-1zm22 0h1v1h-1zm27 0h1v1h-1zm22 0h1v1h-1zm-166 1h1v1h-1zm4 0h1v1h-1zm28 0h1v1h-1zm3 0h1v1h-1zm31 0h1v1h-1zm94 0h1v1h-1zm3 0h1v1h-1zm-142 1h1v1h-1zm4 0h1v1h-1zm2 0h1v1h-1zm5 0h1v1h-1zm9 0h1v1h-1zm6 0h1v1h-1zm15 0h1v1h-1zm69 0h1v1h-1zm28 0h1v1h-1zm8 0h1v1h-1z"/><path fill="#d5e5ea" d="M12 0h1v1h-1zm8 0h1v1h-1zm13 0h1v1h-1zm15 0h1v1h-1zm15 0h1v1h-1zm26 0h1v1h-1zm9 0h1v1h-1zm1 0h1v1h-1zm13 0h1v1h-1zm14 0h1v1h-1zm11 0h1v1h-1zm-49 1h1v1h-1zm18 0h1v1h-1zm21 0h1v1h-1zm1 0h1v1h-1zm17 0h1v1h-1zm-121 1h1v1h-1zm5 0h1v1h-1zm1 0h1v1h-1zm33 0h1v1h-1zm4 0h1v1h-1zm5 0h1v1h-1zm12 0h1v1h-1zm41 0h1v1h-1zm18 0h1v1h-1zm11 0h1v1h-1zm-143 1h1v1h-1zm1 0h1v1h-1zm21 0h1v1h-1zm12 0h1v1h-1zm3 0h1v1h-1zm7 0h1v1h-1zm24 0h1v1h-1zm15 0h1v1h-1zm34 0h1v1h-1zm33 0h1v1h-1zm-121 1h1v1h-1zm5 0h1v1h-1zm61 0h1v1h-1zm33 0h1v1h-1zm2 0h1v1h-1zm1 0h1v1h-1zm2 0h1v1h-1zm17 0h1v1h-1zm2 0h1v1h-1zm-98 1h1v1h-1zm16 0h1v1h-1zm22 0h1v1h-1zm54 0h1v1h-1zm1 0h1v1h-1zm1 0h1v1h-1zm5 0h1v1h-1zm-116 1h1v1h-1zm6 0h1v1h-1zm2 0h1v1h-1zm7 0h1v1h-1zm22 0h1v1h-1zm16 0h1v1h-1zm59 0h1v1h-1zm1 0h1v1h-1zm-148 1h1v1h-1zm29 0h1v1h-1zm6 0h1v1h-1zm15 0h1v1h-1zm4 0h1v1h-1zm16 0h1v1h-1zm31 0h1v1h-1zm1 0h1v1h-1zm38 0h1v1h-1zm-150 1h1v1h-1zm13 0h1v1h-1zm1 0h1v1h-1zm47 0h1v1h-1zm47 0h1v1h-1zm1 0h1v1h-1zm3 0h1v1h-1zm31 0h1v1h-1zm14 0h1v1h-1zm-158 1h1v1h-1zm17 0h1v1h-1zm33 0h1v1h-1zm7 0h1v1h-1zm12 0h1v1h-1zm7 0h1v1h-1zm5 0h1v1h-1zm12 0h1v1h-1zm34 0h1v1h-1zm17 0h1v1h-1zm-124 1h1v1h-1zm43 0h1v1h-1zm37 0h1v1h-1zm-94 1h1v1h-1zm3 0h1v1h-1zm3 0h1v1h-1zm11 0h1v1h-1zm2 0h1v1h-1zm23 0h1v1h-1zm39 0h1v1h-1zm32 0h1v1h-1zm22 0h1v1h-1zm12 0h1v1h-1zm-151 1h1v1h-1zm22 0h1v1h-1zm15 0h1v1h-1zm1 0h1v1h-1zm18 0h1v1h-1zm10 0h1v1h-1zm7 0h1v1h-1zm1 0h1v1h-1zm7 0h1v1h-1zm9 0h1v1h-1zm15 0h1v1h-1zm6 0h1v1h-1zm2 0h1v1h-1zm2 0h1v1h-1zm4 0h1v1h-1zm37 0h1v1h-1zm-155 1h1v1h-1zm44 0h1v1h-1zm84 0h1v1h-1zm33 0h1v1h-1zm-162 1h1v1h-1zm16 0h1v1h-1zm2 0h1v1h-1zm10 0h1v1h-1zm12 0h1v1h-1zm25 0h1v1h-1zm4 0h1v1h-1zm38 0h1v1h-1zm11 0h1v1h-1zm5 0h1v1h-1zm6 0h1v1h-1zm-112 1h1v1h-1zm22 0h1v1h-1zm51 0h1v1h-1zm12 0h1v1h-1zm28 0h1v1h-1zm2 0h1v1h-1zm2 0h1v1h-1zm19 0h1v1h-1zm-152 1h1v1h-1zm15 0h1v1h-1zm19 0h1v1h-1zm2 0h1v1h-1zm48 0h1v1h-1zm23 0h1v1h-1zm19 0h1v1h-1zm-96 1h1v1h-1zm17 0h1v1h-1zm4 0h1v1h-1zm4 0h1v1h-1zm1 0h1v1h-1zm1 0h1v1h-1zm24 0h1v1h-1zm4 0h1v1h-1zm6 0h1v1h-1zm7 0h1v1h-1zm8 0h1v1h-1zm7 0h1v1h-1zm12 0h1v1h-1zm19 0h1v1h-1zm9 0h1v1h-1zm6 0h1v1h-1zm5 0h1v1h-1zm-152 1h1v1h-1zm63 0h1v1h-1zm12 0h1v1h-1zm5 0h1v1h-1zm4 0h1v1h-1zm19 0h1v1h-1zm8 0h1v1h-1zm3 0h1v1h-1zm38 0h1v1h-1zm-162 1h1v1h-1zm13 0h1v1h-1zm15 0h1v1h-1zm6 0h1v1h-1zm8 0h1v1h-1zm11 0h1v1h-1zm31 0h1v1h-1zm3 0h1v1h-1zm2 0h1v1h-1zm5 0h1v1h-1zm43 0h1v1h-1zm3 0h1v1h-1zm4 0h1v1h-1zm2 0h1v1h-1zm-132 1h1v1h-1zm7 0h1v1h-1zm22 0h1v1h-1zm20 0h1v1h-1zm12 0h1v1h-1zm18 0h1v1h-1zm4 0h1v1h-1zm12 0h1v1h-1zm3 0h1v1h-1zm27 0h1v1h-1zm3 0h1v1h-1zm16 0h1v1h-1zm-159 1h1v1h-1zm3 0h1v1h-1zm7 0h1v1h-1zm43 0h1v1h-1zm2 0h1v1h-1zm41 0h1v1h-1zm11 0h1v1h-1zm30 0h1v1h-1zm9 0h1v1h-1zm-123 1h1v1h-1zm20 0h1v1h-1zm6 0h1v1h-1zm3 0h1v1h-1zm17 0h1v1h-1zm18 0h1v1h-1zm6 0h1v1h-1zm15 0h1v1h-1zm32 0h1v1h-1zm-73 1h1v1h-1zm14 0h1v1h-1zm22 0h1v1h-1zm22 0h1v1h-1zm14 0h1v1h-1zm10 0h1v1h-1z"/><path fill="#e3eef1" d="M7 0h1v1h-1zm6 0h1v1h-1zm11 0h1v1h-1zm6 0h1v1h-1zm19 0h1v1h-1zm8 0h1v1h-1zm3 0h1v1h-1zm25 0h1v1h-1zm11 0h1v1h-1zm8 0h1v1h-1zm9 0h1v1h-1zm10 0h1v1h-1zm2 0h1v1h-1zm27 0h1v1h-1zm-110 1h1v1h-1zm27 0h1v1h-1zm14 0h1v1h-1zm15 0h1v1h-1zm17 0h1v1h-1zm39 0h1v1h-1zm-143 1h1v1h-1zm36 0h1v1h-1zm31 0h1v1h-1zm10 0h1v1h-1zm28 0h1v1h-1zm16 0h1v1h-1zm6 0h1v1h-1zm26 0h1v1h-1zm-137 1h1v1h-1zm24 0h1v1h-1zm3 0h1v1h-1zm8 0h1v1h-1zm18 0h1v1h-1zm16 0h1v1h-1zm2 0h1v1h-1zm2 0h1v1h-1zm6 0h1v1h-1zm35 0h1v1h-1zm1 0h1v1h-1zm22 0h1v1h-1zm4 0h1v1h-1zm-159 1h1v1h-1zm45 0h1v1h-1zm3 0h1v1h-1zm9 0h1v1h-1zm14 0h1v1h-1zm5 0h1v1h-1zm55 0h1v1h-1zm25 0h1v1h-1zm-143 1h1v1h-1zm1 0h1v1h-1zm16 0h1v1h-1zm4 0h1v1h-1zm13 0h1v1h-1zm11 0h1v1h-1zm4 0h1v1h-1zm8 0h1v1h-1zm5 0h1v1h-1zm3 0h1v1h-1zm35 0h1v1h-1zm10 0h1v1h-1zm-116 1h1v1h-1zm23 0h1v1h-1zm1 0h1v1h-1zm12 0h1v1h-1zm21 0h1v1h-1zm4 0h1v1h-1zm32 0h1v1h-1zm23 0h1v1h-1zm-126 1h1v1h-1zm15 0h1v1h-1zm3 0h1v1h-1zm1 0h1v1h-1zm19 0h1v1h-1zm3 0h1v1h-1zm4 0h1v1h-1zm19 0h1v1h-1zm24 0h1v1h-1zm7 0h1v1h-1zm10 0h1v1h-1zm12 0h1v1h-1zm16 0h1v1h-1zm-131 1h1v1h-1zm20 0h1v1h-1zm3 0h1v1h-1zm21 0h1v1h-1zm34 0h1v1h-1zm30 0h1v1h-1zm16 0h1v1h-1zm17 0h1v1h-1zm12 0h1v1h-1zm1 0h1v1h-1zm2 0h1v1h-1zm-126 1h1v1h-1zm18 0h1v1h-1zm12 0h1v1h-1zm43 0h1v1h-1zm2 0h1v1h-1zm53 0h1v1h-1zm-156 1h1v1h-1zm26 0h1v1h-1zm15 0h1v1h-1zm35 0h1v1h-1zm6 0h1v1h-1zm16 0h1v1h-1zm17 0h1v1h-1zm7 0h1v1h-1zm22 0h1v1h-1zm13 0h1v1h-1zm-154 1h1v1h-1zm20 0h1v1h-1zm1 0h1v1h-1zm4 0h1v1h-1zm26 0h1v1h-1zm52 0h1v1h-1zm8 0h1v1h-1zm1 0h1v1h-1zm14 0h1v1h-1zm-117 1h1v1h-1zm8 0h1v1h-1zm8 0h1v1h-1zm10 0h1v1h-1zm39 0h1v1h-1zm14 0h1v1h-1zm4 0h1v1h-1zm26 0h1v1h-1zm28 0h1v1h-1zm-124 1h1v1h-1zm22 0h1v1h-1zm20 0h1v1h-1zm13 0h1v1h-1zm30 0h1v1h-1zm4 0h1v1h-1zm19 0h1v1h-1zm1 0h1v1h-1zm24 0h1v1h-1zm-155 1h1v1h-1zm30 0h1v1h-1zm15 0h1v1h-1zm30 0h1v1h-1zm6 0h1v1h-1zm12 0h1v1h-1zm13 0h1v1h-1zm40 0h1v1h-1zm-139 1h1v1h-1zm6 0h1v1h-1zm8 0h1v1h-1zm19 0h1v1h-1zm6 0h1v1h-1zm6 0h1v1h-1zm27 0h1v1h-1zm26 0h1v1h-1zm13 0h1v1h-1zm-121 1h1v1h-1zm18 0h1v1h-1zm14 0h1v1h-1zm7 0h1v1h-1zm3 0h1v1h-1zm20 0h1v1h-1zm25 0h1v1h-1zm21 0h1v1h-1zm10 0h1v1h-1zm9 0h1v1h-1zm30 0h1v1h-1zm-160 1h1v1h-1zm6 0h1v1h-1zm2 0h1v1h-1zm3 0h1v1h-1zm13 0h1v1h-1zm3 0h1v1h-1zm2 0h1v1h-1zm3 0h1v1h-1zm6 0h1v1h-1zm1 0h1v1h-1zm11 0h1v1h-1zm1 0h1v1h-1zm14 0h1v1h-1zm2 0h1v1h-1zm4 0h1v1h-1zm7 0h1v1h-1zm6 0h1v1h-1zm6 0h1v1h-1zm15 0h1v1h-1zm7 0h1v1h-1zm1 0h1v1h-1zm8 0h1v1h-1zm17 0h1v1h-1zm8 0h1v1h-1zm6 0h1v1h-1zm-152 1h1v1h-1zm19 0h1v1h-1zm17 0h1v1h-1zm6 0h1v1h-1zm65 0h1v1h-1zm21 0h1v1h-1zm4 0h1v1h-1zm29 0h1v1h-1zm-167 1h1v1h-1zm8 0h1v1h-1zm4 0h1v1h-1zm5 0h1v1h-1zm39 0h1v1h-1zm15 0h1v1h-1zm3 0h1v1h-1zm28 0h1v1h-1zm29 0h1v1h-1zm18 0h1v1h-1zm-112 1h1v1h-1zm18 0h1v1h-1zm3 0h1v1h-1zm7 0h1v1h-1zm13 0h1v1h-1zm2 0h1v1h-1zm3 0h1v1h-1zm23 0h1v1h-1zm13 0h1v1h-1zm2 0h1v1h-1zm6 0h1v1h-1zm1 0h1v1h-1zm15 0h1v1h-1zm14 0h1v1h-1zm2 0h1v1h-1zm-143 1h1v1h-1zm13 0h1v1h-1zm2 0h1v1h-1zm13 0h1v1h-1zm22 0h1v1h-1zm1 0h1v1h-1zm10 0h1v1h-1zm41 0h1v1h-1zm16 0h1v1h-1zm26 0h1v1h-1zm1 0h1v1h-1zm-139 1h1v1h-1zm46 0h1v1h-1zm3 0h1v1h-1zm22 0h1v1h-1zm42 0h1v1h-1zm23 0h1v1h-1zm9 0h1v1h-1zm-153 1h1v1h-1zm49 0h1v1h-1zm1 0h1v1h-1zm11 0h1v1h-1zm7 0h1v1h-1zm11 0h1v1h-1zm75 0h1v1h-1z"/><path fill="#f1f6f8" d="M28 0h1v1h-1zm34 0h1v1h-1zm62 0h1v1h-1zm21 0h1v1h-1zm21 0h1v1h-1zm-153 1h1v1h-1zm4 0h1v1h-1zm1 0h1v1h-1zm11 0h1v1h-1zm34 0h1v1h-1zm54 0h1v1h-1zm3 0h1v1h-1zm20 0h1v1h-1zm13 0h1v1h-1zm-128 1h1v1h-1zm23 0h1v1h-1zm18 0h1v1h-1zm48 0h1v1h-1zm1 0h1v1h-1zm30 0h1v1h-1zm23 0h1v1h-1zm-161 1h1v1h-1zm11 0h1v1h-1zm16 0h1v1h-1zm3 0h1v1h-1zm1 0h1v1h-1zm2 0h1v1h-1zm19 0h1v1h-1zm10 0h1v1h-1zm1 0h1v1h-1zm35 0h1v1h-1zm10 0h1v1h-1zm8 0h1v1h-1zm4 0h1v1h-1zm31 0h1v1h-1zm2 0h1v1h-1zm-153 1h1v1h-1zm7 0h1v1h-1zm34 0h1v1h-1zm38 0h1v1h-1zm12 0h1v1h-1zm-94 1h1v1h-1zm49 0h1v1h-1zm11 0h1v1h-1zm5 0h1v1h-1zm21 0h1v1h-1zm8 0h1v1h-1zm12 0h1v1h-1zm3 0h1v1h-1zm7 0h1v1h-1zm17 0h1v1h-1zm17 0h1v1h-1zm6 0h1v1h-1zm1 0h1v1h-1zm8 0h1v1h-1zm-145 1h1v1h-1zm3 0h1v1h-1zm1 0h1v1h-1zm1 0h1v1h-1zm2 0h1v1h-1zm1 0h1v1h-1zm2 0h1v1h-1zm2 0h1v1h-1zm2 0h1v1h-1zm12 0h1v1h-1zm15 0h1v1h-1zm13 0h1v1h-1zm1 0h1v1h-1zm19 0h1v1h-1zm29 0h1v1h-1zm1 0h1v1h-1zm21 0h1v1h-1zm1 0h1v1h-1zm4 0h1v1h-1zm5 0h1v1h-1zm10 0h1v1h-1zm-158 1h1v1h-1zm43 0h1v1h-1zm11 0h1v1h-1zm24 0h1v1h-1zm2 0h1v1h-1zm12 0h1v1h-1zm1 0h1v1h-1zm8 0h1v1h-1zm1 0h1v1h-1zm-104 1h1v1h-1zm4 0h1v1h-1zm26 0h1v1h-1zm22 0h1v1h-1zm5 0h1v1h-1zm28 0h1v1h-1zm9 0h1v1h-1zm20 0h1v1h-1zm14 0h1v1h-1zm2 0h1v1h-1zm3 0h1v1h-1zm-139 1h1v1h-1zm4 0h1v1h-1zm3 0h1v1h-1zm8 0h1v1h-1zm76 0h1v1h-1zm5 0h1v1h-1zm37 0h1v1h-1zm16 0h1v1h-1zm-145 1h1v1h-1zm14 0h1v1h-1zm3 0h1v1h-1zm16 0h1v1h-1zm16 0h1v1h-1zm29 0h1v1h-1zm2 0h1v1h-1zm7 0h1v1h-1zm17 0h1v1h-1zm19 0h1v1h-1zm16 0h1v1h-1zm-139 1h1v1h-1zm10 0h1v1h-1zm29 0h1v1h-1zm11 0h1v1h-1zm4 0h1v1h-1zm46 0h1v1h-1zm3 0h1v1h-1zm7 0h1v1h-1zm5 0h1v1h-1zm-98 1h1v1h-1zm7 0h1v1h-1zm41 0h1v1h-1zm8 0h1v1h-1zm-72 1h1v1h-1zm1 0h1v1h-1zm15 0h1v1h-1zm98 0h1v1h-1zm9 0h1v1h-1zm7 0h1v1h-1zm11 0h1v1h-1zm-133 1h1v1h-1zm67 0h1v1h-1zm3 0h1v1h-1zm7 0h1v1h-1zm47 0h1v1h-1zm16 0h1v1h-1zm-156 1h1v1h-1zm18 0h1v1h-1zm6 0h1v1h-1zm3 0h1v1h-1zm1 0h1v1h-1zm3 0h1v1h-1zm25 0h1v1h-1zm5 0h1v1h-1zm8 0h1v1h-1zm11 0h1v1h-1zm28 0h1v1h-1zm6 0h1v1h-1zm45 0h1v1h-1zm4 0h1v1h-1zm-140 1h1v1h-1zm20 0h1v1h-1zm26 0h1v1h-1zm7 0h1v1h-1zm6 0h1v1h-1zm23 0h1v1h-1zm19 0h1v1h-1zm14 0h1v1h-1zm31 0h1v1h-1zm-153 1h1v1h-1zm5 0h1v1h-1zm5 0h1v1h-1zm3 0h1v1h-1zm1 0h1v1h-1zm3 0h1v1h-1zm5 0h1v1h-1zm3 0h1v1h-1zm3 0h1v1h-1zm15 0h1v1h-1zm8 0h1v1h-1zm21 0h1v1h-1zm1 0h1v1h-1zm9 0h1v1h-1zm4 0h1v1h-1zm4 0h1v1h-1zm2 0h1v1h-1zm1 0h1v1h-1zm6 0h1v1h-1zm1 0h1v1h-1zm7 0h1v1h-1zm9 0h1v1h-1zm3 0h1v1h-1zm4 0h1v1h-1zm2 0h1v1h-1zm10 0h1v1h-1zm9 0h1v1h-1zm3 0h1v1h-1zm-162 1h1v1h-1zm24 0h1v1h-1zm16 0h1v1h-1zm14 0h1v1h-1zm7 0h1v1h-1zm6 0h1v1h-1zm57 0h1v1h-1zm-110 1h1v1h-1zm17 0h1v1h-1zm30 0h1v1h-1zm42 0h1v1h-1zm54 0h1v1h-1zm-101 1h1v1h-1zm4 0h1v1h-1zm2 0h1v1h-1zm4 0h1v1h-1zm10 0h1v1h-1zm8 0h1v1h-1zm9 0h1v1h-1zm-92 1h1v1h-1zm10 0h1v1h-1zm14 0h1v1h-1zm9 0h1v1h-1zm15 0h1v1h-1zm7 0h1v1h-1zm5 0h1v1h-1zm17 0h1v1h-1zm18 0h1v1h-1zm15 0h1v1h-1zm11 0h1v1h-1zm7 0h1v1h-1zm11 0h1v1h-1zm27 0h1v1h-1zm-148 1h1v1h-1zm1 0h1v1h-1zm26 0h1v1h-1zm10 0h1v1h-1zm20 0h1v1h-1zm1 0h1v1h-1zm3 0h1v1h-1zm29 0h1v1h-1zm15 0h1v1h-1zm14 0h1v1h-1zm2 0h1v1h-1zm16 0h1v1h-1zm-150 1h1v1h-1zm39 0h1v1h-1zm50 0h1v1h-1zm21 0h1v1h-1zm44 0h1v1h-1z"/><path fill="#ffffff" d="M9 0h1v1h-1zm34 0h1v1h-1zm1 0h1v1h-1zm9 0h1v1h-1zm12 0h1v1h-1zm84 0h1v1h-1zm12 0h1v1h-1zm4 0h1v1h-1zm-127 1h1v1h-1zm12 0h1v1h-1zm27 0h1v1h-1zm39 0h1v1h-1zm13 0h1v1h-1zm-90 1h1v1h-1zm22 0h1v1h-1zm18 0h1v1h-1zm28 0h1v1h-1zm16 0h1v1h-1zm21 0h1v1h-1zm8 0h1v1h-1zm14 0h1v1h-1zm-142 1h1v1h-1zm17 0h1v1h-1zm22 0h1v1h-1zm26 0h1v1h-1zm31 0h1v1h-1zm4 0h1v1h-1zm28 0h1v1h-1zm-113 1h1v1h-1zm25 0h1v1h-1zm49 0h1v1h-1zm7 0h1v1h-1zm42 0h1v1h-1zm-151 1h1v1h-1zm17 0h1v1h-1zm50 0h1v1h-1zm17 0h1v1h-1zm36 0h1v1h-1zm9 0h1v1h-1zm2 0h1v1h-1zm-142 1h1v1h-1zm13 0h1v1h-1zm132 0h1v1h-1zm6 0h1v1h-1zm4 0h1v1h-1zm-135 1h1v1h-1zm82 0h1v1h-1zm24 0h1v1h-1zm4 0h1v1h-1zm21 0h1v1h-1zm10 0h1v1h-1zm1 0h1v1h-1zm-124 1h1v1h-1zm19 0h1v1h-1zm2 0h1v1h-1zm12 0h1v1h-1zm49 0h1v1h-1zm10 0h1v1h-1zm-110 1h1v1h-1zm31 0h1v1h-1zm4 0h1v1h-1zm7 0h1v1h-1zm13 0h1v1h-1zm12 0h1v1h-1zm17 0h1v1h-1zm29 0h1v1h-1zm-132 1h1v1h-1zm4 0h1v1h-1zm10 0h1v1h-1zm4 0h1v1h-1zm22 0h1v1h-1zm5 0h1v1h-1zm4 0h1v1h-1zm2 0h1v1h-1zm30 0h1v1h-1zm8 0h1v1h-1zm24 0h1v1h-1zm30 0h1v1h-1zm9 0h1v1h-1zm-104 1h1v1h-1zm7 0h1v1h-1zm12 0h1v1h-1zm38 0h1v1h-1zm7 0h1v1h-1zm17 0h1v1h-1zm10 0h1v1h-1zm-139 1h1v1h-1zm38 0h1v1h-1zm14 0h1v1h-1zm9 0h1v1h-1zm12 0h1v1h-1zm12 0h1v1h-1zm5 0h1v1h-1zm71 0h1v1h-1zm-101 1h1v1h-1zm3 0h1v1h-1zm55 0h1v1h-1zm9 0h1v1h-1zm39 0h1v1h-1zm-75 1h1v1h-1zm11 0h1v1h-1zm17 0h1v1h-1zm46 0h1v1h-1zm-137 1h1v1h-1zm4 0h1v1h-1zm72 0h1v1h-1zm36 0h1v1h-1zm4 0h1v1h-1zm-94 1h1v1h-1zm3 0h1v1h-1zm27 0h1v1h-1zm3 0h1v1h-1zm7 0h1v1h-1zm13 0h1v1h-1zm56 0h1v1h-1zm-158 1h1v1h-1zm9 0h1v1h-1zm11 0h1v1h-1zm2 0h1v1h-1zm4 0h1v1h-1zm9 0h1v1h-1zm3 0h1v1h-1zm8 0h1v1h-1zm1 0h1v1h-1zm5 0h1v1h-1zm1 0h1v1h-1zm15 0h1v1h-1zm7 0h1v1h-1zm2 0h1v1h-1zm2 0h1v1h-1zm6 0h1v1h-1zm5 0h1v1h-1zm7 0h1v1h-1zm26 0h1v1h-1zm8 0h1v1h-1zm7 0h1v1h-1zm7 0h1v1h-1zm3 0h1v1h-1zm5 0h1v1h-1zm7 0h1v1h-1zm3 0h1v1h-1zm1 0h1v1h-1zm-166 1h1v1h-1zm11 0h1v1h-1zm62 0h1v1h-1zm14 0h1v1h-1zm17 0h1v1h-1zm9 0h1v1h-1zm10 0h1v1h-1zm21 0h1v1h-1zm3 0h1v1h-1zm15 0h1v1h-1zm-141 1h1v1h-1zm3 0h1v1h-1zm1 0h1v1h-1zm52 0h1v1h-1zm9 0h1v1h-1zm44 0h1v1h-1zm-115 1h1v1h-1zm1 0h1v1h-1zm13 0h1v1h-1zm2 0h1v1h-1zm6 0h1v1h-1zm3 0h1v1h-1zm3 0h1v1h-1zm4 0h1v1h-1zm17 0h1v1h-1zm46 0h1v1h-1zm1 0h1v1h-1zm30 0h1v1h-1zm12 0h1v1h-1zm-90 1h1v1h-1zm48 0h1v1h-1zm27 0h1v1h-1zm15 0h1v1h-1zm11 0h1v1h-1zm-157 1h1v1h-1zm79 0h1v1h-1zm14 0h1v1h-1zm13 0h1v1h-1zm3 0h1v1h-1zm-92 1h1v1h-1zm5 0h1v1h-1zm16 0h1v1h-1zm2 0h1v1h-1zm5 0h1v1h-1zm19 0h1v1h-1zm6 0h1v1h-1zm29 0h1v1h-1zm5 0h1v1h-1zm13 0h1v1h-1zm10 0h1v1h-1zm16 0h1v1h-1z"/><path fill="#fcf5ef" d="M34 0h1v1h-1zm33 0h1v1h-1zm19 0h1v1h-1zm33 0h1v1h-1zm11 0h1v1h-1zm33 0h1v1h-1zm-132 1h1v1h-1zm22 0h1v1h-1zm34 0h1v1h-1zm3 0h1v1h-1zm23 0h1v1h-1zm46 0h1v1h-1zm-103 1h1v1h-1zm18 0h1v1h-1zm3 0h1v1h-1zm35 0h1v1h-1zm12 0h1v1h-1zm39 0h1v1h-1zm2 0h1v1h-1zm-159 1h1v1h-1zm3 0h1v1h-1zm68 0h1v1h-1zm39 0h1v1h-1zm16 0h1v1h-1zm13 0h1v1h-1zm9 0h1v1h-1zm3 0h1v1h-1zm2 0h1v1h-1zm-128 1h1v1h-1zm6 0h1v1h-1zm18 0h1v1h-1zm6 0h1v1h-1zm26 0h1v1h-1zm3 0h1v1h-1zm12 0h1v1h-1zm-94 1h1v1h-1zm22 0h1v1h-1zm22 0h1v1h-1zm14 0h1v1h-1zm11 0h1v1h-1zm31 0h1v1h-1zm1 0h1v1h-1zm-101 1h1v1h-1zm7 0h1v1h-1zm40 0h1v1h-1zm19 0h1v1h-1zm33 0h1v1h-1zm8 0h1v1h-1zm18 0h1v1h-1zm-130 1h1v1h-1zm33 0h1v1h-1zm16 0h1v1h-1zm64 0h1v1h-1zm24 0h1v1h-1zm4 0h1v1h-1zm22 0h1v1h-1zm-155 1h1v1h-1zm23 0h1v1h-1zm62 0h1v1h-1zm11 0h1v1h-1zm60 0h1v1h-1zm-142 1h1v1h-1zm20 0h1v1h-1zm8 0h1v1h-1zm36 0h1v1h-1zm14 0h1v1h-1zm14 0h1v1h-1zm31 0h1v1h-1zm-136 1h1v1h-1zm22 0h1v1h-1zm5 0h1v1h-1zm15 0h1v1h-1zm3 0h1v1h-1zm22 0h1v1h-1zm14 0h1v1h-1zm17 0h1v1h-1zm6 0h1v1h-1zm-98 1h1v1h-1zm56 0h1v1h-1zm22 0h1v1h-1zm24 0h1v1h-1zm24 0h1v1h-1zm8 0h1v1h-1zm4 0h1v1h-1zm9 0h1v1h-1zm-157 1h1v1h-1zm25 0h1v1h-1zm3 0h1v1h-1zm22 0h1v1h-1zm21 0h1v1h-1zm68 0h1v1h-1zm8 0h1v1h-1zm1 0h1v1h-1zm-89 1h1v1h-1zm12 0h1v1h-1zm9 0h1v1h-1zm12 0h1v1h-1zm2 0h1v1h-1zm1 0h1v1h-1zm-98 1h1v1h-1zm7 0h1v1h-1zm11 0h1v1h-1zm22 0h1v1h-1zm8 0h1v1h-1zm110 0h1v1h-1zm-162 1h1v1h-1zm11 0h1v1h-1zm39 0h1v1h-1zm38 0h1v1h-1zm37 0h1v1h-1zm4 0h1v1h-1zm36 0h1v1h-1zm-165 1h1v1h-1zm3 0h1v1h-1zm94 0h1v1h-1zm18 0h1v1h-1zm-115 1h1v1h-1zm2 0h1v1h-1zm5 0h1v1h-1zm4 0h1v1h-1zm5 0h1v1h-1zm26 0h1v1h-1zm8 0h1v1h-1zm14 0h1v1h-1zm4 0h1v1h-1zm11 0h1v1h-1zm13 0h1v1h-1zm1 0h1v1h-1zm6 0h1v1h-1zm5 0h1v1h-1zm41 0h1v1h-1zm-128 1h1v1h-1zm10 0h1v1h-1zm16 0h1v1h-1zm15 0h1v1h-1zm17 0h1v1h-1zm2 0h1v1h-1zm87 0h1v1h-1zm-89 1h1v1h-1zm5 0h1v1h-1zm19 0h1v1h-1zm52 0h1v1h-1zm4 0h1v1h-1zm5 0h1v1h-1zm5 0h1v1h-1zm-133 1h1v1h-1zm19 0h1v1h-1zm17 0h1v1h-1zm11 0h1v1h-1zm3 0h1v1h-1zm12 0h1v1h-1zm6 0h1v1h-1zm11 0h1v1h-1zm1 0h1v1h-1zm-62 1h1v1h-1zm7 0h1v1h-1zm57 0h1v1h-1zm-100 1h1v1h-1zm2 0h1v1h-1zm11 0h1v1h-1zm10 0h1v1h-1zm93 0h1v1h-1zm-81 1h1v1h-1zm3 0h1v1h-1zm13 0h1v1h-1zm3 0h1v1h-1zm17 0h1v1h-1zm11 0h1v1h-1z"/><path fill="#f9eadf" d="M1 0h1v1h-1zm28 0h1v1h-1zm2 0h1v1h-1zm46 0h1v1h-1zm17 0h1v1h-1zm42 0h1v1h-1zm11 0h1v1h-1zm12 0h1v1h-1zm-135 1h1v1h-1zm1 0h1v1h-1zm9 0h1v1h-1zm14 0h1v1h-1zm11 0h1v1h-1zm2 0h1v1h-1zm3 0h1v1h-1zm9 0h1v1h-1zm13 0h1v1h-1zm15 0h1v1h-1zm13 0h1v1h-1zm10 0h1v1h-1zm12 0h1v1h-1zm6 0h1v1h-1zm27 0h1v1h-1zm-156 1h1v1h-1zm27 0h1v1h-1zm5 0h1v1h-1zm68 0h1v1h-1zm46 0h1v1h-1zm2 0h1v1h-1zm6 0h1v1h-1zm2 0h1v1h-1zm-77 1h1v1h-1zm10 0h1v1h-1zm6 0h1v1h-1zm36 0h1v1h-1zm6 0h1v1h-1zm13 0h1v1h-1zm-147 1h1v1h-1zm35 0h1v1h-1zm8 0h1v1h-1zm14 0h1v1h-1zm4 0h1v1h-1zm70 0h1v1h-1zm11 0h1v1h-1zm-121 1h1v1h-1zm33 0h1v1h-1zm44 0h1v1h-1zm52 0h1v1h-1zm-141 1h1v1h-1zm35 0h1v1h-1zm63 0h1v1h-1zm34 0h1v1h-1zm-148 1h1v1h-1zm30 0h1v1h-1zm40 0h1v1h-1zm14 0h1v1h-1zm26 0h1v1h-1zm35 0h1v1h-1zm-129 1h1v1h-1zm15 0h1v1h-1zm7 0h1v1h-1zm4 0h1v1h-1zm93 0h1v1h-1zm1 0h1v1h-1zm12 0h1v1h-1zm-152 1h1v1h-1zm36 0h1v1h-1zm55 0h1v1h-1zm41 0h1v1h-1zm13 0h1v1h-1zm19 0h1v1h-1zm-152 1h1v1h-1zm1 0h1v1h-1zm55 0h1v1h-1zm66 0h1v1h-1zm19 0h1v1h-1zm7 0h1v1h-1zm1 0h1v1h-1zm-162 1h1v1h-1zm25 0h1v1h-1zm38 0h1v1h-1zm26 0h1v1h-1zm42 0h1v1h-1zm1 0h1v1h-1zm31 0h1v1h-1zm-161 1h1v1h-1zm21 0h1v1h-1zm38 0h1v1h-1zm16 0h1v1h-1zm2 0h1v1h-1zm54 0h1v1h-1zm2 0h1v1h-1zm-139 1h1v1h-1zm17 0h1v1h-1zm41 0h1v1h-1zm1 0h1v1h-1zm76 0h1v1h-1zm25 0h1v1h-1zm2 0h1v1h-1zm7 0h1v1h-1zm-161 1h1v1h-1zm29 0h1v1h-1zm1 0h1v1h-1zm30 0h1v1h-1zm56 0h1v1h-1zm14 0h1v1h-1zm-134 1h1v1h-1zm54 0h1v1h-1zm2 0h1v1h-1zm30 0h1v1h-1zm9 0h1v1h-1zm11 0h1v1h-1zm-77 1h1v1h-1zm55 0h1v1h-1zm2 0h1v1h-1zm62 0h1v1h-1zm-148 1h1v1h-1zm2 0h1v1h-1zm41 0h1v1h-1zm29 0h1v1h-1zm6 0h1v1h-1zm28 0h1v1h-1zm26 0h1v1h-1zm1 0h1v1h-1zm1 0h1v1h-1zm19 0h1v1h-1zm-87 1h1v1h-1zm40 0h1v1h-1zm5 0h1v1h-1zm25 0h1v1h-1zm2 0h1v1h-1zm18 0h1v1h-1zm-104 1h1v1h-1zm52 0h1v1h-1zm2 0h1v1h-1zm4 0h1v1h-1zm1 0h1v1h-1zm-105 1h1v1h-1zm2 0h1v1h-1zm8 0h1v1h-1zm31 0h1v1h-1zm39 0h1v1h-1zm15 0h1v1h-1zm25 0h1v1h-1zm7 0h1v1h-1zm17 0h1v1h-1zm-117 1h1v1h-1zm11 0h1v1h-1zm12 0h1v1h-1zm5 0h1v1h-1zm21 0h1v1h-1zm13 0h1v1h-1zm52 0h1v1h-1zm-109 1h1v1h-1zm18 0h1v1h-1zm1 0h1v1h-1zm1 0h1v1h-1zm8 0h1v1h-1zm18 0h1v1h-1zm3 0h1v1h-1zm51 0h1v1h-1zm-108 1h1v1h-1zm3 0h1v1h-1zm17 0h1v1h-1zm5 0h1v1h-1zm31 0h1v1h-1zm1 0h1v1h-1zm1 0h1v1h-1zm8 0h1v1h-1zm43 0h1v1h-1zm13 0h1v1h-1z"/><path fill="#f6e0ce" d="M11 0h1v1h-1zm11 0h1v1h-1zm20 0h1v1h-1zm13 0h1v1h-1zm35 0h1v1h-1zm19 0h1v1h-1zm7 0h1v1h-1zm34 0h1v1h-1zm7 0h1v1h-1zm-157 1h1v1h-1zm8 0h1v1h-1zm13 0h1v1h-1zm34 0h1v1h-1zm19 0h1v1h-1zm20 0h1v1h-1zm27 0h1v1h-1zm23 0h1v1h-1zm18 0h1v1h-1zm-148 1h1v1h-1zm13 0h1v1h-1zm28 0h1v1h-1zm54 0h1v1h-1zm-65 1h1v1h-1zm5 0h1v1h-1zm3 0h1v1h-1zm19 0h1v1h-1zm36 0h1v1h-1zm23 0h1v1h-1zm3 0h1v1h-1zm5 0h1v1h-1zm-132 1h1v1h-1zm64 0h1v1h-1zm62 0h1v1h-1zm25 0h1v1h-1zm-144 1h1v1h-1zm60 0h1v1h-1zm23 0h1v1h-1zm20 0h1v1h-1zm14 0h1v1h-1zm13 0h1v1h-1zm-86 1h1v1h-1zm96 0h1v1h-1zm5 0h1v1h-1zm7 0h1v1h-1zm-99 1h1v1h-1zm83 0h1v1h-1zm-131 1h1v1h-1zm55 0h1v1h-1zm48 0h1v1h-1zm26 0h1v1h-1zm-100 1h1v1h-1zm35 0h1v1h-1zm27 0h1v1h-1zm6 0h1v1h-1zm15 0h1v1h-1zm35 0h1v1h-1zm-151 1h1v1h-1zm34 0h1v1h-1zm13 0h1v1h-1zm8 0h1v1h-1zm90 0h1v1h-1zm-119 1h1v1h-1zm5 0h1v1h-1zm25 0h1v1h-1zm9 0h1v1h-1zm52 0h1v1h-1zm3 0h1v1h-1zm23 0h1v1h-1zm-122 1h1v1h-1zm21 0h1v1h-1zm1 0h1v1h-1zm14 0h1v1h-1zm49 0h1v1h-1zm1 0h1v1h-1zm-98 1h1v1h-1zm18 0h1v1h-1zm46 0h1v1h-1zm5 0h1v1h-1zm33 0h1v1h-1zm22 0h1v1h-1zm-144 1h1v1h-1zm27 0h1v1h-1zm1 0h1v1h-1zm39 0h1v1h-1zm14 0h1v1h-1zm14 0h1v1h-1zm9 0h1v1h-1zm19 0h1v1h-1zm25 0h1v1h-1zm-135 1h1v1h-1zm104 0h1v1h-1zm8 0h1v1h-1zm9 0h1v1h-1zm21 0h1v1h-1zm3 0h1v1h-1zm-158 1h1v1h-1zm6 0h1v1h-1zm7 0h1v1h-1zm20 0h1v1h-1zm12 0h1v1h-1zm95 0h1v1h-1zm2 0h1v1h-1zm-131 1h1v1h-1zm18 0h1v1h-1zm102 0h1v1h-1zm8 0h1v1h-1zm6 0h1v1h-1zm8 0h1v1h-1zm5 0h1v1h-1zm-125 1h1v1h-1zm16 0h1v1h-1zm9 0h1v1h-1zm11 0h1v1h-1zm7 0h1v1h-1zm76 0h1v1h-1zm-139 1h1v1h-1zm66 0h1v1h-1zm60 0h1v1h-1zm-96 1h1v1h-1zm51 0h1v1h-1zm20 0h1v1h-1zm28 0h1v1h-1zm6 0h1v1h-1zm-151 1h1v1h-1zm23 0h1v1h-1zm54 0h1v1h-1zm6 0h1v1h-1zm23 0h1v1h-1zm34 0h1v1h-1zm20 0h1v1h-1zm3 0h1v1h-1zm-160 1h1v1h-1zm5 0h1v1h-1zm38 0h1v1h-1zm5 0h1v1h-1zm2 0h1v1h-1zm12 0h1v1h-1zm46 0h1v1h-1zm10 0h1v1h-1zm28 0h1v1h-1zm-149 1h1v1h-1zm18 0h1v1h-1zm89 0h1v1h-1zm21 0h1v1h-1zm11 0h1v1h-1zm5 0h1v1h-1z"/><path fill="#f2d5be" d="M4 0h1v1h-1zm2 0h1v1h-1zm30 0h1v1h-1zm23 0h1v1h-1zm7 0h1v1h-1zm3 0h1v1h-1zm1 0h1v1h-1zm32 0h1v1h-1zm27 0h1v1h-1zm25 0h1v1h-1zm-138 1h1v1h-1zm11 0h1v1h-1zm44 0h1v1h-1zm10 0h1v1h-1zm28 0h1v1h-1zm16 0h1v1h-1zm12 0h1v1h-1zm-64 1h1v1h-1zm16 0h1v1h-1zm9 0h1v1h-1zm38 0h1v1h-1zm-122 1h1v1h-1zm17 0h1v1h-1zm29 0h1v1h-1zm77 0h1v1h-1zm-122 1h1v1h-1zm12 0h1v1h-1zm23 0h1v1h-1zm2 0h1v1h-1zm56 0h1v1h-1zm17 0h1v1h-1zm6 0h1v1h-1zm36 0h1v1h-1zm-140 1h1v1h-1zm27 0h1v1h-1zm20 0h1v1h-1zm-30 1h1v1h-1zm1 0h1v1h-1zm22 0h1v1h-1zm23 0h1v1h-1zm12 0h1v1h-1zm28 0h1v1h-1zm-126 1h1v1h-1zm14 0h1v1h-1zm69 0h1v1h-1zm3 0h1v1h-1zm39 0h1v1h-1zm2 0h1v1h-1zm38 0h1v1h-1zm-164 1h1v1h-1zm57 0h1v1h-1zm25 0h1v1h-1zm54 0h1v1h-1zm-98 1h1v1h-1zm88 0h1v1h-1zm27 0h1v1h-1zm-135 1h1v1h-1zm7 0h1v1h-1zm5 0h1v1h-1zm37 0h1v1h-1zm48 0h1v1h-1zm16 0h1v1h-1zm11 0h1v1h-1zm8 0h1v1h-1zm-150 1h1v1h-1zm11 0h1v1h-1zm10 0h1v1h-1zm39 0h1v1h-1zm77 0h1v1h-1zm27 0h1v1h-1zm-152 1h1v1h-1zm30 0h1v1h-1zm49 0h1v1h-1zm1 0h1v1h-1zm47 0h1v1h-1zm-123 1h1v1h-1zm4 0h1v1h-1zm-25 1h1v1h-1zm85 0h1v1h-1zm50 0h1v1h-1zm25 0h1v1h-1zm-94 1h1v1h-1zm46 0h1v1h-1zm57 0h1v1h-1zm-98 1h1v1h-1zm29 0h1v1h-1zm3 0h1v1h-1zm3 0h1v1h-1zm52 0h1v1h-1zm-95 1h1v1h-1zm21 0h1v1h-1zm17 0h1v1h-1zm23 0h1v1h-1zm19 0h1v1h-1zm1 0h1v1h-1zm10 0h1v1h-1zm13 0h1v1h-1zm-119 1h1v1h-1zm26 0h1v1h-1zm64 0h1v1h-1zm18 0h1v1h-1zm-146 1h1v1h-1zm37 0h1v1h-1zm11 0h1v1h-1zm81 0h1v1h-1zm16 0h1v1h-1zm8 0h1v1h-1zm4 0h1v1h-1zm2 0h1v1h-1zm-94 1h1v1h-1zm93 0h1v1h-1zm1 0h1v1h-1zm-164 1h1v1h-1zm15 0h1v1h-1zm33 0h1v1h-1zm13 0h1v1h-1zm25 0h1v1h-1zm10 0h1v1h-1zm-56 1h1v1h-1zm63 0h1v1h-1zm15 0h1v1h-1zm12 0h1v1h-1zm17 0h1v1h-1zm17 0h1v1h-1zm-159 1h1v1h-1zm25 0h1v1h-1zm22 0h1v1h-1zm90 0h1v1h-1zm17 0h1v1h-1zm1 0h1v1h-1z"/><path fill="#efcbae" d="M17 0h1v1h-1zm91 0h1v1h-1zm59 0h1v1h-1zm-67 1h1v1h-1zm43 0h1v1h-1zm-134 1h1v1h-1zm7 0h1v1h-1zm15 0h1v1h-1zm64 0h1v1h-1zm23 0h1v1h-1zm11 0h1v1h-1zm21 0h1v1h-1zm-11 1h1v1h-1zm30 0h1v1h-1zm-58 1h1v1h-1zm25 0h1v1h-1zm14 0h1v1h-1zm-115 1h1v1h-1zm3 0h1v1h-1zm68 0h1v1h-1zm47 0h1v1h-1zm-135 1h1v1h-1zm53 0h1v1h-1zm26 0h1v1h-1zm24 0h1v1h-1zm-87 1h1v1h-1zm75 0h1v1h-1zm23 0h1v1h-1zm16 0h1v1h-1zm7 0h1v1h-1zm8 0h1v1h-1zm-139 1h1v1h-1zm53 0h1v1h-1zm31 0h1v1h-1zm21 0h1v1h-1zm7 0h1v1h-1zm19 0h1v1h-1zm-140 1h1v1h-1zm1 0h1v1h-1zm26 0h1v1h-1zm55 0h1v1h-1zm15 0h1v1h-1zm4 0h1v1h-1zm-69 1h1v1h-1zm12 0h1v1h-1zm1 0h1v1h-1zm39 0h1v1h-1zm-98 1h1v1h-1zm1 0h1v1h-1zm64 0h1v1h-1zm19 0h1v1h-1zm6 0h1v1h-1zm57 0h1v1h-1zm18 0h1v1h-1zm-141 1h1v1h-1zm87 0h1v1h-1zm20 0h1v1h-1zm-106 1h1v1h-1zm3 0h1v1h-1zm8 0h1v1h-1zm-16 1h1v1h-1zm3 0h1v1h-1zm24 0h1v1h-1zm29 0h1v1h-1zm60 0h1v1h-1zm-126 1h1v1h-1zm51 0h1v1h-1zm2 0h1v1h-1zm47 0h1v1h-1zm-86 1h1v1h-1zm5 0h1v1h-1zm63 0h1v1h-1zm64 0h1v1h-1zm-130 1h1v1h-1zm41 0h1v1h-1zm3 0h1v1h-1zm24 0h1v1h-1zm31 0h1v1h-1zm42 0h1v1h-1zm-156 1h1v1h-1zm3 0h1v1h-1zm90 0h1v1h-1zm2 0h1v1h-1zm57 0h1v1h-1zm-90 1h1v1h-1zm9 0h1v1h-1zm22 0h1v1h-1zm20 0h1v1h-1zm29 0h1v1h-1zm14 0h1v1h-1zm-62 1h1v1h-1zm57 0h1v1h-1zm-159 1h1v1h-1zm24 0h1v1h-1zm16 0h1v1h-1zm76 0h1v1h-1zm-72 1h1v1h-1zm34 0h1v1h-1zm16 0h1v1h-1zm68 0h1v1h-1zm-160 1h1v1h-1zm30 0h1v1h-1zm13 0h1v1h-1zm87 0h1v1h-1z"/><path fill="#ecc09e" d="M0 0h1v1h-1zm35 0h1v1h-1zm96 0h1v1h-1zm24 0h1v1h-1zm3 0h1v1h-1zm4 0h1v1h-1zm-139 1h1v1h-1zm5 0h1v1h-1zm19 0h1v1h-1zm83 0h1v1h-1zm30 0h1v1h-1zm-153 1h1v1h-1zm11 0h1v1h-1zm51 0h1v1h-1zm12 0h1v1h-1zm15 0h1v1h-1zm5 0h1v1h-1zm41 0h1v1h-1zm-49 1h1v1h-1zm20 0h1v1h-1zm12 0h1v1h-1zm4 0h1v1h-1zm19 0h1v1h-1zm18 0h1v1h-1zm-123 1h1v1h-1zm1 0h1v1h-1zm104 0h1v1h-1zm4 0h1v1h-1zm-110 1h1v1h-1zm5 0h1v1h-1zm46 0h1v1h-1zm32 0h1v1h-1zm-113 1h1v1h-1zm99 0h1v1h-1zm55 0h1v1h-1zm-159 1h1v1h-1zm52 0h1v1h-1zm74 0h1v1h-1zm9 0h1v1h-1zm-77 1h1v1h-1zm48 0h1v1h-1zm55 0h1v1h-1zm-140 1h1v1h-1zm46 0h1v1h-1zm6 0h1v1h-1zm27 0h1v1h-1zm47 0h1v1h-1zm-66 1h1v1h-1zm13 0h1v1h-1zm49 0h1v1h-1zm18 0h1v1h-1zm-146 1h1v1h-1zm8 0h1v1h-1zm5 0h1v1h-1zm1 0h1v1h-1zm5 0h1v1h-1zm7 0h1v1h-1zm25 0h1v1h-1zm28 0h1v1h-1zm50 0h1v1h-1zm3 0h1v1h-1zm6 0h1v1h-1zm-108 1h1v1h-1zm97 0h1v1h-1zm20 0h1v1h-1zm-136 1h1v1h-1zm42 0h1v1h-1zm3 0h1v1h-1zm38 0h1v1h-1zm24 0h1v1h-1zm18 0h1v1h-1zm-133 1h1v1h-1zm30 0h1v1h-1zm9 0h1v1h-1zm32 0h1v1h-1zm1 0h1v1h-1zm19 0h1v1h-1zm18 0h1v1h-1zm7 0h1v1h-1zm-135 1h1v1h-1zm43 0h1v1h-1zm64 0h1v1h-1zm4 0h1v1h-1zm4 0h1v1h-1zm28 0h1v1h-1zm-125 1h1v1h-1zm8 0h1v1h-1zm26 0h1v1h-1zm62 0h1v1h-1zm33 0h1v1h-1zm-143 1h1v1h-1zm97 0h1v1h-1zm6 0h1v1h-1zm39 0h1v1h-1zm-133 1h1v1h-1zm8 0h1v1h-1zm50 0h1v1h-1zm-44 1h1v1h-1zm51 0h1v1h-1zm45 0h1v1h-1zm8 0h1v1h-1zm25 0h1v1h-1zm-159 1h1v1h-1zm69 0h1v1h-1zm78 0h1v1h-1zm9 0h1v1h-1zm-158 1h1v1h-1zm2 0h1v1h-1zm11 0h1v1h-1zm11 0h1v1h-1zm15 0h1v1h-1zm49 0h1v1h-1zm16 0h1v1h-1zm9 0h1v1h-1zm3 0h1v1h-1zm-105 1h1v1h-1zm28 0h1v1h-1zm89 0h1v1h-1zm3 0h1v1h-1zm23 0h1v1h-1zm-141 1h1v1h-1zm9 0h1v1h-1zm35 0h1v1h-1z"/><path fill="#e9b68e" d="M91 0h1v1h-1zm6 0h1v1h-1zm6 0h1v1h-1zm8 0h1v1h-1zm-106 1h1v1h-1zm46 0h1v1h-1zm40 0h1v1h-1zm58 1h1v1h-1zm2 0h1v1h-1zm-122 1h1v1h-1zm14 0h1v1h-1zm61 0h1v1h-1zm5 0h1v1h-1zm-86 1h1v1h-1zm19 0h1v1h-1zm36 0h1v1h-1zm3 0h1v1h-1zm7 0h1v1h-1zm1 0h1v1h-1zm2 0h1v1h-1zm24 0h1v1h-1zm-112 1h1v1h-1zm21 0h1v1h-1zm37 0h1v1h-1zm1 0h1v1h-1zm45 0h1v1h-1zm-26 1h1v1h-1zm-76 1h1v1h-1zm138 0h1v1h-1zm-69 1h1v1h-1zm-41 1h1v1h-1zm46 0h1v1h-1zm59 0h1v1h-1zm11 0h1v1h-1zm-82 1h1v1h-1zm3 0h1v1h-1zm53 0h1v1h-1zm25 0h1v1h-1zm-127 1h1v1h-1zm90 0h1v1h-1zm7 0h1v1h-1zm19 0h1v1h-1zm13 0h1v1h-1zm-145 1h1v1h-1zm9 0h1v1h-1zm14 0h1v1h-1zm33 0h1v1h-1zm5 0h1v1h-1zm10 0h1v1h-1zm52 0h1v1h-1zm8 0h1v1h-1zm6 0h1v1h-1zm3 0h1v1h-1zm12 0h1v1h-1zm-87 1h1v1h-1zm72 0h1v1h-1zm-108 1h1v1h-1zm48 0h1v1h-1zm22 0h1v1h-1zm8 0h1v1h-1zm18 0h1v1h-1zm14 0h1v1h-1zm13 0h1v1h-1zm-83 1h1v1h-1zm13 0h1v1h-1zm-76 1h1v1h-1zm3 0h1v1h-1zm61 0h1v1h-1zm-9 1h1v1h-1zm63 0h1v1h-1zm-44 1h1v1h-1zm3 0h1v1h-1zm24 0h1v1h-1zm15 0h1v1h-1zm3 0h1v1h-1zm6 0h1v1h-1zm22 0h1v1h-1zm-116 1h1v1h-1zm78 0h1v1h-1zm11 0h1v1h-1zm-66 1h1v1h-1zm11 0h1v1h-1zm59 0h1v1h-1zm-61 1h1v1h-1zm53 0h1v1h-1zm2 0h1v1h-1zm18 0h1v1h-1zm-129 1h1v1h-1zm21 0h1v1h-1zm106 0h1v1h-1zm11 0h1v1h-1zm-86 1h1v1h-1zm4 0h1v1h-1zm39 0h1v1h-1zm17 0h1v1h-1z"/><path fill="#e6ab7d" d="M120 0h1v1h-1zm49 0h1v1h-1zm-134 1h1v1h-1zm35 0h1v1h-1zm10 0h1v1h-1zm13 0h1v1h-1zm-88 1h1v1h-1zm1 0h1v1h-1zm47 1h1v1h-1zm11 0h1v1h-1zm39 0h1v1h-1zm46 0h1v1h-1zm18 0h1v1h-1zm-120 1h1v1h-1zm15 0h1v1h-1zm12 0h1v1h-1zm42 0h1v1h-1zm27 0h1v1h-1zm11 0h1v1h-1zm12 0h1v1h-1zm-160 1h1v1h-1zm85 0h1v1h-1zm71 0h1v1h-1zm6 0h1v1h-1zm-157 1h1v1h-1zm48 0h1v1h-1zm7 0h1v1h-1zm38 0h1v1h-1zm12 0h1v1h-1zm6 0h1v1h-1zm7 0h1v1h-1zm19 0h1v1h-1zm19 0h1v1h-1zm-126 1h1v1h-1zm57 0h1v1h-1zm23 0h1v1h-1zm36 0h1v1h-1zm-115 1h1v1h-1zm1 0h1v1h-1zm24 0h1v1h-1zm14 0h1v1h-1zm72 0h1v1h-1zm-118 1h1v1h-1zm4 0h1v1h-1zm57 1h1v1h-1zm8 0h1v1h-1zm-94 1h1v1h-1zm93 0h1v1h-1zm26 0h1v1h-1zm20 0h1v1h-1zm-136 1h1v1h-1zm24 0h1v1h-1zm53 0h1v1h-1zm8 0h1v1h-1zm13 0h1v1h-1zm53 0h1v1h-1zm-152 1h1v1h-1zm40 0h1v1h-1zm28 0h1v1h-1zm74 0h1v1h-1zm5 0h1v1h-1zm-126 1h1v1h-1zm9 0h1v1h-1zm7 0h1v1h-1zm22 0h1v1h-1zm5 0h1v1h-1zm70 0h1v1h-1zm-100 1h1v1h-1zm52 0h1v1h-1zm-77 1h1v1h-1zm71 0h1v1h-1zm31 0h1v1h-1zm25 0h1v1h-1zm6 0h1v1h-1zm-37 1h1v1h-1zm-8 1h1v1h-1zm-101 1h1v1h-1zm4 0h1v1h-1zm128 0h1v1h-1zm9 0h1v1h-1zm-115 1h1v1h-1zm2 0h1v1h-1zm50 0h1v1h-1zm10 0h1v1h-1zm18 0h1v1h-1zm48 0h1v1h-1zm-123 1h1v1h-1zm31 0h1v1h-1zm2 0h1v1h-1zm12 0h1v1h-1zm16 0h1v1h-1zm3 0h1v1h-1zm5 0h1v1h-1zm40 0h1v1h-1zm-121 1h1v1h-1zm76 0h1v1h-1zm31 0h1v1h-1zm-83 1h1v1h-1zm84 0h1v1h-1zm2 0h1v1h-1z"/><path fill="#e3a16d" d="M47 0h1v1h-1zm27 0h1v1h-1zm68 0h1v1h-1zm-128 1h1v1h-1zm38 0h1v1h-1zm43 0h1v1h-1zm7 0h1v1h-1zm64 0h1v1h-1zm-162 1h1v1h-1zm22 0h1v1h-1zm60 0h1v1h-1zm7 0h1v1h-1zm18 0h1v1h-1zm-50 1h1v1h-1zm-1 1h1v1h-1zm49 0h1v1h-1zm1 0h1v1h-1zm8 0h1v1h-1zm-92 1h1v1h-1zm34 0h1v1h-1zm32 0h1v1h-1zm2 0h1v1h-1zm-33 1h1v1h-1zm1 0h1v1h-1zm32 0h1v1h-1zm-59 1h1v1h-1zm87 0h1v1h-1zm3 0h1v1h-1zm10 0h1v1h-1zm-115 1h1v1h-1zm118 0h1v1h-1zm21 1h1v1h-1zm2 0h1v1h-1zm-117 1h1v1h-1zm-24 1h1v1h-1zm38 0h1v1h-1zm13 0h1v1h-1zm91 0h1v1h-1zm-126 2h1v1h-1zm105 0h1v1h-1zm11 0h1v1h-1zm11 0h1v1h-1zm-35 1h1v1h-1zm-49 1h1v1h-1zm64 0h1v1h-1zm-130 1h1v1h-1zm82 0h1v1h-1zm24 0h1v1h-1zm-119 1h1v1h-1zm9 0h1v1h-1zm11 0h1v1h-1zm55 0h1v1h-1zm88 1h1v1h-1zm-127 1h1v1h-1zm62 1h1v1h-1zm36 0h1v1h-1zm8 0h1v1h-1zm-6 1h1v1h-1zm-110 1h1v1h-1zm134 0h1v1h-1zm-78 1h1v1h-1zm3 0h1v1h-1zm31 0h1v1h-1zm22 0h1v1h-1z"/><path fill="#e0965d" d="M73 0h1v1h-1zm95 0h1v1h-1zm-46 1h1v1h-1zm9 0h1v1h-1zm26 0h1v1h-1zm-103 1h1v1h-1zm54 0h1v1h-1zm2 0h1v1h-1zm-109 1h1v1h-1zm3 0h1v1h-1zm143 0h1v1h-1zm18 0h1v1h-1zm-136 1h1v1h-1zm68 0h1v1h-1zm-42 1h1v1h-1zm-50 1h1v1h-1zm86 0h1v1h-1zm22 0h1v1h-1zm-21 1h1v1h-1zm28 0h1v1h-1zm18 0h1v1h-1zm9 2h1v1h-1zm-76 1h1v1h-1zm66 0h1v1h-1zm6 0h1v1h-1zm-143 1h1v1h-1zm12 0h1v1h-1zm39 0h1v1h-1zm32 0h1v1h-1zm14 0h1v1h-1zm71 0h1v1h-1zm-165 1h1v1h-1zm43 1h1v1h-1zm25 0h1v1h-1zm1 0h1v1h-1zm21 0h1v1h-1zm4 0h1v1h-1zm24 0h1v1h-1zm15 1h1v1h-1zm-104 1h1v1h-1zm38 0h1v1h-1zm74 0h1v1h-1zm2 0h1v1h-1zm4 0h1v1h-1zm-110 1h1v1h-1zm24 0h1v1h-1zm62 0h1v1h-1zm7 0h1v1h-1zm-88 2h1v1h-1zm21 1h1v1h-1zm2 0h1v1h-1zm-44 1h1v1h-1zm17 0h1v1h-1zm-17 1h1v1h-1zm12 0h1v1h-1zm37 0h1v1h-1zm-62 1h1v1h-1zm113 0h1v1h-1zm23 0h1v1h-1zm-142 1h1v1h-1zm34 0h1v1h-1zm2 0h1v1h-1zm118 0h1v1h-1z"/><path fill="#dd8c4d" d="M18 0h1v1h-1zm7 0h1v1h-1zm18 1h1v1h-1zm112 0h1v1h-1zm-123 1h1v1h-1zm11 0h1v1h-1zm10 0h1v1h-1zm-6 1h1v1h-1zm26 0h1v1h-1zm58 0h1v1h-1zm31 0h1v1h-1zm-161 1h1v1h-1zm37 0h1v1h-1zm83 0h1v1h-1zm34 0h1v1h-1zm13 0h1v1h-1zm-139 1h1v1h-1zm28 0h1v1h-1zm2 0h1v1h-1zm-18 1h1v1h-1zm29 0h1v1h-1zm68 0h1v1h-1zm24 0h1v1h-1zm6 0h1v1h-1zm-167 1h1v1h-1zm7 0h1v1h-1zm49 0h1v1h-1zm14 0h1v1h-1zm26 0h1v1h-1zm10 0h1v1h-1zm38 0h1v1h-1zm20 0h1v1h-1zm2 0h1v1h-1zm-78 1h1v1h-1zm-85 1h1v1h-1zm19 0h1v1h-1zm14 0h1v1h-1zm21 0h1v1h-1zm2 0h1v1h-1zm16 1h1v1h-1zm6 1h1v1h-1zm-23 1h1v1h-1zm14 0h1v1h-1zm26 0h1v1h-1zm31 0h1v1h-1zm-117 1h1v1h-1zm72 0h1v1h-1zm10 0h1v1h-1zm-66 1h1v1h-1zm129 0h1v1h-1zm-155 1h1v1h-1zm39 0h1v1h-1zm87 0h1v1h-1zm-123 1h1v1h-1zm6 0h1v1h-1zm38 0h1v1h-1zm24 0h1v1h-1zm-51 1h1v1h-1zm24 1h1v1h-1zm56 0h1v1h-1zm18 0h1v1h-1zm-110 1h1v1h-1zm6 0h1v1h-1zm70 0h1v1h-1zm-68 2h1v1h-1zm15 0h1v1h-1zm42 0h1v1h-1zm28 0h1v1h-1zm20 0h1v1h-1zm20 1h1v1h-1zm-132 1h1v1h-1zm31 0h1v1h-1z"/><path fill="#d9813d" d="M41 0h1v1h-1zm13 0h1v1h-1zm56 0h1v1h-1zm40 1h1v1h-1zm-109 1h1v1h-1zm8 0h1v1h-1zm15 0h1v1h-1zm6 0h1v1h-1zm-48 1h1v1h-1zm112 0h1v1h-1zm-110 1h1v1h-1zm79 0h1v1h-1zm31 0h1v1h-1zm-85 1h1v1h-1zm87 0h1v1h-1zm-5 1h1v1h-1zm-93 1h1v1h-1zm24 0h1v1h-1zm74 0h1v1h-1zm-136 1h1v1h-1zm27 0h1v1h-1zm77 0h1v1h-1zm50 0h1v1h-1zm-128 1h1v1h-1zm8 0h1v1h-1zm30 0h1v1h-1zm45 1h1v1h-1zm-93 2h1v1h-1zm13 0h1v1h-1zm73 0h1v1h-1zm-60 1h1v1h-1zm1 0h1v1h-1zm58 0h1v1h-1zm63 0h1v1h-1zm-136 1h1v1h-1zm73 0h1v1h-1zm28 0h1v1h-1zm-54 1h1v1h-1zm16 0h1v1h-1zm42 0h1v1h-1zm-118 1h1v1h-1zm4 0h1v1h-1zm7 0h1v1h-1zm31 0h1v1h-1zm57 1h1v1h-1zm-50 1h1v1h-1zm47 0h1v1h-1zm-59 1h1v1h-1zm-39 1h1v1h-1zm6 0h1v1h-1zm8 0h1v1h-1zm26 0h1v1h-1zm114 0h1v1h-1zm-123 2h1v1h-1zm75 0h1v1h-1zm-58 1h1v1h-1zm1 0h1v1h-1zm101 0h1v1h-1z"/><path fill="#d6772c" d="M121 0h1v1h-1zm27 0h1v1h-1zm0 1h1v1h-1zm-18 1h1v1h-1zm-95 1h1v1h-1zm-3 1h1v1h-1zm72 0h1v1h-1zm56 0h1v1h-1zm-155 1h1v1h-1zm29 0h1v1h-1zm70 0h1v1h-1zm7 0h1v1h-1zm34 0h1v1h-1zm5 0h1v1h-1zm-101 1h1v1h-1zm43 0h1v1h-1zm3 0h1v1h-1zm-72 1h1v1h-1zm4 0h1v1h-1zm16 0h1v1h-1zm52 0h1v1h-1zm55 0h1v1h-1zm-140 1h1v1h-1zm26 1h1v1h-1zm-3 1h1v1h-1zm70 0h1v1h-1zm12 0h1v1h-1zm-91 1h1v1h-1zm39 0h1v1h-1zm14 0h1v1h-1zm12 1h1v1h-1zm44 0h1v1h-1zm25 0h1v1h-1zm-140 1h1v1h-1zm29 0h1v1h-1zm35 0h1v1h-1zm63 0h1v1h-1zm-46 1h1v1h-1zm23 1h1v1h-1zm-88 1h1v1h-1zm19 0h1v1h-1zm56 0h1v1h-1zm-90 1h1v1h-1zm45 0h1v1h-1zm40 0h1v1h-1zm-71 1h1v1h-1zm1 0h1v1h-1zm19 0h1v1h-1zm64 0h1v1h-1zm42 0h1v1h-1zm-72 2h1v1h-1zm56 0h1v1h-1zm13 0h1v1h-1zm-66 1h1v1h-1zm-1 1h1v1h-1zm28 0h1v1h-1zm23 1h1v1h-1z"/><path fill="#d36c1c" d="M7 1h1v1h-1zm3 1h1v1h-1zm25 0h1v1h-1zm36 0h1v1h-1zm19 0h1v1h-1zm30 0h1v1h-1zm1 1h1v1h-1zm-121 1h1v1h-1zm67 0h1v1h-1zm-42 1h1v1h-1zm93 0h1v1h-1zm7 1h1v1h-1zm9 0h1v1h-1zm3 0h1v1h-1zm-108 1h1v1h-1zm131 0h1v1h-1zm-159 1h1v1h-1zm22 0h1v1h-1zm18 0h1v1h-1zm109 0h1v1h-1zm-119 1h1v1h-1zm17 0h1v1h-1zm28 0h1v1h-1zm52 1h1v1h-1zm-125 1h1v1h-1zm66 0h1v1h-1zm18 0h1v1h-1zm18 0h1v1h-1zm4 0h1v1h-1zm-25 1h1v1h-1zm83 0h1v1h-1zm-52 1h1v1h-1zm33 0h1v1h-1zm-112 1h1v1h-1zm43 0h1v1h-1zm89 0h1v1h-1zm-84 1h1v1h-1zm70 0h1v1h-1zm-73 3h1v1h-1zm40 1h1v1h-1zm-120 1h1v1h-1zm21 0h1v1h-1zm38 0h1v1h-1zm31 0h1v1h-1zm47 0h1v1h-1zm-7 1h1v1h-1zm-97 1h1v1h-1zm133 0h1v1h-1zm-95 1h1v1h-1zm94 0h1v1h-1z"/><path fill="#d0620c" d="M5 0h1v1h-1zm5 1h1v1h-1zm-2 1h1v1h-1zm96 0h1v1h-1zm15 0h1v1h-1zm-96 1h1v1h-1zm68 0h1v1h-1zm-87 1h1v1h-1zm4 0h1v1h-1zm88 0h1v1h-1zm57 0h1v1h-1zm-137 1h1v1h-1zm16 0h1v1h-1zm123 0h1v1h-1zm-129 1h1v1h-1zm70 0h1v1h-1zm14 0h1v1h-1zm21 2h1v1h-1zm17 0h1v1h-1zm-6 1h1v1h-1zm9 0h1v1h-1zm-147 1h1v1h-1zm12 0h1v1h-1zm70 1h1v1h-1zm12 0h1v1h-1zm61 0h1v1h-1zm-95 1h1v1h-1zm-60 1h1v1h-1zm111 1h1v1h-1zm-100 1h1v1h-1zm92 0h1v1h-1zm-61 1h1v1h-1zm100 0h1v1h-1zm-133 2h1v1h-1zm78 0h1v1h-1zm42 0h1v1h-1zm-85 1h1v1h-1zm22 0h1v1h-1zm10 0h1v1h-1zm37 0h1v1h-1zm40 0h1v1h-1zm-81 3h1v1h-1zm28 0h1v1h-1zm39 0h1v1h-1zm-142 1h1v1h-1z"/><path fill="#c85e0c" d="M143 0h1v1h-1zm15 2h1v1h-1zm-101 1h1v1h-1zm61 0h1v1h-1zm4 0h1v1h-1zm7 1h1v1h-1zm-36 2h1v1h-1zm-62 1h1v1h-1zm59 1h1v1h-1zm32 0h1v1h-1zm43 0h1v1h-1zm-165 1h1v1h-1zm86 0h1v1h-1zm42 0h1v1h-1zm12 0h1v1h-1zm17 0h1v1h-1zm-114 2h1v1h-1zm59 0h1v1h-1zm10 0h1v1h-1zm-80 1h1v1h-1zm-31 1h1v1h-1zm1 0h1v1h-1zm63 0h1v1h-1zm40 0h1v1h-1zm-95 1h1v1h-1zm92 0h1v1h-1zm16 0h1v1h-1zm44 0h1v1h-1zm-67 1h1v1h-1zm-93 1h1v1h-1zm81 2h1v1h-1zm-54 1h1v1h-1zm1 0h1v1h-1zm-16 1h1v1h-1zm18 0h1v1h-1zm-10 1h1v1h-1zm94 0h1v1h-1zm16 0h1v1h-1zm-31 1h1v1h-1z"/><path fill="#c15b0b" d="M14 0h1v1h-1zm47 0h1v1h-1zm1 2h1v1h-1zm-30 1h1v1h-1zm42 0h1v1h-1zm-69 1h1v1h-1zm113 2h1v1h-1zm-72 1h1v1h-1zm23 0h1v1h-1zm24 1h1v1h-1zm-13 2h1v1h-1zm3 0h1v1h-1zm62 0h1v1h-1zm-92 1h1v1h-1zm2 0h1v1h-1zm20 0h1v1h-1zm3 0h1v1h-1zm-31 3h1v1h-1zm67 0h1v1h-1zm-31 1h1v1h-1zm-65 1h1v1h-1zm111 0h1v1h-1zm1 0h1v1h-1zm20 0h1v1h-1zm-120 2h1v1h-1zm107 0h1v1h-1zm-100 1h1v1h-1zm96 0h1v1h-1zm-88 1h1v1h-1zm4 0h1v1h-1zm-31 1h1v1h-1zm28 0h1v1h-1zm29 0h1v1h-1zm31 1h1v1h-1zm47 0h1v1h-1zm9 0h1v1h-1z"/><path fill="#b9570b" d="M23 0h1v1h-1zm15 0h1v1h-1zm66 1h1v1h-1zm3 0h1v1h-1zm3 0h1v1h-1zm-87 1h1v1h-1zm108 0h1v1h-1zm-126 1h1v1h-1zm11 0h1v1h-1zm79 0h1v1h-1zm-46 1h1v1h-1zm22 0h1v1h-1zm48 1h1v1h-1zm-70 2h1v1h-1zm70 1h1v1h-1zm-93 2h1v1h-1zm-17 1h1v1h-1zm43 0h1v1h-1zm28 0h1v1h-1zm39 0h1v1h-1zm-26 1h1v1h-1zm-71 1h1v1h-1zm26 0h1v1h-1zm25 0h1v1h-1zm-33 2h1v1h-1zm-23 1h1v1h-1zm-12 1h1v1h-1zm26 1h1v1h-1zm51 0h1v1h-1zm75 0h1v1h-1zm-131 1h1v1h-1zm24 0h1v1h-1zm24 1h1v1h-1zm-57 3h1v1h-1zm2 0h1v1h-1zm19 0h1v1h-1zm29 0h1v1h-1z"/><path fill="#b1530b" d="M32 0h1v1h-1zm39 0h1v1h-1zm-9 1h1v1h-1zm-3 1h1v1h-1zm79 2h1v1h-1zm-74 2h1v1h-1zm55 0h1v1h-1zm-119 1h1v1h-1zm61 0h1v1h-1zm63 0h1v1h-1zm-75 1h1v1h-1zm77 1h1v1h-1zm-117 1h1v1h-1zm147 0h1v1h-1zm-124 1h1v1h-1zm52 0h1v1h-1zm48 0h1v1h-1zm31 0h1v1h-1zm-145 1h1v1h-1zm96 0h1v1h-1zm40 0h1v1h-1zm-135 3h1v1h-1zm44 0h1v1h-1zm-32 4h1v1h-1zm13 0h1v1h-1zm104 1h1v1h-1zm-144 2h1v1h-1zm37 0h1v1h-1zm-28 1h1v1h-1z"/><path fill="#a9500a" d="M26 3h1v1h-1zm27 1h1v1h-1zm16 0h1v1h-1zm-28 1h1v1h-1zm107 0h1v1h-1zm-134 1h1v1h-1zm21 0h1v1h-1zm99 2h1v1h-1zm-126 1h1v1h-1zm59 0h1v1h-1zm51 0h1v1h-1zm21 0h1v1h-1zm-81 1h1v1h-1zm5 0h1v1h-1zm-21 1h1v1h-1zm2 0h1v1h-1zm3 0h1v1h-1zm15 0h1v1h-1zm32 0h1v1h-1zm34 0h1v1h-1zm13 1h1v1h-1zm-57 1h1v1h-1zm-57 1h1v1h-1zm13 0h1v1h-1zm114 0h1v1h-1zm-119 4h1v1h-1zm108 1h1v1h-1zm-96 2h1v1h-1zm-36 2h1v1h-1z"/><path fill="#a24c0a" d="M32 1h1v1h-1zm60 0h1v1h-1zm30 1h1v1h-1zm-114 1h1v1h-1zm82 0h1v1h-1zm2 1h1v1h-1zm-18 3h1v1h-1zm44 3h1v1h-1zm24 0h1v1h-1zm-1 1h1v1h-1zm-139 3h1v1h-1zm93 0h1v1h-1zm54 0h1v1h-1zm7 1h1v1h-1zm-127 1h1v1h-1zm8 0h1v1h-1zm71 0h1v1h-1zm44 2h1v1h-1zm-103 3h1v1h-1zm56 1h1v1h-1zm35 0h1v1h-1zm-21 1h1v1h-1zm8 0h1v1h-1z"/><path fill="#9a480a" d="M119 1h1v1h-1zm39 0h1v1h-1zm-67 1h1v1h-1zm11 0h1v1h-1zm-102 1h1v1h-1zm97 2h1v1h-1zm-50 1h1v1h-1zm73 0h1v1h-1zm4 2h1v1h-1zm-96 3h1v1h-1zm53 0h1v1h-1zm-41 1h1v1h-1zm-30 1h1v1h-1zm53 0h1v1h-1zm18 2h1v1h-1zm38 0h1v1h-1zm-111 1h1v1h-1zm20 3h1v1h-1zm41 0h1v1h-1zm23 0h1v1h-1zm-48 4h1v1h-1zm85 0h1v1h-1z"/><path fill="#924509" d="M8 0h1v1h-1zm71 0h1v1h-1zm-19 1h1v1h-1zm78 0h1v1h-1zm-128 5h1v1h-1zm126 0h1v1h-1zm-120 1h1v1h-1zm-12 1h1v1h-1zm88 0h1v1h-1zm61 1h1v1h-1zm-145 1h1v1h-1zm69 0h1v1h-1zm-40 5h1v1h-1zm122 1h1v1h-1zm-117 2h1v1h-1zm93 1h1v1h-1zm-124 2h1v1h-1zm74 0h1v1h-1zm-81 2h1v1h-1z"/><path fill="#8a4109" d="M52 0h1v1h-1zm40 0h1v1h-1zm-43 1h1v1h-1zm62 2h1v1h-1zm-16 1h1v1h-1zm27 0h1v1h-1zm2 1h1v1h-1zm34 2h1v1h-1zm-123 1h1v1h-1zm122 2h1v1h-1zm-149 5h1v1h-1zm9 0h1v1h-1zm83 0h1v1h-1zm-42 3h1v1h-1zm96 4h1v1h-1z"/><path fill="#833d09" d="M26 0h1v1h-1zm-25 1h1v1h-1zm96 0h1v1h-1zm-71 3h1v1h-1zm-12 1h1v1h-1zm15 3h1v1h-1zm1 1h1v1h-1zm31 0h1v1h-1zm2 0h1v1h-1zm51 2h1v1h-1zm44 0h1v1h-1zm-115 1h1v1h-1zm-27 1h1v1h-1zm15 0h1v1h-1zm124 0h1v1h-1zm-56 3h1v1h-1zm-10 4h1v1h-1zm-8 3h1v1h-1z"/><path fill="#7b3a08" d="M107 0h1v1h-1zm-66 4h1v1h-1zm-31 1h1v1h-1zm153 5h1v1h-1zm-126 1h1v1h-1zm70 2h1v1h-1zm20 6h1v1h-1z"/><path fill="#733608" d="M118 0h1v1h-1zm16 1h1v1h-1zm-134 1h1v1h-1zm110 1h1v1h-1zm14 3h1v1h-1zm-110 1h1v1h-1zm96 0h1v1h-1zm8 1h1v1h-1zm-112 1h1v1h-1zm64 0h1v1h-1zm85 0h1v1h-1zm-31 1h1v1h-1zm16 0h1v1h-1zm-25 1h1v1h-1zm-85 2h1v1h-1zm104 0h1v1h-1zm-128 1h1v1h-1zm139 0h1v1h-1zm3 0h1v1h-1zm-95 3h1v1h-1zm3 1h1v1h-1zm-17 1h1v1h-1zm-15 3h1v1h-1zm106 0h1v1h-1zm33 0h1v1h-1zm-103 1h1v1h-1z"/><path fill="#6b3208" d="M138 0h1v1h-1zm-17 2h1v1h-1zm13 5h1v1h-1zm-102 1h1v1h-1zm78 0h1v1h-1zm-98 1h1v1h-1zm78 2h1v1h-1zm56 0h1v1h-1zm-143 2h1v1h-1zm136 0h1v1h-1zm-56 4h1v1h-1z"/><path fill="#642f07" d="M4 1h1v1h-1zm0 5h1v1h-1zm65 0h1v1h-1zm1 2h1v1h-1zm27 0h1v1h-1zm30 2h1v1h-1zm-121 1h1v1h-1zm124 2h1v1h-1zm-105 4h1v1h-1zm25 0h1v1h-1zm-32 3h1v1h-1zm141 1h1v1h-1zm-140 1h1v1h-1zm89 1h1v1h-1z"/><path fill="#5c2b07" d="M10 0h1v1h-1zm71 0h1v1h-1zm12 0h1v1h-1zm2 0h1v1h-1zm27 0h1v1h-1zm12 0h1v1h-1zm1 0h1v1h-1zm-129 1h1v1h-1zm20 0h1v1h-1zm15 0h1v1h-1zm70 0h1v1h-1zm7 0h1v1h-1zm17 0h1v1h-1zm-134 1h1v1h-1zm59 0h1v1h-1zm32 0h1v1h-1zm5 0h1v1h-1zm37 0h1v1h-1zm1 0h1v1h-1zm13 0h1v1h-1zm-138 1h1v1h-1zm71 0h1v1h-1zm16 0h1v1h-1zm22 0h1v1h-1zm16 0h1v1h-1zm-125 1h1v1h-1zm25 0h1v1h-1zm58 0h1v1h-1zm14 0h1v1h-1zm28 0h1v1h-1zm-135 1h1v1h-1zm1 0h1v1h-1zm88 0h1v1h-1zm32 0h1v1h-1zm8 0h1v1h-1zm5 0h1v1h-1zm1 0h1v1h-1zm3 0h1v1h-1zm29 0h1v1h-1zm-166 1h1v1h-1zm22 0h1v1h-1zm66 0h1v1h-1zm46 0h1v1h-1zm7 0h1v1h-1zm-132 1h1v1h-1zm16 0h1v1h-1zm34 0h1v1h-1zm21 0h1v1h-1zm37 0h1v1h-1zm-104 1h1v1h-1zm12 0h1v1h-1zm34 0h1v1h-1zm9 0h1v1h-1zm26 0h1v1h-1zm40 0h1v1h-1zm-37 1h1v1h-1zm26 0h1v1h-1zm19 0h1v1h-1zm-130 1h1v1h-1zm12 0h1v1h-1zm39 0h1v1h-1zm34 0h1v1h-1zm-79 1h1v1h-1zm12 0h1v1h-1zm-19 1h1v1h-1zm7 0h1v1h-1zm63 0h1v1h-1zm21 0h1v1h-1zm15 0h1v1h-1zm11 0h1v1h-1zm19 0h1v1h-1zm-92 1h1v1h-1zm40 0h1v1h-1zm15 0h1v1h-1zm1 0h1v1h-1zm-103 1h1v1h-1zm5 0h1v1h-1zm27 0h1v1h-1zm80 0h1v1h-1zm31 0h1v1h-1zm-145 1h1v1h-1zm81 0h1v1h-1zm-66 1h1v1h-1zm40 0h1v1h-1zm1 0h1v1h-1zm20 0h1v1h-1zm24 0h1v1h-1zm7 0h1v1h-1zm20 0h1v1h-1zm13 0h1v1h-1zm-139 2h1v1h-1zm49 0h1v1h-1zm8 0h1v1h-1zm25 0h1v1h-1zm10 0h1v1h-1zm-81 1h1v1h-1zm15 0h1v1h-1zm21 0h1v1h-1zm4 0h1v1h-1zm26 0h1v1h-1zm53 0h1v1h-1zm21 0h1v1h-1zm-111 1h1v1h-1zm7 0h1v1h-1zm13 0h1v1h-1zm24 0h1v1h-1zm29 0h1v1h-1zm36 0h1v1h-1zm-103 1h1v1h-1zm40 0h1v1h-1zm43 0h1v1h-1zm17 0h1v1h-1zm11 0h1v1h-1zm-165 1h1v1h-1zm54 0h1v1h-1zm30 0h1v1h-1zm6 0h1v1h-1zm75 0h1v1h-1zm-16 1h1v1h-1zm5 0h1v1h-1z"/></g>
<g transform="translate(862.60,1310.00) scale(4.6340,21.0500)" shape-rendering="crispEdges"><path fill="#4990a2" d="M44 10h1v1h-1zm-36 3h1v1h-1zm75 0h1v1h-1zm32 0h1v1h-1z"/><path fill="#5799a9" d="M6 1h1v1h-1zm29 0h1v1h-1zm-4 1h1v1h-1zm53 0h1v1h-1zm-9 2h1v1h-1zm5 0h1v1h-1zm55 0h1v1h-1zm-60 3h1v1h-1zm-40 1h1v1h-1zm1 0h1v1h-1zm23 0h1v1h-1zm16 0h1v1h-1zm-74 1h1v1h-1zm40 2h1v1h-1zm4 0h1v1h-1zm11 0h1v1h-1zm3 0h1v1h-1zm7 0h1v1h-1zm19 0h1v1h-1zm2 0h1v1h-1zm48 0h1v1h-1zm-114 2h1v1h-1zm15 0h1v1h-1zm33 0h1v1h-1zm6 0h1v1h-1zm22 0h1v1h-1zm11 0h1v1h-1zm4 0h1v1h-1zm-29 1h1v1h-1zm4 0h1v1h-1zm-82 2h1v1h-1zm104 0h1v1h-1zm-59 3h1v1h-1zm50 0h1v1h-1zm16 0h1v1h-1zm-68 3h1v1h-1zm28 0h1v1h-1zm36 0h1v1h-1zm10 0h1v1h-1zm3 0h1v1h-1zm-123 1h1v1h-1zm49 0h1v1h-1zm78 0h1v1h-1z"/><path fill="#65a1b1" d="M2 0h1v1h-1zm4 0h1v1h-1zm47 0h1v1h-1zm22 0h1v1h-1zm50 0h1v1h-1zm-123 1h1v1h-1zm40 0h1v1h-1zm11 0h1v1h-1zm21 0h1v1h-1zm1 0h1v1h-1zm53 0h1v1h-1zm-93 1h1v1h-1zm17 0h1v1h-1zm5 0h1v1h-1zm18 0h1v1h-1zm40 0h1v1h-1zm13 0h1v1h-1zm-126 2h1v1h-1zm55 0h1v1h-1zm71 0h1v1h-1zm1 0h1v1h-1zm5 0h1v1h-1zm-81 1h1v1h-1zm22 0h1v1h-1zm-74 1h1v1h-1zm39 0h1v1h-1zm2 0h1v1h-1zm11 0h1v1h-1zm22 0h1v1h-1zm-40 1h1v1h-1zm18 0h1v1h-1zm27 0h1v1h-1zm-78 1h1v1h-1zm55 0h1v1h-1zm54 0h1v1h-1zm-52 1h1v1h-1zm8 0h1v1h-1zm14 0h1v1h-1zm29 0h1v1h-1zm8 0h1v1h-1zm3 0h1v1h-1zm-111 2h1v1h-1zm2 0h1v1h-1zm13 0h1v1h-1zm27 0h1v1h-1zm2 0h1v1h-1zm6 0h1v1h-1zm5 0h1v1h-1zm7 0h1v1h-1zm1 0h1v1h-1zm39 0h1v1h-1zm4 0h1v1h-1zm5 0h1v1h-1zm-110 1h1v1h-1zm56 0h1v1h-1zm-23 1h1v1h-1zm27 0h1v1h-1zm1 0h1v1h-1zm6 0h1v1h-1zm11 0h1v1h-1zm18 0h1v1h-1zm28 0h1v1h-1zm-61 2h1v1h-1zm29 0h1v1h-1zm-60 1h1v1h-1zm1 0h1v1h-1zm2 0h1v1h-1zm10 0h1v1h-1zm12 0h1v1h-1zm27 0h1v1h-1zm29 0h1v1h-1zm7 0h1v1h-1zm-121 2h1v1h-1zm2 0h1v1h-1zm29 0h1v1h-1zm38 0h1v1h-1zm14 0h1v1h-1zm40 0h1v1h-1zm-82 1h1v1h-1zm13 0h1v1h-1zm15 0h1v1h-1zm5 0h1v1h-1zm1 0h1v1h-1zm28 0h1v1h-1zm6 0h1v1h-1zm-79 1h1v1h-1zm-38 1h1v1h-1zm31 0h1v1h-1zm24 0h1v1h-1zm65 0h1v1h-1zm-106 1h1v1h-1zm1 0h1v1h-1zm6 0h1v1h-1zm43 0h1v1h-1zm12 0h1v1h-1zm17 0h1v1h-1zm-92 1h1v1h-1zm1 0h1v1h-1zm28 0h1v1h-1zm93 0h1v1h-1z"/><path fill="#73aab8" d="M31 0h1v1h-1zm5 0h1v1h-1zm4 0h1v1h-1zm44 0h1v1h-1zm36 0h1v1h-1zm8 0h1v1h-1zm-127 1h1v1h-1zm28 0h1v1h-1zm4 0h1v1h-1zm19 0h1v1h-1zm9 0h1v1h-1zm16 0h1v1h-1zm3 0h1v1h-1zm4 0h1v1h-1zm19 0h1v1h-1zm32 0h1v1h-1zm-119 1h1v1h-1zm3 0h1v1h-1zm17 0h1v1h-1zm4 0h1v1h-1zm13 0h1v1h-1zm27 0h1v1h-1zm13 0h1v1h-1zm37 0h1v1h-1zm4 0h1v1h-1zm1 0h1v1h-1zm-133 1h1v1h-1zm17 0h1v1h-1zm14 0h1v1h-1zm2 0h1v1h-1zm40 0h1v1h-1zm9 0h1v1h-1zm-61 1h1v1h-1zm8 0h1v1h-1zm21 0h1v1h-1zm7 0h1v1h-1zm12 0h1v1h-1zm1 0h1v1h-1zm5 0h1v1h-1zm20 0h1v1h-1zm14 0h1v1h-1zm4 0h1v1h-1zm-84 1h1v1h-1zm10 0h1v1h-1zm11 0h1v1h-1zm5 0h1v1h-1zm40 0h1v1h-1zm29 0h1v1h-1zm-124 1h1v1h-1zm4 0h1v1h-1zm7 0h1v1h-1zm20 0h1v1h-1zm2 0h1v1h-1zm22 0h1v1h-1zm20 0h1v1h-1zm16 0h1v1h-1zm35 0h1v1h-1zm-115 1h1v1h-1zm3 0h1v1h-1zm17 0h1v1h-1zm9 0h1v1h-1zm6 0h1v1h-1zm9 0h1v1h-1zm2 0h1v1h-1zm4 0h1v1h-1zm40 0h1v1h-1zm17 0h1v1h-1zm-120 1h1v1h-1zm13 0h1v1h-1zm6 0h1v1h-1zm27 0h1v1h-1zm7 0h1v1h-1zm18 0h1v1h-1zm11 0h1v1h-1zm49 0h1v1h-1zm4 0h1v1h-1zm-82 1h1v1h-1zm18 0h1v1h-1zm16 0h1v1h-1zm12 0h1v1h-1zm7 0h1v1h-1zm-105 1h1v1h-1zm44 0h1v1h-1zm36 0h1v1h-1zm54 0h1v1h-1zm-130 1h1v1h-1zm16 0h1v1h-1zm13 0h1v1h-1zm28 0h1v1h-1zm13 0h1v1h-1zm1 0h1v1h-1zm3 0h1v1h-1zm38 0h1v1h-1zm5 0h1v1h-1zm3 0h1v1h-1zm-56 1h1v1h-1zm2 0h1v1h-1zm9 0h1v1h-1zm4 0h1v1h-1zm11 0h1v1h-1zm5 0h1v1h-1zm3 0h1v1h-1zm32 0h1v1h-1zm-129 1h1v1h-1zm13 0h1v1h-1zm35 0h1v1h-1zm1 0h1v1h-1zm10 0h1v1h-1zm5 0h1v1h-1zm6 0h1v1h-1zm24 0h1v1h-1zm21 0h1v1h-1zm6 0h1v1h-1zm-108 1h1v1h-1zm2 0h1v1h-1zm3 0h1v1h-1zm22 0h1v1h-1zm8 0h1v1h-1zm2 0h1v1h-1zm10 0h1v1h-1zm45 0h1v1h-1zm8 0h1v1h-1zm11 0h1v1h-1zm5 0h1v1h-1zm-127 1h1v1h-1zm10 0h1v1h-1zm38 0h1v1h-1zm19 0h1v1h-1zm24 0h1v1h-1zm8 0h1v1h-1zm8 0h1v1h-1zm-95 1h1v1h-1zm11 0h1v1h-1zm10 0h1v1h-1zm10 0h1v1h-1zm14 0h1v1h-1zm13 0h1v1h-1zm23 0h1v1h-1zm-58 2h1v1h-1zm3 0h1v1h-1zm1 0h1v1h-1zm82 0h1v1h-1zm-118 1h1v1h-1zm6 0h1v1h-1zm13 0h1v1h-1zm31 0h1v1h-1zm2 0h1v1h-1zm15 0h1v1h-1zm15 0h1v1h-1zm35 0h1v1h-1zm2 0h1v1h-1zm-129 1h1v1h-1zm63 0h1v1h-1zm3 0h1v1h-1zm7 0h1v1h-1zm59 0h1v1h-1zm-104 1h1v1h-1zm57 0h1v1h-1zm3 0h1v1h-1zm35 0h1v1h-1zm-98 1h1v1h-1zm3 0h1v1h-1zm17 0h1v1h-1zm52 0h1v1h-1zm-89 1h1v1h-1zm27 0h1v1h-1zm26 0h1v1h-1zm51 0h1v1h-1zm9 0h1v1h-1zm2 0h1v1h-1z"/><path fill="#81b2bf" d="M12 0h1v1h-1zm21 0h1v1h-1zm2 0h1v1h-1zm7 0h1v1h-1zm15 0h1v1h-1zm6 0h1v1h-1zm15 0h1v1h-1zm49 0h1v1h-1zm7 0h1v1h-1zm-118 1h1v1h-1zm8 0h1v1h-1zm7 0h1v1h-1zm10 0h1v1h-1zm18 0h1v1h-1zm1 0h1v1h-1zm12 0h1v1h-1zm25 0h1v1h-1zm8 0h1v1h-1zm3 0h1v1h-1zm-82 1h1v1h-1zm12 0h1v1h-1zm4 0h1v1h-1zm13 0h1v1h-1zm10 0h1v1h-1zm25 0h1v1h-1zm20 0h1v1h-1zm21 0h1v1h-1zm-115 1h1v1h-1zm25 0h1v1h-1zm1 0h1v1h-1zm10 0h1v1h-1zm9 0h1v1h-1zm8 0h1v1h-1zm29 0h1v1h-1zm29 0h1v1h-1zm-126 1h1v1h-1zm12 0h1v1h-1zm6 0h1v1h-1zm9 0h1v1h-1zm1 0h1v1h-1zm4 0h1v1h-1zm2 0h1v1h-1zm4 0h1v1h-1zm14 0h1v1h-1zm8 0h1v1h-1zm59 0h1v1h-1zm-114 1h1v1h-1zm10 0h1v1h-1zm19 0h1v1h-1zm24 0h1v1h-1zm17 0h1v1h-1zm8 0h1v1h-1zm24 0h1v1h-1zm22 0h1v1h-1zm-111 1h1v1h-1zm12 0h1v1h-1zm15 0h1v1h-1zm13 0h1v1h-1zm25 0h1v1h-1zm23 0h1v1h-1zm12 0h1v1h-1zm5 0h1v1h-1zm1 0h1v1h-1zm1 0h1v1h-1zm9 0h1v1h-1zm-133 1h1v1h-1zm4 0h1v1h-1zm25 0h1v1h-1zm7 0h1v1h-1zm30 0h1v1h-1zm3 0h1v1h-1zm3 0h1v1h-1zm16 0h1v1h-1zm3 0h1v1h-1zm2 0h1v1h-1zm19 0h1v1h-1zm16 0h1v1h-1zm-99 1h1v1h-1zm1 0h1v1h-1zm1 0h1v1h-1zm7 0h1v1h-1zm26 0h1v1h-1zm11 0h1v1h-1zm3 0h1v1h-1zm25 0h1v1h-1zm16 0h1v1h-1zm-88 1h1v1h-1zm83 0h1v1h-1zm12 0h1v1h-1zm-109 1h1v1h-1zm17 0h1v1h-1zm67 0h1v1h-1zm17 0h1v1h-1zm-104 1h1v1h-1zm11 0h1v1h-1zm17 0h1v1h-1zm64 0h1v1h-1zm2 0h1v1h-1zm16 0h1v1h-1zm7 0h1v1h-1zm-128 1h1v1h-1zm16 0h1v1h-1zm4 0h1v1h-1zm40 0h1v1h-1zm10 0h1v1h-1zm8 0h1v1h-1zm6 0h1v1h-1zm15 0h1v1h-1zm-103 1h1v1h-1zm8 0h1v1h-1zm4 0h1v1h-1zm3 0h1v1h-1zm11 0h1v1h-1zm2 0h1v1h-1zm6 0h1v1h-1zm68 0h1v1h-1zm30 0h1v1h-1zm-132 1h1v1h-1zm2 0h1v1h-1zm2 0h1v1h-1zm6 0h1v1h-1zm1 0h1v1h-1zm4 0h1v1h-1zm16 0h1v1h-1zm4 0h1v1h-1zm9 0h1v1h-1zm5 0h1v1h-1zm14 0h1v1h-1zm3 0h1v1h-1zm18 0h1v1h-1zm5 0h1v1h-1zm11 0h1v1h-1zm4 0h1v1h-1zm11 0h1v1h-1zm11 0h1v1h-1zm-122 1h1v1h-1zm33 0h1v1h-1zm16 0h1v1h-1zm11 0h1v1h-1zm13 0h1v1h-1zm24 0h1v1h-1zm3 0h1v1h-1zm17 0h1v1h-1zm-114 1h1v1h-1zm2 0h1v1h-1zm5 0h1v1h-1zm6 0h1v1h-1zm8 0h1v1h-1zm7 0h1v1h-1zm4 0h1v1h-1zm12 0h1v1h-1zm3 0h1v1h-1zm19 0h1v1h-1zm1 0h1v1h-1zm7 0h1v1h-1zm18 0h1v1h-1zm4 0h1v1h-1zm2 0h1v1h-1zm29 0h1v1h-1zm-120 2h1v1h-1zm2 0h1v1h-1zm13 0h1v1h-1zm28 0h1v1h-1zm4 0h1v1h-1zm28 0h1v1h-1zm27 0h1v1h-1zm15 0h1v1h-1zm-126 1h1v1h-1zm14 0h1v1h-1zm26 0h1v1h-1zm19 0h1v1h-1zm5 0h1v1h-1zm12 0h1v1h-1zm27 0h1v1h-1zm3 0h1v1h-1zm-74 1h1v1h-1zm8 0h1v1h-1zm30 0h1v1h-1zm4 0h1v1h-1zm13 0h1v1h-1zm3 0h1v1h-1zm35 0h1v1h-1zm-123 1h1v1h-1zm5 0h1v1h-1zm30 0h1v1h-1zm3 0h1v1h-1zm23 0h1v1h-1zm1 0h1v1h-1zm2 0h1v1h-1zm15 0h1v1h-1zm1 0h1v1h-1zm21 0h1v1h-1zm2 0h1v1h-1zm6 0h1v1h-1zm17 0h1v1h-1zm-128 1h1v1h-1zm3 0h1v1h-1zm2 0h1v1h-1zm11 0h1v1h-1zm5 0h1v1h-1zm4 0h1v1h-1zm2 0h1v1h-1zm2 0h1v1h-1zm23 0h1v1h-1zm4 0h1v1h-1zm3 0h1v1h-1zm2 0h1v1h-1zm36 0h1v1h-1zm4 0h1v1h-1zm-84 1h1v1h-1zm2 0h1v1h-1zm5 0h1v1h-1zm1 0h1v1h-1zm2 0h1v1h-1zm9 0h1v1h-1zm11 0h1v1h-1zm4 0h1v1h-1zm1 0h1v1h-1zm8 0h1v1h-1zm2 0h1v1h-1zm5 0h1v1h-1zm5 0h1v1h-1zm8 0h1v1h-1zm9 0h1v1h-1zm4 0h1v1h-1zm11 0h1v1h-1z"/><path fill="#8fbbc6" d="M0 0h1v1h-1zm1 0h1v1h-1zm4 0h1v1h-1zm16 0h1v1h-1zm22 0h1v1h-1zm3 0h1v1h-1zm13 0h1v1h-1zm18 0h1v1h-1zm30 0h1v1h-1zm3 0h1v1h-1zm6 0h1v1h-1zm1 0h1v1h-1zm12 0h1v1h-1zm1 0h1v1h-1zm-111 1h1v1h-1zm2 0h1v1h-1zm6 0h1v1h-1zm9 0h1v1h-1zm21 0h1v1h-1zm16 0h1v1h-1zm17 0h1v1h-1zm4 0h1v1h-1zm1 0h1v1h-1zm3 0h1v1h-1zm8 0h1v1h-1zm1 0h1v1h-1zm4 0h1v1h-1zm1 0h1v1h-1zm12 0h1v1h-1zm6 0h1v1h-1zm1 0h1v1h-1zm-128 1h1v1h-1zm4 0h1v1h-1zm16 0h1v1h-1zm1 0h1v1h-1zm3 0h1v1h-1zm2 0h1v1h-1zm4 0h1v1h-1zm6 0h1v1h-1zm24 0h1v1h-1zm34 0h1v1h-1zm6 0h1v1h-1zm2 0h1v1h-1zm13 0h1v1h-1zm2 0h1v1h-1zm4 0h1v1h-1zm-121 1h1v1h-1zm3 0h1v1h-1zm32 0h1v1h-1zm13 0h1v1h-1zm8 0h1v1h-1zm21 0h1v1h-1zm21 0h1v1h-1zm18 0h1v1h-1zm9 0h1v1h-1zm2 0h1v1h-1zm1 0h1v1h-1zm-126 1h1v1h-1zm19 0h1v1h-1zm14 0h1v1h-1zm4 0h1v1h-1zm48 0h1v1h-1zm15 0h1v1h-1zm-103 1h1v1h-1zm6 0h1v1h-1zm34 0h1v1h-1zm8 0h1v1h-1zm24 0h1v1h-1zm3 0h1v1h-1zm3 0h1v1h-1zm14 0h1v1h-1zm8 0h1v1h-1zm22 0h1v1h-1zm1 0h1v1h-1zm3 0h1v1h-1zm7 0h1v1h-1zm-126 1h1v1h-1zm3 0h1v1h-1zm15 0h1v1h-1zm1 0h1v1h-1zm27 0h1v1h-1zm7 0h1v1h-1zm1 0h1v1h-1zm6 0h1v1h-1zm12 0h1v1h-1zm16 0h1v1h-1zm6 0h1v1h-1zm5 0h1v1h-1zm3 0h1v1h-1zm18 0h1v1h-1zm2 0h1v1h-1zm3 0h1v1h-1zm-131 1h1v1h-1zm2 0h1v1h-1zm24 0h1v1h-1zm3 0h1v1h-1zm19 0h1v1h-1zm4 0h1v1h-1zm5 0h1v1h-1zm17 0h1v1h-1zm1 0h1v1h-1zm6 0h1v1h-1zm13 0h1v1h-1zm10 0h1v1h-1zm1 0h1v1h-1zm1 0h1v1h-1zm2 0h1v1h-1zm13 0h1v1h-1zm4 0h1v1h-1zm1 0h1v1h-1zm5 0h1v1h-1zm-131 1h1v1h-1zm14 0h1v1h-1zm21 0h1v1h-1zm17 0h1v1h-1zm10 0h1v1h-1zm20 0h1v1h-1zm13 0h1v1h-1zm5 0h1v1h-1zm6 0h1v1h-1zm1 0h1v1h-1zm3 0h1v1h-1zm13 0h1v1h-1zm8 0h1v1h-1zm-112 1h1v1h-1zm9 0h1v1h-1zm6 0h1v1h-1zm19 0h1v1h-1zm23 0h1v1h-1zm3 0h1v1h-1zm6 0h1v1h-1zm1 0h1v1h-1zm5 0h1v1h-1zm15 0h1v1h-1zm3 0h1v1h-1zm18 0h1v1h-1zm3 0h1v1h-1zm-122 1h1v1h-1zm20 0h1v1h-1zm7 0h1v1h-1zm8 0h1v1h-1zm25 0h1v1h-1zm7 0h1v1h-1zm4 0h1v1h-1zm3 0h1v1h-1zm3 0h1v1h-1zm17 0h1v1h-1zm-91 1h1v1h-1zm16 0h1v1h-1zm9 0h1v1h-1zm11 0h1v1h-1zm7 0h1v1h-1zm13 0h1v1h-1zm4 0h1v1h-1zm17 0h1v1h-1zm3 0h1v1h-1zm1 0h1v1h-1zm4 0h1v1h-1zm5 0h1v1h-1zm1 0h1v1h-1zm23 0h1v1h-1zm-105 1h1v1h-1zm4 0h1v1h-1zm1 0h1v1h-1zm7 0h1v1h-1zm6 0h1v1h-1zm7 0h1v1h-1zm2 0h1v1h-1zm5 0h1v1h-1zm23 0h1v1h-1zm18 0h1v1h-1zm14 0h1v1h-1zm-98 1h1v1h-1zm8 0h1v1h-1zm40 0h1v1h-1zm2 0h1v1h-1zm1 0h1v1h-1zm21 0h1v1h-1zm1 0h1v1h-1zm10 0h1v1h-1zm22 0h1v1h-1zm17 0h1v1h-1zm-91 1h1v1h-1zm1 0h1v1h-1zm25 0h1v1h-1zm6 0h1v1h-1zm1 0h1v1h-1zm5 0h1v1h-1zm14 0h1v1h-1zm2 0h1v1h-1zm16 0h1v1h-1zm7 0h1v1h-1zm3 0h1v1h-1zm-101 1h1v1h-1zm9 0h1v1h-1zm10 0h1v1h-1zm4 0h1v1h-1zm10 0h1v1h-1zm7 0h1v1h-1zm11 0h1v1h-1zm15 0h1v1h-1zm5 0h1v1h-1zm20 0h1v1h-1zm-111 1h1v1h-1zm7 0h1v1h-1zm19 0h1v1h-1zm10 0h1v1h-1zm1 0h1v1h-1zm11 0h1v1h-1zm7 0h1v1h-1zm15 0h1v1h-1zm20 0h1v1h-1zm5 0h1v1h-1zm29 0h1v1h-1zm-126 2h1v1h-1zm4 0h1v1h-1zm10 0h1v1h-1zm7 0h1v1h-1zm13 0h1v1h-1zm2 0h1v1h-1zm3 0h1v1h-1zm25 0h1v1h-1zm20 0h1v1h-1zm14 0h1v1h-1zm25 0h1v1h-1zm4 0h1v1h-1zm1 0h1v1h-1zm3 0h1v1h-1zm-119 1h1v1h-1zm3 0h1v1h-1zm17 0h1v1h-1zm26 0h1v1h-1zm4 0h1v1h-1zm6 0h1v1h-1zm5 0h1v1h-1zm3 0h1v1h-1zm14 0h1v1h-1zm1 0h1v1h-1zm5 0h1v1h-1zm3 0h1v1h-1zm8 0h1v1h-1zm19 0h1v1h-1zm3 0h1v1h-1zm3 0h1v1h-1zm-102 1h1v1h-1zm33 0h1v1h-1zm3 0h1v1h-1zm20 0h1v1h-1zm4 0h1v1h-1zm7 0h1v1h-1zm3 0h1v1h-1zm4 0h1v1h-1zm14 0h1v1h-1zm8 0h1v1h-1zm8 0h1v1h-1zm1 0h1v1h-1zm-123 1h1v1h-1zm4 0h1v1h-1zm26 0h1v1h-1zm5 0h1v1h-1zm13 0h1v1h-1zm20 0h1v1h-1zm22 0h1v1h-1zm11 0h1v1h-1zm3 0h1v1h-1zm9 0h1v1h-1zm-95 1h1v1h-1zm8 0h1v1h-1zm4 0h1v1h-1zm1 0h1v1h-1zm2 0h1v1h-1zm30 0h1v1h-1zm7 0h1v1h-1zm5 0h1v1h-1zm2 0h1v1h-1zm16 0h1v1h-1zm18 0h1v1h-1zm7 0h1v1h-1zm-101 1h1v1h-1zm15 0h1v1h-1zm4 0h1v1h-1zm23 0h1v1h-1zm8 0h1v1h-1zm39 0h1v1h-1zm9 0h1v1h-1zm7 0h1v1h-1z"/><path fill="#9dc3cd" d="M8 0h1v1h-1zm3 0h1v1h-1zm5 0h1v1h-1zm3 0h1v1h-1zm9 0h1v1h-1zm52 0h1v1h-1zm10 0h1v1h-1zm4 0h1v1h-1zm8 0h1v1h-1zm2 0h1v1h-1zm9 0h1v1h-1zm6 0h1v1h-1zm2 0h1v1h-1zm10 0h1v1h-1zm-114 1h1v1h-1zm11 0h1v1h-1zm22 0h1v1h-1zm19 0h1v1h-1zm46 0h1v1h-1zm1 0h1v1h-1zm3 0h1v1h-1zm6 0h1v1h-1zm1 0h1v1h-1zm7 0h1v1h-1zm-131 1h1v1h-1zm3 0h1v1h-1zm1 0h1v1h-1zm2 0h1v1h-1zm2 0h1v1h-1zm2 0h1v1h-1zm1 0h1v1h-1zm28 0h1v1h-1zm20 0h1v1h-1zm21 0h1v1h-1zm3 0h1v1h-1zm16 0h1v1h-1zm7 0h1v1h-1zm5 0h1v1h-1zm1 0h1v1h-1zm-113 1h1v1h-1zm20 0h1v1h-1zm16 0h1v1h-1zm6 0h1v1h-1zm10 0h1v1h-1zm4 0h1v1h-1zm6 0h1v1h-1zm8 0h1v1h-1zm21 0h1v1h-1zm5 0h1v1h-1zm8 0h1v1h-1zm9 0h1v1h-1zm10 0h1v1h-1zm5 0h1v1h-1zm5 0h1v1h-1zm-134 1h1v1h-1zm6 0h1v1h-1zm3 0h1v1h-1zm8 0h1v1h-1zm19 0h1v1h-1zm4 0h1v1h-1zm14 0h1v1h-1zm19 0h1v1h-1zm11 0h1v1h-1zm14 0h1v1h-1zm3 0h1v1h-1zm3 0h1v1h-1zm10 0h1v1h-1zm10 0h1v1h-1zm1 0h1v1h-1zm5 0h1v1h-1zm1 0h1v1h-1zm-126 1h1v1h-1zm12 0h1v1h-1zm2 0h1v1h-1zm2 0h1v1h-1zm12 0h1v1h-1zm3 0h1v1h-1zm25 0h1v1h-1zm44 0h1v1h-1zm1 0h1v1h-1zm5 0h1v1h-1zm20 0h1v1h-1zm-131 1h1v1h-1zm8 0h1v1h-1zm8 0h1v1h-1zm20 0h1v1h-1zm24 0h1v1h-1zm12 0h1v1h-1zm1 0h1v1h-1zm16 0h1v1h-1zm1 0h1v1h-1zm8 0h1v1h-1zm8 0h1v1h-1zm3 0h1v1h-1zm4 0h1v1h-1zm2 0h1v1h-1zm1 0h1v1h-1zm4 0h1v1h-1zm10 0h1v1h-1zm-129 1h1v1h-1zm8 0h1v1h-1zm10 0h1v1h-1zm5 0h1v1h-1zm6 0h1v1h-1zm6 0h1v1h-1zm3 0h1v1h-1zm1 0h1v1h-1zm1 0h1v1h-1zm5 0h1v1h-1zm15 0h1v1h-1zm12 0h1v1h-1zm12 0h1v1h-1zm11 0h1v1h-1zm14 0h1v1h-1zm15 0h1v1h-1zm1 0h1v1h-1zm6 0h1v1h-1zm-131 1h1v1h-1zm5 0h1v1h-1zm10 0h1v1h-1zm23 0h1v1h-1zm10 0h1v1h-1zm1 0h1v1h-1zm65 0h1v1h-1zm2 0h1v1h-1zm11 0h1v1h-1zm-121 1h1v1h-1zm7 0h1v1h-1zm10 0h1v1h-1zm5 0h1v1h-1zm41 0h1v1h-1zm4 0h1v1h-1zm16 0h1v1h-1zm1 0h1v1h-1zm4 0h1v1h-1zm2 0h1v1h-1zm17 0h1v1h-1zm15 0h1v1h-1zm-116 1h1v1h-1zm1 0h1v1h-1zm9 0h1v1h-1zm24 0h1v1h-1zm18 0h1v1h-1zm5 0h1v1h-1zm19 0h1v1h-1zm7 0h1v1h-1zm5 0h1v1h-1zm16 0h1v1h-1zm-114 1h1v1h-1zm3 0h1v1h-1zm12 0h1v1h-1zm5 0h1v1h-1zm1 0h1v1h-1zm44 0h1v1h-1zm21 0h1v1h-1zm22 0h1v1h-1zm8 0h1v1h-1zm4 0h1v1h-1zm-120 1h1v1h-1zm12 0h1v1h-1zm22 0h1v1h-1zm16 0h1v1h-1zm3 0h1v1h-1zm25 0h1v1h-1zm1 0h1v1h-1zm5 0h1v1h-1zm15 0h1v1h-1zm11 0h1v1h-1zm7 0h1v1h-1zm-92 1h1v1h-1zm46 0h1v1h-1zm31 0h1v1h-1zm15 0h1v1h-1zm-106 1h1v1h-1zm26 0h1v1h-1zm1 0h1v1h-1zm17 0h1v1h-1zm1 0h1v1h-1zm1 0h1v1h-1zm13 0h1v1h-1zm16 0h1v1h-1zm18 0h1v1h-1zm11 0h1v1h-1zm-104 1h1v1h-1zm9 0h1v1h-1zm2 0h1v1h-1zm4 0h1v1h-1zm20 0h1v1h-1zm4 0h1v1h-1zm24 0h1v1h-1zm12 0h1v1h-1zm1 0h1v1h-1zm4 0h1v1h-1zm10 0h1v1h-1zm5 0h1v1h-1zm14 0h1v1h-1zm1 0h1v1h-1zm-112 1h1v1h-1zm4 0h1v1h-1zm9 0h1v1h-1zm1 0h1v1h-1zm1 0h1v1h-1zm3 0h1v1h-1zm23 0h1v1h-1zm8 0h1v1h-1zm25 0h1v1h-1zm2 0h1v1h-1zm14 0h1v1h-1zm1 0h1v1h-1zm-92 2h1v1h-1zm52 0h1v1h-1zm31 0h1v1h-1zm16 0h1v1h-1zm10 0h1v1h-1zm5 0h1v1h-1zm5 0h1v1h-1zm-129 1h1v1h-1zm8 0h1v1h-1zm15 0h1v1h-1zm-21 1h1v1h-1zm1 0h1v1h-1zm13 0h1v1h-1zm1 0h1v1h-1zm11 0h1v1h-1zm3 0h1v1h-1zm2 0h1v1h-1zm5 0h1v1h-1zm5 0h1v1h-1zm7 0h1v1h-1zm33 0h1v1h-1zm7 0h1v1h-1zm1 0h1v1h-1zm7 0h1v1h-1zm4 0h1v1h-1zm3 0h1v1h-1zm6 0h1v1h-1zm2 0h1v1h-1zm2 0h1v1h-1zm12 0h1v1h-1zm-125 1h1v1h-1zm2 0h1v1h-1zm9 0h1v1h-1zm8 0h1v1h-1zm2 0h1v1h-1zm6 0h1v1h-1zm15 0h1v1h-1zm5 0h1v1h-1zm2 0h1v1h-1zm10 0h1v1h-1zm16 0h1v1h-1zm27 0h1v1h-1zm2 0h1v1h-1zm5 0h1v1h-1zm6 0h1v1h-1zm1 0h1v1h-1zm10 0h1v1h-1zm6 0h1v1h-1zm-120 1h1v1h-1zm17 0h1v1h-1zm51 0h1v1h-1zm5 0h1v1h-1zm4 0h1v1h-1zm4 0h1v1h-1zm5 0h1v1h-1zm23 0h1v1h-1zm10 0h1v1h-1zm-127 1h1v1h-1zm9 0h1v1h-1zm21 0h1v1h-1zm12 0h1v1h-1zm3 0h1v1h-1zm42 0h1v1h-1zm14 0h1v1h-1zm1 0h1v1h-1zm3 0h1v1h-1zm5 0h1v1h-1z"/><path fill="#abccd4" d="M9 0h1v1h-1zm4 0h1v1h-1zm2 0h1v1h-1zm9 0h1v1h-1zm5 0h1v1h-1zm19 0h1v1h-1zm23 0h1v1h-1zm21 0h1v1h-1zm5 0h1v1h-1zm4 0h1v1h-1zm10 0h1v1h-1zm11 0h1v1h-1zm4 0h1v1h-1zm7 0h1v1h-1zm-133 1h1v1h-1zm5 0h1v1h-1zm8 0h1v1h-1zm21 0h1v1h-1zm3 0h1v1h-1zm7 0h1v1h-1zm18 0h1v1h-1zm1 0h1v1h-1zm8 0h1v1h-1zm15 0h1v1h-1zm35 0h1v1h-1zm8 0h1v1h-1zm-114 1h1v1h-1zm17 0h1v1h-1zm14 0h1v1h-1zm13 0h1v1h-1zm14 0h1v1h-1zm1 0h1v1h-1zm3 0h1v1h-1zm1 0h1v1h-1zm8 0h1v1h-1zm10 0h1v1h-1zm15 0h1v1h-1zm5 0h1v1h-1zm9 0h1v1h-1zm1 0h1v1h-1zm-113 1h1v1h-1zm16 0h1v1h-1zm2 0h1v1h-1zm8 0h1v1h-1zm26 0h1v1h-1zm1 0h1v1h-1zm12 0h1v1h-1zm4 0h1v1h-1zm1 0h1v1h-1zm2 0h1v1h-1zm1 0h1v1h-1zm23 0h1v1h-1zm1 0h1v1h-1zm3 0h1v1h-1zm2 0h1v1h-1zm1 0h1v1h-1zm-104 1h1v1h-1zm31 0h1v1h-1zm19 0h1v1h-1zm48 0h1v1h-1zm2 0h1v1h-1zm1 0h1v1h-1zm4 0h1v1h-1zm4 0h1v1h-1zm-112 1h1v1h-1zm19 0h1v1h-1zm9 0h1v1h-1zm2 0h1v1h-1zm7 0h1v1h-1zm2 0h1v1h-1zm3 0h1v1h-1zm4 0h1v1h-1zm16 0h1v1h-1zm2 0h1v1h-1zm13 0h1v1h-1zm6 0h1v1h-1zm20 0h1v1h-1zm1 0h1v1h-1zm2 0h1v1h-1zm1 0h1v1h-1zm1 0h1v1h-1zm3 0h1v1h-1zm9 0h1v1h-1zm5 0h1v1h-1zm-130 1h1v1h-1zm6 0h1v1h-1zm11 0h1v1h-1zm17 0h1v1h-1zm1 0h1v1h-1zm9 0h1v1h-1zm4 0h1v1h-1zm13 0h1v1h-1zm6 0h1v1h-1zm3 0h1v1h-1zm20 0h1v1h-1zm18 0h1v1h-1zm-97 1h1v1h-1zm19 0h1v1h-1zm101 0h1v1h-1zm-127 1h1v1h-1zm13 0h1v1h-1zm5 0h1v1h-1zm1 0h1v1h-1zm2 0h1v1h-1zm8 0h1v1h-1zm4 0h1v1h-1zm2 0h1v1h-1zm5 0h1v1h-1zm4 0h1v1h-1zm9 0h1v1h-1zm2 0h1v1h-1zm10 0h1v1h-1zm17 0h1v1h-1zm4 0h1v1h-1zm30 0h1v1h-1zm1 0h1v1h-1zm4 0h1v1h-1zm1 0h1v1h-1zm3 0h1v1h-1zm-129 1h1v1h-1zm1 0h1v1h-1zm3 0h1v1h-1zm3 0h1v1h-1zm7 0h1v1h-1zm7 0h1v1h-1zm3 0h1v1h-1zm10 0h1v1h-1zm1 0h1v1h-1zm1 0h1v1h-1zm1 0h1v1h-1zm5 0h1v1h-1zm3 0h1v1h-1zm19 0h1v1h-1zm12 0h1v1h-1zm16 0h1v1h-1zm2 0h1v1h-1zm7 0h1v1h-1zm8 0h1v1h-1zm7 0h1v1h-1zm12 0h1v1h-1zm3 0h1v1h-1zm-133 1h1v1h-1zm4 0h1v1h-1zm1 0h1v1h-1zm1 0h1v1h-1zm4 0h1v1h-1zm3 0h1v1h-1zm10 0h1v1h-1zm1 0h1v1h-1zm3 0h1v1h-1zm6 0h1v1h-1zm5 0h1v1h-1zm3 0h1v1h-1zm10 0h1v1h-1zm6 0h1v1h-1zm3 0h1v1h-1zm1 0h1v1h-1zm3 0h1v1h-1zm8 0h1v1h-1zm1 0h1v1h-1zm11 0h1v1h-1zm8 0h1v1h-1zm4 0h1v1h-1zm1 0h1v1h-1zm8 0h1v1h-1zm7 0h1v1h-1zm1 0h1v1h-1zm3 0h1v1h-1zm4 0h1v1h-1zm3 0h1v1h-1zm-89 1h1v1h-1zm17 0h1v1h-1zm10 0h1v1h-1zm8 0h1v1h-1zm29 0h1v1h-1zm-96 1h1v1h-1zm3 0h1v1h-1zm17 0h1v1h-1zm8 0h1v1h-1zm4 0h1v1h-1zm4 0h1v1h-1zm4 0h1v1h-1zm20 0h1v1h-1zm27 0h1v1h-1zm10 0h1v1h-1zm6 0h1v1h-1zm4 0h1v1h-1zm4 0h1v1h-1zm4 0h1v1h-1zm11 0h1v1h-1zm3 0h1v1h-1zm1 0h1v1h-1zm-110 1h1v1h-1zm13 0h1v1h-1zm21 0h1v1h-1zm9 0h1v1h-1zm12 0h1v1h-1zm14 0h1v1h-1zm5 0h1v1h-1zm3 0h1v1h-1zm23 0h1v1h-1zm4 0h1v1h-1zm4 0h1v1h-1zm-130 1h1v1h-1zm16 0h1v1h-1zm11 0h1v1h-1zm2 0h1v1h-1zm11 0h1v1h-1zm26 0h1v1h-1zm3 0h1v1h-1zm8 0h1v1h-1zm5 0h1v1h-1zm14 0h1v1h-1zm4 0h1v1h-1zm2 0h1v1h-1zm8 0h1v1h-1zm9 0h1v1h-1zm-104 1h1v1h-1zm10 0h1v1h-1zm7 0h1v1h-1zm1 0h1v1h-1zm1 0h1v1h-1zm7 0h1v1h-1zm16 0h1v1h-1zm27 0h1v1h-1zm31 0h1v1h-1zm15 0h1v1h-1zm-132 1h1v1h-1zm22 0h1v1h-1zm13 0h1v1h-1zm19 0h1v1h-1zm33 0h1v1h-1zm4 0h1v1h-1zm3 0h1v1h-1zm2 0h1v1h-1zm11 0h1v1h-1zm15 0h1v1h-1zm7 0h1v1h-1zm3 0h1v1h-1zm-124 2h1v1h-1zm11 0h1v1h-1zm3 0h1v1h-1zm10 0h1v1h-1zm12 0h1v1h-1zm5 0h1v1h-1zm2 0h1v1h-1zm24 0h1v1h-1zm10 0h1v1h-1zm12 0h1v1h-1zm11 0h1v1h-1zm3 0h1v1h-1zm2 0h1v1h-1zm13 0h1v1h-1zm-124 1h1v1h-1zm24 0h1v1h-1zm10 0h1v1h-1zm18 0h1v1h-1zm2 0h1v1h-1zm30 0h1v1h-1zm22 0h1v1h-1zm25 0h1v1h-1zm-126 1h1v1h-1zm8 0h1v1h-1zm37 0h1v1h-1zm1 0h1v1h-1zm17 0h1v1h-1zm2 0h1v1h-1zm41 0h1v1h-1zm4 0h1v1h-1zm2 0h1v1h-1zm10 0h1v1h-1zm-122 1h1v1h-1zm8 0h1v1h-1zm10 0h1v1h-1zm1 0h1v1h-1zm1 0h1v1h-1zm9 0h1v1h-1zm2 0h1v1h-1zm2 0h1v1h-1zm9 0h1v1h-1zm26 0h1v1h-1zm22 0h1v1h-1zm-97 1h1v1h-1zm20 0h1v1h-1zm31 0h1v1h-1zm21 0h1v1h-1zm22 0h1v1h-1zm19 0h1v1h-1zm4 0h1v1h-1zm-117 1h1v1h-1zm22 0h1v1h-1zm45 0h1v1h-1zm2 0h1v1h-1zm14 0h1v1h-1zm18 0h1v1h-1zm19 0h1v1h-1zm3 0h1v1h-1z"/><path fill="#b9d4db" d="M3 0h1v1h-1zm4 0h1v1h-1zm10 0h1v1h-1zm21 0h1v1h-1zm7 0h1v1h-1zm5 0h1v1h-1zm2 0h1v1h-1zm13 0h1v1h-1zm24 0h1v1h-1zm7 0h1v1h-1zm2 0h1v1h-1zm7 0h1v1h-1zm9 0h1v1h-1zm1 0h1v1h-1zm20 0h1v1h-1zm-128 1h1v1h-1zm5 0h1v1h-1zm2 0h1v1h-1zm29 0h1v1h-1zm3 0h1v1h-1zm8 0h1v1h-1zm1 0h1v1h-1zm9 0h1v1h-1zm4 0h1v1h-1zm21 0h1v1h-1zm7 0h1v1h-1zm-85 1h1v1h-1zm34 0h1v1h-1zm2 0h1v1h-1zm17 0h1v1h-1zm6 0h1v1h-1zm19 0h1v1h-1zm9 0h1v1h-1zm9 0h1v1h-1zm5 0h1v1h-1zm9 0h1v1h-1zm8 0h1v1h-1zm-129 1h1v1h-1zm4 0h1v1h-1zm1 0h1v1h-1zm12 0h1v1h-1zm6 0h1v1h-1zm11 0h1v1h-1zm6 0h1v1h-1zm6 0h1v1h-1zm8 0h1v1h-1zm8 0h1v1h-1zm8 0h1v1h-1zm2 0h1v1h-1zm2 0h1v1h-1zm16 0h1v1h-1zm3 0h1v1h-1zm1 0h1v1h-1zm8 0h1v1h-1zm-87 1h1v1h-1zm1 0h1v1h-1zm9 0h1v1h-1zm12 0h1v1h-1zm12 0h1v1h-1zm9 0h1v1h-1zm7 0h1v1h-1zm4 0h1v1h-1zm5 0h1v1h-1zm2 0h1v1h-1zm6 0h1v1h-1zm6 0h1v1h-1zm18 0h1v1h-1zm27 0h1v1h-1zm-122 1h1v1h-1zm12 0h1v1h-1zm1 0h1v1h-1zm3 0h1v1h-1zm13 0h1v1h-1zm4 0h1v1h-1zm3 0h1v1h-1zm15 0h1v1h-1zm41 0h1v1h-1zm19 0h1v1h-1zm-93 1h1v1h-1zm14 0h1v1h-1zm7 0h1v1h-1zm16 0h1v1h-1zm16 0h1v1h-1zm5 0h1v1h-1zm15 0h1v1h-1zm3 0h1v1h-1zm5 0h1v1h-1zm-110 1h1v1h-1zm8 0h1v1h-1zm9 0h1v1h-1zm27 0h1v1h-1zm6 0h1v1h-1zm4 0h1v1h-1zm10 0h1v1h-1zm18 0h1v1h-1zm4 0h1v1h-1zm27 0h1v1h-1zm2 0h1v1h-1zm2 0h1v1h-1zm2 0h1v1h-1zm2 0h1v1h-1zm6 0h1v1h-1zm4 0h1v1h-1zm-121 1h1v1h-1zm18 0h1v1h-1zm2 0h1v1h-1zm42 0h1v1h-1zm20 0h1v1h-1zm5 0h1v1h-1zm26 0h1v1h-1zm4 0h1v1h-1zm-127 1h1v1h-1zm2 0h1v1h-1zm1 0h1v1h-1zm9 0h1v1h-1zm18 0h1v1h-1zm5 0h1v1h-1zm1 0h1v1h-1zm6 0h1v1h-1zm6 0h1v1h-1zm9 0h1v1h-1zm16 0h1v1h-1zm12 0h1v1h-1zm1 0h1v1h-1zm17 0h1v1h-1zm4 0h1v1h-1zm1 0h1v1h-1zm14 0h1v1h-1zm4 0h1v1h-1zm5 0h1v1h-1zm-122 1h1v1h-1zm21 0h1v1h-1zm2 0h1v1h-1zm2 0h1v1h-1zm17 0h1v1h-1zm26 0h1v1h-1zm2 0h1v1h-1zm5 0h1v1h-1zm3 0h1v1h-1zm6 0h1v1h-1zm11 0h1v1h-1zm4 0h1v1h-1zm3 0h1v1h-1zm13 0h1v1h-1zm4 0h1v1h-1zm1 0h1v1h-1zm5 0h1v1h-1zm-108 1h1v1h-1zm55 0h1v1h-1zm16 0h1v1h-1zm18 0h1v1h-1zm9 0h1v1h-1zm-116 1h1v1h-1zm1 0h1v1h-1zm5 0h1v1h-1zm5 0h1v1h-1zm1 0h1v1h-1zm27 0h1v1h-1zm5 0h1v1h-1zm8 0h1v1h-1zm3 0h1v1h-1zm31 0h1v1h-1zm14 0h1v1h-1zm10 0h1v1h-1zm3 0h1v1h-1zm-107 1h1v1h-1zm11 0h1v1h-1zm18 0h1v1h-1zm9 0h1v1h-1zm1 0h1v1h-1zm4 0h1v1h-1zm24 0h1v1h-1zm5 0h1v1h-1zm8 0h1v1h-1zm8 0h1v1h-1zm11 0h1v1h-1zm6 0h1v1h-1zm4 0h1v1h-1zm3 0h1v1h-1zm4 0h1v1h-1zm-100 1h1v1h-1zm8 0h1v1h-1zm14 0h1v1h-1zm3 0h1v1h-1zm8 0h1v1h-1zm36 0h1v1h-1zm27 0h1v1h-1zm2 0h1v1h-1zm5 0h1v1h-1zm-133 1h1v1h-1zm9 0h1v1h-1zm2 0h1v1h-1zm15 0h1v1h-1zm25 0h1v1h-1zm16 0h1v1h-1zm2 0h1v1h-1zm11 0h1v1h-1zm1 0h1v1h-1zm1 0h1v1h-1zm16 0h1v1h-1zm14 0h1v1h-1zm6 0h1v1h-1zm17 0h1v1h-1zm-134 1h1v1h-1zm58 0h1v1h-1zm30 0h1v1h-1zm22 0h1v1h-1zm2 0h1v1h-1zm1 0h1v1h-1zm1 0h1v1h-1zm6 0h1v1h-1zm-115 2h1v1h-1zm20 0h1v1h-1zm7 0h1v1h-1zm12 0h1v1h-1zm14 0h1v1h-1zm2 0h1v1h-1zm12 0h1v1h-1zm4 0h1v1h-1zm11 0h1v1h-1zm7 0h1v1h-1zm6 0h1v1h-1zm2 0h1v1h-1zm1 0h1v1h-1zm-71 1h1v1h-1zm1 0h1v1h-1zm10 0h1v1h-1zm4 0h1v1h-1zm1 0h1v1h-1zm28 0h1v1h-1zm3 0h1v1h-1zm14 0h1v1h-1zm1 0h1v1h-1zm26 0h1v1h-1zm6 0h1v1h-1zm-119 1h1v1h-1zm11 0h1v1h-1zm14 0h1v1h-1zm25 0h1v1h-1zm1 0h1v1h-1zm6 0h1v1h-1zm4 0h1v1h-1zm18 0h1v1h-1zm2 0h1v1h-1zm6 0h1v1h-1zm14 0h1v1h-1zm6 0h1v1h-1zm15 0h1v1h-1zm-110 1h1v1h-1zm21 0h1v1h-1zm13 0h1v1h-1zm9 0h1v1h-1zm10 0h1v1h-1zm10 0h1v1h-1zm15 0h1v1h-1zm5 0h1v1h-1zm1 0h1v1h-1zm-94 1h1v1h-1zm8 0h1v1h-1zm35 0h1v1h-1zm2 0h1v1h-1zm26 0h1v1h-1zm12 0h1v1h-1zm4 0h1v1h-1zm17 0h1v1h-1zm-104 1h1v1h-1zm4 0h1v1h-1zm47 0h1v1h-1zm3 0h1v1h-1zm17 0h1v1h-1zm10 0h1v1h-1zm6 0h1v1h-1zm3 0h1v1h-1zm7 0h1v1h-1zm24 0h1v1h-1z"/><path fill="#c7dde2" d="M4 0h1v1h-1zm21 0h1v1h-1zm2 0h1v1h-1zm5 0h1v1h-1zm7 0h1v1h-1zm2 0h1v1h-1zm10 0h1v1h-1zm15 0h1v1h-1zm2 0h1v1h-1zm5 0h1v1h-1zm1 0h1v1h-1zm11 0h1v1h-1zm23 0h1v1h-1zm4 0h1v1h-1zm12 0h1v1h-1zm-115 1h1v1h-1zm31 0h1v1h-1zm8 0h1v1h-1zm3 0h1v1h-1zm34 0h1v1h-1zm14 0h1v1h-1zm2 0h1v1h-1zm22 0h1v1h-1zm-119 1h1v1h-1zm21 0h1v1h-1zm23 0h1v1h-1zm21 0h1v1h-1zm37 0h1v1h-1zm11 0h1v1h-1zm10 0h1v1h-1zm-116 1h1v1h-1zm4 0h1v1h-1zm9 0h1v1h-1zm3 0h1v1h-1zm17 0h1v1h-1zm6 0h1v1h-1zm14 0h1v1h-1zm39 0h1v1h-1zm8 0h1v1h-1zm1 0h1v1h-1zm14 0h1v1h-1zm9 0h1v1h-1zm-124 1h1v1h-1zm16 0h1v1h-1zm5 0h1v1h-1zm9 0h1v1h-1zm3 0h1v1h-1zm7 0h1v1h-1zm17 0h1v1h-1zm25 0h1v1h-1zm2 0h1v1h-1zm12 0h1v1h-1zm12 0h1v1h-1zm-107 1h1v1h-1zm18 0h1v1h-1zm8 0h1v1h-1zm5 0h1v1h-1zm2 0h1v1h-1zm19 0h1v1h-1zm5 0h1v1h-1zm9 0h1v1h-1zm5 0h1v1h-1zm26 0h1v1h-1zm5 0h1v1h-1zm13 0h1v1h-1zm-124 1h1v1h-1zm8 0h1v1h-1zm13 0h1v1h-1zm10 0h1v1h-1zm11 0h1v1h-1zm16 0h1v1h-1zm25 0h1v1h-1zm6 0h1v1h-1zm9 0h1v1h-1zm3 0h1v1h-1zm-78 1h1v1h-1zm36 0h1v1h-1zm3 0h1v1h-1zm18 0h1v1h-1zm11 0h1v1h-1zm7 0h1v1h-1zm1 0h1v1h-1zm-58 1h1v1h-1zm7 0h1v1h-1zm13 0h1v1h-1zm5 0h1v1h-1zm5 0h1v1h-1zm33 0h1v1h-1zm12 0h1v1h-1zm1 0h1v1h-1zm-111 1h1v1h-1zm1 0h1v1h-1zm3 0h1v1h-1zm4 0h1v1h-1zm2 0h1v1h-1zm4 0h1v1h-1zm3 0h1v1h-1zm1 0h1v1h-1zm17 0h1v1h-1zm6 0h1v1h-1zm8 0h1v1h-1zm14 0h1v1h-1zm3 0h1v1h-1zm3 0h1v1h-1zm6 0h1v1h-1zm18 0h1v1h-1zm23 0h1v1h-1zm2 0h1v1h-1zm-127 1h1v1h-1zm3 0h1v1h-1zm17 0h1v1h-1zm2 0h1v1h-1zm2 0h1v1h-1zm3 0h1v1h-1zm1 0h1v1h-1zm20 0h1v1h-1zm13 0h1v1h-1zm30 0h1v1h-1zm4 0h1v1h-1zm2 0h1v1h-1zm13 0h1v1h-1zm2 0h1v1h-1zm14 0h1v1h-1zm-107 1h1v1h-1zm10 0h1v1h-1zm2 0h1v1h-1zm16 0h1v1h-1zm8 0h1v1h-1zm9 0h1v1h-1zm13 0h1v1h-1zm25 0h1v1h-1zm-96 1h1v1h-1zm6 0h1v1h-1zm5 0h1v1h-1zm12 0h1v1h-1zm1 0h1v1h-1zm1 0h1v1h-1zm3 0h1v1h-1zm4 0h1v1h-1zm7 0h1v1h-1zm16 0h1v1h-1zm5 0h1v1h-1zm8 0h1v1h-1zm3 0h1v1h-1zm50 0h1v1h-1zm-120 1h1v1h-1zm3 0h1v1h-1zm29 0h1v1h-1zm29 0h1v1h-1zm36 0h1v1h-1zm10 0h1v1h-1zm8 0h1v1h-1zm9 0h1v1h-1zm-122 1h1v1h-1zm14 0h1v1h-1zm2 0h1v1h-1zm32 0h1v1h-1zm25 0h1v1h-1zm14 0h1v1h-1zm-86 1h1v1h-1zm5 0h1v1h-1zm22 0h1v1h-1zm3 0h1v1h-1zm7 0h1v1h-1zm21 0h1v1h-1zm2 0h1v1h-1zm2 0h1v1h-1zm47 0h1v1h-1zm9 0h1v1h-1zm3 0h1v1h-1zm-107 1h1v1h-1zm25 0h1v1h-1zm67 0h1v1h-1zm1 0h1v1h-1zm-117 1h1v1h-1zm40 0h1v1h-1zm13 0h1v1h-1zm2 0h1v1h-1zm17 0h1v1h-1zm8 0h1v1h-1zm2 0h1v1h-1zm27 0h1v1h-1zm5 0h1v1h-1zm2 0h1v1h-1zm-109 1h1v1h-1zm9 0h1v1h-1zm8 0h1v1h-1zm4 0h1v1h-1zm28 0h1v1h-1zm9 0h1v1h-1zm15 0h1v1h-1zm1 0h1v1h-1zm6 0h1v1h-1zm13 0h1v1h-1zm15 0h1v1h-1zm-101 1h1v1h-1zm21 0h1v1h-1zm5 0h1v1h-1zm3 0h1v1h-1zm40 0h1v1h-1zm28 0h1v1h-1zm3 0h1v1h-1zm-100 1h1v1h-1zm7 0h1v1h-1zm4 0h1v1h-1zm1 0h1v1h-1zm9 0h1v1h-1zm6 0h1v1h-1zm2 0h1v1h-1zm13 0h1v1h-1zm4 0h1v1h-1zm11 0h1v1h-1zm4 0h1v1h-1zm13 0h1v1h-1zm13 0h1v1h-1zm1 0h1v1h-1zm23 0h1v1h-1zm-121 1h1v1h-1zm7 0h1v1h-1zm12 0h1v1h-1zm21 0h1v1h-1zm4 0h1v1h-1zm42 0h1v1h-1zm41 0h1v1h-1zm-127 1h1v1h-1zm3 0h1v1h-1zm27 0h1v1h-1zm7 0h1v1h-1zm9 0h1v1h-1zm21 0h1v1h-1zm28 0h1v1h-1zm22 0h1v1h-1zm8 0h1v1h-1zm3 0h1v1h-1zm-115 1h1v1h-1zm7 0h1v1h-1zm22 0h1v1h-1zm14 0h1v1h-1zm3 0h1v1h-1zm7 0h1v1h-1zm6 0h1v1h-1zm20 0h1v1h-1zm19 0h1v1h-1z"/><path fill="#d5e5ea" d="M18 0h1v1h-1zm37 0h1v1h-1zm6 0h1v1h-1zm15 0h1v1h-1zm3 0h1v1h-1zm2 0h1v1h-1zm12 0h1v1h-1zm30 0h1v1h-1zm-115 1h1v1h-1zm74 0h1v1h-1zm11 0h1v1h-1zm9 0h1v1h-1zm7 0h1v1h-1zm1 0h1v1h-1zm17 0h1v1h-1zm-106 1h1v1h-1zm1 0h1v1h-1zm15 0h1v1h-1zm30 0h1v1h-1zm4 0h1v1h-1zm1 0h1v1h-1zm4 0h1v1h-1zm3 0h1v1h-1zm15 0h1v1h-1zm8 0h1v1h-1zm7 0h1v1h-1zm10 0h1v1h-1zm-112 1h1v1h-1zm1 0h1v1h-1zm4 0h1v1h-1zm8 0h1v1h-1zm5 0h1v1h-1zm3 0h1v1h-1zm8 0h1v1h-1zm12 0h1v1h-1zm25 0h1v1h-1zm22 0h1v1h-1zm1 0h1v1h-1zm10 0h1v1h-1zm2 0h1v1h-1zm9 0h1v1h-1zm8 0h1v1h-1zm-105 1h1v1h-1zm1 0h1v1h-1zm27 0h1v1h-1zm7 0h1v1h-1zm5 0h1v1h-1zm6 0h1v1h-1zm20 0h1v1h-1zm3 0h1v1h-1zm7 0h1v1h-1zm31 0h1v1h-1zm-107 1h1v1h-1zm5 0h1v1h-1zm4 0h1v1h-1zm5 0h1v1h-1zm32 0h1v1h-1zm6 0h1v1h-1zm18 0h1v1h-1zm5 0h1v1h-1zm9 0h1v1h-1zm6 0h1v1h-1zm9 0h1v1h-1zm-101 1h1v1h-1zm14 0h1v1h-1zm9 0h1v1h-1zm8 0h1v1h-1zm2 0h1v1h-1zm27 0h1v1h-1zm36 0h1v1h-1zm-103 1h1v1h-1zm1 0h1v1h-1zm2 0h1v1h-1zm7 0h1v1h-1zm7 0h1v1h-1zm30 0h1v1h-1zm9 0h1v1h-1zm2 0h1v1h-1zm7 0h1v1h-1zm22 0h1v1h-1zm14 0h1v1h-1zm4 0h1v1h-1zm-91 1h1v1h-1zm37 0h1v1h-1zm25 0h1v1h-1zm25 0h1v1h-1zm4 0h1v1h-1zm2 0h1v1h-1zm-84 1h1v1h-1zm11 0h1v1h-1zm2 0h1v1h-1zm7 0h1v1h-1zm1 0h1v1h-1zm5 0h1v1h-1zm1 0h1v1h-1zm1 0h1v1h-1zm3 0h1v1h-1zm4 0h1v1h-1zm7 0h1v1h-1zm1 0h1v1h-1zm16 0h1v1h-1zm8 0h1v1h-1zm18 0h1v1h-1zm-109 1h1v1h-1zm23 0h1v1h-1zm6 0h1v1h-1zm2 0h1v1h-1zm9 0h1v1h-1zm4 0h1v1h-1zm3 0h1v1h-1zm3 0h1v1h-1zm4 0h1v1h-1zm3 0h1v1h-1zm1 0h1v1h-1zm38 0h1v1h-1zm17 0h1v1h-1zm-116 1h1v1h-1zm1 0h1v1h-1zm12 0h1v1h-1zm13 0h1v1h-1zm7 0h1v1h-1zm9 0h1v1h-1zm2 0h1v1h-1zm32 0h1v1h-1zm35 0h1v1h-1zm2 0h1v1h-1zm-120 1h1v1h-1zm2 0h1v1h-1zm47 0h1v1h-1zm2 0h1v1h-1zm37 0h1v1h-1zm9 0h1v1h-1zm15 0h1v1h-1zm12 0h1v1h-1zm4 0h1v1h-1zm-102 1h1v1h-1zm7 0h1v1h-1zm16 0h1v1h-1zm17 0h1v1h-1zm24 0h1v1h-1zm-83 1h1v1h-1zm28 0h1v1h-1zm2 0h1v1h-1zm11 0h1v1h-1zm32 0h1v1h-1zm23 0h1v1h-1zm6 0h1v1h-1zm16 0h1v1h-1zm-109 1h1v1h-1zm50 0h1v1h-1zm10 0h1v1h-1zm32 0h1v1h-1zm-104 1h1v1h-1zm7 0h1v1h-1zm3 0h1v1h-1zm-11 1h1v1h-1zm4 0h1v1h-1zm2 0h1v1h-1zm13 0h1v1h-1zm2 0h1v1h-1zm12 0h1v1h-1zm2 0h1v1h-1zm6 0h1v1h-1zm14 0h1v1h-1zm4 0h1v1h-1zm1 0h1v1h-1zm1 0h1v1h-1zm9 0h1v1h-1zm4 0h1v1h-1zm2 0h1v1h-1zm7 0h1v1h-1zm14 0h1v1h-1zm2 0h1v1h-1zm5 0h1v1h-1zm6 0h1v1h-1zm2 0h1v1h-1zm5 0h1v1h-1zm2 0h1v1h-1zm1 0h1v1h-1zm1 0h1v1h-1zm4 0h1v1h-1zm3 0h1v1h-1zm-126 1h1v1h-1zm33 0h1v1h-1zm68 0h1v1h-1zm10 0h1v1h-1zm18 0h1v1h-1zm-130 1h1v1h-1zm1 0h1v1h-1zm17 0h1v1h-1zm1 0h1v1h-1zm16 0h1v1h-1zm8 0h1v1h-1zm5 0h1v1h-1zm15 0h1v1h-1zm8 0h1v1h-1zm29 0h1v1h-1zm14 0h1v1h-1zm17 0h1v1h-1zm-125 1h1v1h-1zm1 0h1v1h-1zm1 0h1v1h-1zm1 0h1v1h-1zm7 0h1v1h-1zm42 0h1v1h-1zm48 0h1v1h-1zm22 0h1v1h-1zm-131 1h1v1h-1zm9 0h1v1h-1zm9 0h1v1h-1zm32 0h1v1h-1zm2 0h1v1h-1zm3 0h1v1h-1zm15 0h1v1h-1zm3 0h1v1h-1zm3 0h1v1h-1zm14 0h1v1h-1zm1 0h1v1h-1zm1 0h1v1h-1zm22 0h1v1h-1zm8 0h1v1h-1zm-122 1h1v1h-1zm24 0h1v1h-1zm29 0h1v1h-1zm31 0h1v1h-1zm15 0h1v1h-1zm18 0h1v1h-1zm2 0h1v1h-1zm-102 1h1v1h-1zm25 0h1v1h-1zm7 0h1v1h-1zm27 0h1v1h-1zm39 0h1v1h-1zm19 0h1v1h-1z"/><path fill="#e3eef1" d="M14 0h1v1h-1zm73 0h1v1h-1zm16 0h1v1h-1zm3 0h1v1h-1zm3 0h1v1h-1zm23 0h1v1h-1zm-122 1h1v1h-1zm22 0h1v1h-1zm15 0h1v1h-1zm31 0h1v1h-1zm5 0h1v1h-1zm17 0h1v1h-1zm-100 1h1v1h-1zm17 0h1v1h-1zm32 0h1v1h-1zm1 0h1v1h-1zm1 0h1v1h-1zm9 0h1v1h-1zm35 0h1v1h-1zm-86 1h1v1h-1zm5 0h1v1h-1zm12 0h1v1h-1zm4 0h1v1h-1zm46 0h1v1h-1zm3 0h1v1h-1zm39 0h1v1h-1zm5 0h1v1h-1zm-116 1h1v1h-1zm3 0h1v1h-1zm8 0h1v1h-1zm12 0h1v1h-1zm20 0h1v1h-1zm13 0h1v1h-1zm20 0h1v1h-1zm40 0h1v1h-1zm-122 1h1v1h-1zm3 0h1v1h-1zm6 0h1v1h-1zm3 0h1v1h-1zm1 0h1v1h-1zm46 0h1v1h-1zm25 0h1v1h-1zm4 0h1v1h-1zm18 0h1v1h-1zm-102 1h1v1h-1zm10 0h1v1h-1zm5 0h1v1h-1zm50 0h1v1h-1zm21 0h1v1h-1zm26 0h1v1h-1zm10 0h1v1h-1zm-120 1h1v1h-1zm20 0h1v1h-1zm25 0h1v1h-1zm18 0h1v1h-1zm22 0h1v1h-1zm8 0h1v1h-1zm5 0h1v1h-1zm13 0h1v1h-1zm-111 1h1v1h-1zm2 0h1v1h-1zm9 0h1v1h-1zm24 0h1v1h-1zm36 0h1v1h-1zm6 0h1v1h-1zm9 0h1v1h-1zm7 0h1v1h-1zm2 0h1v1h-1zm6 0h1v1h-1zm6 0h1v1h-1zm-99 1h1v1h-1zm5 0h1v1h-1zm1 0h1v1h-1zm30 0h1v1h-1zm49 0h1v1h-1zm11 0h1v1h-1zm6 0h1v1h-1zm17 0h1v1h-1zm-97 1h1v1h-1zm5 0h1v1h-1zm10 0h1v1h-1zm20 0h1v1h-1zm8 0h1v1h-1zm3 0h1v1h-1zm9 0h1v1h-1zm10 0h1v1h-1zm17 0h1v1h-1zm13 0h1v1h-1zm1 0h1v1h-1zm-132 1h1v1h-1zm21 0h1v1h-1zm15 0h1v1h-1zm5 0h1v1h-1zm16 0h1v1h-1zm11 0h1v1h-1zm21 0h1v1h-1zm17 0h1v1h-1zm25 0h1v1h-1zm-119 1h1v1h-1zm9 0h1v1h-1zm4 0h1v1h-1zm13 0h1v1h-1zm33 0h1v1h-1zm13 0h1v1h-1zm40 0h1v1h-1zm-120 1h1v1h-1zm13 0h1v1h-1zm28 0h1v1h-1zm2 0h1v1h-1zm29 0h1v1h-1zm10 0h1v1h-1zm1 0h1v1h-1zm3 0h1v1h-1zm5 0h1v1h-1zm20 0h1v1h-1zm-108 1h1v1h-1zm45 0h1v1h-1zm25 0h1v1h-1zm15 0h1v1h-1zm24 0h1v1h-1zm7 0h1v1h-1zm-112 1h1v1h-1zm67 0h1v1h-1zm-62 1h1v1h-1zm1 0h1v1h-1zm1 0h1v1h-1zm13 0h1v1h-1zm16 0h1v1h-1zm10 0h1v1h-1zm12 0h1v1h-1zm23 0h1v1h-1zm6 0h1v1h-1zm13 0h1v1h-1zm-111 1h1v1h-1zm3 0h1v1h-1zm4 0h1v1h-1zm2 0h1v1h-1zm5 0h1v1h-1zm1 0h1v1h-1zm5 0h1v1h-1zm7 0h1v1h-1zm1 0h1v1h-1zm1 0h1v1h-1zm2 0h1v1h-1zm10 0h1v1h-1zm3 0h1v1h-1zm1 0h1v1h-1zm2 0h1v1h-1zm4 0h1v1h-1zm4 0h1v1h-1zm4 0h1v1h-1zm5 0h1v1h-1zm1 0h1v1h-1zm2 0h1v1h-1zm2 0h1v1h-1zm1 0h1v1h-1zm3 0h1v1h-1zm4 0h1v1h-1zm5 0h1v1h-1zm2 0h1v1h-1zm5 0h1v1h-1zm3 0h1v1h-1zm13 0h1v1h-1zm4 0h1v1h-1zm2 0h1v1h-1zm13 0h1v1h-1zm7 0h1v1h-1zm1 0h1v1h-1zm-108 1h1v1h-1zm6 0h1v1h-1zm9 0h1v1h-1zm30 0h1v1h-1zm42 0h1v1h-1zm2 0h1v1h-1zm5 0h1v1h-1zm-116 1h1v1h-1zm5 0h1v1h-1zm19 0h1v1h-1zm10 0h1v1h-1zm4 0h1v1h-1zm14 0h1v1h-1zm4 0h1v1h-1zm28 0h1v1h-1zm10 0h1v1h-1zm13 0h1v1h-1zm14 0h1v1h-1zm-119 1h1v1h-1zm11 0h1v1h-1zm34 0h1v1h-1zm7 0h1v1h-1zm22 0h1v1h-1zm6 0h1v1h-1zm23 0h1v1h-1zm12 0h1v1h-1zm1 0h1v1h-1zm1 0h1v1h-1zm-122 1h1v1h-1zm31 0h1v1h-1zm63 0h1v1h-1zm-89 1h1v1h-1zm63 0h1v1h-1zm-33 1h1v1h-1zm3 0h1v1h-1zm18 0h1v1h-1zm9 0h1v1h-1zm15 0h1v1h-1zm2 0h1v1h-1zm8 0h1v1h-1zm16 0h1v1h-1zm5 0h1v1h-1z"/><path fill="#f1f6f8" d="M26 0h1v1h-1zm34 0h1v1h-1zm2 0h1v1h-1zm33 0h1v1h-1zm-70 1h1v1h-1zm1 0h1v1h-1zm41 0h1v1h-1zm24 0h1v1h-1zm13 0h1v1h-1zm-38 1h1v1h-1zm-34 1h1v1h-1zm15 0h1v1h-1zm8 0h1v1h-1zm12 0h1v1h-1zm10 0h1v1h-1zm4 0h1v1h-1zm6 0h1v1h-1zm-42 1h1v1h-1zm47 0h1v1h-1zm10 0h1v1h-1zm-102 1h1v1h-1zm26 0h1v1h-1zm28 0h1v1h-1zm11 0h1v1h-1zm26 0h1v1h-1zm2 0h1v1h-1zm3 0h1v1h-1zm36 0h1v1h-1zm-102 1h1v1h-1zm7 0h1v1h-1zm30 0h1v1h-1zm18 0h1v1h-1zm11 0h1v1h-1zm22 0h1v1h-1zm-46 1h1v1h-1zm17 0h1v1h-1zm-84 1h1v1h-1zm7 0h1v1h-1zm42 0h1v1h-1zm22 0h1v1h-1zm5 0h1v1h-1zm20 0h1v1h-1zm-69 1h1v1h-1zm31 0h1v1h-1zm52 0h1v1h-1zm-111 1h1v1h-1zm1 0h1v1h-1zm11 0h1v1h-1zm1 0h1v1h-1zm1 0h1v1h-1zm40 0h1v1h-1zm11 0h1v1h-1zm7 0h1v1h-1zm14 0h1v1h-1zm31 0h1v1h-1zm6 0h1v1h-1zm-99 1h1v1h-1zm15 0h1v1h-1zm3 0h1v1h-1zm32 0h1v1h-1zm25 0h1v1h-1zm24 0h1v1h-1zm-73 1h1v1h-1zm14 0h1v1h-1zm11 0h1v1h-1zm11 0h1v1h-1zm8 0h1v1h-1zm24 0h1v1h-1zm-88 1h1v1h-1zm39 0h1v1h-1zm-67 1h1v1h-1zm4 0h1v1h-1zm12 0h1v1h-1zm12 0h1v1h-1zm17 0h1v1h-1zm35 0h1v1h-1zm5 0h1v1h-1zm1 0h1v1h-1zm16 0h1v1h-1zm-107 1h1v1h-1zm2 0h1v1h-1zm25 0h1v1h-1zm16 0h1v1h-1zm51 0h1v1h-1zm1 0h1v1h-1zm1 0h1v1h-1zm3 0h1v1h-1zm11 0h1v1h-1zm15 0h1v1h-1zm8 0h1v1h-1zm-89 1h1v1h-1zm18 0h1v1h-1zm4 0h1v1h-1zm23 0h1v1h-1zm20 0h1v1h-1zm9 0h1v1h-1zm11 0h1v1h-1zm4 0h1v1h-1zm-132 1h1v1h-1zm12 0h1v1h-1zm6 0h1v1h-1zm6 0h1v1h-1zm1 0h1v1h-1zm4 0h1v1h-1zm16 0h1v1h-1zm2 0h1v1h-1zm5 0h1v1h-1zm5 0h1v1h-1zm17 0h1v1h-1zm5 0h1v1h-1zm3 0h1v1h-1zm10 0h1v1h-1zm1 0h1v1h-1zm2 0h1v1h-1zm1 0h1v1h-1zm3 0h1v1h-1zm2 0h1v1h-1zm2 0h1v1h-1zm3 0h1v1h-1zm9 0h1v1h-1zm1 0h1v1h-1zm9 0h1v1h-1zm3 0h1v1h-1zm5 0h1v1h-1zm-134 1h1v1h-1zm34 0h1v1h-1zm2 0h1v1h-1zm11 0h1v1h-1zm5 0h1v1h-1zm2 0h1v1h-1zm37 0h1v1h-1zm-74 1h1v1h-1zm7 0h1v1h-1zm47 0h1v1h-1zm16 0h1v1h-1zm13 0h1v1h-1zm19 0h1v1h-1zm5 0h1v1h-1zm-102 1h1v1h-1zm24 0h1v1h-1zm14 0h1v1h-1zm22 0h1v1h-1zm-48 1h1v1h-1zm4 0h1v1h-1zm26 0h1v1h-1zm14 0h1v1h-1zm53 0h1v1h-1zm-92 1h1v1h-1zm16 0h1v1h-1zm1 0h1v1h-1zm4 0h1v1h-1zm13 0h1v1h-1zm10 0h1v1h-1zm51 0h1v1h-1zm-127 1h1v1h-1zm77 0h1v1h-1z"/><path fill="#ffffff" d="M37 0h1v1h-1zm35 0h1v1h-1zm27 0h1v1h-1zm-34 1h1v1h-1zm5 0h1v1h-1zm9 0h1v1h-1zm35 0h1v1h-1zm-113 1h1v1h-1zm17 0h1v1h-1zm10 0h1v1h-1zm16 0h1v1h-1zm24 0h1v1h-1zm36 0h1v1h-1zm-55 1h1v1h-1zm39 0h1v1h-1zm19 0h1v1h-1zm14 0h1v1h-1zm-113 1h1v1h-1zm6 0h1v1h-1zm20 0h1v1h-1zm12 0h1v1h-1zm39 0h1v1h-1zm23 0h1v1h-1zm1 0h1v1h-1zm-106 1h1v1h-1zm64 0h1v1h-1zm3 0h1v1h-1zm17 0h1v1h-1zm12 0h1v1h-1zm19 0h1v1h-1zm3 0h1v1h-1zm-107 1h1v1h-1zm118 0h1v1h-1zm1 0h1v1h-1zm-123 1h1v1h-1zm13 0h1v1h-1zm22 0h1v1h-1zm2 0h1v1h-1zm-23 1h1v1h-1zm21 0h1v1h-1zm34 0h1v1h-1zm-63 1h1v1h-1zm76 0h1v1h-1zm-43 1h1v1h-1zm82 0h1v1h-1zm-131 1h1v1h-1zm2 0h1v1h-1zm94 0h1v1h-1zm5 0h1v1h-1zm5 0h1v1h-1zm10 1h1v1h-1zm1 0h1v1h-1zm-115 1h1v1h-1zm2 0h1v1h-1zm19 0h1v1h-1zm22 0h1v1h-1zm14 0h1v1h-1zm33 0h1v1h-1zm17 0h1v1h-1zm-105 1h1v1h-1zm11 0h1v1h-1zm34 0h1v1h-1zm23 0h1v1h-1zm5 0h1v1h-1zm29 0h1v1h-1zm16 0h1v1h-1zm-118 1h1v1h-1zm16 0h1v1h-1zm37 0h1v1h-1zm27 0h1v1h-1zm1 0h1v1h-1zm21 0h1v1h-1zm14 0h1v1h-1zm-117 1h1v1h-1zm4 0h1v1h-1zm98 0h1v1h-1zm3 0h1v1h-1zm-97 1h1v1h-1zm6 0h1v1h-1zm6 0h1v1h-1zm10 0h1v1h-1zm10 0h1v1h-1zm7 0h1v1h-1zm7 0h1v1h-1zm18 0h1v1h-1zm16 0h1v1h-1zm8 0h1v1h-1zm12 0h1v1h-1zm23 0h1v1h-1zm-131 1h1v1h-1zm10 0h1v1h-1zm10 0h1v1h-1zm27 0h1v1h-1zm26 0h1v1h-1zm10 0h1v1h-1zm32 0h1v1h-1zm-108 1h1v1h-1zm6 0h1v1h-1zm87 0h1v1h-1zm-76 1h1v1h-1zm1 0h1v1h-1zm54 0h1v1h-1zm16 0h1v1h-1zm29 0h1v1h-1zm-93 1h1v1h-1zm32 0h1v1h-1zm34 0h1v1h-1zm6 0h1v1h-1zm20 0h1v1h-1zm-118 1h1v1h-1zm4 0h1v1h-1zm2 0h1v1h-1zm7 0h1v1h-1zm18 0h1v1h-1zm5 0h1v1h-1zm19 0h1v1h-1zm6 0h1v1h-1zm33 0h1v1h-1zm24 0h1v1h-1zm-105 1h1v1h-1zm26 0h1v1h-1zm28 0h1v1h-1zm14 0h1v1h-1zm16 0h1v1h-1zm25 0h1v1h-1z"/><path fill="#fcf5ef" d="M30 0h1v1h-1zm19 0h1v1h-1zm7 0h1v1h-1zm8 0h1v1h-1zm5 0h1v1h-1zm-46 1h1v1h-1zm7 0h1v1h-1zm36 0h1v1h-1zm10 0h1v1h-1zm12 0h1v1h-1zm32 0h1v1h-1zm-100 1h1v1h-1zm34 0h1v1h-1zm8 0h1v1h-1zm30 0h1v1h-1zm8 0h1v1h-1zm23 0h1v1h-1zm-67 1h1v1h-1zm64 0h1v1h-1zm-117 1h1v1h-1zm84 0h1v1h-1zm7 0h1v1h-1zm22 0h1v1h-1zm-109 1h1v1h-1zm8 0h1v1h-1zm3 0h1v1h-1zm40 0h1v1h-1zm5 0h1v1h-1zm5 0h1v1h-1zm30 0h1v1h-1zm2 0h1v1h-1zm-83 1h1v1h-1zm8 0h1v1h-1zm33 0h1v1h-1zm6 0h1v1h-1zm35 0h1v1h-1zm22 0h1v1h-1zm-99 1h1v1h-1zm84 0h1v1h-1zm-86 1h1v1h-1zm66 0h1v1h-1zm-20 1h1v1h-1zm-45 1h1v1h-1zm-10 1h1v1h-1zm56 0h1v1h-1zm26 0h1v1h-1zm38 0h1v1h-1zm-121 1h1v1h-1zm8 0h1v1h-1zm40 0h1v1h-1zm12 0h1v1h-1zm16 0h1v1h-1zm6 0h1v1h-1zm31 0h1v1h-1zm8 0h1v1h-1zm-101 1h1v1h-1zm11 0h1v1h-1zm1 0h1v1h-1zm14 0h1v1h-1zm8 0h1v1h-1zm-64 1h1v1h-1zm17 0h1v1h-1zm10 0h1v1h-1zm38 0h1v1h-1zm35 0h1v1h-1zm-76 1h1v1h-1zm86 0h1v1h-1zm15 0h1v1h-1zm-119 1h1v1h-1zm7 0h1v1h-1zm10 0h1v1h-1zm14 0h1v1h-1zm36 0h1v1h-1zm3 0h1v1h-1zm8 0h1v1h-1zm1 0h1v1h-1zm-80 1h1v1h-1zm7 0h1v1h-1zm7 0h1v1h-1zm6 0h1v1h-1zm14 0h1v1h-1zm12 0h1v1h-1zm45 0h1v1h-1zm8 0h1v1h-1zm-32 1h1v1h-1zm35 0h1v1h-1zm-94 1h1v1h-1zm6 0h1v1h-1zm19 0h1v1h-1zm7 0h1v1h-1zm53 0h1v1h-1zm19 0h1v1h-1zm-115 1h1v1h-1zm22 0h1v1h-1zm83 0h1v1h-1zm16 0h1v1h-1zm-59 1h1v1h-1zm12 0h1v1h-1zm34 0h1v1h-1zm10 0h1v1h-1zm-61 1h1v1h-1zm32 0h1v1h-1zm28 0h1v1h-1zm8 0h1v1h-1zm-121 1h1v1h-1zm34 0h1v1h-1zm62 0h1v1h-1zm2 0h1v1h-1zm15 0h1v1h-1z"/><path fill="#f9eadf" d="M23 0h1v1h-1zm11 0h1v1h-1zm20 0h1v1h-1zm4 0h1v1h-1zm12 0h1v1h-1zm48 0h1v1h-1zm-80 1h1v1h-1zm20 0h1v1h-1zm34 0h1v1h-1zm42 0h1v1h-1zm-116 2h1v1h-1zm40 0h1v1h-1zm31 0h1v1h-1zm44 0h1v1h-1zm-55 1h1v1h-1zm3 0h1v1h-1zm-59 1h1v1h-1zm60 0h1v1h-1zm-28 1h1v1h-1zm26 0h1v1h-1zm15 0h1v1h-1zm9 1h1v1h-1zm-89 1h1v1h-1zm8 0h1v1h-1zm37 0h1v1h-1zm8 0h1v1h-1zm-53 3h1v1h-1zm94 0h1v1h-1zm-93 1h1v1h-1zm17 0h1v1h-1zm73 0h1v1h-1zm-95 1h1v1h-1zm29 0h1v1h-1zm59 0h1v1h-1zm12 0h1v1h-1zm-98 1h1v1h-1zm20 1h1v1h-1zm17 0h1v1h-1zm8 0h1v1h-1zm5 0h1v1h-1zm38 0h1v1h-1zm-68 1h1v1h-1zm31 0h1v1h-1zm7 0h1v1h-1zm6 0h1v1h-1zm2 0h1v1h-1zm-45 1h1v1h-1zm27 0h1v1h-1zm27 0h1v1h-1zm33 0h1v1h-1zm-103 1h1v1h-1zm11 0h1v1h-1zm13 0h1v1h-1zm12 0h1v1h-1zm3 0h1v1h-1zm10 0h1v1h-1zm4 0h1v1h-1zm35 1h1v1h-1zm9 0h1v1h-1zm7 0h1v1h-1zm-116 1h1v1h-1zm39 0h1v1h-1zm-36 1h1v1h-1zm46 0h1v1h-1zm6 0h1v1h-1zm-59 1h1v1h-1zm22 0h1v1h-1zm40 0h1v1h-1zm9 0h1v1h-1zm6 0h1v1h-1zm30 0h1v1h-1zm19 0h1v1h-1zm-109 1h1v1h-1zm35 0h1v1h-1zm5 0h1v1h-1zm29 0h1v1h-1zm10 0h1v1h-1z"/><path fill="#f6e0ce" d="M10 0h1v1h-1zm37 0h1v1h-1zm20 0h1v1h-1zm15 0h1v1h-1zm-71 1h1v1h-1zm28 0h1v1h-1zm78 0h1v1h-1zm-103 1h1v1h-1zm73 0h1v1h-1zm35 0h1v1h-1zm-23 1h1v1h-1zm-95 1h1v1h-1zm43 0h1v1h-1zm17 0h1v1h-1zm6 0h1v1h-1zm9 0h1v1h-1zm53 0h1v1h-1zm-100 1h1v1h-1zm17 0h1v1h-1zm27 1h1v1h-1zm-39 1h1v1h-1zm51 0h1v1h-1zm-66 1h1v1h-1zm48 0h1v1h-1zm13 0h1v1h-1zm16 0h1v1h-1zm-67 3h1v1h-1zm10 1h1v1h-1zm51 0h1v1h-1zm6 0h1v1h-1zm6 0h1v1h-1zm27 0h1v1h-1zm-132 1h1v1h-1zm15 0h1v1h-1zm103 0h1v1h-1zm-92 1h1v1h-1zm103 0h1v1h-1zm-110 1h1v1h-1zm20 0h1v1h-1zm3 0h1v1h-1zm72 0h1v1h-1zm-67 1h1v1h-1zm-41 1h1v1h-1zm113 0h1v1h-1zm-110 1h1v1h-1zm18 0h1v1h-1zm62 0h1v1h-1zm10 0h1v1h-1zm3 0h1v1h-1zm-73 1h1v1h-1zm45 0h1v1h-1zm18 0h1v1h-1zm10 0h1v1h-1zm21 0h1v1h-1zm8 0h1v1h-1zm-109 1h1v1h-1zm32 0h1v1h-1zm24 0h1v1h-1zm-72 1h1v1h-1zm11 0h1v1h-1zm42 0h1v1h-1zm22 0h1v1h-1zm3 0h1v1h-1zm1 0h1v1h-1zm10 0h1v1h-1zm19 0h1v1h-1zm-101 1h1v1h-1zm34 0h1v1h-1zm30 0h1v1h-1zm9 0h1v1h-1zm18 0h1v1h-1zm-103 1h1v1h-1zm14 0h1v1h-1zm11 0h1v1h-1zm1 0h1v1h-1zm87 0h1v1h-1z"/><path fill="#f2d5be" d="M22 0h1v1h-1zm78 0h1v1h-1zm-96 1h1v1h-1zm109 0h1v1h-1zm-104 1h1v1h-1zm34 0h1v1h-1zm-33 1h1v1h-1zm50 0h1v1h-1zm58 1h1v1h-1zm-37 1h1v1h-1zm-63 2h1v1h-1zm7 0h1v1h-1zm24 0h1v1h-1zm39 1h1v1h-1zm-6 3h1v1h-1zm10 0h1v1h-1zm6 0h1v1h-1zm-97 1h1v1h-1zm45 0h1v1h-1zm16 0h1v1h-1zm14 0h1v1h-1zm-44 1h1v1h-1zm6 0h1v1h-1zm-10 1h1v1h-1zm5 0h1v1h-1zm29 0h1v1h-1zm12 0h1v1h-1zm-44 1h1v1h-1zm103 0h1v1h-1zm-99 1h1v1h-1zm7 1h1v1h-1zm26 0h1v1h-1zm20 0h1v1h-1zm5 0h1v1h-1zm-32 1h1v1h-1zm31 0h1v1h-1zm33 0h1v1h-1zm11 0h1v1h-1zm-107 1h1v1h-1zm29 0h1v1h-1zm3 0h1v1h-1zm45 0h1v1h-1zm-28 1h1v1h-1zm17 0h1v1h-1zm-42 2h1v1h-1zm38 0h1v1h-1zm20 0h1v1h-1zm5 0h1v1h-1zm18 0h1v1h-1zm-121 1h1v1h-1zm91 0h1v1h-1zm23 0h1v1h-1zm2 0h1v1h-1z"/><path fill="#efcbae" d="M87 1h1v1h-1zm-57 1h1v1h-1zm51 0h1v1h-1zm18 0h1v1h-1zm34 0h1v1h-1zm-65 1h1v1h-1zm-12 1h1v1h-1zm70 0h1v1h-1zm-70 1h1v1h-1zm45 0h1v1h-1zm22 1h1v1h-1zm-28 2h1v1h-1zm11 0h1v1h-1zm26 0h1v1h-1zm-32 2h1v1h-1zm-83 1h1v1h-1zm40 1h1v1h-1zm-54 1h1v1h-1zm67 1h1v1h-1zm45 0h1v1h-1zm6 1h1v1h-1zm8 0h1v1h-1zm-49 1h1v1h-1zm40 0h1v1h-1zm3 0h1v1h-1zm-88 1h1v1h-1zm33 1h1v1h-1zm14 0h1v1h-1zm-50 3h1v1h-1zm96 0h1v1h-1zm5 0h1v1h-1zm-63 1h1v1h-1zm46 0h1v1h-1zm15 0h1v1h-1zm-39 1h1v1h-1zm29 0h1v1h-1z"/><path fill="#ecc09e" d="M44 0h1v1h-1zm47 0h1v1h-1zm-57 2h1v1h-1zm-12 1h1v1h-1zm81 1h1v1h-1zm19 0h1v1h-1zm11 1h1v1h-1zm-126 1h1v1h-1zm72 0h1v1h-1zm-75 1h1v1h-1zm43 1h1v1h-1zm42 0h1v1h-1zm15 0h1v1h-1zm25 3h1v1h-1zm1 0h1v1h-1zm-4 1h1v1h-1zm-95 1h1v1h-1zm16 0h1v1h-1zm3 0h1v1h-1zm1 0h1v1h-1zm59 0h1v1h-1zm-71 1h1v1h-1zm21 2h1v1h-1zm21 0h1v1h-1zm47 0h1v1h-1zm-110 1h1v1h-1zm48 1h1v1h-1zm3 0h1v1h-1zm-16 1h1v1h-1zm36 0h1v1h-1zm-52 1h1v1h-1zm36 0h1v1h-1zm-15 1h1v1h-1zm38 0h1v1h-1zm3 0h1v1h-1zm2 0h1v1h-1zm26 0h1v1h-1zm-67 1h1v1h-1zm-40 1h1v1h-1zm52 0h1v1h-1z"/><path fill="#e9b68e" d="M83 0h1v1h-1zm-80 1h1v1h-1zm42 0h1v1h-1zm4 0h1v1h-1zm7 0h1v1h-1zm44 2h1v1h-1zm4 0h1v1h-1zm-78 1h1v1h-1zm73 0h1v1h-1zm-76 2h1v1h-1zm-12 2h1v1h-1zm32 1h1v1h-1zm37 4h1v1h-1zm2 0h1v1h-1zm-21 1h1v1h-1zm-55 1h1v1h-1zm1 0h1v1h-1zm85 0h1v1h-1zm-26 1h1v1h-1zm3 0h1v1h-1zm20 1h1v1h-1zm-87 1h1v1h-1zm76 0h1v1h-1zm5 0h1v1h-1zm13 0h1v1h-1zm-96 1h1v1h-1zm134 0h1v1h-1zm-103 1h1v1h-1zm17 0h1v1h-1zm1 0h1v1h-1zm6 0h1v1h-1zm26 0h1v1h-1zm-44 1h1v1h-1zm31 0h1v1h-1zm62 0h1v1h-1zm-24 1h1v1h-1z"/><path fill="#e6ab7d" d="M20 1h1v1h-1zm63 1h1v1h-1zm-38 1h1v1h-1zm77 3h1v1h-1zm-41 1h1v1h-1zm10 0h1v1h-1zm-57 1h1v1h-1zm14 3h1v1h-1zm32 0h1v1h-1zm-21 1h1v1h-1zm2 1h1v1h-1zm-40 2h1v1h-1zm39 0h1v1h-1zm1 0h1v1h-1zm55 0h1v1h-1zm9 1h1v1h-1zm-56 1h1v1h-1zm-3 2h1v1h-1zm-30 1h1v1h-1zm-18 1h1v1h-1zm-7 2h1v1h-1z"/><path fill="#e3a16d" d="M15 1h1v1h-1zm7 0h1v1h-1zm0 5h1v1h-1zm46 0h1v1h-1zm20 0h1v1h-1zm-45 1h1v1h-1zm90 0h1v1h-1zm-11 1h1v1h-1zm-13 4h1v1h-1zm-92 1h1v1h-1zm3 1h1v1h-1zm-18 1h1v1h-1zm44 0h1v1h-1zm16 1h1v1h-1zm71 0h1v1h-1zm-102 3h1v1h-1zm37 1h1v1h-1zm43 2h1v1h-1zm-106 1h1v1h-1zm29 0h1v1h-1z"/><path fill="#e0965d" d="M118 1h1v1h-1zm-92 5h1v1h-1zm30 0h1v1h-1zm-42 2h1v1h-1zm102 2h1v1h-1zm-30 1h1v1h-1zm20 2h1v1h-1zm4 1h1v1h-1zm-39 1h1v1h-1zm12 1h1v1h-1zm43 1h1v1h-1zm3 0h1v1h-1zm-24 1h1v1h-1zm-63 1h1v1h-1zm27 0h1v1h-1zm-2 2h1v1h-1zm-64 1h1v1h-1zm16 0h1v1h-1zm9 1h1v1h-1zm104 0h1v1h-1z"/><path fill="#dd8c4d" d="M4 8h1v1h-1zm92 0h1v1h-1zm-13 1h1v1h-1zm47 1h1v1h-1zm-121 1h1v1h-1zm123 3h1v1h-1zm-45 1h1v1h-1zm40 0h1v1h-1zm-18 3h1v1h-1zm-88 1h1v1h-1zm-21 1h1v1h-1zm28 1h1v1h-1zm52 1h1v1h-1zm-41 1h1v1h-1z"/><path fill="#d9813d" d="M88 0h1v1h-1zm-70 1h1v1h-1zm29 5h1v1h-1zm36 0h1v1h-1zm16 1h1v1h-1zm23 0h1v1h-1zm-66 1h1v1h-1zm8 1h1v1h-1zm40 0h1v1h-1zm9 1h1v1h-1zm-52 1h1v1h-1zm23 0h1v1h-1zm30 1h1v1h-1zm-20 2h1v1h-1zm-52 2h1v1h-1zm-29 1h1v1h-1zm68 2h1v1h-1zm24 1h1v1h-1zm16 1h1v1h-1zm-72 1h1v1h-1z"/><path fill="#d6772c" d="M20 0h1v1h-1zm61 1h1v1h-1zm51 1h1v1h-1zm-32 2h1v1h-1zm-80 3h1v1h-1zm94 4h1v1h-1zm-71 1h1v1h-1zm88 2h1v1h-1zm-79 1h1v1h-1zm12 0h1v1h-1zm19 0h1v1h-1zm15 1h1v1h-1zm-89 4h1v1h-1zm27 2h1v1h-1z"/><path fill="#d36c1c" d="M22 4h1v1h-1zm57 1h1v1h-1zm0 2h1v1h-1zm44 0h1v1h-1zm1 2h1v1h-1zm-6 7h1v1h-1zm-98 2h1v1h-1zm22 2h1v1h-1z"/><path fill="#d0620c" d="M86 0h1v1h-1zm48 11h1v1h-1zm-61 1h1v1h-1zm-66 7h1v1h-1zm75 2h1v1h-1zm-27 2h1v1h-1zm32 0h1v1h-1z"/><path fill="#c85e0c" d="M122 1h1v1h-1zm-66 9h1v1h-1zm73 3h1v1h-1z"/><path fill="#c15b0b" d="M91 2h1v1h-1zm41 1h1v1h-1zm-65 1h1v1h-1zm-23 2h1v1h-1zm12 1h1v1h-1zm10 0h1v1h-1zm21 0h1v1h-1zm-32 3h1v1h-1zm-7 5h1v1h-1zm26 3h1v1h-1zm50 2h1v1h-1zm-40 3h1v1h-1z"/><path fill="#b9570b" d="M123 5h1v1h-1zm-65 3h1v1h-1zm65 1h1v1h-1zm6 3h1v1h-1zm-8 6h1v1h-1z"/><path fill="#b1530b" d="M58 2h1v1h-1zm30 9h1v1h-1zm-66 2h1v1h-1zm92 1h1v1h-1zm16 1h1v1h-1zm3 8h1v1h-1z"/><path fill="#a9500a" d="M122 3h1v1h-1zm-13 7h1v1h-1zm4 1h1v1h-1zm-72 12h1v1h-1zm33 0h1v1h-1z"/><path fill="#a24c0a" d="M67 8h1v1h-1zm6 2h1v1h-1zm-26 4h1v1h-1z"/><path fill="#9a480a" d="M88 5h1v1h-1zm-56 10h1v1h-1zm-19 8h1v1h-1z"/><path fill="#924509" d="M132 1h1v1h-1zm-44 1h1v1h-1zm-82 7h1v1h-1zm46 0h1v1h-1zm59 11h1v1h-1z"/><path fill="#8a4109" d="M71 19h1v1h-1zm37 3h1v1h-1z"/><path fill="#833d09" d="M35 11h1v1h-1zm2 6h1v1h-1z"/><path fill="#7b3a08" d="M91 4h1v1h-1zm-3 10h1v1h-1zm39 2h1v1h-1zm-106 5h1v1h-1z"/><path fill="#733608" d="M134 14h1v1h-1zm-82 4h1v1h-1zm70 0h1v1h-1z"/><path fill="#6b3208" d="M13 15h1v1h-1zm78 0h1v1h-1zm-46 8h1v1h-1z"/><path fill="#642f07" d="M56 2h1v1h-1z"/><path fill="#5c2b07" d="M91 3h1v1h-1zm9 3h1v1h-1zm-9 2h1v1h-1zm-87 3h1v1h-1zm9 0h1v1h-1zm25 0h1v1h-1zm87 2h1v1h-1zm-17 8h1v1h-1zm-80 1h1v1h-1zm9 0h1v1h-1zm56 1h1v1h-1z"/></g>
<text x="1505.6" y="1328.1" font-size="21.0" text-anchor="start" fill="#000" >Hexanoylcarnitine (C6)</text>
<text x="1505.6" y="1349.1" font-size="21.0" text-anchor="start" fill="#000" >Tetradecenoylcarnitine (C14:1)</text>
<text x="1505.6" y="1370.2" font-size="21.0" text-anchor="start" fill="#000" >Octanoylcarnitine (C8)</text>
<text x="1505.6" y="1391.2" font-size="21.0" text-anchor="start" fill="#000" >Decadienoylcarnitine (C10:2)</text>
<text x="1505.6" y="1412.3" font-size="21.0" text-anchor="start" fill="#000" >Decanoylcarnitine (C10)</text>
<text x="1505.6" y="1433.3" font-size="21.0" text-anchor="start" fill="#000" >3−hydroxyoctanoylcarnitine (C8−OH)</text>
<text x="1505.6" y="1454.4" font-size="21.0" text-anchor="start" fill="#000" >Octenoylcarnitine (C8:1)</text>
<text x="1505.6" y="1475.4" font-size="21.0" text-anchor="start" fill="#000" >3−hydroxydecanoylcarnitine (C10−OH)</text>
<text x="1505.6" y="1496.5" font-size="21.0" text-anchor="start" fill="#000" >3−hydroxydodecanoylcarnitine (C12−OH)</text>
<text x="1505.6" y="1517.5" font-size="21.0" text-anchor="start" fill="#000" >Arabinosylhypoxanthine</text>
<text x="1505.6" y="1538.6" font-size="21.0" text-anchor="start" fill="#000" >Inosine</text>
<text x="1505.6" y="1559.6" font-size="21.0" text-anchor="start" fill="#000" >Kynurenine</text>
<text x="1505.6" y="1580.7" font-size="21.0" text-anchor="start" fill="#000" >Serotonin</text>
<text x="1505.6" y="1601.8" font-size="21.0" text-anchor="start" fill="#000" >Homo−L−arginine</text>
<text x="1505.6" y="1622.8" font-size="21.0" text-anchor="start" fill="#000" >3−Chlorotyrosine</text>
<text x="1505.6" y="1643.8" font-size="21.0" text-anchor="start" fill="#000" >Cyclohexaneacetic acid</text>
<text x="1505.6" y="1664.9" font-size="21.0" text-anchor="start" fill="#000" >Hippuric acid</text>
<text x="1505.6" y="1685.9" font-size="21.0" text-anchor="start" fill="#000" >Choline Sulfate</text>
<text x="1505.6" y="1707.0" font-size="21.0" text-anchor="start" fill="#000" >Trimethylamine N−oxide</text>
<text x="1505.6" y="1728.0" font-size="21.0" text-anchor="start" fill="#000" >1−Methylnicotinamide</text>
<text x="1505.6" y="1749.1" font-size="21.0" text-anchor="start" fill="#000" >Ecgonine</text>
<text x="1505.6" y="1770.1" font-size="21.0" text-anchor="start" fill="#000" >Docosahexaenoic acid (C22:6)</text>
<text x="1505.6" y="1791.2" font-size="21.0" text-anchor="start" fill="#000" >Ethyl 3−oxohexanoate</text>
<text x="1505.6" y="1812.2" font-size="21.0" text-anchor="start" fill="#000" >Eleostearic acid (C18:3)</text>
<defs><linearGradient id="cb" x1="0" x2="0" y1="1" y2="0"><stop offset="0.000" stop-color="#215463"/><stop offset="0.250" stop-color="#2d7f94"/><stop offset="0.500" stop-color="#ffffff"/><stop offset="0.750" stop-color="#d0620c"/><stop offset="1.000" stop-color="#5c2b07"/></linearGradient></defs>
<rect x="1928.8" y="1066" width="24.5" height="631.5" fill="url(#cb)"/>
<text x="1979.5" y="1178.6" font-size="20.8" text-anchor="start" fill="#000" >2</text>
<text x="1979.5" y="1389.3" font-size="20.8" text-anchor="start" fill="#000" >0</text>
<text x="1979.2" y="1599.6" font-size="20.8" text-anchor="start" fill="#000" >−2</text>
<text x="1930.2" y="1728.0" font-size="20.8" text-anchor="start" fill="#000" >Group</text>
<rect x="1932.4" y="1736" width="24.2" height="30.1" fill="#1F4681"/>
<rect x="1932.4" y="1766.1" width="24.2" height="30.1" fill="#B12A33"/>
<text x="1968.6" y="1757.7" font-size="20.8" text-anchor="start" fill="#000" >BN</text>
<text x="1968.6" y="1788.3" font-size="20.8" text-anchor="start" fill="#000" >LA</text>
</svg></body></html>
